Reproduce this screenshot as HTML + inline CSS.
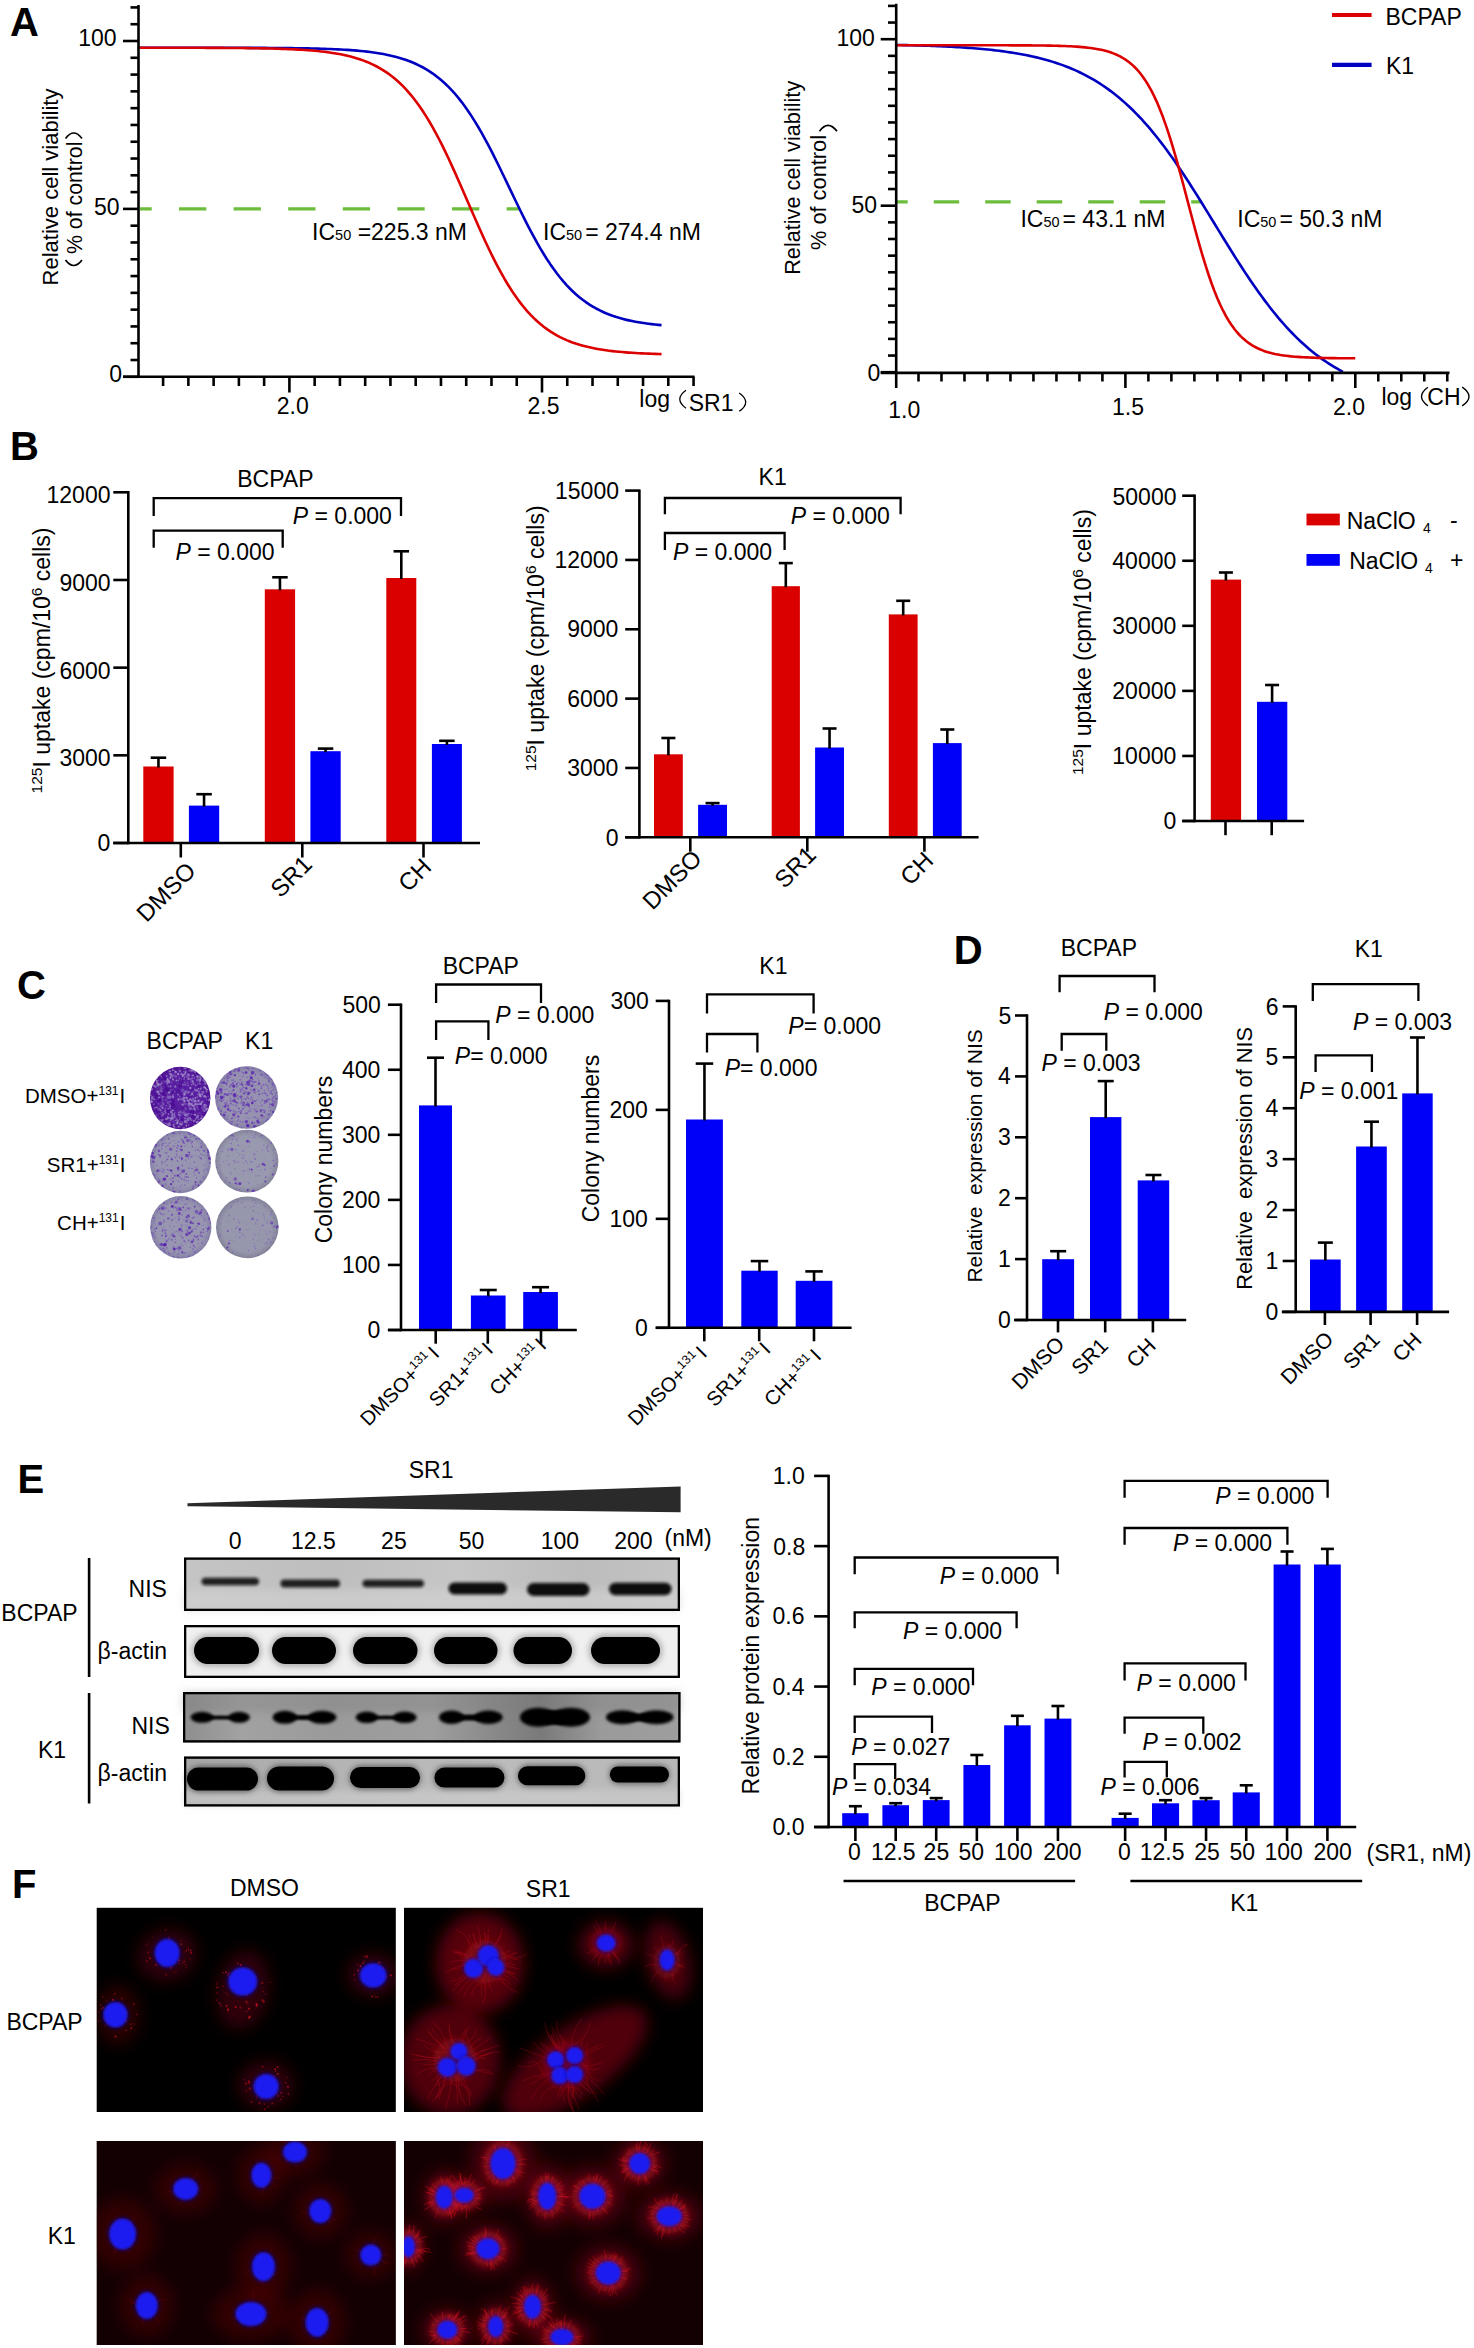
<!DOCTYPE html>
<html><head><meta charset="utf-8"><title>Figure</title>
<style>
html,body{margin:0;padding:0;background:#fff;}
body{width:1474px;height:2348px;overflow:hidden;}
svg{display:block;}
text{font-family:"Liberation Sans",sans-serif;fill:#000;white-space:pre;}
</style></head><body>
<svg width="1474" height="2348" viewBox="0 0 1474 2348" xml:space="preserve">
<rect x="0" y="0" width="1474" height="2348" fill="#fff"/>
<defs><clipPath id="pl1"><ellipse cx="180.2" cy="1098" rx="30.2" ry="31.2"/></clipPath><radialGradient id="rg1" cx="0.5" cy="0.5" r="0.5"><stop offset="0" stop-color="#5a1ea2"/><stop offset="0.8" stop-color="#5a1ea2"/><stop offset="1" stop-color="#4c1090"/></radialGradient><clipPath id="pl2"><ellipse cx="246.6" cy="1097.5" rx="31.5" ry="31.3"/></clipPath><radialGradient id="rg2" cx="0.5" cy="0.5" r="0.5"><stop offset="0" stop-color="#9692b0"/><stop offset="0.8" stop-color="#9692b0"/><stop offset="1" stop-color="#847ea6"/></radialGradient><clipPath id="pl3"><ellipse cx="180.4" cy="1162" rx="30.5" ry="31.2"/></clipPath><radialGradient id="rg3" cx="0.5" cy="0.5" r="0.5"><stop offset="0" stop-color="#9795b0"/><stop offset="0.8" stop-color="#9795b0"/><stop offset="1" stop-color="#8480a6"/></radialGradient><clipPath id="pl4"><ellipse cx="246.8" cy="1161.2" rx="31.6" ry="31.4"/></clipPath><radialGradient id="rg4" cx="0.5" cy="0.5" r="0.5"><stop offset="0" stop-color="#9898ae"/><stop offset="0.8" stop-color="#9898ae"/><stop offset="1" stop-color="#84849c"/></radialGradient><clipPath id="pl5"><ellipse cx="180.8" cy="1227.3" rx="30.6" ry="31.2"/></clipPath><radialGradient id="rg5" cx="0.5" cy="0.5" r="0.5"><stop offset="0" stop-color="#9795b0"/><stop offset="0.8" stop-color="#9795b0"/><stop offset="1" stop-color="#8480a6"/></radialGradient><clipPath id="pl6"><ellipse cx="247.3" cy="1227.3" rx="31.3" ry="30.9"/></clipPath><radialGradient id="rg6" cx="0.5" cy="0.5" r="0.5"><stop offset="0" stop-color="#9696ac"/><stop offset="0.8" stop-color="#9696ac"/><stop offset="1" stop-color="#828298"/></radialGradient><filter id="bl10" x="-30%" y="-80%" width="160%" height="260%"><feGaussianBlur stdDeviation="1.0"/></filter><filter id="bl12" x="-30%" y="-80%" width="160%" height="260%"><feGaussianBlur stdDeviation="1.2"/></filter><filter id="bl14" x="-30%" y="-80%" width="160%" height="260%"><feGaussianBlur stdDeviation="1.4"/></filter><filter id="bl15" x="-30%" y="-80%" width="160%" height="260%"><feGaussianBlur stdDeviation="1.5"/></filter><filter id="bl20" x="-30%" y="-80%" width="160%" height="260%"><feGaussianBlur stdDeviation="2.0"/></filter><filter id="bl25" x="-30%" y="-80%" width="160%" height="260%"><feGaussianBlur stdDeviation="2.5"/></filter><filter id="bl30" x="-30%" y="-80%" width="160%" height="260%"><feGaussianBlur stdDeviation="3.0"/></filter><filter id="bl40" x="-30%" y="-80%" width="160%" height="260%"><feGaussianBlur stdDeviation="4.0"/></filter><linearGradient id="g1841557" x1="0" y1="0" x2="1" y2="0"><stop offset="0" stop-color="#c4c4c4"/><stop offset="0.3" stop-color="#bebebe"/><stop offset="0.55" stop-color="#c6c6c6"/><stop offset="0.8" stop-color="#bcbcbc"/><stop offset="1" stop-color="#c4c4c4"/></linearGradient><linearGradient id="g1831692" x1="0" y1="0" x2="1" y2="0"><stop offset="0" stop-color="#8e8e8e"/><stop offset="0.12" stop-color="#a2a2a2"/><stop offset="0.3" stop-color="#9a9a9a"/><stop offset="0.5" stop-color="#9e9e9e"/><stop offset="0.62" stop-color="#8a8a8a"/><stop offset="0.72" stop-color="#7a7a7a"/><stop offset="0.84" stop-color="#9a9a9a"/><stop offset="1" stop-color="#9e9e9e"/></linearGradient><linearGradient id="g1841756" x1="0" y1="0" x2="1" y2="0"><stop offset="0" stop-color="#a8a8a8"/><stop offset="0.3" stop-color="#b4b4b4"/><stop offset="0.6" stop-color="#bcbcbc"/><stop offset="1" stop-color="#b8b8b8"/></linearGradient><filter id="bl80" x="-30%" y="-80%" width="160%" height="260%"><feGaussianBlur stdDeviation="8.0"/></filter><clipPath id="cl11"><rect x="96.7" y="1907.8" width="299.1" height="204.20000000000005"/></clipPath><clipPath id="cl12"><rect x="404" y="1907.8" width="299" height="204.20000000000005"/></clipPath><clipPath id="cl13"><rect x="96.7" y="2141" width="299.1" height="204"/></clipPath><clipPath id="cl14"><rect x="404" y="2141" width="299" height="204"/></clipPath></defs>
<text transform="translate(10.00,36.20)" style="font-size:40px;font-weight:bold">A</text>
<line x1="140.00" y1="208.80" x2="520.00" y2="208.80" stroke="#6cbd3c" stroke-width="3.2" stroke-dasharray="27.3 27.3" stroke-dashoffset="15.6"/>
<path d="M137.84,47.72 L141.11,47.72 L144.39,47.72 L147.66,47.72 L150.93,47.72 L154.21,47.72 L157.48,47.72 L160.75,47.72 L164.02,47.73 L167.30,47.73 L170.57,47.73 L173.84,47.73 L177.12,47.73 L180.39,47.73 L183.66,47.73 L186.94,47.73 L190.21,47.74 L193.48,47.74 L196.76,47.74 L200.03,47.74 L203.30,47.75 L206.57,47.75 L209.85,47.75 L213.12,47.76 L216.39,47.76 L219.67,47.77 L222.94,47.77 L226.21,47.78 L229.49,47.78 L232.76,47.79 L236.03,47.80 L239.30,47.80 L242.58,47.81 L245.85,47.82 L249.12,47.83 L252.40,47.85 L255.67,47.86 L258.94,47.87 L262.22,47.89 L265.49,47.91 L268.76,47.93 L272.04,47.95 L275.31,47.97 L278.58,48.00 L281.85,48.03 L285.13,48.06 L288.40,48.10 L291.67,48.14 L294.95,48.18 L298.22,48.23 L301.49,48.28 L304.77,48.34 L308.04,48.40 L311.31,48.47 L314.59,48.55 L317.86,48.63 L321.13,48.73 L324.40,48.83 L327.68,48.95 L330.95,49.07 L334.22,49.21 L337.50,49.36 L340.77,49.53 L344.04,49.71 L347.32,49.92 L350.59,50.14 L353.86,50.39 L357.14,50.66 L360.41,50.96 L363.68,51.29 L366.95,51.65 L370.23,52.05 L373.50,52.48 L376.77,52.96 L380.05,53.49 L383.32,54.07 L386.59,54.70 L389.87,55.40 L393.14,56.17 L396.41,57.01 L399.69,57.93 L402.96,58.93 L406.23,60.03 L409.50,61.24 L412.78,62.55 L416.05,63.98 L419.32,65.55 L422.60,67.25 L425.87,69.10 L429.14,71.11 L432.42,73.30 L435.69,75.66 L438.96,78.22 L442.23,80.98 L445.51,83.95 L448.78,87.15 L452.05,90.57 L455.33,94.24 L458.60,98.16 L461.87,102.33 L465.15,106.76 L468.42,111.44 L471.69,116.38 L474.97,121.57 L478.24,127.01 L481.51,132.68 L484.78,138.57 L488.06,144.67 L491.33,150.96 L494.60,157.41 L497.88,164.00 L501.15,170.70 L504.42,177.49 L507.70,184.32 L510.97,191.17 L514.24,198.00 L517.52,204.78 L520.79,211.49 L524.06,218.08 L527.33,224.54 L530.61,230.84 L533.88,236.95 L537.15,242.86 L540.43,248.54 L543.70,253.99 L546.97,259.19 L550.25,264.15 L553.52,268.84 L556.79,273.28 L560.07,277.46 L563.34,281.39 L566.61,285.07 L569.88,288.51 L573.16,291.72 L576.43,294.70 L579.70,297.47 L582.98,300.04 L586.25,302.41 L589.52,304.61 L592.80,306.63 L596.07,308.49 L599.34,310.20 L602.62,311.77 L605.89,313.21 L609.16,314.53 L612.43,315.74 L615.71,316.84 L618.98,317.85 L622.25,318.77 L625.53,319.62 L628.80,320.39 L632.07,321.09 L635.35,321.73 L638.62,322.31 L641.89,322.84 L645.16,323.32 L648.44,323.76 L651.71,324.16 L654.98,324.52 L658.26,324.85 L661.53,325.15" stroke="#0000c0" stroke-width="2.6" fill="none" stroke-linejoin="round"/>
<path d="M137.84,47.73 L141.11,47.73 L144.39,47.73 L147.66,47.74 L150.93,47.74 L154.21,47.74 L157.48,47.74 L160.75,47.75 L164.02,47.75 L167.30,47.75 L170.57,47.76 L173.84,47.76 L177.12,47.77 L180.39,47.77 L183.66,47.78 L186.94,47.78 L190.21,47.79 L193.48,47.80 L196.76,47.80 L200.03,47.81 L203.30,47.82 L206.57,47.84 L209.85,47.85 L213.12,47.86 L216.39,47.88 L219.67,47.89 L222.94,47.91 L226.21,47.93 L229.49,47.95 L232.76,47.98 L236.03,48.01 L239.30,48.04 L242.58,48.07 L245.85,48.11 L249.12,48.15 L252.40,48.19 L255.67,48.24 L258.94,48.29 L262.22,48.35 L265.49,48.42 L268.76,48.49 L272.04,48.57 L275.31,48.66 L278.58,48.76 L281.85,48.86 L285.13,48.98 L288.40,49.11 L291.67,49.25 L294.95,49.41 L298.22,49.59 L301.49,49.78 L304.77,49.99 L308.04,50.23 L311.31,50.48 L314.59,50.77 L317.86,51.08 L321.13,51.42 L324.40,51.80 L327.68,52.22 L330.95,52.68 L334.22,53.18 L337.50,53.73 L340.77,54.34 L344.04,55.01 L347.32,55.75 L350.59,56.55 L353.86,57.44 L357.14,58.41 L360.41,59.48 L363.68,60.64 L366.95,61.92 L370.23,63.31 L373.50,64.84 L376.77,66.50 L380.05,68.31 L383.32,70.29 L386.59,72.43 L389.87,74.77 L393.14,77.29 L396.41,80.03 L399.69,82.99 L402.96,86.19 L406.23,89.62 L409.50,93.32 L412.78,97.27 L416.05,101.50 L419.32,106.01 L422.60,110.81 L425.87,115.89 L429.14,121.25 L432.42,126.90 L435.69,132.82 L438.96,139.01 L442.23,145.45 L445.51,152.13 L448.78,159.02 L452.05,166.10 L455.33,173.34 L458.60,180.71 L461.87,188.18 L465.15,195.71 L468.42,203.27 L471.69,210.83 L474.97,218.33 L478.24,225.76 L481.51,233.06 L484.78,240.23 L488.06,247.21 L491.33,254.00 L494.60,260.55 L497.88,266.87 L501.15,272.92 L504.42,278.71 L507.70,284.21 L510.97,289.43 L514.24,294.37 L517.52,299.01 L520.79,303.38 L524.06,307.47 L527.33,311.29 L530.61,314.85 L533.88,318.16 L537.15,321.24 L540.43,324.08 L543.70,326.71 L546.97,329.14 L550.25,331.37 L553.52,333.43 L556.79,335.32 L560.07,337.06 L563.34,338.65 L566.61,340.10 L569.88,341.44 L573.16,342.66 L576.43,343.77 L579.70,344.78 L582.98,345.71 L586.25,346.56 L589.52,347.33 L592.80,348.03 L596.07,348.66 L599.34,349.24 L602.62,349.77 L605.89,350.25 L609.16,350.69 L612.43,351.09 L615.71,351.45 L618.98,351.77 L622.25,352.07 L625.53,352.34 L628.80,352.59 L632.07,352.81 L635.35,353.01 L638.62,353.19 L641.89,353.36 L645.16,353.51 L648.44,353.65 L651.71,353.77 L654.98,353.88 L658.26,353.98 L661.53,354.08" stroke="#dc0000" stroke-width="2.6" fill="none" stroke-linejoin="round"/>
<line x1="138.50" y1="5.00" x2="138.50" y2="378.10" stroke="#000" stroke-width="2.6" />
<line x1="123.00" y1="376.80" x2="694.50" y2="376.80" stroke="#000" stroke-width="2.6" />
<line x1="123.00" y1="376.80" x2="138.50" y2="376.80" stroke="#000" stroke-width="2.6" />
<line x1="130.50" y1="360.01" x2="138.50" y2="360.01" stroke="#000" stroke-width="2.6" />
<line x1="130.50" y1="343.22" x2="138.50" y2="343.22" stroke="#000" stroke-width="2.6" />
<line x1="130.50" y1="326.43" x2="138.50" y2="326.43" stroke="#000" stroke-width="2.6" />
<line x1="130.50" y1="309.64" x2="138.50" y2="309.64" stroke="#000" stroke-width="2.6" />
<line x1="130.50" y1="292.85" x2="138.50" y2="292.85" stroke="#000" stroke-width="2.6" />
<line x1="130.50" y1="276.06" x2="138.50" y2="276.06" stroke="#000" stroke-width="2.6" />
<line x1="130.50" y1="259.27" x2="138.50" y2="259.27" stroke="#000" stroke-width="2.6" />
<line x1="130.50" y1="242.48" x2="138.50" y2="242.48" stroke="#000" stroke-width="2.6" />
<line x1="130.50" y1="225.69" x2="138.50" y2="225.69" stroke="#000" stroke-width="2.6" />
<line x1="123.00" y1="208.90" x2="138.50" y2="208.90" stroke="#000" stroke-width="2.6" />
<line x1="130.50" y1="192.11" x2="138.50" y2="192.11" stroke="#000" stroke-width="2.6" />
<line x1="130.50" y1="175.32" x2="138.50" y2="175.32" stroke="#000" stroke-width="2.6" />
<line x1="130.50" y1="158.53" x2="138.50" y2="158.53" stroke="#000" stroke-width="2.6" />
<line x1="130.50" y1="141.74" x2="138.50" y2="141.74" stroke="#000" stroke-width="2.6" />
<line x1="130.50" y1="124.95" x2="138.50" y2="124.95" stroke="#000" stroke-width="2.6" />
<line x1="130.50" y1="108.16" x2="138.50" y2="108.16" stroke="#000" stroke-width="2.6" />
<line x1="130.50" y1="91.37" x2="138.50" y2="91.37" stroke="#000" stroke-width="2.6" />
<line x1="130.50" y1="74.58" x2="138.50" y2="74.58" stroke="#000" stroke-width="2.6" />
<line x1="130.50" y1="57.79" x2="138.50" y2="57.79" stroke="#000" stroke-width="2.6" />
<line x1="123.00" y1="41.00" x2="138.50" y2="41.00" stroke="#000" stroke-width="2.6" />
<line x1="130.50" y1="24.21" x2="138.50" y2="24.21" stroke="#000" stroke-width="2.6" />
<line x1="130.50" y1="7.42" x2="138.50" y2="7.42" stroke="#000" stroke-width="2.6" />
<line x1="163.10" y1="376.80" x2="163.10" y2="386.00" stroke="#000" stroke-width="2.6" />
<line x1="188.36" y1="376.80" x2="188.36" y2="386.00" stroke="#000" stroke-width="2.6" />
<line x1="213.62" y1="376.80" x2="213.62" y2="386.00" stroke="#000" stroke-width="2.6" />
<line x1="238.88" y1="376.80" x2="238.88" y2="386.00" stroke="#000" stroke-width="2.6" />
<line x1="264.14" y1="376.80" x2="264.14" y2="386.00" stroke="#000" stroke-width="2.6" />
<line x1="289.40" y1="376.80" x2="289.40" y2="392.50" stroke="#000" stroke-width="2.6" />
<line x1="314.66" y1="376.80" x2="314.66" y2="386.00" stroke="#000" stroke-width="2.6" />
<line x1="339.92" y1="376.80" x2="339.92" y2="386.00" stroke="#000" stroke-width="2.6" />
<line x1="365.18" y1="376.80" x2="365.18" y2="386.00" stroke="#000" stroke-width="2.6" />
<line x1="390.44" y1="376.80" x2="390.44" y2="386.00" stroke="#000" stroke-width="2.6" />
<line x1="415.70" y1="376.80" x2="415.70" y2="386.00" stroke="#000" stroke-width="2.6" />
<line x1="440.96" y1="376.80" x2="440.96" y2="386.00" stroke="#000" stroke-width="2.6" />
<line x1="466.22" y1="376.80" x2="466.22" y2="386.00" stroke="#000" stroke-width="2.6" />
<line x1="491.48" y1="376.80" x2="491.48" y2="386.00" stroke="#000" stroke-width="2.6" />
<line x1="516.74" y1="376.80" x2="516.74" y2="386.00" stroke="#000" stroke-width="2.6" />
<line x1="542.00" y1="376.80" x2="542.00" y2="392.50" stroke="#000" stroke-width="2.6" />
<line x1="567.26" y1="376.80" x2="567.26" y2="386.00" stroke="#000" stroke-width="2.6" />
<line x1="592.52" y1="376.80" x2="592.52" y2="386.00" stroke="#000" stroke-width="2.6" />
<line x1="617.78" y1="376.80" x2="617.78" y2="386.00" stroke="#000" stroke-width="2.6" />
<line x1="643.04" y1="376.80" x2="643.04" y2="386.00" stroke="#000" stroke-width="2.6" />
<line x1="668.30" y1="376.80" x2="668.30" y2="386.00" stroke="#000" stroke-width="2.6" />
<line x1="693.56" y1="376.80" x2="693.56" y2="386.00" stroke="#000" stroke-width="2.6" />
<text transform="translate(116.50,45.90)" style="font-size:23px" text-anchor="end">100</text>
<text transform="translate(119.60,214.50)" style="font-size:23px" text-anchor="end">50</text>
<text transform="translate(122.10,382.00)" style="font-size:23px" text-anchor="end">0</text>
<text transform="translate(292.80,413.50)" style="font-size:23px" text-anchor="middle">2.0</text>
<text transform="translate(543.50,413.50)" style="font-size:23px" text-anchor="middle">2.5</text>
<text transform="translate(639.30,407.40)" style="font-size:23px">log</text>
<path d="M686,390.3 Q673.6,399.2 686,408.2" stroke="#000" stroke-width="1.3" fill="none" />
<text transform="translate(688.70,411.00)" style="font-size:23px">SR1</text>
<path d="M739.2,393 Q752.2,402.2 739.2,411.3" stroke="#000" stroke-width="1.3" fill="none" />
<text transform="translate(312.10,239.80)" style="font-size:23px">IC<tspan style="font-size:14.5px">50</tspan> =225.3 nM</text>
<text transform="translate(543.00,239.80)" style="font-size:23px">IC<tspan style="font-size:14.5px">50</tspan><tspan dx="3">= 274.4 nM</tspan></text>
<text transform="translate(58.10,187.00) rotate(-90)" style="font-size:22px" text-anchor="middle">Relative cell viability</text>
<text transform="translate(81.60,197.80) rotate(-90)" style="font-size:21.3px" text-anchor="middle">% of control</text>
<path d="M65.5,260 Q73.7,271 82,260" stroke="#000" stroke-width="1.7" fill="none" />
<path d="M65.5,138.5 Q73.7,127.5 82,138.5" stroke="#000" stroke-width="1.7" fill="none" />
<line x1="896.00" y1="201.80" x2="1201.50" y2="201.80" stroke="#6cbd3c" stroke-width="3.2" stroke-dasharray="25.5 26" stroke-dashoffset="13.8"/>
<path d="M895.50,44.90 L898.30,44.96 L901.09,45.02 L903.89,45.08 L906.68,45.14 L909.48,45.21 L912.28,45.28 L915.07,45.36 L917.87,45.44 L920.67,45.52 L923.46,45.61 L926.26,45.71 L929.05,45.80 L931.85,45.91 L934.65,46.02 L937.44,46.13 L940.24,46.25 L943.03,46.38 L945.83,46.51 L948.63,46.65 L951.42,46.79 L954.22,46.95 L957.02,47.11 L959.81,47.28 L962.61,47.46 L965.40,47.65 L968.20,47.84 L971.00,48.05 L973.79,48.27 L976.59,48.50 L979.38,48.74 L982.18,48.99 L984.98,49.26 L987.77,49.54 L990.57,49.83 L993.37,50.14 L996.16,50.46 L998.96,50.80 L1001.75,51.16 L1004.55,51.54 L1007.35,51.93 L1010.14,52.34 L1012.94,52.78 L1015.73,53.23 L1018.53,53.71 L1021.33,54.21 L1024.12,54.74 L1026.92,55.29 L1029.72,55.87 L1032.51,56.48 L1035.31,57.11 L1038.10,57.78 L1040.90,58.48 L1043.70,59.21 L1046.49,59.98 L1049.29,60.78 L1052.08,61.62 L1054.88,62.50 L1057.68,63.42 L1060.47,64.39 L1063.27,65.40 L1066.07,66.45 L1068.86,67.56 L1071.66,68.71 L1074.45,69.91 L1077.25,71.17 L1080.05,72.49 L1082.84,73.86 L1085.64,75.29 L1088.43,76.78 L1091.23,78.34 L1094.03,79.96 L1096.82,81.64 L1099.62,83.40 L1102.42,85.23 L1105.21,87.13 L1108.01,89.11 L1110.80,91.16 L1113.60,93.29 L1116.40,95.50 L1119.19,97.79 L1121.99,100.17 L1124.79,102.63 L1127.58,105.17 L1130.38,107.81 L1133.17,110.53 L1135.97,113.34 L1138.77,116.23 L1141.56,119.22 L1144.36,122.30 L1147.15,125.46 L1149.95,128.72 L1152.75,132.06 L1155.54,135.50 L1158.34,139.01 L1161.14,142.62 L1163.93,146.30 L1166.73,150.07 L1169.52,153.92 L1172.32,157.85 L1175.12,161.85 L1177.91,165.91 L1180.71,170.05 L1183.50,174.25 L1186.30,178.51 L1189.10,182.82 L1191.89,187.18 L1194.69,191.59 L1197.49,196.04 L1200.28,200.52 L1203.08,205.04 L1205.87,209.57 L1208.67,214.13 L1211.47,218.70 L1214.26,223.27 L1217.06,227.85 L1219.85,232.41 L1222.65,236.97 L1225.45,241.51 L1228.24,246.03 L1231.04,250.52 L1233.84,254.97 L1236.63,259.39 L1239.43,263.76 L1242.22,268.08 L1245.02,272.35 L1247.82,276.56 L1250.61,280.71 L1253.41,284.79 L1256.20,288.80 L1259.00,292.74 L1261.80,296.60 L1264.59,300.39 L1267.39,304.09 L1270.19,307.71 L1272.98,311.24 L1275.78,314.69 L1278.57,318.05 L1281.37,321.32 L1284.17,324.50 L1286.96,327.59 L1289.76,330.60 L1292.55,333.51 L1295.35,336.33 L1298.15,339.07 L1300.94,341.72 L1303.74,344.28 L1306.54,346.75 L1309.33,349.14 L1312.13,351.45 L1314.92,353.68 L1317.72,355.82 L1320.52,357.89 L1323.31,359.88 L1326.11,361.79 L1328.90,363.63 L1331.70,365.40 L1334.50,367.10 L1337.29,368.73 L1340.09,370.30 L1342.89,371.80" stroke="#0000c0" stroke-width="2.6" fill="none" stroke-linejoin="round"/>
<path d="M895.50,45.27 L898.37,45.27 L901.25,45.27 L904.12,45.27 L907.00,45.27 L909.87,45.27 L912.74,45.27 L915.62,45.27 L918.49,45.27 L921.36,45.27 L924.24,45.27 L927.11,45.27 L929.99,45.27 L932.86,45.27 L935.73,45.27 L938.61,45.27 L941.48,45.27 L944.35,45.27 L947.23,45.27 L950.10,45.27 L952.98,45.27 L955.85,45.27 L958.72,45.28 L961.60,45.28 L964.47,45.28 L967.34,45.28 L970.22,45.28 L973.09,45.28 L975.97,45.28 L978.84,45.28 L981.71,45.28 L984.59,45.29 L987.46,45.29 L990.33,45.29 L993.21,45.29 L996.08,45.30 L998.96,45.30 L1001.83,45.31 L1004.70,45.31 L1007.58,45.32 L1010.45,45.33 L1013.32,45.33 L1016.20,45.34 L1019.07,45.36 L1021.94,45.37 L1024.82,45.38 L1027.69,45.40 L1030.57,45.42 L1033.44,45.44 L1036.31,45.47 L1039.19,45.50 L1042.06,45.53 L1044.93,45.57 L1047.81,45.61 L1050.68,45.66 L1053.56,45.72 L1056.43,45.79 L1059.30,45.87 L1062.18,45.96 L1065.05,46.06 L1067.92,46.18 L1070.80,46.32 L1073.67,46.47 L1076.55,46.65 L1079.42,46.86 L1082.29,47.10 L1085.17,47.37 L1088.04,47.68 L1090.91,48.04 L1093.79,48.45 L1096.66,48.92 L1099.54,49.46 L1102.41,50.08 L1105.28,50.80 L1108.16,51.61 L1111.03,52.54 L1113.90,53.60 L1116.78,54.81 L1119.65,56.20 L1122.53,57.77 L1125.40,59.56 L1128.27,61.60 L1131.15,63.90 L1134.02,66.51 L1136.89,69.46 L1139.77,72.77 L1142.64,76.49 L1145.52,80.64 L1148.39,85.28 L1151.26,90.42 L1154.14,96.10 L1157.01,102.34 L1159.88,109.17 L1162.76,116.58 L1165.63,124.57 L1168.51,133.14 L1171.38,142.25 L1174.25,151.86 L1177.13,161.90 L1180.00,172.31 L1182.88,183.00 L1185.75,193.87 L1188.62,204.81 L1191.50,215.73 L1194.37,226.51 L1197.24,237.06 L1200.12,247.28 L1202.99,257.09 L1205.87,266.44 L1208.74,275.25 L1211.61,283.51 L1214.49,291.19 L1217.36,298.28 L1220.23,304.79 L1223.11,310.72 L1225.98,316.11 L1228.86,320.97 L1231.73,325.34 L1234.60,329.25 L1237.48,332.75 L1240.35,335.85 L1243.22,338.61 L1246.10,341.05 L1248.97,343.21 L1251.85,345.10 L1254.72,346.78 L1257.59,348.24 L1260.47,349.53 L1263.34,350.66 L1266.21,351.65 L1269.09,352.51 L1271.96,353.27 L1274.84,353.93 L1277.71,354.50 L1280.58,355.01 L1283.46,355.44 L1286.33,355.83 L1289.20,356.16 L1292.08,356.45 L1294.95,356.70 L1297.83,356.92 L1300.70,357.11 L1303.57,357.28 L1306.45,357.42 L1309.32,357.55 L1312.19,357.66 L1315.07,357.76 L1317.94,357.84 L1320.82,357.91 L1323.69,357.97 L1326.56,358.03 L1329.44,358.08 L1332.31,358.12 L1335.18,358.15 L1338.06,358.19 L1340.93,358.21 L1343.81,358.24 L1346.68,358.26 L1349.55,358.27 L1352.43,358.29 L1355.30,358.30" stroke="#dc0000" stroke-width="2.6" fill="none" stroke-linejoin="round"/>
<line x1="896.20" y1="3.80" x2="896.20" y2="374.20" stroke="#000" stroke-width="2.6" />
<line x1="880.70" y1="372.90" x2="1449.50" y2="372.90" stroke="#000" stroke-width="2.6" />
<line x1="880.70" y1="372.20" x2="896.20" y2="372.20" stroke="#000" stroke-width="2.6" />
<line x1="888.00" y1="355.55" x2="896.20" y2="355.55" stroke="#000" stroke-width="2.6" />
<line x1="888.00" y1="338.90" x2="896.20" y2="338.90" stroke="#000" stroke-width="2.6" />
<line x1="888.00" y1="322.25" x2="896.20" y2="322.25" stroke="#000" stroke-width="2.6" />
<line x1="888.00" y1="305.60" x2="896.20" y2="305.60" stroke="#000" stroke-width="2.6" />
<line x1="888.00" y1="288.95" x2="896.20" y2="288.95" stroke="#000" stroke-width="2.6" />
<line x1="888.00" y1="272.30" x2="896.20" y2="272.30" stroke="#000" stroke-width="2.6" />
<line x1="888.00" y1="255.65" x2="896.20" y2="255.65" stroke="#000" stroke-width="2.6" />
<line x1="888.00" y1="239.00" x2="896.20" y2="239.00" stroke="#000" stroke-width="2.6" />
<line x1="888.00" y1="222.35" x2="896.20" y2="222.35" stroke="#000" stroke-width="2.6" />
<line x1="880.70" y1="205.70" x2="896.20" y2="205.70" stroke="#000" stroke-width="2.6" />
<line x1="888.00" y1="189.05" x2="896.20" y2="189.05" stroke="#000" stroke-width="2.6" />
<line x1="888.00" y1="172.40" x2="896.20" y2="172.40" stroke="#000" stroke-width="2.6" />
<line x1="888.00" y1="155.75" x2="896.20" y2="155.75" stroke="#000" stroke-width="2.6" />
<line x1="888.00" y1="139.10" x2="896.20" y2="139.10" stroke="#000" stroke-width="2.6" />
<line x1="888.00" y1="122.45" x2="896.20" y2="122.45" stroke="#000" stroke-width="2.6" />
<line x1="888.00" y1="105.80" x2="896.20" y2="105.80" stroke="#000" stroke-width="2.6" />
<line x1="888.00" y1="89.15" x2="896.20" y2="89.15" stroke="#000" stroke-width="2.6" />
<line x1="888.00" y1="72.50" x2="896.20" y2="72.50" stroke="#000" stroke-width="2.6" />
<line x1="888.00" y1="55.85" x2="896.20" y2="55.85" stroke="#000" stroke-width="2.6" />
<line x1="880.70" y1="39.20" x2="896.20" y2="39.20" stroke="#000" stroke-width="2.6" />
<line x1="888.00" y1="22.55" x2="896.20" y2="22.55" stroke="#000" stroke-width="2.6" />
<line x1="888.00" y1="5.90" x2="896.20" y2="5.90" stroke="#000" stroke-width="2.6" />
<line x1="918.49" y1="372.90" x2="918.49" y2="381.50" stroke="#000" stroke-width="2.6" />
<line x1="941.48" y1="372.90" x2="941.48" y2="381.50" stroke="#000" stroke-width="2.6" />
<line x1="964.47" y1="372.90" x2="964.47" y2="381.50" stroke="#000" stroke-width="2.6" />
<line x1="987.46" y1="372.90" x2="987.46" y2="381.50" stroke="#000" stroke-width="2.6" />
<line x1="1010.45" y1="372.90" x2="1010.45" y2="381.50" stroke="#000" stroke-width="2.6" />
<line x1="1033.44" y1="372.90" x2="1033.44" y2="381.50" stroke="#000" stroke-width="2.6" />
<line x1="1056.43" y1="372.90" x2="1056.43" y2="381.50" stroke="#000" stroke-width="2.6" />
<line x1="1079.42" y1="372.90" x2="1079.42" y2="381.50" stroke="#000" stroke-width="2.6" />
<line x1="1102.41" y1="372.90" x2="1102.41" y2="381.50" stroke="#000" stroke-width="2.6" />
<line x1="1125.40" y1="372.90" x2="1125.40" y2="388.00" stroke="#000" stroke-width="2.6" />
<line x1="1148.39" y1="372.90" x2="1148.39" y2="381.50" stroke="#000" stroke-width="2.6" />
<line x1="1171.38" y1="372.90" x2="1171.38" y2="381.50" stroke="#000" stroke-width="2.6" />
<line x1="1194.37" y1="372.90" x2="1194.37" y2="381.50" stroke="#000" stroke-width="2.6" />
<line x1="1217.36" y1="372.90" x2="1217.36" y2="381.50" stroke="#000" stroke-width="2.6" />
<line x1="1240.35" y1="372.90" x2="1240.35" y2="381.50" stroke="#000" stroke-width="2.6" />
<line x1="1263.34" y1="372.90" x2="1263.34" y2="381.50" stroke="#000" stroke-width="2.6" />
<line x1="1286.33" y1="372.90" x2="1286.33" y2="381.50" stroke="#000" stroke-width="2.6" />
<line x1="1309.32" y1="372.90" x2="1309.32" y2="381.50" stroke="#000" stroke-width="2.6" />
<line x1="1332.31" y1="372.90" x2="1332.31" y2="381.50" stroke="#000" stroke-width="2.6" />
<line x1="1355.30" y1="372.90" x2="1355.30" y2="388.00" stroke="#000" stroke-width="2.6" />
<line x1="1378.29" y1="372.90" x2="1378.29" y2="381.50" stroke="#000" stroke-width="2.6" />
<line x1="1401.28" y1="372.90" x2="1401.28" y2="381.50" stroke="#000" stroke-width="2.6" />
<line x1="1424.27" y1="372.90" x2="1424.27" y2="381.50" stroke="#000" stroke-width="2.6" />
<line x1="1447.26" y1="372.90" x2="1447.26" y2="381.50" stroke="#000" stroke-width="2.6" />
<line x1="896.20" y1="372.90" x2="896.20" y2="388.00" stroke="#000" stroke-width="2.6" />
<text transform="translate(874.80,45.80)" style="font-size:23px" text-anchor="end">100</text>
<text transform="translate(877.00,213.10)" style="font-size:23px" text-anchor="end">50</text>
<text transform="translate(880.30,380.90)" style="font-size:23px" text-anchor="end">0</text>
<text transform="translate(904.30,417.50)" style="font-size:23px" text-anchor="middle">1.0</text>
<text transform="translate(1128.00,414.90)" style="font-size:23px" text-anchor="middle">1.5</text>
<text transform="translate(1349.00,414.90)" style="font-size:23px" text-anchor="middle">2.0</text>
<text transform="translate(1381.40,405.20)" style="font-size:23px">log</text>
<path d="M1427.9,387.2 Q1415.1,396.5 1427.9,405.9" stroke="#000" stroke-width="1.4" fill="none" />
<text transform="translate(1427.30,404.60)" style="font-size:23px">CH</text>
<path d="M1462.2,387.2 Q1475.8,396.5 1462.2,405.9" stroke="#000" stroke-width="1.4" fill="none" />
<text transform="translate(1020.40,226.50)" style="font-size:23px">IC<tspan style="font-size:14.5px">50</tspan><tspan dx="3">= 43.1 nM</tspan></text>
<text transform="translate(1237.30,226.50)" style="font-size:23px">IC<tspan style="font-size:14.5px">50</tspan><tspan dx="3">= 50.3 nM</tspan></text>
<text transform="translate(800.40,177.80) rotate(-90)" style="font-size:21.7px" text-anchor="middle">Relative cell viability</text>
<text transform="translate(826.00,192.50) rotate(-90)" style="font-size:21.8px" text-anchor="middle">% of control</text>
<path d="M819.5,131.3 Q828,119.5 837,131.3" stroke="#000" stroke-width="1.7" fill="none" />
<line x1="1332.00" y1="15.00" x2="1371.60" y2="15.00" stroke="#dc0000" stroke-width="4.2" />
<line x1="1332.00" y1="64.80" x2="1371.60" y2="64.80" stroke="#0000c0" stroke-width="4.2" />
<text transform="translate(1385.50,25.40)" style="font-size:23px">BCPAP</text>
<text transform="translate(1386.00,74.40)" style="font-size:23px">K1</text>
<text transform="translate(9.90,460.00)" style="font-size:40px;font-weight:bold">B</text>
<rect x="143.30" y="766.50" width="30.30" height="76.50" fill="#da0000" />
<line x1="158.45" y1="767.50" x2="158.45" y2="757.70" stroke="#000" stroke-width="2.6" />
<line x1="150.70" y1="757.70" x2="166.20" y2="757.70" stroke="#000" stroke-width="2.6" />
<rect x="188.90" y="805.60" width="30.30" height="37.40" fill="#0000f8" />
<line x1="204.05" y1="806.60" x2="204.05" y2="794.20" stroke="#000" stroke-width="2.6" />
<line x1="196.30" y1="794.20" x2="211.80" y2="794.20" stroke="#000" stroke-width="2.6" />
<rect x="264.80" y="589.30" width="30.30" height="253.70" fill="#da0000" />
<line x1="279.95" y1="590.30" x2="279.95" y2="577.30" stroke="#000" stroke-width="2.6" />
<line x1="272.20" y1="577.30" x2="287.70" y2="577.30" stroke="#000" stroke-width="2.6" />
<rect x="310.40" y="751.20" width="30.30" height="91.80" fill="#0000f8" />
<line x1="325.55" y1="752.20" x2="325.55" y2="748.60" stroke="#000" stroke-width="2.6" />
<line x1="317.80" y1="748.60" x2="333.30" y2="748.60" stroke="#000" stroke-width="2.6" />
<rect x="386.30" y="578.00" width="30.00" height="265.00" fill="#da0000" />
<line x1="401.30" y1="579.00" x2="401.30" y2="551.30" stroke="#000" stroke-width="2.6" />
<line x1="393.55" y1="551.30" x2="409.05" y2="551.30" stroke="#000" stroke-width="2.6" />
<rect x="431.90" y="744.00" width="30.00" height="99.00" fill="#0000f8" />
<line x1="446.90" y1="745.00" x2="446.90" y2="740.80" stroke="#000" stroke-width="2.6" />
<line x1="439.15" y1="740.80" x2="454.65" y2="740.80" stroke="#000" stroke-width="2.6" />
<line x1="128.30" y1="491.10" x2="128.30" y2="844.20" stroke="#000" stroke-width="2.6" />
<line x1="113.30" y1="843.00" x2="128.30" y2="843.00" stroke="#000" stroke-width="2.6" />
<line x1="113.30" y1="755.33" x2="128.30" y2="755.33" stroke="#000" stroke-width="2.6" />
<line x1="113.30" y1="667.65" x2="128.30" y2="667.65" stroke="#000" stroke-width="2.6" />
<line x1="113.30" y1="579.98" x2="128.30" y2="579.98" stroke="#000" stroke-width="2.6" />
<line x1="113.30" y1="492.30" x2="128.30" y2="492.30" stroke="#000" stroke-width="2.6" />
<line x1="113.30" y1="843.00" x2="480.00" y2="843.00" stroke="#000" stroke-width="2.6" />
<line x1="180.80" y1="843.00" x2="180.80" y2="857.50" stroke="#000" stroke-width="2.6" />
<line x1="302.30" y1="843.00" x2="302.30" y2="857.50" stroke="#000" stroke-width="2.6" />
<line x1="423.50" y1="843.00" x2="423.50" y2="857.50" stroke="#000" stroke-width="2.6" />
<text transform="translate(110.50,503.10)" style="font-size:23px" text-anchor="end">12000</text>
<text transform="translate(110.60,591.38)" style="font-size:23px" text-anchor="end">9000</text>
<text transform="translate(110.60,678.65)" style="font-size:23px" text-anchor="end">6000</text>
<text transform="translate(110.60,766.33)" style="font-size:23px" text-anchor="end">3000</text>
<text transform="translate(110.30,851.00)" style="font-size:23px" text-anchor="end">0</text>
<text transform="translate(275.40,486.70)" style="font-size:23px" text-anchor="middle">BCPAP</text>
<path d="M153.70,516.00 L153.70,498.20 L401.00,498.20 L401.00,516.00" stroke="#000" stroke-width="2.3" fill="none" stroke-linejoin="miter"/>
<path d="M153.70,547.70 L153.70,530.70 L282.70,530.70 L282.70,547.70" stroke="#000" stroke-width="2.3" fill="none" stroke-linejoin="miter"/>
<text transform="translate(292.80,524.00)" style="font-size:23px"><tspan style="font-style:italic">P</tspan> = 0.000</text>
<text transform="translate(175.50,560.00)" style="font-size:23px"><tspan style="font-style:italic">P</tspan> = 0.000</text>
<text transform="translate(197.30,872.30) rotate(-45)" style="font-size:24px" text-anchor="end">DMSO</text>
<text transform="translate(313.40,865.80) rotate(-45)" style="font-size:24px" text-anchor="end">SR1</text>
<text transform="translate(432.80,868.50) rotate(-45)" style="font-size:24px" text-anchor="end">CH</text>
<text transform="translate(50.00,793.40) rotate(-90)" style="font-size:23px"><tspan style="font-size:15.5px" dy="-8.5">125</tspan><tspan dy="8.5">I uptake (cpm/10</tspan><tspan style="font-size:15.5px" dy="-8.5">6</tspan><tspan dy="8.5"> cells)</tspan></text>
<rect x="654.00" y="754.30" width="28.80" height="83.00" fill="#da0000" />
<line x1="668.40" y1="755.30" x2="668.40" y2="738.00" stroke="#000" stroke-width="2.6" />
<line x1="661.40" y1="738.00" x2="675.40" y2="738.00" stroke="#000" stroke-width="2.6" />
<rect x="698.10" y="804.80" width="28.90" height="32.50" fill="#0000f8" />
<line x1="712.55" y1="805.80" x2="712.55" y2="803.10" stroke="#000" stroke-width="2.6" />
<line x1="705.55" y1="803.10" x2="719.55" y2="803.10" stroke="#000" stroke-width="2.6" />
<rect x="771.70" y="586.20" width="28.20" height="251.10" fill="#da0000" />
<line x1="785.80" y1="587.20" x2="785.80" y2="563.10" stroke="#000" stroke-width="2.6" />
<line x1="778.80" y1="563.10" x2="792.80" y2="563.10" stroke="#000" stroke-width="2.6" />
<rect x="815.10" y="747.50" width="28.90" height="89.80" fill="#0000f8" />
<line x1="829.55" y1="748.50" x2="829.55" y2="728.50" stroke="#000" stroke-width="2.6" />
<line x1="822.55" y1="728.50" x2="836.55" y2="728.50" stroke="#000" stroke-width="2.6" />
<rect x="888.80" y="614.40" width="28.80" height="222.90" fill="#da0000" />
<line x1="903.20" y1="615.40" x2="903.20" y2="600.80" stroke="#000" stroke-width="2.6" />
<line x1="896.20" y1="600.80" x2="910.20" y2="600.80" stroke="#000" stroke-width="2.6" />
<rect x="932.90" y="743.10" width="28.80" height="94.20" fill="#0000f8" />
<line x1="947.30" y1="744.10" x2="947.30" y2="729.50" stroke="#000" stroke-width="2.6" />
<line x1="940.30" y1="729.50" x2="954.30" y2="729.50" stroke="#000" stroke-width="2.6" />
<line x1="639.40" y1="489.40" x2="639.40" y2="838.50" stroke="#000" stroke-width="2.6" />
<line x1="625.20" y1="837.30" x2="639.40" y2="837.30" stroke="#000" stroke-width="2.6" />
<line x1="625.20" y1="767.96" x2="639.40" y2="767.96" stroke="#000" stroke-width="2.6" />
<line x1="625.20" y1="698.62" x2="639.40" y2="698.62" stroke="#000" stroke-width="2.6" />
<line x1="625.20" y1="629.28" x2="639.40" y2="629.28" stroke="#000" stroke-width="2.6" />
<line x1="625.20" y1="559.94" x2="639.40" y2="559.94" stroke="#000" stroke-width="2.6" />
<line x1="625.20" y1="490.60" x2="639.40" y2="490.60" stroke="#000" stroke-width="2.6" />
<line x1="625.20" y1="837.30" x2="978.60" y2="837.30" stroke="#000" stroke-width="2.6" />
<line x1="690.30" y1="837.30" x2="690.30" y2="851.70" stroke="#000" stroke-width="2.6" />
<line x1="807.30" y1="837.30" x2="807.30" y2="851.70" stroke="#000" stroke-width="2.6" />
<line x1="924.40" y1="837.30" x2="924.40" y2="851.70" stroke="#000" stroke-width="2.6" />
<text transform="translate(618.50,846.10)" style="font-size:23px" text-anchor="end">0</text>
<text transform="translate(618.40,775.96)" style="font-size:23px" text-anchor="end">3000</text>
<text transform="translate(618.40,706.62)" style="font-size:23px" text-anchor="end">6000</text>
<text transform="translate(618.40,637.28)" style="font-size:23px" text-anchor="end">9000</text>
<text transform="translate(618.40,567.94)" style="font-size:23px" text-anchor="end">12000</text>
<text transform="translate(619.00,499.20)" style="font-size:23px" text-anchor="end">15000</text>
<text transform="translate(772.60,485.00)" style="font-size:23px" text-anchor="middle">K1</text>
<path d="M664.90,514.30 L664.90,498.00 L900.60,498.00 L900.60,514.30" stroke="#000" stroke-width="2.3" fill="none" stroke-linejoin="miter"/>
<path d="M664.90,550.00 L664.90,533.00 L784.60,533.00 L784.60,550.00" stroke="#000" stroke-width="2.3" fill="none" stroke-linejoin="miter"/>
<text transform="translate(790.80,523.50)" style="font-size:23px"><tspan style="font-style:italic">P</tspan> = 0.000</text>
<text transform="translate(673.00,560.00)" style="font-size:23px"><tspan style="font-style:italic">P</tspan> = 0.000</text>
<text transform="translate(703.30,860.00) rotate(-45)" style="font-size:24px" text-anchor="end">DMSO</text>
<text transform="translate(817.40,856.40) rotate(-45)" style="font-size:24px" text-anchor="end">SR1</text>
<text transform="translate(934.80,862.00) rotate(-45)" style="font-size:24px" text-anchor="end">CH</text>
<text transform="translate(544.00,771.30) rotate(-90)" style="font-size:23px"><tspan style="font-size:15.5px" dy="-8.5">125</tspan><tspan dy="8.5">I uptake (cpm/10</tspan><tspan style="font-size:15.5px" dy="-8.5">6</tspan><tspan dy="8.5"> cells)</tspan></text>
<rect x="1210.80" y="579.60" width="30.30" height="241.40" fill="#da0000" />
<line x1="1225.90" y1="580.60" x2="1225.90" y2="572.50" stroke="#000" stroke-width="2.6" />
<line x1="1218.90" y1="572.50" x2="1232.90" y2="572.50" stroke="#000" stroke-width="2.6" />
<rect x="1257.00" y="701.80" width="30.30" height="119.20" fill="#0000f8" />
<line x1="1272.10" y1="702.80" x2="1272.10" y2="685.00" stroke="#000" stroke-width="2.6" />
<line x1="1265.10" y1="685.00" x2="1279.10" y2="685.00" stroke="#000" stroke-width="2.6" />
<line x1="1194.60" y1="494.50" x2="1194.60" y2="822.20" stroke="#000" stroke-width="2.6" />
<line x1="1182.20" y1="821.00" x2="1194.60" y2="821.00" stroke="#000" stroke-width="2.6" />
<line x1="1182.20" y1="755.94" x2="1194.60" y2="755.94" stroke="#000" stroke-width="2.6" />
<line x1="1182.20" y1="690.88" x2="1194.60" y2="690.88" stroke="#000" stroke-width="2.6" />
<line x1="1182.20" y1="625.82" x2="1194.60" y2="625.82" stroke="#000" stroke-width="2.6" />
<line x1="1182.20" y1="560.76" x2="1194.60" y2="560.76" stroke="#000" stroke-width="2.6" />
<line x1="1182.20" y1="495.70" x2="1194.60" y2="495.70" stroke="#000" stroke-width="2.6" />
<line x1="1182.20" y1="821.00" x2="1304.10" y2="821.00" stroke="#000" stroke-width="2.6" />
<line x1="1225.50" y1="821.00" x2="1225.50" y2="835.20" stroke="#000" stroke-width="2.6" />
<line x1="1271.70" y1="821.00" x2="1271.70" y2="835.20" stroke="#000" stroke-width="2.6" />
<text transform="translate(1176.30,829.00)" style="font-size:23px" text-anchor="end">0</text>
<text transform="translate(1176.30,763.94)" style="font-size:23px" text-anchor="end">10000</text>
<text transform="translate(1176.30,698.88)" style="font-size:23px" text-anchor="end">20000</text>
<text transform="translate(1176.30,633.82)" style="font-size:23px" text-anchor="end">30000</text>
<text transform="translate(1176.30,568.76)" style="font-size:23px" text-anchor="end">40000</text>
<text transform="translate(1176.50,504.90)" style="font-size:23px" text-anchor="end">50000</text>
<text transform="translate(1091.00,775.00) rotate(-90)" style="font-size:23px"><tspan style="font-size:15.5px" dy="-8.5">125</tspan><tspan dy="8.5">I uptake (cpm/10</tspan><tspan style="font-size:15.5px" dy="-8.5">6</tspan><tspan dy="8.5"> cells)</tspan></text>
<rect x="1306.50" y="513.60" width="33.30" height="11.80" fill="#da0000" />
<rect x="1306.50" y="554.00" width="33.30" height="11.80" fill="#0000f8" />
<text transform="translate(1346.70,529.20)" style="font-size:23px">NaClO</text>
<text transform="translate(1423.00,533.40)" style="font-size:14px">4</text>
<text transform="translate(1450.00,528.40)" style="font-size:23px">-</text>
<text transform="translate(1349.20,569.00)" style="font-size:23px">NaClO</text>
<text transform="translate(1425.00,573.00)" style="font-size:14px">4</text>
<text transform="translate(1450.00,568.00)" style="font-size:23px">+</text>
<text transform="translate(17.00,998.90)" style="font-size:40px;font-weight:bold">C</text>
<text transform="translate(146.60,1048.70)" style="font-size:23px">BCPAP</text>
<text transform="translate(245.10,1048.70)" style="font-size:23px">K1</text>
<text transform="translate(125.20,1103.10)" style="font-size:20.5px" text-anchor="end">DMSO+<tspan style="font-size:12px" dy="-8">131</tspan><tspan dy="8" dx="1">I</tspan></text>
<text transform="translate(125.40,1171.70)" style="font-size:20.5px" text-anchor="end">SR1+<tspan style="font-size:12px" dy="-8">131</tspan><tspan dy="8" dx="1">I</tspan></text>
<text transform="translate(125.40,1229.60)" style="font-size:20.5px" text-anchor="end">CH+<tspan style="font-size:12px" dy="-8">131</tspan><tspan dy="8" dx="1">I</tspan></text>
<ellipse cx="180.2" cy="1098" rx="30.2" ry="31.2" fill="url(#rg1)"/>
<g clip-path="url(#pl1)">
<circle cx="198.7" cy="1119.5" r="1.11" fill="#a898cc" fill-opacity="0.53"/>
<circle cx="160.0" cy="1098.6" r="1.02" fill="#a898cc" fill-opacity="0.76"/>
<circle cx="184.4" cy="1100.9" r="1.17" fill="#a898cc" fill-opacity="0.61"/>
<circle cx="180.3" cy="1096.6" r="0.86" fill="#a898cc" fill-opacity="0.73"/>
<circle cx="184.1" cy="1128.1" r="1.22" fill="#a898cc" fill-opacity="0.44"/>
<circle cx="202.1" cy="1101.7" r="1.25" fill="#a898cc" fill-opacity="0.59"/>
<circle cx="184.3" cy="1117.8" r="0.52" fill="#a898cc" fill-opacity="0.52"/>
<circle cx="160.5" cy="1106.4" r="0.69" fill="#a898cc" fill-opacity="0.52"/>
<circle cx="184.2" cy="1118.7" r="0.73" fill="#a898cc" fill-opacity="0.43"/>
<circle cx="192.0" cy="1078.2" r="1.01" fill="#a898cc" fill-opacity="0.50"/>
<circle cx="208.2" cy="1096.6" r="0.60" fill="#a898cc" fill-opacity="0.57"/>
<circle cx="175.7" cy="1072.1" r="1.25" fill="#a898cc" fill-opacity="0.60"/>
<circle cx="192.1" cy="1075.6" r="0.74" fill="#a898cc" fill-opacity="0.67"/>
<circle cx="200.7" cy="1078.7" r="0.90" fill="#a898cc" fill-opacity="0.68"/>
<circle cx="194.7" cy="1101.3" r="1.14" fill="#a898cc" fill-opacity="0.60"/>
<circle cx="190.6" cy="1118.5" r="1.06" fill="#a898cc" fill-opacity="0.71"/>
<circle cx="166.1" cy="1112.6" r="0.91" fill="#a898cc" fill-opacity="0.76"/>
<circle cx="161.4" cy="1095.4" r="0.89" fill="#a898cc" fill-opacity="0.44"/>
<circle cx="204.6" cy="1105.1" r="1.29" fill="#a898cc" fill-opacity="0.68"/>
<circle cx="170.4" cy="1106.0" r="0.90" fill="#a898cc" fill-opacity="0.84"/>
<circle cx="183.1" cy="1075.3" r="1.19" fill="#a898cc" fill-opacity="0.52"/>
<circle cx="150.8" cy="1095.4" r="0.96" fill="#a898cc" fill-opacity="0.62"/>
<circle cx="177.5" cy="1120.9" r="1.27" fill="#a898cc" fill-opacity="0.43"/>
<circle cx="185.9" cy="1070.4" r="1.21" fill="#a898cc" fill-opacity="0.74"/>
<circle cx="188.1" cy="1077.1" r="0.95" fill="#a898cc" fill-opacity="0.61"/>
<circle cx="206.6" cy="1108.1" r="0.96" fill="#a898cc" fill-opacity="0.51"/>
<circle cx="159.2" cy="1097.4" r="0.79" fill="#a898cc" fill-opacity="0.57"/>
<circle cx="157.0" cy="1092.1" r="0.99" fill="#a898cc" fill-opacity="0.62"/>
<circle cx="194.4" cy="1100.6" r="0.64" fill="#a898cc" fill-opacity="0.67"/>
<circle cx="197.5" cy="1076.6" r="1.14" fill="#a898cc" fill-opacity="0.77"/>
<circle cx="179.3" cy="1126.6" r="1.04" fill="#a898cc" fill-opacity="0.46"/>
<circle cx="183.8" cy="1098.4" r="1.10" fill="#a898cc" fill-opacity="0.53"/>
<circle cx="198.6" cy="1113.7" r="0.78" fill="#a898cc" fill-opacity="0.45"/>
<circle cx="192.0" cy="1117.1" r="0.63" fill="#a898cc" fill-opacity="0.54"/>
<circle cx="175.3" cy="1077.6" r="0.76" fill="#a898cc" fill-opacity="0.63"/>
<circle cx="198.8" cy="1100.9" r="0.84" fill="#a898cc" fill-opacity="0.50"/>
<circle cx="202.4" cy="1116.7" r="0.91" fill="#a898cc" fill-opacity="0.51"/>
<circle cx="158.7" cy="1080.6" r="0.52" fill="#a898cc" fill-opacity="0.43"/>
<circle cx="195.7" cy="1119.0" r="0.63" fill="#a898cc" fill-opacity="0.72"/>
<circle cx="170.5" cy="1077.3" r="0.68" fill="#a898cc" fill-opacity="0.84"/>
<circle cx="186.6" cy="1076.6" r="0.68" fill="#a898cc" fill-opacity="0.70"/>
<circle cx="162.1" cy="1112.5" r="0.76" fill="#a898cc" fill-opacity="0.69"/>
<circle cx="195.6" cy="1104.2" r="1.27" fill="#a898cc" fill-opacity="0.80"/>
<circle cx="170.5" cy="1125.1" r="0.75" fill="#a898cc" fill-opacity="0.82"/>
<circle cx="179.4" cy="1077.9" r="0.70" fill="#a898cc" fill-opacity="0.43"/>
<circle cx="184.5" cy="1093.8" r="1.16" fill="#a898cc" fill-opacity="0.83"/>
<circle cx="168.9" cy="1092.5" r="1.19" fill="#a898cc" fill-opacity="0.84"/>
<circle cx="174.1" cy="1076.7" r="0.80" fill="#a898cc" fill-opacity="0.57"/>
<circle cx="187.0" cy="1122.6" r="0.85" fill="#a898cc" fill-opacity="0.51"/>
<circle cx="199.7" cy="1113.5" r="0.74" fill="#a898cc" fill-opacity="0.64"/>
<circle cx="167.3" cy="1123.9" r="1.22" fill="#a898cc" fill-opacity="0.43"/>
<circle cx="185.5" cy="1115.0" r="1.29" fill="#a898cc" fill-opacity="0.76"/>
<circle cx="172.8" cy="1110.2" r="1.04" fill="#a898cc" fill-opacity="0.78"/>
<circle cx="196.3" cy="1090.4" r="1.21" fill="#a898cc" fill-opacity="0.72"/>
<circle cx="150.4" cy="1101.0" r="0.69" fill="#a898cc" fill-opacity="0.73"/>
<circle cx="190.9" cy="1104.5" r="1.23" fill="#a898cc" fill-opacity="0.52"/>
<circle cx="181.5" cy="1073.9" r="1.17" fill="#a898cc" fill-opacity="0.58"/>
<circle cx="171.4" cy="1112.2" r="1.19" fill="#a898cc" fill-opacity="0.68"/>
<circle cx="207.5" cy="1089.7" r="0.61" fill="#a898cc" fill-opacity="0.66"/>
<circle cx="184.9" cy="1101.8" r="0.56" fill="#a898cc" fill-opacity="0.79"/>
<circle cx="186.7" cy="1070.4" r="0.77" fill="#a898cc" fill-opacity="0.69"/>
<circle cx="183.9" cy="1079.2" r="0.96" fill="#a898cc" fill-opacity="0.52"/>
<circle cx="193.8" cy="1105.9" r="1.21" fill="#a898cc" fill-opacity="0.66"/>
<circle cx="198.4" cy="1088.4" r="0.72" fill="#a898cc" fill-opacity="0.76"/>
<circle cx="181.8" cy="1094.9" r="1.04" fill="#a898cc" fill-opacity="0.46"/>
<circle cx="201.5" cy="1117.4" r="0.53" fill="#a898cc" fill-opacity="0.53"/>
<circle cx="199.7" cy="1096.5" r="0.59" fill="#a898cc" fill-opacity="0.50"/>
<circle cx="181.6" cy="1124.9" r="0.58" fill="#a898cc" fill-opacity="0.81"/>
<circle cx="158.7" cy="1119.3" r="1.23" fill="#a898cc" fill-opacity="0.55"/>
<circle cx="179.8" cy="1119.5" r="0.58" fill="#a898cc" fill-opacity="0.70"/>
<circle cx="183.2" cy="1098.8" r="1.29" fill="#a898cc" fill-opacity="0.55"/>
<circle cx="163.6" cy="1086.1" r="0.75" fill="#a898cc" fill-opacity="0.45"/>
<circle cx="205.6" cy="1082.1" r="1.28" fill="#a898cc" fill-opacity="0.47"/>
<circle cx="185.4" cy="1121.9" r="1.28" fill="#a898cc" fill-opacity="0.66"/>
<circle cx="170.9" cy="1074.5" r="0.71" fill="#a898cc" fill-opacity="0.66"/>
<circle cx="174.9" cy="1112.5" r="0.57" fill="#a898cc" fill-opacity="0.54"/>
<circle cx="200.3" cy="1095.8" r="1.02" fill="#a898cc" fill-opacity="0.70"/>
<circle cx="197.8" cy="1090.9" r="0.75" fill="#a898cc" fill-opacity="0.56"/>
<circle cx="168.9" cy="1124.2" r="1.21" fill="#a898cc" fill-opacity="0.55"/>
<circle cx="168.9" cy="1117.9" r="0.96" fill="#a898cc" fill-opacity="0.68"/>
<circle cx="180.3" cy="1102.5" r="0.70" fill="#a898cc" fill-opacity="0.46"/>
<circle cx="172.6" cy="1095.4" r="0.56" fill="#a898cc" fill-opacity="0.70"/>
<circle cx="173.4" cy="1124.9" r="0.89" fill="#a898cc" fill-opacity="0.79"/>
<circle cx="192.3" cy="1116.2" r="1.14" fill="#a898cc" fill-opacity="0.46"/>
<circle cx="192.1" cy="1093.9" r="1.12" fill="#a898cc" fill-opacity="0.84"/>
<circle cx="187.6" cy="1082.1" r="0.59" fill="#a898cc" fill-opacity="0.64"/>
<circle cx="194.5" cy="1089.8" r="1.22" fill="#a898cc" fill-opacity="0.49"/>
<circle cx="184.8" cy="1095.0" r="0.75" fill="#a898cc" fill-opacity="0.81"/>
<circle cx="189.7" cy="1070.0" r="1.17" fill="#a898cc" fill-opacity="0.74"/>
<circle cx="175.5" cy="1085.8" r="0.85" fill="#a898cc" fill-opacity="0.49"/>
<circle cx="174.8" cy="1073.1" r="0.70" fill="#a898cc" fill-opacity="0.45"/>
<circle cx="206.6" cy="1091.6" r="0.94" fill="#a898cc" fill-opacity="0.66"/>
<circle cx="192.3" cy="1081.1" r="0.82" fill="#a898cc" fill-opacity="0.57"/>
<circle cx="180.0" cy="1102.9" r="1.02" fill="#a898cc" fill-opacity="0.60"/>
<circle cx="173.4" cy="1094.7" r="0.78" fill="#a898cc" fill-opacity="0.48"/>
<circle cx="191.1" cy="1109.2" r="1.16" fill="#a898cc" fill-opacity="0.59"/>
<circle cx="161.0" cy="1112.2" r="0.69" fill="#a898cc" fill-opacity="0.43"/>
<circle cx="159.2" cy="1094.0" r="1.02" fill="#a898cc" fill-opacity="0.61"/>
<circle cx="170.2" cy="1073.4" r="0.69" fill="#a898cc" fill-opacity="0.64"/>
<circle cx="166.0" cy="1100.0" r="0.83" fill="#a898cc" fill-opacity="0.66"/>
<circle cx="204.3" cy="1081.5" r="0.72" fill="#a898cc" fill-opacity="0.70"/>
<circle cx="187.9" cy="1100.5" r="0.91" fill="#a898cc" fill-opacity="0.80"/>
<circle cx="194.4" cy="1121.0" r="1.21" fill="#a898cc" fill-opacity="0.56"/>
<circle cx="170.4" cy="1071.1" r="0.80" fill="#a898cc" fill-opacity="0.72"/>
<circle cx="178.2" cy="1074.0" r="1.19" fill="#a898cc" fill-opacity="0.81"/>
<circle cx="202.3" cy="1092.1" r="0.64" fill="#a898cc" fill-opacity="0.53"/>
<circle cx="184.8" cy="1121.1" r="1.11" fill="#a898cc" fill-opacity="0.45"/>
<circle cx="169.5" cy="1074.0" r="0.78" fill="#a898cc" fill-opacity="0.64"/>
<circle cx="193.4" cy="1120.9" r="0.53" fill="#a898cc" fill-opacity="0.84"/>
<circle cx="188.7" cy="1074.9" r="0.71" fill="#a898cc" fill-opacity="0.81"/>
<circle cx="191.1" cy="1095.1" r="1.12" fill="#a898cc" fill-opacity="0.78"/>
<circle cx="166.6" cy="1076.0" r="0.86" fill="#a898cc" fill-opacity="0.82"/>
<circle cx="198.6" cy="1094.5" r="1.14" fill="#a898cc" fill-opacity="0.61"/>
<circle cx="189.0" cy="1113.3" r="0.60" fill="#a898cc" fill-opacity="0.81"/>
<circle cx="190.3" cy="1095.3" r="0.98" fill="#a898cc" fill-opacity="0.60"/>
<circle cx="192.3" cy="1109.5" r="0.70" fill="#a898cc" fill-opacity="0.74"/>
<circle cx="193.4" cy="1098.3" r="0.85" fill="#a898cc" fill-opacity="0.43"/>
<circle cx="163.8" cy="1080.6" r="1.17" fill="#a898cc" fill-opacity="0.51"/>
<circle cx="175.4" cy="1120.4" r="0.72" fill="#a898cc" fill-opacity="0.67"/>
<circle cx="180.1" cy="1123.8" r="1.13" fill="#a898cc" fill-opacity="0.77"/>
<circle cx="202.2" cy="1094.2" r="0.89" fill="#a898cc" fill-opacity="0.79"/>
<circle cx="182.9" cy="1074.6" r="0.81" fill="#a898cc" fill-opacity="0.55"/>
<circle cx="201.3" cy="1115.6" r="0.59" fill="#a898cc" fill-opacity="0.74"/>
<circle cx="151.7" cy="1089.4" r="1.11" fill="#a898cc" fill-opacity="0.84"/>
<circle cx="194.2" cy="1114.7" r="0.96" fill="#a898cc" fill-opacity="0.56"/>
<circle cx="162.2" cy="1097.6" r="0.92" fill="#a898cc" fill-opacity="0.43"/>
<circle cx="161.3" cy="1105.4" r="0.74" fill="#a898cc" fill-opacity="0.59"/>
<circle cx="185.4" cy="1072.8" r="0.89" fill="#a898cc" fill-opacity="0.70"/>
<circle cx="170.4" cy="1107.8" r="0.50" fill="#a898cc" fill-opacity="0.54"/>
<circle cx="157.1" cy="1081.1" r="1.16" fill="#a898cc" fill-opacity="0.64"/>
<circle cx="200.6" cy="1096.3" r="1.17" fill="#a898cc" fill-opacity="0.60"/>
<circle cx="179.2" cy="1067.0" r="0.74" fill="#a898cc" fill-opacity="0.50"/>
<circle cx="164.2" cy="1082.4" r="0.79" fill="#a898cc" fill-opacity="0.43"/>
<circle cx="165.1" cy="1111.1" r="0.82" fill="#a898cc" fill-opacity="0.79"/>
<circle cx="157.9" cy="1084.5" r="1.22" fill="#a898cc" fill-opacity="0.74"/>
<circle cx="154.1" cy="1099.2" r="1.01" fill="#a898cc" fill-opacity="0.70"/>
<circle cx="167.0" cy="1083.5" r="1.00" fill="#a898cc" fill-opacity="0.69"/>
<circle cx="204.9" cy="1087.4" r="1.18" fill="#a898cc" fill-opacity="0.75"/>
<circle cx="189.6" cy="1075.7" r="0.78" fill="#a898cc" fill-opacity="0.54"/>
<circle cx="172.8" cy="1069.8" r="0.94" fill="#a898cc" fill-opacity="0.49"/>
<circle cx="190.7" cy="1079.2" r="0.87" fill="#a898cc" fill-opacity="0.44"/>
<circle cx="154.2" cy="1096.3" r="0.84" fill="#a898cc" fill-opacity="0.58"/>
<circle cx="177.9" cy="1094.3" r="0.91" fill="#a898cc" fill-opacity="0.83"/>
<circle cx="173.2" cy="1079.6" r="1.05" fill="#a898cc" fill-opacity="0.68"/>
<circle cx="183.7" cy="1111.7" r="1.21" fill="#a898cc" fill-opacity="0.54"/>
<circle cx="204.7" cy="1110.9" r="0.92" fill="#a898cc" fill-opacity="0.58"/>
<circle cx="154.3" cy="1096.1" r="0.63" fill="#a898cc" fill-opacity="0.70"/>
<circle cx="174.0" cy="1070.6" r="0.72" fill="#a898cc" fill-opacity="0.68"/>
<circle cx="182.7" cy="1121.2" r="0.64" fill="#a898cc" fill-opacity="0.76"/>
<circle cx="191.8" cy="1084.7" r="0.68" fill="#a898cc" fill-opacity="0.83"/>
<circle cx="172.7" cy="1070.4" r="0.52" fill="#a898cc" fill-opacity="0.81"/>
<circle cx="168.0" cy="1085.8" r="0.85" fill="#a898cc" fill-opacity="0.75"/>
<circle cx="183.1" cy="1084.7" r="1.00" fill="#a898cc" fill-opacity="0.50"/>
<circle cx="200.0" cy="1094.5" r="1.23" fill="#a898cc" fill-opacity="0.73"/>
<circle cx="168.1" cy="1088.1" r="0.92" fill="#a898cc" fill-opacity="0.48"/>
<circle cx="196.7" cy="1118.1" r="0.79" fill="#a898cc" fill-opacity="0.74"/>
<circle cx="181.7" cy="1124.4" r="1.07" fill="#a898cc" fill-opacity="0.55"/>
<circle cx="195.1" cy="1110.2" r="0.89" fill="#a898cc" fill-opacity="0.47"/>
<circle cx="182.9" cy="1104.8" r="0.98" fill="#a898cc" fill-opacity="0.80"/>
<circle cx="181.4" cy="1103.7" r="1.06" fill="#a898cc" fill-opacity="0.77"/>
<circle cx="203.2" cy="1092.5" r="0.77" fill="#a898cc" fill-opacity="0.78"/>
<circle cx="198.7" cy="1115.5" r="0.58" fill="#a898cc" fill-opacity="0.59"/>
<circle cx="161.6" cy="1098.6" r="0.63" fill="#a898cc" fill-opacity="0.52"/>
<circle cx="189.0" cy="1078.8" r="0.96" fill="#a898cc" fill-opacity="0.52"/>
<circle cx="176.4" cy="1080.5" r="0.97" fill="#a898cc" fill-opacity="0.81"/>
<circle cx="186.7" cy="1097.8" r="1.14" fill="#a898cc" fill-opacity="0.79"/>
<circle cx="172.3" cy="1115.5" r="0.96" fill="#a898cc" fill-opacity="0.82"/>
<circle cx="157.3" cy="1115.2" r="1.11" fill="#a898cc" fill-opacity="0.49"/>
<circle cx="183.4" cy="1096.0" r="0.62" fill="#a898cc" fill-opacity="0.71"/>
<circle cx="197.6" cy="1104.8" r="0.60" fill="#a898cc" fill-opacity="0.62"/>
<circle cx="195.6" cy="1072.9" r="0.53" fill="#a898cc" fill-opacity="0.45"/>
<circle cx="183.6" cy="1092.6" r="0.72" fill="#a898cc" fill-opacity="0.47"/>
<circle cx="184.4" cy="1100.8" r="1.01" fill="#a898cc" fill-opacity="0.74"/>
<circle cx="169.5" cy="1071.5" r="1.03" fill="#a898cc" fill-opacity="0.59"/>
<circle cx="160.0" cy="1075.5" r="1.01" fill="#a898cc" fill-opacity="0.53"/>
<circle cx="207.3" cy="1109.1" r="0.97" fill="#a898cc" fill-opacity="0.57"/>
<circle cx="162.4" cy="1083.6" r="0.92" fill="#a898cc" fill-opacity="0.45"/>
<circle cx="168.5" cy="1114.0" r="0.66" fill="#a898cc" fill-opacity="0.80"/>
<circle cx="158.4" cy="1109.7" r="1.07" fill="#a898cc" fill-opacity="0.74"/>
<circle cx="175.5" cy="1071.4" r="0.70" fill="#a898cc" fill-opacity="0.84"/>
<circle cx="197.1" cy="1122.3" r="1.18" fill="#a898cc" fill-opacity="0.79"/>
<circle cx="188.8" cy="1101.1" r="1.15" fill="#a898cc" fill-opacity="0.62"/>
<circle cx="159.7" cy="1120.5" r="0.53" fill="#a898cc" fill-opacity="0.65"/>
<circle cx="170.1" cy="1101.9" r="0.82" fill="#a898cc" fill-opacity="0.73"/>
<circle cx="183.7" cy="1094.7" r="0.92" fill="#a898cc" fill-opacity="0.46"/>
<circle cx="183.0" cy="1089.3" r="0.53" fill="#a898cc" fill-opacity="0.59"/>
<circle cx="178.4" cy="1080.6" r="0.60" fill="#a898cc" fill-opacity="0.76"/>
<circle cx="190.0" cy="1071.0" r="0.74" fill="#a898cc" fill-opacity="0.61"/>
<circle cx="180.9" cy="1121.3" r="0.76" fill="#a898cc" fill-opacity="0.57"/>
<circle cx="186.4" cy="1068.2" r="0.97" fill="#a898cc" fill-opacity="0.47"/>
<circle cx="168.6" cy="1080.9" r="1.29" fill="#a898cc" fill-opacity="0.73"/>
<circle cx="193.0" cy="1075.5" r="0.93" fill="#a898cc" fill-opacity="0.81"/>
<circle cx="188.2" cy="1083.3" r="0.63" fill="#a898cc" fill-opacity="0.58"/>
<circle cx="170.9" cy="1096.7" r="0.78" fill="#a898cc" fill-opacity="0.67"/>
<circle cx="206.4" cy="1105.6" r="1.02" fill="#a898cc" fill-opacity="0.56"/>
<circle cx="174.8" cy="1115.7" r="0.76" fill="#a898cc" fill-opacity="0.74"/>
<circle cx="158.3" cy="1097.8" r="0.62" fill="#a898cc" fill-opacity="0.81"/>
<circle cx="172.3" cy="1113.9" r="0.56" fill="#a898cc" fill-opacity="0.84"/>
<circle cx="151.6" cy="1101.8" r="1.24" fill="#a898cc" fill-opacity="0.84"/>
<circle cx="191.8" cy="1070.5" r="1.24" fill="#a898cc" fill-opacity="0.77"/>
<circle cx="194.7" cy="1114.9" r="0.96" fill="#a898cc" fill-opacity="0.85"/>
<circle cx="185.6" cy="1072.4" r="1.10" fill="#a898cc" fill-opacity="0.58"/>
<circle cx="202.9" cy="1089.1" r="0.82" fill="#a898cc" fill-opacity="0.62"/>
<circle cx="202.1" cy="1095.1" r="0.63" fill="#a898cc" fill-opacity="0.49"/>
<circle cx="171.5" cy="1076.4" r="1.23" fill="#a898cc" fill-opacity="0.50"/>
<circle cx="158.3" cy="1112.1" r="0.54" fill="#a898cc" fill-opacity="0.47"/>
<circle cx="165.3" cy="1093.4" r="0.59" fill="#a898cc" fill-opacity="0.54"/>
<circle cx="165.4" cy="1081.3" r="0.56" fill="#a898cc" fill-opacity="0.46"/>
<circle cx="194.5" cy="1077.8" r="0.64" fill="#a898cc" fill-opacity="0.79"/>
<circle cx="198.4" cy="1100.6" r="1.18" fill="#a898cc" fill-opacity="0.73"/>
<circle cx="174.2" cy="1126.8" r="0.98" fill="#a898cc" fill-opacity="0.79"/>
<circle cx="195.6" cy="1085.3" r="1.04" fill="#a898cc" fill-opacity="0.66"/>
<circle cx="205.6" cy="1088.5" r="1.08" fill="#a898cc" fill-opacity="0.77"/>
<circle cx="195.5" cy="1097.8" r="0.66" fill="#a898cc" fill-opacity="0.74"/>
<circle cx="183.0" cy="1075.8" r="0.89" fill="#a898cc" fill-opacity="0.60"/>
<circle cx="200.2" cy="1079.3" r="0.97" fill="#a898cc" fill-opacity="0.44"/>
<circle cx="192.3" cy="1081.0" r="0.65" fill="#a898cc" fill-opacity="0.55"/>
<circle cx="179.4" cy="1095.8" r="0.60" fill="#a898cc" fill-opacity="0.55"/>
<circle cx="200.0" cy="1080.4" r="1.28" fill="#a898cc" fill-opacity="0.66"/>
<circle cx="160.0" cy="1087.9" r="0.92" fill="#a898cc" fill-opacity="0.66"/>
<circle cx="192.5" cy="1070.3" r="0.83" fill="#a898cc" fill-opacity="0.69"/>
<circle cx="174.3" cy="1114.0" r="0.91" fill="#a898cc" fill-opacity="0.67"/>
<circle cx="151.8" cy="1088.5" r="0.63" fill="#a898cc" fill-opacity="0.70"/>
<circle cx="206.1" cy="1097.1" r="0.95" fill="#a898cc" fill-opacity="0.58"/>
<circle cx="156.3" cy="1115.4" r="1.22" fill="#a898cc" fill-opacity="0.71"/>
<circle cx="203.6" cy="1080.2" r="1.18" fill="#a898cc" fill-opacity="0.59"/>
<circle cx="153.9" cy="1104.2" r="0.80" fill="#a898cc" fill-opacity="0.74"/>
<circle cx="162.8" cy="1100.1" r="0.86" fill="#a898cc" fill-opacity="0.47"/>
<circle cx="168.3" cy="1113.9" r="0.51" fill="#a898cc" fill-opacity="0.50"/>
<circle cx="178.4" cy="1126.8" r="0.97" fill="#a898cc" fill-opacity="0.55"/>
<circle cx="195.5" cy="1097.8" r="0.91" fill="#a898cc" fill-opacity="0.74"/>
<circle cx="173.0" cy="1078.8" r="1.12" fill="#a898cc" fill-opacity="0.63"/>
<circle cx="175.6" cy="1076.6" r="1.28" fill="#a898cc" fill-opacity="0.73"/>
<circle cx="189.3" cy="1104.1" r="1.27" fill="#a898cc" fill-opacity="0.52"/>
<circle cx="195.2" cy="1100.6" r="0.88" fill="#a898cc" fill-opacity="0.83"/>
<circle cx="159.5" cy="1113.7" r="1.17" fill="#a898cc" fill-opacity="0.46"/>
<circle cx="157.2" cy="1077.9" r="0.94" fill="#a898cc" fill-opacity="0.65"/>
<circle cx="163.4" cy="1122.9" r="1.28" fill="#a898cc" fill-opacity="0.47"/>
<circle cx="161.7" cy="1091.4" r="1.04" fill="#a898cc" fill-opacity="0.48"/>
<circle cx="178.7" cy="1114.4" r="0.88" fill="#a898cc" fill-opacity="0.76"/>
<circle cx="197.0" cy="1076.4" r="1.04" fill="#a898cc" fill-opacity="0.46"/>
<circle cx="161.2" cy="1114.3" r="0.74" fill="#a898cc" fill-opacity="0.64"/>
<circle cx="188.7" cy="1092.0" r="1.18" fill="#a898cc" fill-opacity="0.47"/>
<circle cx="158.5" cy="1117.4" r="0.66" fill="#a898cc" fill-opacity="0.65"/>
<circle cx="155.6" cy="1112.7" r="1.29" fill="#a898cc" fill-opacity="0.55"/>
<circle cx="151.7" cy="1099.4" r="0.94" fill="#a898cc" fill-opacity="0.52"/>
<circle cx="181.3" cy="1079.9" r="0.89" fill="#a898cc" fill-opacity="0.43"/>
<circle cx="204.6" cy="1096.2" r="1.24" fill="#a898cc" fill-opacity="0.84"/>
<circle cx="177.8" cy="1120.8" r="0.85" fill="#a898cc" fill-opacity="0.75"/>
<circle cx="188.1" cy="1085.5" r="0.72" fill="#a898cc" fill-opacity="0.73"/>
<circle cx="170.9" cy="1103.9" r="0.66" fill="#a898cc" fill-opacity="0.66"/>
<circle cx="156.1" cy="1080.3" r="0.93" fill="#a898cc" fill-opacity="0.68"/>
<circle cx="191.7" cy="1114.2" r="0.72" fill="#a898cc" fill-opacity="0.72"/>
<circle cx="178.7" cy="1112.4" r="0.79" fill="#a898cc" fill-opacity="0.62"/>
<circle cx="167.8" cy="1118.6" r="0.64" fill="#a898cc" fill-opacity="0.80"/>
<circle cx="172.6" cy="1076.6" r="0.55" fill="#a898cc" fill-opacity="0.56"/>
<circle cx="171.3" cy="1074.7" r="1.15" fill="#a898cc" fill-opacity="0.80"/>
<circle cx="171.7" cy="1118.1" r="0.76" fill="#a898cc" fill-opacity="0.48"/>
<circle cx="189.9" cy="1110.2" r="0.57" fill="#a898cc" fill-opacity="0.65"/>
<circle cx="173.6" cy="1075.6" r="1.05" fill="#a898cc" fill-opacity="0.52"/>
<circle cx="187.3" cy="1120.3" r="1.21" fill="#a898cc" fill-opacity="0.60"/>
<circle cx="184.5" cy="1098.1" r="0.74" fill="#a898cc" fill-opacity="0.69"/>
<circle cx="192.5" cy="1105.5" r="1.04" fill="#a898cc" fill-opacity="0.84"/>
<circle cx="167.5" cy="1118.3" r="0.91" fill="#a898cc" fill-opacity="0.43"/>
<circle cx="174.8" cy="1108.2" r="0.70" fill="#a898cc" fill-opacity="0.75"/>
<circle cx="177.6" cy="1092.3" r="0.56" fill="#a898cc" fill-opacity="0.73"/>
<circle cx="193.8" cy="1108.6" r="0.72" fill="#a898cc" fill-opacity="0.45"/>
<circle cx="191.2" cy="1100.3" r="0.82" fill="#a898cc" fill-opacity="0.82"/>
<circle cx="170.6" cy="1086.3" r="1.04" fill="#a898cc" fill-opacity="0.54"/>
<circle cx="163.1" cy="1096.3" r="1.26" fill="#a898cc" fill-opacity="0.57"/>
<circle cx="188.2" cy="1074.4" r="1.17" fill="#a898cc" fill-opacity="0.68"/>
<circle cx="193.4" cy="1083.6" r="1.04" fill="#a898cc" fill-opacity="0.69"/>
<circle cx="157.9" cy="1093.9" r="0.93" fill="#a898cc" fill-opacity="0.59"/>
<circle cx="199.5" cy="1083.2" r="0.94" fill="#a898cc" fill-opacity="0.45"/>
<circle cx="167.6" cy="1097.3" r="0.67" fill="#a898cc" fill-opacity="0.61"/>
<circle cx="165.7" cy="1093.6" r="0.72" fill="#a898cc" fill-opacity="0.65"/>
<circle cx="161.3" cy="1101.3" r="0.58" fill="#a898cc" fill-opacity="0.58"/>
<circle cx="167.6" cy="1079.0" r="0.94" fill="#a898cc" fill-opacity="0.78"/>
<circle cx="176.0" cy="1072.6" r="0.52" fill="#a898cc" fill-opacity="0.56"/>
<circle cx="175.3" cy="1086.8" r="1.23" fill="#a898cc" fill-opacity="0.49"/>
<circle cx="190.4" cy="1088.0" r="1.17" fill="#a898cc" fill-opacity="0.79"/>
<circle cx="165.6" cy="1123.3" r="0.63" fill="#a898cc" fill-opacity="0.79"/>
<circle cx="165.5" cy="1112.0" r="0.59" fill="#a898cc" fill-opacity="0.68"/>
<circle cx="177.1" cy="1123.3" r="1.14" fill="#a898cc" fill-opacity="0.68"/>
<circle cx="209.6" cy="1099.6" r="1.24" fill="#a898cc" fill-opacity="0.70"/>
<circle cx="163.7" cy="1114.1" r="1.21" fill="#a898cc" fill-opacity="0.62"/>
<circle cx="184.5" cy="1074.3" r="0.84" fill="#a898cc" fill-opacity="0.82"/>
<circle cx="160.5" cy="1111.2" r="0.54" fill="#a898cc" fill-opacity="0.63"/>
<circle cx="204.8" cy="1104.1" r="0.50" fill="#a898cc" fill-opacity="0.44"/>
<circle cx="188.8" cy="1105.5" r="0.91" fill="#a898cc" fill-opacity="0.58"/>
<circle cx="176.3" cy="1128.7" r="1.23" fill="#a898cc" fill-opacity="0.70"/>
<circle cx="189.0" cy="1071.3" r="0.70" fill="#a898cc" fill-opacity="0.77"/>
<circle cx="181.6" cy="1121.3" r="0.79" fill="#a898cc" fill-opacity="0.49"/>
<circle cx="185.1" cy="1068.6" r="0.75" fill="#a898cc" fill-opacity="0.80"/>
<circle cx="166.3" cy="1118.8" r="1.30" fill="#a898cc" fill-opacity="0.75"/>
<circle cx="198.9" cy="1105.1" r="0.80" fill="#a898cc" fill-opacity="0.55"/>
<circle cx="188.3" cy="1079.0" r="1.06" fill="#a898cc" fill-opacity="0.69"/>
<circle cx="173.1" cy="1097.1" r="1.04" fill="#a898cc" fill-opacity="0.80"/>
<circle cx="191.6" cy="1120.1" r="0.89" fill="#a898cc" fill-opacity="0.57"/>
<circle cx="172.9" cy="1068.1" r="0.52" fill="#a898cc" fill-opacity="0.81"/>
<circle cx="159.7" cy="1117.1" r="0.64" fill="#a898cc" fill-opacity="0.73"/>
<circle cx="194.4" cy="1108.6" r="1.28" fill="#a898cc" fill-opacity="0.70"/>
<circle cx="184.6" cy="1077.3" r="0.88" fill="#a898cc" fill-opacity="0.63"/>
<circle cx="183.9" cy="1071.7" r="0.66" fill="#a898cc" fill-opacity="0.61"/>
<circle cx="158.2" cy="1091.8" r="1.24" fill="#a898cc" fill-opacity="0.78"/>
<circle cx="191.1" cy="1113.5" r="0.59" fill="#a898cc" fill-opacity="0.44"/>
<circle cx="191.7" cy="1104.0" r="1.11" fill="#a898cc" fill-opacity="0.71"/>
<circle cx="185.0" cy="1082.0" r="0.62" fill="#a898cc" fill-opacity="0.84"/>
<circle cx="193.7" cy="1071.0" r="0.52" fill="#a898cc" fill-opacity="0.59"/>
<circle cx="162.9" cy="1078.1" r="1.23" fill="#a898cc" fill-opacity="0.65"/>
<circle cx="178.5" cy="1099.4" r="1.14" fill="#a898cc" fill-opacity="0.84"/>
<circle cx="200.7" cy="1084.0" r="0.77" fill="#a898cc" fill-opacity="0.53"/>
<circle cx="184.8" cy="1068.2" r="1.27" fill="#a898cc" fill-opacity="0.50"/>
<circle cx="161.6" cy="1086.6" r="0.84" fill="#a898cc" fill-opacity="0.76"/>
<circle cx="203.8" cy="1087.6" r="1.06" fill="#a898cc" fill-opacity="0.72"/>
<circle cx="167.6" cy="1079.2" r="0.70" fill="#a898cc" fill-opacity="0.76"/>
<circle cx="198.0" cy="1115.0" r="0.81" fill="#a898cc" fill-opacity="0.66"/>
<circle cx="167.0" cy="1081.2" r="1.28" fill="#a898cc" fill-opacity="0.53"/>
<circle cx="209.6" cy="1100.3" r="0.75" fill="#a898cc" fill-opacity="0.54"/>
<circle cx="160.1" cy="1110.2" r="1.29" fill="#a898cc" fill-opacity="0.73"/>
<circle cx="171.0" cy="1118.7" r="0.86" fill="#a898cc" fill-opacity="0.64"/>
<circle cx="169.5" cy="1104.3" r="0.82" fill="#a898cc" fill-opacity="0.59"/>
<circle cx="188.5" cy="1124.9" r="0.79" fill="#a898cc" fill-opacity="0.49"/>
<circle cx="154.9" cy="1086.3" r="1.12" fill="#a898cc" fill-opacity="0.69"/>
<circle cx="178.1" cy="1080.0" r="0.61" fill="#a898cc" fill-opacity="0.53"/>
<circle cx="170.9" cy="1111.4" r="0.87" fill="#a898cc" fill-opacity="0.49"/>
<circle cx="190.6" cy="1109.5" r="0.66" fill="#a898cc" fill-opacity="0.77"/>
<circle cx="167.1" cy="1094.8" r="0.84" fill="#a898cc" fill-opacity="0.80"/>
<circle cx="160.3" cy="1087.1" r="0.81" fill="#a898cc" fill-opacity="0.51"/>
<circle cx="174.3" cy="1091.9" r="1.13" fill="#a898cc" fill-opacity="0.45"/>
<circle cx="179.8" cy="1078.7" r="1.05" fill="#a898cc" fill-opacity="0.68"/>
<circle cx="195.5" cy="1114.6" r="0.56" fill="#a898cc" fill-opacity="0.53"/>
<circle cx="168.3" cy="1109.3" r="1.03" fill="#a898cc" fill-opacity="0.84"/>
<circle cx="163.0" cy="1120.4" r="0.68" fill="#a898cc" fill-opacity="0.73"/>
<circle cx="167.5" cy="1116.7" r="0.57" fill="#a898cc" fill-opacity="0.78"/>
<circle cx="185.5" cy="1118.5" r="0.73" fill="#a898cc" fill-opacity="0.77"/>
<circle cx="160.4" cy="1084.6" r="1.10" fill="#a898cc" fill-opacity="0.53"/>
<circle cx="205.9" cy="1108.2" r="0.75" fill="#a898cc" fill-opacity="0.77"/>
<circle cx="203.3" cy="1091.3" r="0.58" fill="#a898cc" fill-opacity="0.79"/>
<circle cx="170.2" cy="1086.5" r="0.67" fill="#a898cc" fill-opacity="0.64"/>
<circle cx="201.0" cy="1118.5" r="1.07" fill="#a898cc" fill-opacity="0.77"/>
<circle cx="158.6" cy="1118.0" r="0.61" fill="#a898cc" fill-opacity="0.73"/>
<circle cx="180.1" cy="1099.9" r="0.60" fill="#a898cc" fill-opacity="0.51"/>
<circle cx="181.8" cy="1078.9" r="0.89" fill="#a898cc" fill-opacity="0.69"/>
<circle cx="177.5" cy="1122.8" r="1.04" fill="#a898cc" fill-opacity="0.82"/>
<circle cx="152.3" cy="1097.5" r="1.27" fill="#a898cc" fill-opacity="0.75"/>
<circle cx="166.3" cy="1105.7" r="0.58" fill="#a898cc" fill-opacity="0.78"/>
<circle cx="195.7" cy="1115.0" r="0.86" fill="#a898cc" fill-opacity="0.44"/>
<circle cx="186.3" cy="1125.6" r="0.93" fill="#a898cc" fill-opacity="0.82"/>
<circle cx="188.0" cy="1092.8" r="1.04" fill="#a898cc" fill-opacity="0.44"/>
<circle cx="162.5" cy="1107.7" r="1.27" fill="#a898cc" fill-opacity="0.68"/>
<circle cx="188.1" cy="1118.7" r="0.92" fill="#a898cc" fill-opacity="0.51"/>
<circle cx="162.2" cy="1120.6" r="1.29" fill="#a898cc" fill-opacity="0.76"/>
<circle cx="206.6" cy="1109.7" r="0.87" fill="#a898cc" fill-opacity="0.78"/>
<circle cx="185.4" cy="1108.7" r="1.23" fill="#a898cc" fill-opacity="0.55"/>
<circle cx="200.8" cy="1103.9" r="1.29" fill="#a898cc" fill-opacity="0.78"/>
<circle cx="156.3" cy="1116.9" r="1.14" fill="#a898cc" fill-opacity="0.78"/>
<circle cx="168.7" cy="1082.4" r="1.22" fill="#a898cc" fill-opacity="0.63"/>
<circle cx="200.8" cy="1088.7" r="1.23" fill="#a898cc" fill-opacity="0.63"/>
<circle cx="159.4" cy="1108.6" r="0.75" fill="#a898cc" fill-opacity="0.49"/>
<circle cx="156.6" cy="1082.7" r="0.72" fill="#a898cc" fill-opacity="0.79"/>
<circle cx="186.3" cy="1071.3" r="0.83" fill="#a898cc" fill-opacity="0.85"/>
<circle cx="186.0" cy="1075.1" r="0.59" fill="#a898cc" fill-opacity="0.67"/>
<circle cx="208.8" cy="1100.7" r="0.77" fill="#a898cc" fill-opacity="0.58"/>
<circle cx="157.3" cy="1090.2" r="0.97" fill="#a898cc" fill-opacity="0.63"/>
<circle cx="161.7" cy="1076.5" r="0.86" fill="#a898cc" fill-opacity="0.64"/>
<circle cx="180.9" cy="1096.3" r="0.63" fill="#a898cc" fill-opacity="0.56"/>
<circle cx="186.6" cy="1126.8" r="0.62" fill="#a898cc" fill-opacity="0.47"/>
<circle cx="171.4" cy="1118.3" r="1.16" fill="#a898cc" fill-opacity="0.85"/>
<circle cx="194.3" cy="1078.5" r="0.53" fill="#a898cc" fill-opacity="0.45"/>
<circle cx="161.6" cy="1077.3" r="0.71" fill="#a898cc" fill-opacity="0.84"/>
<circle cx="158.5" cy="1090.6" r="0.99" fill="#a898cc" fill-opacity="0.46"/>
<circle cx="194.2" cy="1124.5" r="0.71" fill="#a898cc" fill-opacity="0.46"/>
<circle cx="175.0" cy="1124.0" r="0.71" fill="#a898cc" fill-opacity="0.51"/>
<circle cx="176.6" cy="1119.3" r="1.09" fill="#a898cc" fill-opacity="0.55"/>
<circle cx="201.1" cy="1076.0" r="1.16" fill="#a898cc" fill-opacity="0.46"/>
<circle cx="168.6" cy="1125.5" r="1.19" fill="#a898cc" fill-opacity="0.48"/>
<circle cx="163.2" cy="1104.7" r="1.10" fill="#a898cc" fill-opacity="0.44"/>
<circle cx="169.7" cy="1122.8" r="1.21" fill="#a898cc" fill-opacity="0.44"/>
<circle cx="159.3" cy="1084.6" r="1.20" fill="#a898cc" fill-opacity="0.61"/>
<circle cx="193.4" cy="1095.7" r="0.59" fill="#a898cc" fill-opacity="0.48"/>
<circle cx="171.2" cy="1092.3" r="0.71" fill="#a898cc" fill-opacity="0.51"/>
<circle cx="208.1" cy="1108.4" r="0.77" fill="#a898cc" fill-opacity="0.83"/>
<circle cx="177.8" cy="1083.6" r="1.25" fill="#a898cc" fill-opacity="0.43"/>
<circle cx="185.6" cy="1097.4" r="0.70" fill="#a898cc" fill-opacity="0.66"/>
<circle cx="206.6" cy="1099.6" r="0.57" fill="#a898cc" fill-opacity="0.77"/>
<circle cx="201.6" cy="1103.0" r="0.67" fill="#a898cc" fill-opacity="0.55"/>
<circle cx="161.8" cy="1099.1" r="0.81" fill="#a898cc" fill-opacity="0.70"/>
<circle cx="184.5" cy="1110.5" r="1.05" fill="#a898cc" fill-opacity="0.55"/>
<circle cx="198.2" cy="1089.7" r="0.88" fill="#a898cc" fill-opacity="0.43"/>
<circle cx="189.9" cy="1099.3" r="1.00" fill="#a898cc" fill-opacity="0.71"/>
<circle cx="199.2" cy="1091.9" r="1.07" fill="#a898cc" fill-opacity="0.57"/>
<circle cx="197.7" cy="1107.1" r="1.06" fill="#a898cc" fill-opacity="0.77"/>
<circle cx="206.5" cy="1089.5" r="0.95" fill="#a898cc" fill-opacity="0.66"/>
<circle cx="159.3" cy="1097.9" r="1.04" fill="#a898cc" fill-opacity="0.67"/>
<circle cx="192.8" cy="1081.6" r="0.88" fill="#a898cc" fill-opacity="0.78"/>
<circle cx="170.3" cy="1077.8" r="0.95" fill="#a898cc" fill-opacity="0.77"/>
<circle cx="168.2" cy="1088.1" r="0.75" fill="#a898cc" fill-opacity="0.68"/>
<circle cx="199.8" cy="1104.0" r="1.21" fill="#a898cc" fill-opacity="0.52"/>
<circle cx="156.5" cy="1107.0" r="1.24" fill="#a898cc" fill-opacity="0.72"/>
<circle cx="167.0" cy="1084.3" r="0.85" fill="#a898cc" fill-opacity="0.70"/>
<circle cx="163.6" cy="1119.7" r="0.51" fill="#a898cc" fill-opacity="0.74"/>
<circle cx="179.4" cy="1080.8" r="0.51" fill="#a898cc" fill-opacity="0.57"/>
<circle cx="157.5" cy="1083.3" r="1.20" fill="#a898cc" fill-opacity="0.51"/>
<circle cx="189.3" cy="1103.3" r="1.29" fill="#a898cc" fill-opacity="0.70"/>
<circle cx="197.6" cy="1116.7" r="1.27" fill="#a898cc" fill-opacity="0.68"/>
<circle cx="183.4" cy="1128.4" r="1.06" fill="#a898cc" fill-opacity="0.50"/>
<circle cx="182.4" cy="1076.0" r="0.96" fill="#a898cc" fill-opacity="0.58"/>
<circle cx="174.9" cy="1117.5" r="0.92" fill="#a898cc" fill-opacity="0.62"/>
<circle cx="185.7" cy="1091.7" r="0.66" fill="#a898cc" fill-opacity="0.82"/>
<circle cx="161.7" cy="1082.6" r="1.00" fill="#a898cc" fill-opacity="0.53"/>
<circle cx="169.3" cy="1106.8" r="0.62" fill="#a898cc" fill-opacity="0.85"/>
<circle cx="179.1" cy="1068.8" r="0.50" fill="#a898cc" fill-opacity="0.72"/>
<circle cx="172.7" cy="1118.6" r="1.04" fill="#a898cc" fill-opacity="0.44"/>
<circle cx="164.7" cy="1114.9" r="1.20" fill="#a898cc" fill-opacity="0.64"/>
<circle cx="170.5" cy="1120.1" r="0.97" fill="#a898cc" fill-opacity="0.55"/>
<circle cx="165.0" cy="1093.1" r="0.51" fill="#a898cc" fill-opacity="0.56"/>
<circle cx="198.3" cy="1109.3" r="0.90" fill="#a898cc" fill-opacity="0.79"/>
<circle cx="179.9" cy="1071.0" r="1.29" fill="#a898cc" fill-opacity="0.54"/>
<circle cx="170.1" cy="1108.7" r="0.58" fill="#a898cc" fill-opacity="0.64"/>
<circle cx="169.4" cy="1097.2" r="1.91" fill="#8e7cc2" fill-opacity="0.59"/>
<circle cx="181.7" cy="1098.7" r="0.87" fill="#8e7cc2" fill-opacity="0.52"/>
<circle cx="184.9" cy="1091.6" r="0.81" fill="#8e7cc2" fill-opacity="0.46"/>
<circle cx="178.1" cy="1101.7" r="0.81" fill="#8e7cc2" fill-opacity="0.36"/>
<circle cx="185.3" cy="1114.1" r="1.46" fill="#8e7cc2" fill-opacity="0.38"/>
<circle cx="181.6" cy="1112.2" r="1.86" fill="#8e7cc2" fill-opacity="0.37"/>
<circle cx="161.1" cy="1090.8" r="1.20" fill="#8e7cc2" fill-opacity="0.42"/>
<circle cx="193.1" cy="1099.3" r="1.57" fill="#8e7cc2" fill-opacity="0.53"/>
<circle cx="182.7" cy="1110.9" r="1.89" fill="#8e7cc2" fill-opacity="0.33"/>
<circle cx="188.1" cy="1069.9" r="0.98" fill="#8e7cc2" fill-opacity="0.55"/>
<circle cx="183.9" cy="1103.2" r="1.14" fill="#8e7cc2" fill-opacity="0.40"/>
<circle cx="163.2" cy="1086.9" r="1.75" fill="#8e7cc2" fill-opacity="0.50"/>
<circle cx="190.2" cy="1107.6" r="1.70" fill="#8e7cc2" fill-opacity="0.33"/>
<circle cx="206.2" cy="1089.8" r="1.06" fill="#8e7cc2" fill-opacity="0.39"/>
<circle cx="179.9" cy="1118.3" r="1.10" fill="#8e7cc2" fill-opacity="0.31"/>
<circle cx="180.1" cy="1111.8" r="1.22" fill="#8e7cc2" fill-opacity="0.44"/>
<circle cx="197.5" cy="1080.0" r="1.54" fill="#8e7cc2" fill-opacity="0.56"/>
<circle cx="165.3" cy="1111.3" r="1.09" fill="#8e7cc2" fill-opacity="0.55"/>
<circle cx="200.9" cy="1077.3" r="1.53" fill="#8e7cc2" fill-opacity="0.33"/>
<circle cx="204.4" cy="1110.2" r="1.86" fill="#8e7cc2" fill-opacity="0.46"/>
<circle cx="205.8" cy="1083.6" r="1.71" fill="#8e7cc2" fill-opacity="0.41"/>
<circle cx="163.0" cy="1103.0" r="1.28" fill="#8e7cc2" fill-opacity="0.44"/>
<circle cx="190.9" cy="1099.2" r="1.00" fill="#8e7cc2" fill-opacity="0.47"/>
<circle cx="197.8" cy="1079.0" r="0.98" fill="#8e7cc2" fill-opacity="0.44"/>
<circle cx="172.5" cy="1089.8" r="0.90" fill="#8e7cc2" fill-opacity="0.48"/>
<circle cx="182.4" cy="1123.0" r="1.01" fill="#8e7cc2" fill-opacity="0.56"/>
<circle cx="173.0" cy="1117.0" r="1.46" fill="#8e7cc2" fill-opacity="0.57"/>
<circle cx="204.2" cy="1083.6" r="1.62" fill="#8e7cc2" fill-opacity="0.32"/>
<circle cx="188.7" cy="1119.0" r="1.98" fill="#8e7cc2" fill-opacity="0.52"/>
<circle cx="186.7" cy="1115.4" r="1.95" fill="#8e7cc2" fill-opacity="0.45"/>
<circle cx="199.4" cy="1077.0" r="1.74" fill="#8e7cc2" fill-opacity="0.49"/>
<circle cx="171.3" cy="1082.2" r="0.94" fill="#8e7cc2" fill-opacity="0.58"/>
<circle cx="195.6" cy="1101.3" r="1.54" fill="#8e7cc2" fill-opacity="0.59"/>
<circle cx="183.9" cy="1113.0" r="1.82" fill="#8e7cc2" fill-opacity="0.40"/>
<circle cx="165.4" cy="1108.7" r="0.86" fill="#8e7cc2" fill-opacity="0.58"/>
<circle cx="179.4" cy="1095.6" r="0.92" fill="#8e7cc2" fill-opacity="0.34"/>
<circle cx="160.8" cy="1119.6" r="0.97" fill="#8e7cc2" fill-opacity="0.37"/>
<circle cx="172.1" cy="1118.7" r="1.88" fill="#8e7cc2" fill-opacity="0.46"/>
<circle cx="198.5" cy="1084.9" r="1.32" fill="#8e7cc2" fill-opacity="0.56"/>
<circle cx="162.0" cy="1087.5" r="1.41" fill="#8e7cc2" fill-opacity="0.41"/>
<circle cx="172.7" cy="1101.5" r="1.05" fill="#8e7cc2" fill-opacity="0.53"/>
<circle cx="189.4" cy="1108.6" r="1.00" fill="#8e7cc2" fill-opacity="0.41"/>
<circle cx="197.5" cy="1103.7" r="1.53" fill="#8e7cc2" fill-opacity="0.50"/>
<circle cx="186.2" cy="1091.2" r="1.57" fill="#8e7cc2" fill-opacity="0.36"/>
<circle cx="167.6" cy="1117.8" r="1.81" fill="#8e7cc2" fill-opacity="0.50"/>
<circle cx="184.2" cy="1097.6" r="1.18" fill="#8e7cc2" fill-opacity="0.44"/>
<circle cx="186.9" cy="1099.6" r="1.24" fill="#8e7cc2" fill-opacity="0.47"/>
<circle cx="185.4" cy="1104.1" r="1.18" fill="#8e7cc2" fill-opacity="0.52"/>
<circle cx="152.7" cy="1085.2" r="1.53" fill="#8e7cc2" fill-opacity="0.57"/>
<circle cx="161.4" cy="1088.4" r="1.30" fill="#8e7cc2" fill-opacity="0.32"/>
<circle cx="202.8" cy="1107.8" r="1.83" fill="#8e7cc2" fill-opacity="0.31"/>
<circle cx="187.5" cy="1114.2" r="1.18" fill="#8e7cc2" fill-opacity="0.55"/>
<circle cx="179.9" cy="1115.3" r="1.39" fill="#8e7cc2" fill-opacity="0.59"/>
<circle cx="173.6" cy="1121.9" r="0.86" fill="#8e7cc2" fill-opacity="0.43"/>
<circle cx="192.8" cy="1091.6" r="1.23" fill="#8e7cc2" fill-opacity="0.50"/>
<circle cx="159.2" cy="1088.5" r="1.53" fill="#8e7cc2" fill-opacity="0.50"/>
<circle cx="172.3" cy="1114.6" r="1.28" fill="#8e7cc2" fill-opacity="0.46"/>
<circle cx="154.4" cy="1086.1" r="1.28" fill="#8e7cc2" fill-opacity="0.43"/>
<circle cx="195.0" cy="1071.3" r="1.09" fill="#8e7cc2" fill-opacity="0.52"/>
<circle cx="180.6" cy="1124.9" r="0.85" fill="#8e7cc2" fill-opacity="0.45"/>
<circle cx="157.3" cy="1086.9" r="1.90" fill="#8e7cc2" fill-opacity="0.54"/>
<circle cx="160.6" cy="1089.5" r="0.82" fill="#8e7cc2" fill-opacity="0.47"/>
<circle cx="156.1" cy="1087.8" r="1.00" fill="#8e7cc2" fill-opacity="0.48"/>
<circle cx="204.6" cy="1106.5" r="1.79" fill="#8e7cc2" fill-opacity="0.43"/>
<circle cx="170.8" cy="1074.5" r="1.16" fill="#8e7cc2" fill-opacity="0.33"/>
<circle cx="181.1" cy="1079.4" r="0.99" fill="#8e7cc2" fill-opacity="0.43"/>
<circle cx="194.9" cy="1071.6" r="1.48" fill="#8e7cc2" fill-opacity="0.59"/>
<circle cx="190.0" cy="1117.4" r="0.81" fill="#8e7cc2" fill-opacity="0.37"/>
<circle cx="185.5" cy="1092.7" r="1.59" fill="#8e7cc2" fill-opacity="0.45"/>
<circle cx="210.2" cy="1095.6" r="0.95" fill="#8e7cc2" fill-opacity="0.38"/>
<circle cx="197.5" cy="1097.0" r="1.02" fill="#8e7cc2" fill-opacity="0.57"/>
<circle cx="167.8" cy="1086.4" r="1.47" fill="#8e7cc2" fill-opacity="0.43"/>
<circle cx="158.5" cy="1104.0" r="1.00" fill="#8e7cc2" fill-opacity="0.48"/>
<circle cx="202.5" cy="1091.3" r="1.74" fill="#8e7cc2" fill-opacity="0.38"/>
<circle cx="181.6" cy="1100.1" r="1.98" fill="#8e7cc2" fill-opacity="0.34"/>
<circle cx="162.4" cy="1115.3" r="1.68" fill="#8e7cc2" fill-opacity="0.49"/>
<circle cx="154.9" cy="1108.4" r="1.33" fill="#8e7cc2" fill-opacity="0.55"/>
<circle cx="204.4" cy="1106.8" r="0.92" fill="#8e7cc2" fill-opacity="0.42"/>
<circle cx="168.1" cy="1102.6" r="1.34" fill="#8e7cc2" fill-opacity="0.56"/>
<circle cx="193.2" cy="1101.1" r="1.97" fill="#8e7cc2" fill-opacity="0.43"/>
<circle cx="158.0" cy="1117.0" r="1.73" fill="#8e7cc2" fill-opacity="0.35"/>
<circle cx="169.7" cy="1090.4" r="1.73" fill="#8e7cc2" fill-opacity="0.47"/>
<circle cx="182.5" cy="1090.4" r="1.91" fill="#8e7cc2" fill-opacity="0.37"/>
<circle cx="192.0" cy="1081.2" r="1.87" fill="#8e7cc2" fill-opacity="0.33"/>
<circle cx="199.7" cy="1105.1" r="1.92" fill="#8e7cc2" fill-opacity="0.44"/>
<circle cx="168.0" cy="1097.4" r="1.45" fill="#8e7cc2" fill-opacity="0.43"/>
<circle cx="200.0" cy="1080.6" r="1.37" fill="#8e7cc2" fill-opacity="0.34"/>
<circle cx="198.3" cy="1122.4" r="1.53" fill="#8e7cc2" fill-opacity="0.37"/>
<circle cx="185.4" cy="1084.5" r="1.34" fill="#8e7cc2" fill-opacity="0.56"/>
<circle cx="187.9" cy="1104.1" r="0.86" fill="#8e7cc2" fill-opacity="0.35"/>
<circle cx="168.1" cy="1110.5" r="1.45" fill="#4a0c94" fill-opacity="0.46"/>
<circle cx="160.1" cy="1099.7" r="2.19" fill="#4a0c94" fill-opacity="0.59"/>
<circle cx="165.5" cy="1089.5" r="2.20" fill="#4a0c94" fill-opacity="0.53"/>
<circle cx="160.1" cy="1099.4" r="1.73" fill="#4a0c94" fill-opacity="0.69"/>
<circle cx="163.7" cy="1094.0" r="2.32" fill="#4a0c94" fill-opacity="0.88"/>
<circle cx="157.8" cy="1089.0" r="2.16" fill="#4a0c94" fill-opacity="0.59"/>
<circle cx="163.0" cy="1086.4" r="1.78" fill="#4a0c94" fill-opacity="0.63"/>
<circle cx="166.5" cy="1094.7" r="1.39" fill="#4a0c94" fill-opacity="0.54"/>
<circle cx="167.8" cy="1089.4" r="2.25" fill="#4a0c94" fill-opacity="0.86"/>
<circle cx="181.3" cy="1080.2" r="2.51" fill="#4a0c94" fill-opacity="0.60"/>
<circle cx="165.2" cy="1116.4" r="2.06" fill="#4a0c94" fill-opacity="0.63"/>
<circle cx="186.6" cy="1069.9" r="1.46" fill="#4a0c94" fill-opacity="0.55"/>
<circle cx="160.0" cy="1113.7" r="2.07" fill="#4a0c94" fill-opacity="0.53"/>
<circle cx="158.3" cy="1117.1" r="2.54" fill="#4a0c94" fill-opacity="0.72"/>
<circle cx="185.4" cy="1069.9" r="1.36" fill="#4a0c94" fill-opacity="0.48"/>
<circle cx="165.9" cy="1085.5" r="2.14" fill="#4a0c94" fill-opacity="0.58"/>
<circle cx="155.4" cy="1109.3" r="1.15" fill="#4a0c94" fill-opacity="0.63"/>
<circle cx="192.8" cy="1116.7" r="2.17" fill="#4a0c94" fill-opacity="0.89"/>
<circle cx="180.4" cy="1086.2" r="1.70" fill="#4a0c94" fill-opacity="0.69"/>
<circle cx="163.8" cy="1078.1" r="2.56" fill="#4a0c94" fill-opacity="0.87"/>
<circle cx="183.3" cy="1110.0" r="2.55" fill="#4a0c94" fill-opacity="0.52"/>
<circle cx="190.4" cy="1095.9" r="1.94" fill="#4a0c94" fill-opacity="0.51"/>
<circle cx="191.8" cy="1111.4" r="2.27" fill="#4a0c94" fill-opacity="0.77"/>
<circle cx="175.6" cy="1108.5" r="1.57" fill="#4a0c94" fill-opacity="0.53"/>
<circle cx="182.2" cy="1119.9" r="1.78" fill="#4a0c94" fill-opacity="0.87"/>
<circle cx="198.8" cy="1110.2" r="1.90" fill="#4a0c94" fill-opacity="0.51"/>
<circle cx="173.0" cy="1106.9" r="2.43" fill="#4a0c94" fill-opacity="0.61"/>
<circle cx="199.3" cy="1106.5" r="1.85" fill="#4a0c94" fill-opacity="0.85"/>
<circle cx="177.6" cy="1084.1" r="2.45" fill="#4a0c94" fill-opacity="0.45"/>
<circle cx="178.2" cy="1091.9" r="2.31" fill="#4a0c94" fill-opacity="0.54"/>
<circle cx="188.2" cy="1071.1" r="2.23" fill="#4a0c94" fill-opacity="0.50"/>
<circle cx="172.3" cy="1103.9" r="2.15" fill="#4a0c94" fill-opacity="0.90"/>
<circle cx="156.1" cy="1094.4" r="2.07" fill="#4a0c94" fill-opacity="0.51"/>
<circle cx="167.9" cy="1111.3" r="2.20" fill="#4a0c94" fill-opacity="0.64"/>
<circle cx="165.1" cy="1115.0" r="1.33" fill="#4a0c94" fill-opacity="0.48"/>
<circle cx="180.5" cy="1102.5" r="2.07" fill="#4a0c94" fill-opacity="0.66"/>
<circle cx="163.3" cy="1082.3" r="1.09" fill="#4a0c94" fill-opacity="0.82"/>
<circle cx="181.3" cy="1095.5" r="1.69" fill="#4a0c94" fill-opacity="0.80"/>
<circle cx="156.1" cy="1112.7" r="2.11" fill="#4a0c94" fill-opacity="0.75"/>
<circle cx="202.3" cy="1082.6" r="1.94" fill="#4a0c94" fill-opacity="0.47"/>
<circle cx="156.2" cy="1105.3" r="1.84" fill="#4a0c94" fill-opacity="0.71"/>
<circle cx="164.0" cy="1121.2" r="1.39" fill="#4a0c94" fill-opacity="0.74"/>
<circle cx="169.5" cy="1102.7" r="1.03" fill="#4a0c94" fill-opacity="0.51"/>
<circle cx="175.3" cy="1118.8" r="1.04" fill="#4a0c94" fill-opacity="0.48"/>
<circle cx="188.8" cy="1068.4" r="1.69" fill="#4a0c94" fill-opacity="0.66"/>
<circle cx="172.7" cy="1092.2" r="1.86" fill="#4a0c94" fill-opacity="0.75"/>
<circle cx="203.0" cy="1089.4" r="1.87" fill="#4a0c94" fill-opacity="0.63"/>
<circle cx="198.8" cy="1086.1" r="1.76" fill="#4a0c94" fill-opacity="0.78"/>
<circle cx="173.0" cy="1101.1" r="1.95" fill="#4a0c94" fill-opacity="0.84"/>
<circle cx="173.8" cy="1105.1" r="1.17" fill="#4a0c94" fill-opacity="0.86"/>
<circle cx="198.9" cy="1114.2" r="1.14" fill="#4a0c94" fill-opacity="0.68"/>
<circle cx="192.6" cy="1090.0" r="1.49" fill="#4a0c94" fill-opacity="0.73"/>
<circle cx="160.0" cy="1087.6" r="1.63" fill="#4a0c94" fill-opacity="0.47"/>
<circle cx="167.1" cy="1088.8" r="1.99" fill="#4a0c94" fill-opacity="0.65"/>
<circle cx="176.7" cy="1128.9" r="1.51" fill="#4a0c94" fill-opacity="0.89"/>
<circle cx="158.3" cy="1101.2" r="1.43" fill="#4a0c94" fill-opacity="0.53"/>
<circle cx="174.7" cy="1077.7" r="1.94" fill="#4a0c94" fill-opacity="0.53"/>
<circle cx="155.7" cy="1096.4" r="2.22" fill="#4a0c94" fill-opacity="0.75"/>
<circle cx="158.8" cy="1111.3" r="1.95" fill="#4a0c94" fill-opacity="0.66"/>
<circle cx="168.8" cy="1085.4" r="1.10" fill="#4a0c94" fill-opacity="0.52"/>
</g>
<ellipse cx="246.6" cy="1097.5" rx="31.5" ry="31.3" fill="url(#rg2)"/>
<g clip-path="url(#pl2)">
<circle cx="276.1" cy="1089.2" r="0.43" fill="#6a38bc" fill-opacity="0.38"/>
<circle cx="260.4" cy="1074.4" r="0.80" fill="#6a38bc" fill-opacity="0.46"/>
<circle cx="227.3" cy="1082.4" r="0.75" fill="#6a38bc" fill-opacity="0.41"/>
<circle cx="228.7" cy="1105.8" r="0.83" fill="#6a38bc" fill-opacity="0.70"/>
<circle cx="268.7" cy="1090.3" r="0.67" fill="#6a38bc" fill-opacity="0.44"/>
<circle cx="251.7" cy="1098.7" r="0.68" fill="#6a38bc" fill-opacity="0.46"/>
<circle cx="224.9" cy="1117.7" r="0.72" fill="#6a38bc" fill-opacity="0.55"/>
<circle cx="247.0" cy="1102.3" r="0.60" fill="#6a38bc" fill-opacity="0.40"/>
<circle cx="215.2" cy="1095.5" r="0.80" fill="#6a38bc" fill-opacity="0.41"/>
<circle cx="268.7" cy="1080.2" r="0.84" fill="#6a38bc" fill-opacity="0.67"/>
<circle cx="248.9" cy="1069.8" r="0.61" fill="#6a38bc" fill-opacity="0.69"/>
<circle cx="258.9" cy="1094.5" r="0.85" fill="#6a38bc" fill-opacity="0.60"/>
<circle cx="224.3" cy="1103.0" r="0.69" fill="#6a38bc" fill-opacity="0.67"/>
<circle cx="217.9" cy="1097.3" r="0.61" fill="#6a38bc" fill-opacity="0.66"/>
<circle cx="263.9" cy="1085.0" r="0.74" fill="#6a38bc" fill-opacity="0.67"/>
<circle cx="243.0" cy="1076.0" r="0.53" fill="#6a38bc" fill-opacity="0.46"/>
<circle cx="242.6" cy="1085.4" r="0.94" fill="#6a38bc" fill-opacity="0.44"/>
<circle cx="261.5" cy="1088.3" r="0.97" fill="#6a38bc" fill-opacity="0.60"/>
<circle cx="223.9" cy="1096.9" r="0.79" fill="#6a38bc" fill-opacity="0.56"/>
<circle cx="241.2" cy="1110.7" r="0.71" fill="#6a38bc" fill-opacity="0.68"/>
<circle cx="240.4" cy="1091.5" r="0.89" fill="#6a38bc" fill-opacity="0.60"/>
<circle cx="258.1" cy="1090.0" r="0.85" fill="#6a38bc" fill-opacity="0.37"/>
<circle cx="237.2" cy="1084.1" r="0.54" fill="#6a38bc" fill-opacity="0.66"/>
<circle cx="264.5" cy="1111.5" r="0.91" fill="#6a38bc" fill-opacity="0.44"/>
<circle cx="253.9" cy="1126.0" r="0.65" fill="#6a38bc" fill-opacity="0.60"/>
<circle cx="265.2" cy="1101.2" r="0.50" fill="#6a38bc" fill-opacity="0.59"/>
<circle cx="273.3" cy="1112.7" r="0.42" fill="#6a38bc" fill-opacity="0.61"/>
<circle cx="262.4" cy="1099.6" r="0.89" fill="#6a38bc" fill-opacity="0.40"/>
<circle cx="257.2" cy="1121.3" r="0.63" fill="#6a38bc" fill-opacity="0.37"/>
<circle cx="258.8" cy="1096.7" r="0.42" fill="#6a38bc" fill-opacity="0.47"/>
<circle cx="226.3" cy="1079.6" r="0.47" fill="#6a38bc" fill-opacity="0.47"/>
<circle cx="267.3" cy="1101.5" r="0.86" fill="#6a38bc" fill-opacity="0.61"/>
<circle cx="269.0" cy="1081.8" r="0.92" fill="#6a38bc" fill-opacity="0.60"/>
<circle cx="231.9" cy="1100.0" r="0.80" fill="#6a38bc" fill-opacity="0.46"/>
<circle cx="263.5" cy="1110.0" r="0.92" fill="#6a38bc" fill-opacity="0.39"/>
<circle cx="229.6" cy="1087.5" r="0.71" fill="#6a38bc" fill-opacity="0.40"/>
<circle cx="262.1" cy="1093.5" r="0.76" fill="#6a38bc" fill-opacity="0.50"/>
<circle cx="270.0" cy="1100.1" r="0.48" fill="#6a38bc" fill-opacity="0.37"/>
<circle cx="259.0" cy="1100.1" r="0.46" fill="#6a38bc" fill-opacity="0.57"/>
<circle cx="215.4" cy="1095.9" r="0.96" fill="#6a38bc" fill-opacity="0.70"/>
<circle cx="248.9" cy="1118.2" r="0.55" fill="#6a38bc" fill-opacity="0.56"/>
<circle cx="226.6" cy="1077.8" r="0.83" fill="#6a38bc" fill-opacity="0.44"/>
<circle cx="226.4" cy="1108.1" r="0.40" fill="#6a38bc" fill-opacity="0.36"/>
<circle cx="237.8" cy="1103.2" r="0.83" fill="#6a38bc" fill-opacity="0.43"/>
<circle cx="257.5" cy="1105.3" r="0.54" fill="#6a38bc" fill-opacity="0.43"/>
<circle cx="225.3" cy="1094.7" r="0.59" fill="#6a38bc" fill-opacity="0.57"/>
<circle cx="253.6" cy="1126.5" r="0.98" fill="#6a38bc" fill-opacity="0.61"/>
<circle cx="226.0" cy="1106.6" r="0.75" fill="#6a38bc" fill-opacity="0.37"/>
<circle cx="226.7" cy="1108.7" r="0.51" fill="#6a38bc" fill-opacity="0.38"/>
<circle cx="252.8" cy="1079.6" r="0.71" fill="#6a38bc" fill-opacity="0.67"/>
<circle cx="233.6" cy="1086.7" r="0.99" fill="#6a38bc" fill-opacity="0.48"/>
<circle cx="272.5" cy="1100.6" r="0.46" fill="#6a38bc" fill-opacity="0.46"/>
<circle cx="260.5" cy="1075.9" r="0.41" fill="#6a38bc" fill-opacity="0.51"/>
<circle cx="228.0" cy="1109.1" r="0.52" fill="#6a38bc" fill-opacity="0.56"/>
<circle cx="261.6" cy="1105.0" r="0.62" fill="#6a38bc" fill-opacity="0.68"/>
<circle cx="270.9" cy="1110.1" r="0.52" fill="#6a38bc" fill-opacity="0.55"/>
<circle cx="229.9" cy="1110.9" r="0.85" fill="#6a38bc" fill-opacity="0.49"/>
<circle cx="254.5" cy="1105.1" r="0.45" fill="#6a38bc" fill-opacity="0.65"/>
<circle cx="227.1" cy="1073.8" r="0.82" fill="#6a38bc" fill-opacity="0.36"/>
<circle cx="231.6" cy="1074.3" r="0.83" fill="#6a38bc" fill-opacity="0.52"/>
<circle cx="233.3" cy="1114.0" r="0.88" fill="#6a38bc" fill-opacity="0.44"/>
<circle cx="225.1" cy="1093.9" r="0.97" fill="#6a38bc" fill-opacity="0.63"/>
<circle cx="272.8" cy="1085.6" r="0.58" fill="#6a38bc" fill-opacity="0.43"/>
<circle cx="230.6" cy="1098.6" r="0.66" fill="#6a38bc" fill-opacity="0.59"/>
<circle cx="267.6" cy="1085.8" r="0.89" fill="#6a38bc" fill-opacity="0.38"/>
<circle cx="227.2" cy="1122.1" r="0.49" fill="#6a38bc" fill-opacity="0.50"/>
<circle cx="255.0" cy="1101.2" r="0.94" fill="#6a38bc" fill-opacity="0.70"/>
<circle cx="239.9" cy="1088.5" r="0.58" fill="#6a38bc" fill-opacity="0.43"/>
<circle cx="234.2" cy="1074.8" r="0.66" fill="#6a38bc" fill-opacity="0.53"/>
<circle cx="264.3" cy="1112.4" r="0.97" fill="#6a38bc" fill-opacity="0.61"/>
<circle cx="265.2" cy="1110.3" r="0.83" fill="#6a38bc" fill-opacity="0.44"/>
<circle cx="263.5" cy="1084.5" r="0.82" fill="#6a38bc" fill-opacity="0.49"/>
<circle cx="274.5" cy="1096.7" r="0.74" fill="#6a38bc" fill-opacity="0.40"/>
<circle cx="241.6" cy="1099.4" r="0.76" fill="#6a38bc" fill-opacity="0.66"/>
<circle cx="256.1" cy="1117.8" r="0.69" fill="#6a38bc" fill-opacity="0.49"/>
<circle cx="239.1" cy="1068.1" r="0.82" fill="#6a38bc" fill-opacity="0.52"/>
<circle cx="264.2" cy="1093.2" r="0.85" fill="#6a38bc" fill-opacity="0.58"/>
<circle cx="248.7" cy="1068.7" r="0.53" fill="#6a38bc" fill-opacity="0.57"/>
<circle cx="225.5" cy="1112.2" r="0.99" fill="#6a38bc" fill-opacity="0.57"/>
<circle cx="268.0" cy="1099.1" r="0.83" fill="#6a38bc" fill-opacity="0.66"/>
<circle cx="229.9" cy="1074.6" r="0.41" fill="#6a38bc" fill-opacity="0.68"/>
<circle cx="243.4" cy="1073.3" r="0.94" fill="#6a38bc" fill-opacity="0.66"/>
<circle cx="269.6" cy="1114.2" r="0.86" fill="#6a38bc" fill-opacity="0.42"/>
<circle cx="245.7" cy="1073.6" r="0.51" fill="#6a38bc" fill-opacity="0.63"/>
<circle cx="262.6" cy="1116.2" r="0.66" fill="#6a38bc" fill-opacity="0.44"/>
<circle cx="226.9" cy="1088.9" r="0.52" fill="#6a38bc" fill-opacity="0.69"/>
<circle cx="248.2" cy="1098.3" r="0.69" fill="#6a38bc" fill-opacity="0.64"/>
<circle cx="231.7" cy="1074.7" r="0.69" fill="#6a38bc" fill-opacity="0.59"/>
<circle cx="238.3" cy="1111.4" r="0.70" fill="#6a38bc" fill-opacity="0.36"/>
<circle cx="270.6" cy="1110.6" r="0.50" fill="#6a38bc" fill-opacity="0.61"/>
<circle cx="250.9" cy="1078.1" r="0.80" fill="#6a38bc" fill-opacity="0.63"/>
<circle cx="254.2" cy="1088.8" r="0.50" fill="#6a38bc" fill-opacity="0.48"/>
<circle cx="229.9" cy="1101.2" r="0.41" fill="#6a38bc" fill-opacity="0.55"/>
<circle cx="265.3" cy="1093.6" r="0.72" fill="#6a38bc" fill-opacity="0.48"/>
<circle cx="219.1" cy="1107.8" r="0.59" fill="#6a38bc" fill-opacity="0.58"/>
<circle cx="223.6" cy="1099.8" r="0.95" fill="#6a38bc" fill-opacity="0.38"/>
<circle cx="254.4" cy="1082.1" r="0.79" fill="#6a38bc" fill-opacity="0.63"/>
<circle cx="235.3" cy="1081.4" r="0.90" fill="#6a38bc" fill-opacity="0.38"/>
<circle cx="233.4" cy="1083.0" r="0.72" fill="#6a38bc" fill-opacity="0.65"/>
<circle cx="254.0" cy="1073.8" r="0.58" fill="#6a38bc" fill-opacity="0.43"/>
<circle cx="232.0" cy="1101.5" r="0.57" fill="#6a38bc" fill-opacity="0.69"/>
<circle cx="268.3" cy="1115.8" r="0.63" fill="#6a38bc" fill-opacity="0.48"/>
<circle cx="242.9" cy="1105.4" r="0.67" fill="#6a38bc" fill-opacity="0.41"/>
<circle cx="230.7" cy="1103.5" r="0.94" fill="#6a38bc" fill-opacity="0.67"/>
<circle cx="223.1" cy="1106.4" r="0.96" fill="#6a38bc" fill-opacity="0.46"/>
<circle cx="259.1" cy="1106.4" r="0.51" fill="#6a38bc" fill-opacity="0.59"/>
<circle cx="233.4" cy="1110.8" r="0.88" fill="#6a38bc" fill-opacity="0.43"/>
<circle cx="255.6" cy="1074.3" r="0.64" fill="#6a38bc" fill-opacity="0.64"/>
<circle cx="230.4" cy="1122.0" r="0.96" fill="#6a38bc" fill-opacity="0.53"/>
<circle cx="235.3" cy="1069.2" r="0.85" fill="#6a38bc" fill-opacity="0.61"/>
<circle cx="267.4" cy="1075.3" r="0.85" fill="#6a38bc" fill-opacity="0.69"/>
<circle cx="240.2" cy="1121.4" r="0.80" fill="#6a38bc" fill-opacity="0.48"/>
<circle cx="236.2" cy="1105.5" r="0.97" fill="#6a38bc" fill-opacity="0.47"/>
<circle cx="217.1" cy="1101.8" r="0.51" fill="#6a38bc" fill-opacity="0.69"/>
<circle cx="250.3" cy="1101.3" r="0.61" fill="#6a38bc" fill-opacity="0.48"/>
<circle cx="272.3" cy="1082.9" r="0.86" fill="#6a38bc" fill-opacity="0.50"/>
<circle cx="231.8" cy="1093.5" r="0.90" fill="#6a38bc" fill-opacity="0.49"/>
<circle cx="241.2" cy="1121.9" r="0.49" fill="#6a38bc" fill-opacity="0.46"/>
<circle cx="255.3" cy="1093.2" r="0.49" fill="#6a38bc" fill-opacity="0.42"/>
<circle cx="246.5" cy="1117.8" r="0.55" fill="#6a38bc" fill-opacity="0.47"/>
<circle cx="246.9" cy="1112.8" r="0.77" fill="#6a38bc" fill-opacity="0.47"/>
<circle cx="227.4" cy="1117.2" r="0.44" fill="#6a38bc" fill-opacity="0.40"/>
<circle cx="258.8" cy="1081.0" r="0.87" fill="#6a38bc" fill-opacity="0.40"/>
<circle cx="217.9" cy="1093.4" r="0.60" fill="#6a38bc" fill-opacity="0.62"/>
<circle cx="231.4" cy="1084.9" r="1.00" fill="#6a38bc" fill-opacity="0.49"/>
<circle cx="222.1" cy="1101.5" r="0.59" fill="#6a38bc" fill-opacity="0.64"/>
<circle cx="226.8" cy="1083.7" r="0.72" fill="#6a38bc" fill-opacity="0.69"/>
<circle cx="275.4" cy="1095.5" r="0.67" fill="#6a38bc" fill-opacity="0.49"/>
<circle cx="239.9" cy="1096.5" r="0.46" fill="#6a38bc" fill-opacity="0.70"/>
<circle cx="267.7" cy="1119.4" r="0.81" fill="#6a38bc" fill-opacity="0.67"/>
<circle cx="262.0" cy="1105.6" r="0.88" fill="#6a38bc" fill-opacity="0.35"/>
<circle cx="261.3" cy="1108.9" r="0.50" fill="#6a38bc" fill-opacity="0.40"/>
<circle cx="242.0" cy="1089.2" r="0.98" fill="#6a38bc" fill-opacity="0.58"/>
<circle cx="275.0" cy="1106.6" r="0.54" fill="#6a38bc" fill-opacity="0.52"/>
<circle cx="235.7" cy="1093.3" r="0.70" fill="#6a38bc" fill-opacity="0.37"/>
<circle cx="256.0" cy="1126.0" r="0.89" fill="#6a38bc" fill-opacity="0.53"/>
<circle cx="234.4" cy="1070.9" r="0.48" fill="#6a38bc" fill-opacity="0.52"/>
<circle cx="253.9" cy="1105.4" r="0.46" fill="#6a38bc" fill-opacity="0.42"/>
<circle cx="260.4" cy="1102.3" r="0.63" fill="#6a38bc" fill-opacity="0.57"/>
<circle cx="265.5" cy="1074.4" r="0.83" fill="#6a38bc" fill-opacity="0.53"/>
<circle cx="257.6" cy="1091.2" r="0.46" fill="#6a38bc" fill-opacity="0.64"/>
<circle cx="236.5" cy="1087.2" r="0.63" fill="#6a38bc" fill-opacity="0.45"/>
<circle cx="227.9" cy="1106.1" r="0.64" fill="#6a38bc" fill-opacity="0.63"/>
<circle cx="255.5" cy="1075.8" r="0.68" fill="#6a38bc" fill-opacity="0.45"/>
<circle cx="249.6" cy="1066.6" r="0.54" fill="#6a38bc" fill-opacity="0.60"/>
<circle cx="238.6" cy="1073.4" r="0.42" fill="#6a38bc" fill-opacity="0.54"/>
<circle cx="250.7" cy="1110.7" r="0.75" fill="#6a38bc" fill-opacity="0.58"/>
<circle cx="227.5" cy="1078.4" r="0.82" fill="#6a38bc" fill-opacity="0.52"/>
<circle cx="273.0" cy="1105.6" r="0.89" fill="#6a38bc" fill-opacity="0.64"/>
<circle cx="241.6" cy="1094.0" r="0.52" fill="#6a38bc" fill-opacity="0.39"/>
<circle cx="231.3" cy="1080.1" r="0.51" fill="#6a38bc" fill-opacity="0.68"/>
<circle cx="276.2" cy="1093.4" r="0.68" fill="#6a38bc" fill-opacity="0.45"/>
<circle cx="253.9" cy="1125.0" r="0.82" fill="#6a38bc" fill-opacity="0.45"/>
<circle cx="266.0" cy="1083.9" r="0.65" fill="#6a38bc" fill-opacity="0.50"/>
<circle cx="242.7" cy="1076.7" r="0.80" fill="#6a38bc" fill-opacity="0.39"/>
<circle cx="241.7" cy="1081.9" r="0.95" fill="#6a38bc" fill-opacity="0.43"/>
<circle cx="235.1" cy="1117.4" r="0.64" fill="#6a38bc" fill-opacity="0.53"/>
<circle cx="259.1" cy="1091.0" r="0.86" fill="#6a38bc" fill-opacity="0.59"/>
<circle cx="251.4" cy="1077.1" r="0.67" fill="#6a38bc" fill-opacity="0.47"/>
<circle cx="230.9" cy="1100.1" r="0.51" fill="#6a38bc" fill-opacity="0.52"/>
<circle cx="254.3" cy="1117.5" r="0.74" fill="#6a38bc" fill-opacity="0.46"/>
<circle cx="258.3" cy="1118.9" r="0.92" fill="#6a38bc" fill-opacity="0.43"/>
<circle cx="227.5" cy="1080.6" r="0.93" fill="#6a38bc" fill-opacity="0.59"/>
<circle cx="241.5" cy="1110.8" r="0.90" fill="#6a38bc" fill-opacity="0.45"/>
<circle cx="275.9" cy="1099.8" r="0.52" fill="#6a38bc" fill-opacity="0.46"/>
<circle cx="239.9" cy="1111.9" r="0.83" fill="#6a38bc" fill-opacity="0.47"/>
<circle cx="227.6" cy="1104.9" r="0.90" fill="#6a38bc" fill-opacity="0.36"/>
<circle cx="236.6" cy="1092.0" r="0.49" fill="#6a38bc" fill-opacity="0.56"/>
<circle cx="240.9" cy="1103.1" r="0.75" fill="#6a38bc" fill-opacity="0.67"/>
<circle cx="233.0" cy="1080.1" r="0.88" fill="#6a38bc" fill-opacity="0.67"/>
<circle cx="256.6" cy="1111.4" r="0.98" fill="#6a38bc" fill-opacity="0.67"/>
<circle cx="254.3" cy="1122.6" r="0.92" fill="#6a38bc" fill-opacity="0.56"/>
<circle cx="239.9" cy="1075.9" r="0.54" fill="#6a38bc" fill-opacity="0.42"/>
<circle cx="270.4" cy="1107.2" r="0.48" fill="#6a38bc" fill-opacity="0.57"/>
<circle cx="230.5" cy="1110.6" r="0.98" fill="#6a38bc" fill-opacity="0.49"/>
<circle cx="227.4" cy="1100.5" r="0.53" fill="#6a38bc" fill-opacity="0.43"/>
<circle cx="218.7" cy="1091.7" r="0.45" fill="#6a38bc" fill-opacity="0.68"/>
<circle cx="243.3" cy="1091.0" r="0.82" fill="#6a38bc" fill-opacity="0.49"/>
<circle cx="236.6" cy="1096.6" r="0.71" fill="#6a38bc" fill-opacity="0.53"/>
<circle cx="251.5" cy="1074.1" r="0.82" fill="#6a38bc" fill-opacity="0.61"/>
<circle cx="247.5" cy="1102.3" r="0.69" fill="#6a38bc" fill-opacity="0.40"/>
<circle cx="257.8" cy="1111.3" r="0.72" fill="#6a38bc" fill-opacity="0.57"/>
<circle cx="228.1" cy="1073.3" r="0.46" fill="#6a38bc" fill-opacity="0.55"/>
<circle cx="268.7" cy="1110.8" r="0.66" fill="#6a38bc" fill-opacity="0.40"/>
<circle cx="237.1" cy="1121.1" r="0.68" fill="#6a38bc" fill-opacity="0.68"/>
<circle cx="235.3" cy="1111.9" r="0.95" fill="#6a38bc" fill-opacity="0.56"/>
<circle cx="268.4" cy="1114.8" r="0.62" fill="#6a38bc" fill-opacity="0.68"/>
<circle cx="228.0" cy="1076.3" r="0.94" fill="#6a38bc" fill-opacity="0.53"/>
<circle cx="251.5" cy="1096.5" r="0.60" fill="#6a38bc" fill-opacity="0.64"/>
<circle cx="272.4" cy="1098.8" r="1.00" fill="#6a38bc" fill-opacity="0.60"/>
<circle cx="252.3" cy="1090.9" r="0.72" fill="#6a38bc" fill-opacity="0.56"/>
<circle cx="227.9" cy="1105.5" r="0.87" fill="#6a38bc" fill-opacity="0.41"/>
<circle cx="269.9" cy="1104.2" r="0.98" fill="#6a38bc" fill-opacity="0.64"/>
<circle cx="238.7" cy="1082.4" r="0.94" fill="#6a38bc" fill-opacity="0.36"/>
<circle cx="247.2" cy="1125.3" r="0.94" fill="#6a38bc" fill-opacity="0.49"/>
<circle cx="255.4" cy="1091.9" r="0.76" fill="#6a38bc" fill-opacity="0.37"/>
<circle cx="248.0" cy="1111.1" r="0.40" fill="#6a38bc" fill-opacity="0.49"/>
<circle cx="229.9" cy="1097.5" r="0.79" fill="#6a38bc" fill-opacity="0.37"/>
<circle cx="223.9" cy="1095.0" r="0.64" fill="#6a38bc" fill-opacity="0.67"/>
<circle cx="261.0" cy="1112.1" r="0.68" fill="#6a38bc" fill-opacity="0.48"/>
<circle cx="270.1" cy="1093.6" r="0.71" fill="#6a38bc" fill-opacity="0.50"/>
<circle cx="218.2" cy="1109.2" r="0.88" fill="#6a38bc" fill-opacity="0.58"/>
<circle cx="259.3" cy="1118.1" r="0.48" fill="#6a38bc" fill-opacity="0.47"/>
<circle cx="272.8" cy="1101.3" r="0.99" fill="#6a38bc" fill-opacity="0.57"/>
<circle cx="232.3" cy="1090.9" r="0.67" fill="#6a38bc" fill-opacity="0.51"/>
<circle cx="232.1" cy="1105.1" r="0.53" fill="#6a38bc" fill-opacity="0.61"/>
<circle cx="273.9" cy="1089.2" r="0.77" fill="#6a38bc" fill-opacity="0.36"/>
<circle cx="237.3" cy="1124.7" r="0.98" fill="#6a38bc" fill-opacity="0.54"/>
<circle cx="222.9" cy="1086.6" r="0.55" fill="#6a38bc" fill-opacity="0.60"/>
<circle cx="227.4" cy="1119.1" r="0.68" fill="#6a38bc" fill-opacity="0.58"/>
<circle cx="225.0" cy="1089.6" r="0.68" fill="#6a38bc" fill-opacity="0.68"/>
<circle cx="247.2" cy="1077.2" r="0.70" fill="#6a38bc" fill-opacity="0.66"/>
<circle cx="246.1" cy="1072.2" r="0.98" fill="#6a38bc" fill-opacity="0.39"/>
<circle cx="226.3" cy="1083.2" r="0.67" fill="#6a38bc" fill-opacity="0.69"/>
<circle cx="265.9" cy="1093.5" r="0.77" fill="#6a38bc" fill-opacity="0.62"/>
<circle cx="240.3" cy="1079.7" r="0.88" fill="#6a38bc" fill-opacity="0.47"/>
<circle cx="262.1" cy="1117.8" r="0.79" fill="#6a38bc" fill-opacity="0.49"/>
<circle cx="215.3" cy="1097.7" r="0.88" fill="#6a38bc" fill-opacity="0.49"/>
<circle cx="266.8" cy="1085.0" r="0.64" fill="#6a38bc" fill-opacity="0.58"/>
<circle cx="252.8" cy="1068.5" r="0.80" fill="#6a38bc" fill-opacity="0.58"/>
<circle cx="241.5" cy="1101.2" r="0.67" fill="#6a38bc" fill-opacity="0.39"/>
<circle cx="264.3" cy="1090.8" r="0.76" fill="#6a38bc" fill-opacity="0.61"/>
<circle cx="259.1" cy="1123.3" r="0.60" fill="#6a38bc" fill-opacity="0.38"/>
<circle cx="230.4" cy="1085.9" r="0.95" fill="#6a38bc" fill-opacity="0.51"/>
<circle cx="250.1" cy="1099.9" r="0.42" fill="#6a38bc" fill-opacity="0.52"/>
<circle cx="245.0" cy="1090.6" r="0.60" fill="#6a38bc" fill-opacity="0.52"/>
<circle cx="271.4" cy="1079.0" r="0.93" fill="#6a38bc" fill-opacity="0.57"/>
<circle cx="233.4" cy="1090.8" r="0.77" fill="#6a38bc" fill-opacity="0.41"/>
<circle cx="237.2" cy="1124.4" r="0.74" fill="#6a38bc" fill-opacity="0.60"/>
<circle cx="230.3" cy="1101.1" r="0.70" fill="#6a38bc" fill-opacity="0.55"/>
<circle cx="248.1" cy="1126.2" r="0.99" fill="#6a38bc" fill-opacity="0.41"/>
<circle cx="248.0" cy="1125.7" r="0.83" fill="#6a38bc" fill-opacity="0.43"/>
<circle cx="233.4" cy="1089.6" r="0.92" fill="#6a38bc" fill-opacity="0.56"/>
<circle cx="234.0" cy="1096.6" r="0.64" fill="#6a38bc" fill-opacity="0.52"/>
<circle cx="238.0" cy="1107.6" r="0.52" fill="#6a38bc" fill-opacity="0.60"/>
<circle cx="272.4" cy="1084.4" r="0.77" fill="#6a38bc" fill-opacity="0.63"/>
<circle cx="256.2" cy="1108.2" r="0.82" fill="#6a38bc" fill-opacity="0.35"/>
<circle cx="270.6" cy="1111.4" r="0.52" fill="#6a38bc" fill-opacity="0.41"/>
<circle cx="223.8" cy="1115.0" r="0.41" fill="#6a38bc" fill-opacity="0.66"/>
<circle cx="238.6" cy="1119.8" r="0.68" fill="#6a38bc" fill-opacity="0.39"/>
<circle cx="259.4" cy="1094.1" r="0.88" fill="#6a38bc" fill-opacity="0.66"/>
<circle cx="217.0" cy="1106.3" r="0.44" fill="#6a38bc" fill-opacity="0.40"/>
<circle cx="238.0" cy="1098.4" r="0.88" fill="#6a38bc" fill-opacity="0.53"/>
<circle cx="251.7" cy="1081.5" r="0.42" fill="#6a38bc" fill-opacity="0.66"/>
<circle cx="251.9" cy="1117.0" r="0.48" fill="#6a38bc" fill-opacity="0.56"/>
<circle cx="232.9" cy="1100.6" r="0.42" fill="#6a38bc" fill-opacity="0.47"/>
<circle cx="249.2" cy="1085.5" r="0.54" fill="#6a38bc" fill-opacity="0.57"/>
<circle cx="227.9" cy="1076.4" r="0.79" fill="#6a38bc" fill-opacity="0.65"/>
<circle cx="263.5" cy="1122.4" r="0.42" fill="#6a38bc" fill-opacity="0.39"/>
<circle cx="268.7" cy="1114.2" r="0.70" fill="#6a38bc" fill-opacity="0.67"/>
<circle cx="277.0" cy="1092.7" r="0.77" fill="#6a38bc" fill-opacity="0.47"/>
<circle cx="272.6" cy="1090.4" r="0.52" fill="#6a38bc" fill-opacity="0.54"/>
<circle cx="250.7" cy="1098.0" r="0.78" fill="#6a38bc" fill-opacity="0.60"/>
<circle cx="264.2" cy="1076.7" r="0.48" fill="#6a38bc" fill-opacity="0.61"/>
<circle cx="272.3" cy="1094.5" r="0.69" fill="#6a38bc" fill-opacity="0.45"/>
<circle cx="269.5" cy="1107.1" r="0.98" fill="#6a38bc" fill-opacity="0.39"/>
<circle cx="259.5" cy="1070.7" r="0.61" fill="#6a38bc" fill-opacity="0.65"/>
<circle cx="256.2" cy="1111.7" r="0.74" fill="#6a38bc" fill-opacity="0.66"/>
<circle cx="237.4" cy="1095.4" r="0.96" fill="#6a38bc" fill-opacity="0.55"/>
<circle cx="249.3" cy="1082.7" r="0.60" fill="#6a38bc" fill-opacity="0.38"/>
<circle cx="254.7" cy="1116.6" r="0.65" fill="#6a38bc" fill-opacity="0.58"/>
<circle cx="255.7" cy="1081.8" r="0.96" fill="#6a38bc" fill-opacity="0.58"/>
<circle cx="239.0" cy="1108.6" r="0.97" fill="#6a38bc" fill-opacity="0.58"/>
<circle cx="271.7" cy="1104.4" r="0.63" fill="#6a38bc" fill-opacity="0.50"/>
<circle cx="248.1" cy="1082.8" r="0.56" fill="#6a38bc" fill-opacity="0.54"/>
<circle cx="254.2" cy="1092.3" r="0.90" fill="#6a38bc" fill-opacity="0.60"/>
<circle cx="257.9" cy="1120.4" r="0.77" fill="#6a38bc" fill-opacity="0.60"/>
<circle cx="229.4" cy="1093.4" r="0.70" fill="#6a38bc" fill-opacity="0.43"/>
<circle cx="227.3" cy="1103.0" r="0.46" fill="#6a38bc" fill-opacity="0.43"/>
<circle cx="235.6" cy="1113.8" r="0.74" fill="#6a38bc" fill-opacity="0.61"/>
<circle cx="245.3" cy="1120.8" r="0.60" fill="#6a38bc" fill-opacity="0.43"/>
<circle cx="266.3" cy="1121.1" r="0.96" fill="#6a38bc" fill-opacity="0.64"/>
<circle cx="252.4" cy="1108.2" r="0.46" fill="#6a38bc" fill-opacity="0.46"/>
<circle cx="244.2" cy="1098.7" r="0.65" fill="#6a38bc" fill-opacity="0.59"/>
<circle cx="253.5" cy="1085.7" r="0.40" fill="#6a38bc" fill-opacity="0.63"/>
<circle cx="233.7" cy="1109.5" r="0.49" fill="#6a38bc" fill-opacity="0.44"/>
<circle cx="245.0" cy="1113.3" r="0.54" fill="#6a38bc" fill-opacity="0.53"/>
<circle cx="253.4" cy="1081.5" r="0.65" fill="#6a38bc" fill-opacity="0.52"/>
<circle cx="261.7" cy="1074.6" r="0.99" fill="#6a38bc" fill-opacity="0.41"/>
<circle cx="252.4" cy="1081.5" r="0.75" fill="#6a38bc" fill-opacity="0.53"/>
<circle cx="230.7" cy="1089.5" r="0.44" fill="#6a38bc" fill-opacity="0.35"/>
<circle cx="273.2" cy="1084.5" r="0.68" fill="#6a38bc" fill-opacity="0.38"/>
<circle cx="258.3" cy="1078.6" r="0.68" fill="#6a38bc" fill-opacity="0.57"/>
<circle cx="254.7" cy="1109.7" r="0.89" fill="#6a38bc" fill-opacity="0.61"/>
<circle cx="267.2" cy="1095.4" r="0.98" fill="#6a38bc" fill-opacity="0.66"/>
<circle cx="216.9" cy="1096.1" r="0.50" fill="#6a38bc" fill-opacity="0.37"/>
<circle cx="251.2" cy="1086.7" r="0.71" fill="#6a38bc" fill-opacity="0.61"/>
<circle cx="240.3" cy="1084.2" r="0.87" fill="#6a38bc" fill-opacity="0.36"/>
<circle cx="219.0" cy="1086.2" r="0.73" fill="#6a38bc" fill-opacity="0.46"/>
<circle cx="273.5" cy="1097.0" r="0.87" fill="#6a38bc" fill-opacity="0.66"/>
<circle cx="268.5" cy="1088.1" r="0.89" fill="#6a38bc" fill-opacity="0.53"/>
<circle cx="246.1" cy="1114.0" r="0.56" fill="#6a38bc" fill-opacity="0.36"/>
<circle cx="232.1" cy="1083.9" r="0.95" fill="#6a38bc" fill-opacity="0.37"/>
<circle cx="249.5" cy="1084.0" r="0.59" fill="#6a38bc" fill-opacity="0.45"/>
<circle cx="271.0" cy="1090.8" r="0.68" fill="#6a38bc" fill-opacity="0.41"/>
<circle cx="264.8" cy="1103.1" r="0.98" fill="#6a38bc" fill-opacity="0.51"/>
<circle cx="233.3" cy="1071.3" r="0.43" fill="#6a38bc" fill-opacity="0.46"/>
<circle cx="233.6" cy="1104.8" r="0.63" fill="#6a38bc" fill-opacity="0.59"/>
<circle cx="264.0" cy="1117.0" r="0.58" fill="#6a38bc" fill-opacity="0.58"/>
<circle cx="259.5" cy="1122.2" r="0.65" fill="#6a38bc" fill-opacity="0.64"/>
<circle cx="270.1" cy="1092.7" r="0.41" fill="#6a38bc" fill-opacity="0.48"/>
<circle cx="271.7" cy="1093.7" r="0.86" fill="#6a38bc" fill-opacity="0.52"/>
<circle cx="274.5" cy="1086.6" r="0.77" fill="#6a38bc" fill-opacity="0.56"/>
<circle cx="248.7" cy="1099.1" r="0.52" fill="#6a38bc" fill-opacity="0.60"/>
<circle cx="262.5" cy="1075.0" r="0.93" fill="#6a38bc" fill-opacity="0.36"/>
<circle cx="262.3" cy="1100.3" r="0.41" fill="#6a38bc" fill-opacity="0.56"/>
<circle cx="273.6" cy="1084.8" r="0.46" fill="#6a38bc" fill-opacity="0.58"/>
<circle cx="234.4" cy="1075.2" r="0.65" fill="#6a38bc" fill-opacity="0.43"/>
<circle cx="269.2" cy="1078.0" r="0.83" fill="#6a38bc" fill-opacity="0.54"/>
<circle cx="262.8" cy="1100.9" r="0.54" fill="#6a38bc" fill-opacity="0.43"/>
<circle cx="252.1" cy="1122.5" r="0.81" fill="#6a38bc" fill-opacity="0.41"/>
<circle cx="247.2" cy="1097.1" r="0.97" fill="#6a38bc" fill-opacity="0.55"/>
<circle cx="236.4" cy="1084.4" r="0.81" fill="#6a38bc" fill-opacity="0.66"/>
<circle cx="249.8" cy="1108.4" r="0.87" fill="#6a38bc" fill-opacity="0.44"/>
<circle cx="264.0" cy="1111.0" r="0.51" fill="#6a38bc" fill-opacity="0.42"/>
<circle cx="244.7" cy="1106.4" r="0.89" fill="#6a38bc" fill-opacity="0.55"/>
<circle cx="236.9" cy="1083.6" r="0.87" fill="#6a38bc" fill-opacity="0.69"/>
<circle cx="253.1" cy="1097.5" r="0.59" fill="#6a38bc" fill-opacity="0.38"/>
<circle cx="221.4" cy="1101.5" r="0.76" fill="#6a38bc" fill-opacity="0.47"/>
<circle cx="270.8" cy="1091.9" r="1.00" fill="#6a38bc" fill-opacity="0.50"/>
<circle cx="240.5" cy="1089.7" r="0.72" fill="#6a38bc" fill-opacity="0.58"/>
<circle cx="249.3" cy="1122.1" r="0.48" fill="#6a38bc" fill-opacity="0.51"/>
<circle cx="229.5" cy="1084.0" r="0.49" fill="#6a38bc" fill-opacity="0.42"/>
<circle cx="228.6" cy="1115.4" r="0.66" fill="#6a38bc" fill-opacity="0.42"/>
<circle cx="237.4" cy="1112.3" r="0.48" fill="#6a38bc" fill-opacity="0.56"/>
<circle cx="228.9" cy="1100.7" r="0.40" fill="#6a38bc" fill-opacity="0.67"/>
<circle cx="256.9" cy="1100.5" r="0.58" fill="#6a38bc" fill-opacity="0.63"/>
<circle cx="271.9" cy="1086.9" r="0.52" fill="#6a38bc" fill-opacity="0.64"/>
<circle cx="256.9" cy="1099.6" r="0.47" fill="#6a38bc" fill-opacity="0.55"/>
<circle cx="225.9" cy="1083.8" r="0.97" fill="#6a38bc" fill-opacity="0.61"/>
<circle cx="246.1" cy="1084.5" r="0.95" fill="#6a38bc" fill-opacity="0.67"/>
<circle cx="250.8" cy="1089.7" r="0.83" fill="#6a38bc" fill-opacity="0.53"/>
<circle cx="230.7" cy="1093.8" r="0.86" fill="#6a38bc" fill-opacity="0.63"/>
<circle cx="248.7" cy="1080.4" r="0.84" fill="#6a38bc" fill-opacity="0.38"/>
<circle cx="244.3" cy="1092.5" r="0.40" fill="#6a38bc" fill-opacity="0.39"/>
<circle cx="228.7" cy="1072.1" r="0.68" fill="#6a38bc" fill-opacity="0.58"/>
<circle cx="221.8" cy="1082.7" r="0.98" fill="#6a38bc" fill-opacity="0.64"/>
<circle cx="242.5" cy="1104.8" r="0.94" fill="#6a38bc" fill-opacity="0.45"/>
<circle cx="248.2" cy="1068.4" r="0.50" fill="#6a38bc" fill-opacity="0.42"/>
<circle cx="221.0" cy="1110.9" r="0.91" fill="#6a38bc" fill-opacity="0.70"/>
<circle cx="243.0" cy="1121.9" r="0.92" fill="#6a38bc" fill-opacity="0.48"/>
<circle cx="233.8" cy="1089.8" r="0.91" fill="#6a38bc" fill-opacity="0.50"/>
<circle cx="221.2" cy="1099.7" r="0.59" fill="#6a38bc" fill-opacity="0.63"/>
<circle cx="226.6" cy="1102.7" r="0.84" fill="#6a38bc" fill-opacity="0.58"/>
<circle cx="239.2" cy="1069.2" r="0.89" fill="#6a38bc" fill-opacity="0.49"/>
<circle cx="228.5" cy="1074.6" r="0.43" fill="#6a38bc" fill-opacity="0.58"/>
<circle cx="226.9" cy="1094.1" r="0.47" fill="#6a38bc" fill-opacity="0.45"/>
<circle cx="246.6" cy="1068.1" r="0.99" fill="#6a38bc" fill-opacity="0.61"/>
<circle cx="267.5" cy="1078.0" r="0.50" fill="#6a38bc" fill-opacity="0.59"/>
<circle cx="265.2" cy="1077.6" r="0.57" fill="#6a38bc" fill-opacity="0.60"/>
<circle cx="230.6" cy="1110.6" r="0.84" fill="#6a38bc" fill-opacity="0.59"/>
<circle cx="263.2" cy="1116.4" r="0.44" fill="#6a38bc" fill-opacity="0.42"/>
<circle cx="260.2" cy="1070.8" r="0.55" fill="#6a38bc" fill-opacity="0.62"/>
<circle cx="255.8" cy="1117.6" r="0.61" fill="#6a38bc" fill-opacity="0.38"/>
<circle cx="225.2" cy="1107.0" r="0.91" fill="#6a38bc" fill-opacity="0.39"/>
<circle cx="246.1" cy="1099.4" r="0.53" fill="#6a38bc" fill-opacity="0.44"/>
<circle cx="259.6" cy="1070.1" r="0.53" fill="#6a38bc" fill-opacity="0.52"/>
<circle cx="224.8" cy="1094.2" r="0.98" fill="#6a38bc" fill-opacity="0.68"/>
<circle cx="266.1" cy="1102.3" r="0.72" fill="#6a38bc" fill-opacity="0.58"/>
<circle cx="218.6" cy="1092.1" r="0.46" fill="#6a38bc" fill-opacity="0.51"/>
<circle cx="252.9" cy="1086.2" r="0.50" fill="#6a38bc" fill-opacity="0.57"/>
<circle cx="260.8" cy="1115.8" r="0.47" fill="#6a38bc" fill-opacity="0.42"/>
<circle cx="232.5" cy="1121.4" r="0.77" fill="#6a38bc" fill-opacity="0.56"/>
<circle cx="232.8" cy="1083.3" r="0.99" fill="#6a38bc" fill-opacity="0.56"/>
<circle cx="241.0" cy="1091.6" r="0.55" fill="#6a38bc" fill-opacity="0.56"/>
<circle cx="272.0" cy="1090.3" r="0.43" fill="#6a38bc" fill-opacity="0.63"/>
<circle cx="252.3" cy="1121.0" r="0.51" fill="#6a38bc" fill-opacity="0.37"/>
<circle cx="249.7" cy="1075.9" r="0.76" fill="#6a38bc" fill-opacity="0.60"/>
<circle cx="229.7" cy="1086.3" r="0.59" fill="#6a38bc" fill-opacity="0.54"/>
<circle cx="247.0" cy="1113.5" r="0.89" fill="#6a38bc" fill-opacity="0.47"/>
<circle cx="241.9" cy="1072.1" r="0.68" fill="#6a38bc" fill-opacity="0.62"/>
<circle cx="245.7" cy="1099.1" r="0.91" fill="#6a38bc" fill-opacity="0.61"/>
<circle cx="244.4" cy="1067.6" r="0.64" fill="#6a38bc" fill-opacity="0.50"/>
<circle cx="224.2" cy="1078.5" r="0.57" fill="#6a38bc" fill-opacity="0.62"/>
<circle cx="261.9" cy="1093.3" r="0.41" fill="#6a38bc" fill-opacity="0.41"/>
<circle cx="237.6" cy="1086.0" r="0.97" fill="#6a38bc" fill-opacity="0.38"/>
<circle cx="261.4" cy="1086.1" r="0.95" fill="#6a38bc" fill-opacity="0.47"/>
<circle cx="266.4" cy="1114.0" r="0.58" fill="#6a38bc" fill-opacity="0.68"/>
<circle cx="253.6" cy="1083.3" r="0.69" fill="#6a38bc" fill-opacity="0.54"/>
<circle cx="248.9" cy="1081.6" r="0.74" fill="#6a38bc" fill-opacity="0.53"/>
<circle cx="226.6" cy="1085.2" r="0.66" fill="#6a38bc" fill-opacity="0.49"/>
<circle cx="221.8" cy="1116.6" r="0.71" fill="#6a38bc" fill-opacity="0.39"/>
<circle cx="225.0" cy="1114.5" r="0.81" fill="#6a38bc" fill-opacity="0.38"/>
<circle cx="228.5" cy="1108.4" r="0.91" fill="#6a38bc" fill-opacity="0.44"/>
<circle cx="271.2" cy="1083.3" r="0.41" fill="#6a38bc" fill-opacity="0.52"/>
<circle cx="222.1" cy="1092.4" r="0.93" fill="#6a38bc" fill-opacity="0.42"/>
<circle cx="248.0" cy="1094.9" r="0.90" fill="#6a38bc" fill-opacity="0.44"/>
<circle cx="274.6" cy="1102.1" r="0.98" fill="#6a38bc" fill-opacity="0.58"/>
<circle cx="250.1" cy="1078.1" r="0.55" fill="#6a38bc" fill-opacity="0.58"/>
<circle cx="252.5" cy="1082.4" r="0.63" fill="#6a38bc" fill-opacity="0.44"/>
<circle cx="243.9" cy="1126.5" r="0.40" fill="#6a38bc" fill-opacity="0.36"/>
<circle cx="257.8" cy="1122.9" r="0.74" fill="#6a38bc" fill-opacity="0.62"/>
<circle cx="236.7" cy="1069.7" r="0.75" fill="#6a38bc" fill-opacity="0.36"/>
<circle cx="262.8" cy="1109.5" r="0.47" fill="#6a38bc" fill-opacity="0.46"/>
<circle cx="241.8" cy="1128.2" r="0.98" fill="#6a38bc" fill-opacity="0.59"/>
<circle cx="228.8" cy="1107.1" r="0.44" fill="#6a38bc" fill-opacity="0.51"/>
<circle cx="260.9" cy="1115.4" r="0.89" fill="#6a38bc" fill-opacity="0.49"/>
<circle cx="238.9" cy="1070.3" r="0.95" fill="#6a38bc" fill-opacity="0.50"/>
<circle cx="249.0" cy="1126.9" r="0.70" fill="#6a38bc" fill-opacity="0.45"/>
<circle cx="234.7" cy="1070.9" r="0.99" fill="#6a38bc" fill-opacity="0.48"/>
<circle cx="245.1" cy="1113.1" r="0.58" fill="#6a38bc" fill-opacity="0.43"/>
<circle cx="268.6" cy="1085.4" r="0.43" fill="#6a38bc" fill-opacity="0.38"/>
<circle cx="258.9" cy="1125.8" r="0.61" fill="#6a38bc" fill-opacity="0.63"/>
<circle cx="248.8" cy="1111.2" r="0.97" fill="#6a38bc" fill-opacity="0.38"/>
<circle cx="223.7" cy="1097.4" r="0.60" fill="#6a38bc" fill-opacity="0.61"/>
<circle cx="255.8" cy="1085.6" r="0.58" fill="#6a38bc" fill-opacity="0.52"/>
<circle cx="221.8" cy="1100.7" r="0.86" fill="#6a38bc" fill-opacity="0.47"/>
<circle cx="266.4" cy="1089.8" r="0.42" fill="#6a38bc" fill-opacity="0.50"/>
<circle cx="233.4" cy="1095.0" r="0.93" fill="#6a38bc" fill-opacity="0.56"/>
<circle cx="229.9" cy="1095.4" r="0.48" fill="#6a38bc" fill-opacity="0.45"/>
<circle cx="230.2" cy="1077.4" r="0.81" fill="#6a38bc" fill-opacity="0.36"/>
<circle cx="251.2" cy="1071.8" r="0.81" fill="#6a38bc" fill-opacity="0.53"/>
<circle cx="265.3" cy="1073.1" r="0.75" fill="#6a38bc" fill-opacity="0.50"/>
<circle cx="219.4" cy="1090.3" r="0.81" fill="#6a38bc" fill-opacity="0.62"/>
<circle cx="237.7" cy="1120.1" r="0.54" fill="#6a38bc" fill-opacity="0.55"/>
<circle cx="269.5" cy="1099.6" r="0.84" fill="#6a38bc" fill-opacity="0.67"/>
<circle cx="217.3" cy="1100.2" r="0.52" fill="#6a38bc" fill-opacity="0.35"/>
<circle cx="229.2" cy="1091.5" r="0.64" fill="#6a38bc" fill-opacity="0.56"/>
<circle cx="247.7" cy="1068.5" r="0.59" fill="#6a38bc" fill-opacity="0.55"/>
<circle cx="228.7" cy="1078.6" r="0.75" fill="#6a38bc" fill-opacity="0.51"/>
<circle cx="248.2" cy="1093.4" r="1.59" fill="#5a24b0" fill-opacity="0.53"/>
<circle cx="257.3" cy="1120.9" r="1.25" fill="#5a24b0" fill-opacity="0.60"/>
<circle cx="252.9" cy="1100.8" r="1.07" fill="#5a24b0" fill-opacity="0.49"/>
<circle cx="241.9" cy="1084.3" r="1.18" fill="#5a24b0" fill-opacity="0.64"/>
<circle cx="238.6" cy="1070.4" r="1.43" fill="#5a24b0" fill-opacity="0.55"/>
<circle cx="261.9" cy="1115.3" r="1.17" fill="#5a24b0" fill-opacity="0.78"/>
<circle cx="252.1" cy="1122.9" r="1.16" fill="#5a24b0" fill-opacity="0.58"/>
<circle cx="258.1" cy="1122.1" r="1.30" fill="#5a24b0" fill-opacity="0.69"/>
<circle cx="249.2" cy="1093.0" r="1.35" fill="#5a24b0" fill-opacity="0.60"/>
<circle cx="247.7" cy="1126.0" r="1.04" fill="#5a24b0" fill-opacity="0.63"/>
<circle cx="235.9" cy="1102.2" r="1.11" fill="#5a24b0" fill-opacity="0.45"/>
<circle cx="221.6" cy="1097.4" r="1.80" fill="#5a24b0" fill-opacity="0.88"/>
<circle cx="231.4" cy="1124.2" r="0.90" fill="#5a24b0" fill-opacity="0.52"/>
<circle cx="221.0" cy="1092.7" r="1.39" fill="#5a24b0" fill-opacity="0.47"/>
<circle cx="228.1" cy="1109.5" r="1.19" fill="#5a24b0" fill-opacity="0.79"/>
<circle cx="246.3" cy="1088.3" r="1.27" fill="#5a24b0" fill-opacity="0.76"/>
<circle cx="252.7" cy="1072.7" r="1.78" fill="#5a24b0" fill-opacity="0.78"/>
<circle cx="224.0" cy="1115.2" r="1.41" fill="#5a24b0" fill-opacity="0.72"/>
<circle cx="223.9" cy="1082.4" r="1.51" fill="#5a24b0" fill-opacity="0.66"/>
<circle cx="251.4" cy="1077.7" r="1.54" fill="#5a24b0" fill-opacity="0.86"/>
<circle cx="234.7" cy="1095.3" r="1.71" fill="#5a24b0" fill-opacity="0.55"/>
<circle cx="248.2" cy="1104.0" r="1.22" fill="#5a24b0" fill-opacity="0.63"/>
<circle cx="252.0" cy="1085.7" r="1.18" fill="#5a24b0" fill-opacity="0.80"/>
<circle cx="266.6" cy="1100.5" r="0.95" fill="#5a24b0" fill-opacity="0.80"/>
<circle cx="243.0" cy="1108.7" r="0.91" fill="#5a24b0" fill-opacity="0.54"/>
<circle cx="243.5" cy="1087.3" r="0.84" fill="#5a24b0" fill-opacity="0.56"/>
<circle cx="272.6" cy="1104.5" r="1.56" fill="#5a24b0" fill-opacity="0.69"/>
<circle cx="243.5" cy="1102.8" r="1.52" fill="#5a24b0" fill-opacity="0.56"/>
<circle cx="216.8" cy="1088.0" r="1.04" fill="#5a24b0" fill-opacity="0.76"/>
<circle cx="225.3" cy="1106.2" r="1.20" fill="#5a24b0" fill-opacity="0.77"/>
<circle cx="241.0" cy="1096.8" r="1.62" fill="#5a24b0" fill-opacity="0.56"/>
<circle cx="233.7" cy="1115.0" r="1.39" fill="#5a24b0" fill-opacity="0.79"/>
<circle cx="260.9" cy="1110.6" r="1.42" fill="#5a24b0" fill-opacity="0.66"/>
<circle cx="247.8" cy="1125.4" r="1.76" fill="#5a24b0" fill-opacity="0.74"/>
<circle cx="234.5" cy="1094.8" r="1.28" fill="#5a24b0" fill-opacity="0.80"/>
<circle cx="238.2" cy="1116.5" r="1.25" fill="#5a24b0" fill-opacity="0.59"/>
<circle cx="233.8" cy="1086.1" r="1.72" fill="#5a24b0" fill-opacity="0.83"/>
<circle cx="243.7" cy="1105.1" r="0.82" fill="#5a24b0" fill-opacity="0.82"/>
<circle cx="236.9" cy="1102.5" r="0.85" fill="#5a24b0" fill-opacity="0.80"/>
<circle cx="254.8" cy="1126.4" r="1.16" fill="#5a24b0" fill-opacity="0.73"/>
<circle cx="232.0" cy="1118.3" r="0.94" fill="#5a24b0" fill-opacity="0.57"/>
<circle cx="252.3" cy="1103.0" r="1.36" fill="#5a24b0" fill-opacity="0.90"/>
<circle cx="276.1" cy="1098.7" r="1.09" fill="#5a24b0" fill-opacity="0.52"/>
<circle cx="264.9" cy="1101.1" r="0.89" fill="#5a24b0" fill-opacity="0.67"/>
<circle cx="234.2" cy="1100.8" r="1.68" fill="#5a24b0" fill-opacity="0.71"/>
<circle cx="247.5" cy="1082.2" r="1.52" fill="#5a24b0" fill-opacity="0.76"/>
<circle cx="248.7" cy="1084.2" r="1.75" fill="#5a24b0" fill-opacity="0.66"/>
<circle cx="273.1" cy="1112.0" r="1.11" fill="#5a24b0" fill-opacity="0.85"/>
<circle cx="248.8" cy="1105.6" r="1.31" fill="#5a24b0" fill-opacity="0.70"/>
<circle cx="235.0" cy="1075.3" r="1.16" fill="#5a24b0" fill-opacity="0.79"/>
<circle cx="234.7" cy="1096.4" r="1.38" fill="#5a24b0" fill-opacity="0.61"/>
<circle cx="234.6" cy="1094.0" r="1.05" fill="#5a24b0" fill-opacity="0.57"/>
<circle cx="244.1" cy="1093.4" r="1.22" fill="#5a24b0" fill-opacity="0.63"/>
<circle cx="254.3" cy="1089.7" r="1.31" fill="#5a24b0" fill-opacity="0.81"/>
<circle cx="220.8" cy="1114.2" r="1.05" fill="#5a24b0" fill-opacity="0.67"/>
<circle cx="240.9" cy="1113.1" r="0.87" fill="#5a24b0" fill-opacity="0.80"/>
<circle cx="230.3" cy="1073.9" r="1.28" fill="#5a24b0" fill-opacity="0.53"/>
<circle cx="230.3" cy="1071.9" r="1.36" fill="#5a24b0" fill-opacity="0.57"/>
<circle cx="217.8" cy="1093.4" r="1.62" fill="#5a24b0" fill-opacity="0.73"/>
<circle cx="246.3" cy="1091.9" r="0.94" fill="#5a24b0" fill-opacity="0.45"/>
<circle cx="225.6" cy="1104.2" r="0.82" fill="#5a24b0" fill-opacity="0.82"/>
<circle cx="220.8" cy="1089.7" r="1.77" fill="#5a24b0" fill-opacity="0.79"/>
<circle cx="246.1" cy="1072.5" r="1.32" fill="#5a24b0" fill-opacity="0.80"/>
<circle cx="250.1" cy="1080.8" r="1.60" fill="#5a24b0" fill-opacity="0.52"/>
<circle cx="217.0" cy="1091.4" r="1.02" fill="#5a24b0" fill-opacity="0.85"/>
<circle cx="219.8" cy="1100.2" r="0.95" fill="#5a24b0" fill-opacity="0.47"/>
<circle cx="246.4" cy="1121.7" r="1.69" fill="#5a24b0" fill-opacity="0.70"/>
<circle cx="227.4" cy="1094.8" r="1.30" fill="#5a24b0" fill-opacity="0.77"/>
<circle cx="259.0" cy="1083.8" r="1.47" fill="#5a24b0" fill-opacity="0.61"/>
<circle cx="246.5" cy="1104.8" r="1.20" fill="#5a24b0" fill-opacity="0.72"/>
</g>
<ellipse cx="180.4" cy="1162" rx="30.5" ry="31.2" fill="url(#rg3)"/>
<g clip-path="url(#pl3)">
<circle cx="182.1" cy="1185.0" r="0.62" fill="#6a38bc" fill-opacity="0.56"/>
<circle cx="174.9" cy="1156.3" r="0.41" fill="#6a38bc" fill-opacity="0.64"/>
<circle cx="179.5" cy="1177.1" r="1.00" fill="#6a38bc" fill-opacity="0.51"/>
<circle cx="191.3" cy="1143.6" r="0.78" fill="#6a38bc" fill-opacity="0.40"/>
<circle cx="161.6" cy="1140.2" r="0.71" fill="#6a38bc" fill-opacity="0.61"/>
<circle cx="176.7" cy="1155.0" r="0.85" fill="#6a38bc" fill-opacity="0.56"/>
<circle cx="178.7" cy="1167.2" r="0.92" fill="#6a38bc" fill-opacity="0.52"/>
<circle cx="174.8" cy="1133.3" r="0.83" fill="#6a38bc" fill-opacity="0.67"/>
<circle cx="158.8" cy="1179.1" r="0.67" fill="#6a38bc" fill-opacity="0.68"/>
<circle cx="187.3" cy="1155.3" r="0.48" fill="#6a38bc" fill-opacity="0.43"/>
<circle cx="200.1" cy="1157.6" r="0.78" fill="#6a38bc" fill-opacity="0.46"/>
<circle cx="161.5" cy="1161.1" r="0.61" fill="#6a38bc" fill-opacity="0.55"/>
<circle cx="155.4" cy="1147.0" r="0.81" fill="#6a38bc" fill-opacity="0.68"/>
<circle cx="199.2" cy="1137.6" r="0.80" fill="#6a38bc" fill-opacity="0.41"/>
<circle cx="199.6" cy="1138.5" r="0.94" fill="#6a38bc" fill-opacity="0.55"/>
<circle cx="177.2" cy="1148.0" r="0.90" fill="#6a38bc" fill-opacity="0.55"/>
<circle cx="178.7" cy="1169.7" r="0.91" fill="#6a38bc" fill-opacity="0.70"/>
<circle cx="203.6" cy="1176.7" r="0.65" fill="#6a38bc" fill-opacity="0.40"/>
<circle cx="173.1" cy="1188.3" r="0.92" fill="#6a38bc" fill-opacity="0.37"/>
<circle cx="175.5" cy="1157.6" r="0.83" fill="#6a38bc" fill-opacity="0.47"/>
<circle cx="202.5" cy="1141.0" r="0.70" fill="#6a38bc" fill-opacity="0.70"/>
<circle cx="177.3" cy="1170.1" r="0.76" fill="#6a38bc" fill-opacity="0.36"/>
<circle cx="186.7" cy="1180.8" r="0.77" fill="#6a38bc" fill-opacity="0.40"/>
<circle cx="207.8" cy="1169.7" r="0.59" fill="#6a38bc" fill-opacity="0.69"/>
<circle cx="195.3" cy="1150.4" r="0.68" fill="#6a38bc" fill-opacity="0.53"/>
<circle cx="165.8" cy="1143.1" r="0.74" fill="#6a38bc" fill-opacity="0.57"/>
<circle cx="200.6" cy="1153.9" r="0.66" fill="#6a38bc" fill-opacity="0.60"/>
<circle cx="181.7" cy="1179.1" r="0.99" fill="#6a38bc" fill-opacity="0.53"/>
<circle cx="177.3" cy="1161.0" r="0.65" fill="#6a38bc" fill-opacity="0.55"/>
<circle cx="204.1" cy="1165.1" r="0.78" fill="#6a38bc" fill-opacity="0.37"/>
<circle cx="165.9" cy="1146.7" r="0.81" fill="#6a38bc" fill-opacity="0.47"/>
<circle cx="173.4" cy="1136.2" r="0.41" fill="#6a38bc" fill-opacity="0.37"/>
<circle cx="167.0" cy="1134.6" r="0.55" fill="#6a38bc" fill-opacity="0.51"/>
<circle cx="166.0" cy="1152.3" r="0.62" fill="#6a38bc" fill-opacity="0.46"/>
<circle cx="164.4" cy="1179.6" r="0.58" fill="#6a38bc" fill-opacity="0.48"/>
<circle cx="181.1" cy="1156.9" r="0.74" fill="#6a38bc" fill-opacity="0.61"/>
<circle cx="175.1" cy="1175.7" r="0.88" fill="#6a38bc" fill-opacity="0.43"/>
<circle cx="188.1" cy="1181.0" r="0.82" fill="#6a38bc" fill-opacity="0.39"/>
<circle cx="172.7" cy="1178.2" r="0.90" fill="#6a38bc" fill-opacity="0.50"/>
<circle cx="188.1" cy="1151.9" r="0.60" fill="#6a38bc" fill-opacity="0.58"/>
<circle cx="195.8" cy="1148.1" r="0.54" fill="#6a38bc" fill-opacity="0.39"/>
<circle cx="167.3" cy="1159.5" r="0.88" fill="#6a38bc" fill-opacity="0.64"/>
<circle cx="186.9" cy="1177.1" r="0.88" fill="#6a38bc" fill-opacity="0.57"/>
<circle cx="186.6" cy="1144.8" r="0.48" fill="#6a38bc" fill-opacity="0.45"/>
<circle cx="184.7" cy="1146.4" r="0.61" fill="#6a38bc" fill-opacity="0.50"/>
<circle cx="163.3" cy="1171.6" r="0.95" fill="#6a38bc" fill-opacity="0.40"/>
<circle cx="210.0" cy="1162.9" r="0.93" fill="#6a38bc" fill-opacity="0.70"/>
<circle cx="153.2" cy="1174.2" r="0.96" fill="#6a38bc" fill-opacity="0.43"/>
<circle cx="179.6" cy="1133.5" r="0.80" fill="#6a38bc" fill-opacity="0.53"/>
<circle cx="176.1" cy="1179.7" r="0.54" fill="#6a38bc" fill-opacity="0.37"/>
<circle cx="166.5" cy="1153.2" r="0.89" fill="#6a38bc" fill-opacity="0.37"/>
<circle cx="201.3" cy="1147.2" r="0.95" fill="#6a38bc" fill-opacity="0.66"/>
<circle cx="199.1" cy="1148.0" r="0.41" fill="#6a38bc" fill-opacity="0.61"/>
<circle cx="188.3" cy="1177.1" r="0.80" fill="#6a38bc" fill-opacity="0.53"/>
<circle cx="155.1" cy="1177.6" r="0.77" fill="#6a38bc" fill-opacity="0.47"/>
<circle cx="180.0" cy="1191.0" r="0.69" fill="#6a38bc" fill-opacity="0.62"/>
<circle cx="172.3" cy="1173.1" r="0.72" fill="#6a38bc" fill-opacity="0.64"/>
<circle cx="193.3" cy="1186.4" r="0.95" fill="#6a38bc" fill-opacity="0.63"/>
<circle cx="181.6" cy="1159.6" r="0.78" fill="#6a38bc" fill-opacity="0.65"/>
<circle cx="195.5" cy="1167.0" r="0.56" fill="#6a38bc" fill-opacity="0.53"/>
<circle cx="161.8" cy="1172.0" r="0.87" fill="#6a38bc" fill-opacity="0.35"/>
<circle cx="190.6" cy="1165.8" r="0.47" fill="#6a38bc" fill-opacity="0.37"/>
<circle cx="208.2" cy="1157.4" r="0.45" fill="#6a38bc" fill-opacity="0.53"/>
<circle cx="173.5" cy="1178.0" r="0.61" fill="#6a38bc" fill-opacity="0.58"/>
<circle cx="164.7" cy="1152.3" r="0.51" fill="#6a38bc" fill-opacity="0.47"/>
<circle cx="196.6" cy="1178.3" r="0.83" fill="#6a38bc" fill-opacity="0.48"/>
<circle cx="191.7" cy="1168.3" r="0.62" fill="#6a38bc" fill-opacity="0.56"/>
<circle cx="184.2" cy="1143.2" r="0.88" fill="#6a38bc" fill-opacity="0.57"/>
<circle cx="163.5" cy="1169.9" r="0.70" fill="#6a38bc" fill-opacity="0.60"/>
<circle cx="158.1" cy="1174.4" r="0.68" fill="#6a38bc" fill-opacity="0.44"/>
<circle cx="155.6" cy="1156.2" r="0.44" fill="#6a38bc" fill-opacity="0.50"/>
<circle cx="154.8" cy="1175.1" r="0.96" fill="#6a38bc" fill-opacity="0.48"/>
<circle cx="202.1" cy="1145.4" r="0.56" fill="#6a38bc" fill-opacity="0.51"/>
<circle cx="200.1" cy="1181.7" r="0.80" fill="#6a38bc" fill-opacity="0.66"/>
<circle cx="187.0" cy="1137.4" r="0.84" fill="#6a38bc" fill-opacity="0.55"/>
<circle cx="199.0" cy="1176.4" r="0.40" fill="#6a38bc" fill-opacity="0.40"/>
<circle cx="181.4" cy="1155.5" r="0.46" fill="#6a38bc" fill-opacity="0.38"/>
<circle cx="189.8" cy="1153.0" r="0.41" fill="#6a38bc" fill-opacity="0.64"/>
<circle cx="200.7" cy="1181.8" r="0.80" fill="#6a38bc" fill-opacity="0.64"/>
<circle cx="202.6" cy="1155.0" r="0.88" fill="#6a38bc" fill-opacity="0.36"/>
<circle cx="182.8" cy="1139.8" r="0.83" fill="#6a38bc" fill-opacity="0.39"/>
<circle cx="180.2" cy="1131.8" r="0.44" fill="#6a38bc" fill-opacity="0.46"/>
<circle cx="154.9" cy="1150.9" r="0.55" fill="#6a38bc" fill-opacity="0.41"/>
<circle cx="180.4" cy="1186.5" r="0.85" fill="#6a38bc" fill-opacity="0.49"/>
<circle cx="167.5" cy="1176.5" r="0.61" fill="#6a38bc" fill-opacity="0.50"/>
<circle cx="199.1" cy="1173.0" r="0.98" fill="#6a38bc" fill-opacity="0.49"/>
<circle cx="180.2" cy="1149.5" r="0.81" fill="#6a38bc" fill-opacity="0.61"/>
<circle cx="170.3" cy="1142.1" r="0.69" fill="#6a38bc" fill-opacity="0.58"/>
<circle cx="189.8" cy="1154.8" r="0.46" fill="#6a38bc" fill-opacity="0.61"/>
<circle cx="199.4" cy="1150.8" r="0.67" fill="#6a38bc" fill-opacity="0.60"/>
<circle cx="186.6" cy="1176.9" r="0.52" fill="#6a38bc" fill-opacity="0.55"/>
<circle cx="174.6" cy="1175.8" r="0.81" fill="#6a38bc" fill-opacity="0.68"/>
<circle cx="173.1" cy="1187.1" r="0.65" fill="#6a38bc" fill-opacity="0.65"/>
<circle cx="166.8" cy="1153.8" r="0.53" fill="#6a38bc" fill-opacity="0.36"/>
<circle cx="161.7" cy="1164.5" r="0.50" fill="#6a38bc" fill-opacity="0.48"/>
<circle cx="168.7" cy="1186.7" r="0.49" fill="#6a38bc" fill-opacity="0.70"/>
<circle cx="157.0" cy="1165.1" r="0.68" fill="#6a38bc" fill-opacity="0.64"/>
<circle cx="190.3" cy="1141.0" r="0.69" fill="#6a38bc" fill-opacity="0.60"/>
<circle cx="192.4" cy="1146.5" r="0.84" fill="#6a38bc" fill-opacity="0.69"/>
<circle cx="166.1" cy="1165.0" r="0.54" fill="#6a38bc" fill-opacity="0.60"/>
<circle cx="166.9" cy="1134.7" r="0.91" fill="#6a38bc" fill-opacity="0.43"/>
<circle cx="186.1" cy="1176.7" r="0.51" fill="#6a38bc" fill-opacity="0.60"/>
<circle cx="198.6" cy="1139.0" r="0.55" fill="#6a38bc" fill-opacity="0.65"/>
<circle cx="172.7" cy="1180.7" r="0.84" fill="#6a38bc" fill-opacity="0.38"/>
<circle cx="203.7" cy="1177.7" r="0.58" fill="#6a38bc" fill-opacity="0.47"/>
<circle cx="158.5" cy="1149.6" r="0.40" fill="#6a38bc" fill-opacity="0.47"/>
<circle cx="160.8" cy="1170.5" r="0.53" fill="#6a38bc" fill-opacity="0.55"/>
<circle cx="198.7" cy="1156.6" r="0.73" fill="#6a38bc" fill-opacity="0.39"/>
<circle cx="176.5" cy="1187.1" r="0.47" fill="#6a38bc" fill-opacity="0.66"/>
<circle cx="188.4" cy="1156.7" r="0.96" fill="#6a38bc" fill-opacity="0.48"/>
<circle cx="184.1" cy="1135.1" r="0.58" fill="#6a38bc" fill-opacity="0.59"/>
<circle cx="164.9" cy="1138.9" r="0.56" fill="#6a38bc" fill-opacity="0.61"/>
<circle cx="204.7" cy="1155.8" r="0.72" fill="#6a38bc" fill-opacity="0.39"/>
<circle cx="162.3" cy="1162.7" r="0.83" fill="#6a38bc" fill-opacity="0.59"/>
<circle cx="168.5" cy="1156.6" r="0.79" fill="#6a38bc" fill-opacity="0.57"/>
<circle cx="192.8" cy="1188.6" r="0.79" fill="#6a38bc" fill-opacity="0.39"/>
<circle cx="190.8" cy="1157.1" r="0.60" fill="#6a38bc" fill-opacity="0.60"/>
<circle cx="161.8" cy="1148.6" r="0.79" fill="#6a38bc" fill-opacity="0.51"/>
<circle cx="175.5" cy="1174.1" r="0.44" fill="#6a38bc" fill-opacity="0.60"/>
<circle cx="181.0" cy="1139.0" r="0.84" fill="#6a38bc" fill-opacity="0.48"/>
<circle cx="178.5" cy="1181.2" r="0.92" fill="#6a38bc" fill-opacity="0.36"/>
<circle cx="165.2" cy="1161.5" r="0.86" fill="#6a38bc" fill-opacity="0.47"/>
<circle cx="170.8" cy="1179.2" r="0.72" fill="#6a38bc" fill-opacity="0.62"/>
<circle cx="163.5" cy="1184.9" r="0.47" fill="#6a38bc" fill-opacity="0.44"/>
<circle cx="188.7" cy="1168.1" r="0.87" fill="#6a38bc" fill-opacity="0.60"/>
<circle cx="185.7" cy="1174.4" r="0.65" fill="#6a38bc" fill-opacity="0.61"/>
<circle cx="191.0" cy="1137.3" r="0.76" fill="#6a38bc" fill-opacity="0.40"/>
<circle cx="169.6" cy="1170.2" r="0.72" fill="#6a38bc" fill-opacity="0.55"/>
<circle cx="184.9" cy="1176.9" r="0.87" fill="#6a38bc" fill-opacity="0.36"/>
<circle cx="189.8" cy="1134.2" r="0.97" fill="#6a38bc" fill-opacity="0.48"/>
<circle cx="158.4" cy="1154.3" r="0.78" fill="#6a38bc" fill-opacity="0.69"/>
<circle cx="173.9" cy="1146.3" r="0.92" fill="#6a38bc" fill-opacity="0.52"/>
<circle cx="159.5" cy="1146.2" r="0.40" fill="#6a38bc" fill-opacity="0.62"/>
<circle cx="169.2" cy="1143.4" r="0.71" fill="#6a38bc" fill-opacity="0.51"/>
<circle cx="188.1" cy="1183.3" r="0.42" fill="#6a38bc" fill-opacity="0.53"/>
<circle cx="168.0" cy="1145.5" r="0.74" fill="#6a38bc" fill-opacity="0.69"/>
<circle cx="189.1" cy="1154.8" r="0.88" fill="#6a38bc" fill-opacity="0.57"/>
<circle cx="197.8" cy="1167.9" r="0.54" fill="#6a38bc" fill-opacity="0.38"/>
<circle cx="151.9" cy="1154.7" r="0.59" fill="#6a38bc" fill-opacity="0.65"/>
<circle cx="176.6" cy="1151.2" r="0.91" fill="#6a38bc" fill-opacity="0.56"/>
<circle cx="203.5" cy="1150.3" r="0.84" fill="#6a38bc" fill-opacity="0.47"/>
<circle cx="190.7" cy="1133.8" r="0.92" fill="#6a38bc" fill-opacity="0.50"/>
<circle cx="181.3" cy="1140.3" r="0.47" fill="#6a38bc" fill-opacity="0.36"/>
<circle cx="192.4" cy="1168.6" r="0.50" fill="#6a38bc" fill-opacity="0.52"/>
<circle cx="173.4" cy="1140.3" r="0.65" fill="#6a38bc" fill-opacity="0.58"/>
<circle cx="173.4" cy="1182.0" r="0.85" fill="#6a38bc" fill-opacity="0.49"/>
<circle cx="192.6" cy="1188.8" r="0.83" fill="#6a38bc" fill-opacity="0.48"/>
<circle cx="165.1" cy="1178.5" r="0.76" fill="#6a38bc" fill-opacity="0.43"/>
<circle cx="194.3" cy="1162.2" r="0.87" fill="#6a38bc" fill-opacity="0.40"/>
<circle cx="167.3" cy="1165.4" r="0.53" fill="#6a38bc" fill-opacity="0.41"/>
<circle cx="170.1" cy="1169.3" r="0.42" fill="#6a38bc" fill-opacity="0.39"/>
<circle cx="190.9" cy="1181.0" r="0.44" fill="#6a38bc" fill-opacity="0.36"/>
<circle cx="162.0" cy="1168.4" r="0.82" fill="#6a38bc" fill-opacity="0.37"/>
<circle cx="164.6" cy="1173.2" r="0.42" fill="#6a38bc" fill-opacity="0.69"/>
<circle cx="182.2" cy="1171.4" r="0.68" fill="#6a38bc" fill-opacity="0.41"/>
<circle cx="167.5" cy="1149.2" r="0.47" fill="#6a38bc" fill-opacity="0.37"/>
<circle cx="178.2" cy="1145.8" r="0.87" fill="#6a38bc" fill-opacity="0.51"/>
<circle cx="195.7" cy="1155.0" r="0.55" fill="#6a38bc" fill-opacity="0.44"/>
<circle cx="190.0" cy="1139.3" r="0.61" fill="#6a38bc" fill-opacity="0.38"/>
<circle cx="168.0" cy="1134.0" r="0.76" fill="#6a38bc" fill-opacity="0.35"/>
<circle cx="189.4" cy="1163.8" r="0.50" fill="#6a38bc" fill-opacity="0.36"/>
<circle cx="203.7" cy="1170.4" r="0.94" fill="#6a38bc" fill-opacity="0.42"/>
<circle cx="201.2" cy="1158.5" r="0.88" fill="#6a38bc" fill-opacity="0.67"/>
<circle cx="185.6" cy="1159.9" r="0.58" fill="#6a38bc" fill-opacity="0.56"/>
<circle cx="188.9" cy="1159.0" r="0.58" fill="#6a38bc" fill-opacity="0.65"/>
<circle cx="194.7" cy="1174.9" r="0.60" fill="#6a38bc" fill-opacity="0.59"/>
<circle cx="191.9" cy="1156.3" r="0.84" fill="#6a38bc" fill-opacity="0.61"/>
<circle cx="192.0" cy="1142.1" r="0.95" fill="#6a38bc" fill-opacity="0.48"/>
<circle cx="167.8" cy="1169.6" r="0.87" fill="#6a38bc" fill-opacity="0.52"/>
<circle cx="178.9" cy="1174.8" r="0.83" fill="#6a38bc" fill-opacity="0.56"/>
<circle cx="175.8" cy="1143.2" r="0.69" fill="#6a38bc" fill-opacity="0.40"/>
<circle cx="179.3" cy="1157.4" r="0.68" fill="#6a38bc" fill-opacity="0.62"/>
<circle cx="176.2" cy="1153.3" r="0.54" fill="#6a38bc" fill-opacity="0.65"/>
<circle cx="162.5" cy="1139.2" r="0.92" fill="#6a38bc" fill-opacity="0.51"/>
<circle cx="201.2" cy="1145.9" r="0.60" fill="#6a38bc" fill-opacity="0.48"/>
<circle cx="197.7" cy="1170.6" r="0.97" fill="#6a38bc" fill-opacity="0.39"/>
<circle cx="171.2" cy="1157.7" r="0.45" fill="#6a38bc" fill-opacity="0.58"/>
<circle cx="180.8" cy="1168.9" r="0.49" fill="#6a38bc" fill-opacity="0.58"/>
<circle cx="177.6" cy="1160.3" r="0.54" fill="#6a38bc" fill-opacity="0.69"/>
<circle cx="184.7" cy="1185.0" r="0.65" fill="#6a38bc" fill-opacity="0.62"/>
<circle cx="158.9" cy="1145.1" r="0.72" fill="#6a38bc" fill-opacity="0.42"/>
<circle cx="184.2" cy="1169.9" r="0.90" fill="#6a38bc" fill-opacity="0.39"/>
<circle cx="210.0" cy="1166.6" r="0.52" fill="#6a38bc" fill-opacity="0.66"/>
<circle cx="198.3" cy="1172.9" r="0.53" fill="#6a38bc" fill-opacity="0.64"/>
<circle cx="162.1" cy="1145.4" r="0.86" fill="#6a38bc" fill-opacity="0.66"/>
<circle cx="167.0" cy="1181.9" r="0.67" fill="#6a38bc" fill-opacity="0.39"/>
<circle cx="192.4" cy="1141.3" r="0.89" fill="#6a38bc" fill-opacity="0.42"/>
<circle cx="160.2" cy="1156.8" r="0.84" fill="#6a38bc" fill-opacity="0.38"/>
<circle cx="168.3" cy="1179.9" r="0.44" fill="#6a38bc" fill-opacity="0.54"/>
<circle cx="178.6" cy="1141.8" r="0.79" fill="#6a38bc" fill-opacity="0.56"/>
<circle cx="184.4" cy="1180.0" r="1.00" fill="#6a38bc" fill-opacity="0.47"/>
<circle cx="172.4" cy="1165.8" r="0.53" fill="#6a38bc" fill-opacity="0.41"/>
<circle cx="204.0" cy="1150.8" r="0.92" fill="#6a38bc" fill-opacity="0.70"/>
<circle cx="158.0" cy="1142.5" r="0.72" fill="#6a38bc" fill-opacity="0.50"/>
<circle cx="207.9" cy="1152.5" r="0.97" fill="#6a38bc" fill-opacity="0.52"/>
<circle cx="183.3" cy="1142.3" r="1.00" fill="#6a38bc" fill-opacity="0.67"/>
<circle cx="172.7" cy="1191.1" r="0.51" fill="#6a38bc" fill-opacity="0.38"/>
<circle cx="177.5" cy="1145.3" r="0.71" fill="#6a38bc" fill-opacity="0.57"/>
<circle cx="205.9" cy="1168.8" r="0.57" fill="#6a38bc" fill-opacity="0.50"/>
<circle cx="165.7" cy="1184.2" r="0.85" fill="#6a38bc" fill-opacity="0.45"/>
<circle cx="193.7" cy="1172.3" r="0.65" fill="#6a38bc" fill-opacity="0.38"/>
<circle cx="195.6" cy="1184.4" r="0.82" fill="#6a38bc" fill-opacity="0.69"/>
<circle cx="208.7" cy="1158.3" r="0.62" fill="#6a38bc" fill-opacity="0.41"/>
<circle cx="172.5" cy="1181.6" r="0.72" fill="#6a38bc" fill-opacity="0.54"/>
<circle cx="162.5" cy="1184.2" r="0.57" fill="#6a38bc" fill-opacity="0.51"/>
<circle cx="201.2" cy="1143.7" r="0.58" fill="#6a38bc" fill-opacity="0.43"/>
<circle cx="181.5" cy="1159.1" r="0.48" fill="#6a38bc" fill-opacity="0.54"/>
<circle cx="168.3" cy="1159.2" r="0.43" fill="#6a38bc" fill-opacity="0.42"/>
<circle cx="183.0" cy="1140.9" r="0.99" fill="#6a38bc" fill-opacity="0.62"/>
<circle cx="186.1" cy="1161.2" r="0.51" fill="#6a38bc" fill-opacity="0.35"/>
<circle cx="164.2" cy="1169.5" r="0.43" fill="#6a38bc" fill-opacity="0.54"/>
<circle cx="194.6" cy="1171.7" r="0.55" fill="#6a38bc" fill-opacity="0.63"/>
<circle cx="166.8" cy="1169.8" r="0.43" fill="#6a38bc" fill-opacity="0.50"/>
<circle cx="163.0" cy="1143.6" r="0.95" fill="#6a38bc" fill-opacity="0.63"/>
<circle cx="180.6" cy="1173.5" r="0.85" fill="#6a38bc" fill-opacity="0.63"/>
<circle cx="152.6" cy="1160.4" r="0.73" fill="#6a38bc" fill-opacity="0.45"/>
<circle cx="182.3" cy="1165.6" r="0.79" fill="#6a38bc" fill-opacity="0.66"/>
<circle cx="197.7" cy="1150.1" r="0.80" fill="#6a38bc" fill-opacity="0.68"/>
<circle cx="189.7" cy="1139.7" r="0.65" fill="#6a38bc" fill-opacity="0.53"/>
<circle cx="186.6" cy="1173.7" r="0.81" fill="#6a38bc" fill-opacity="0.70"/>
<circle cx="160.0" cy="1155.6" r="1.15" fill="#5a24b0" fill-opacity="0.65"/>
<circle cx="187.7" cy="1140.5" r="1.76" fill="#5a24b0" fill-opacity="0.52"/>
<circle cx="171.1" cy="1184.1" r="1.21" fill="#5a24b0" fill-opacity="0.83"/>
<circle cx="194.3" cy="1135.2" r="1.41" fill="#5a24b0" fill-opacity="0.46"/>
<circle cx="159.0" cy="1150.9" r="1.29" fill="#5a24b0" fill-opacity="0.58"/>
<circle cx="173.0" cy="1132.9" r="0.90" fill="#5a24b0" fill-opacity="0.75"/>
<circle cx="164.3" cy="1179.3" r="1.70" fill="#5a24b0" fill-opacity="0.88"/>
<circle cx="170.6" cy="1149.3" r="1.72" fill="#5a24b0" fill-opacity="0.53"/>
<circle cx="159.4" cy="1181.4" r="1.12" fill="#5a24b0" fill-opacity="0.57"/>
<circle cx="208.7" cy="1152.6" r="1.12" fill="#5a24b0" fill-opacity="0.63"/>
<circle cx="177.7" cy="1175.6" r="1.05" fill="#5a24b0" fill-opacity="0.89"/>
<circle cx="195.3" cy="1170.3" r="1.00" fill="#5a24b0" fill-opacity="0.49"/>
<circle cx="153.7" cy="1157.5" r="1.64" fill="#5a24b0" fill-opacity="0.73"/>
<circle cx="182.0" cy="1158.5" r="1.08" fill="#5a24b0" fill-opacity="0.88"/>
<circle cx="196.7" cy="1169.8" r="1.28" fill="#5a24b0" fill-opacity="0.57"/>
<circle cx="171.8" cy="1159.4" r="1.04" fill="#5a24b0" fill-opacity="0.88"/>
<circle cx="198.5" cy="1185.6" r="0.98" fill="#5a24b0" fill-opacity="0.90"/>
<circle cx="168.7" cy="1138.7" r="0.94" fill="#5a24b0" fill-opacity="0.47"/>
<circle cx="181.3" cy="1146.4" r="0.99" fill="#5a24b0" fill-opacity="0.82"/>
<circle cx="186.8" cy="1155.4" r="1.76" fill="#5a24b0" fill-opacity="0.69"/>
<circle cx="171.2" cy="1170.6" r="1.19" fill="#5a24b0" fill-opacity="0.89"/>
<circle cx="177.8" cy="1175.6" r="0.95" fill="#5a24b0" fill-opacity="0.51"/>
<circle cx="162.7" cy="1186.1" r="0.88" fill="#5a24b0" fill-opacity="0.54"/>
<circle cx="208.7" cy="1150.4" r="1.78" fill="#5a24b0" fill-opacity="0.56"/>
<circle cx="162.2" cy="1186.2" r="1.29" fill="#5a24b0" fill-opacity="0.77"/>
<circle cx="177.9" cy="1168.2" r="1.15" fill="#5a24b0" fill-opacity="0.79"/>
<circle cx="185.3" cy="1137.6" r="1.26" fill="#5a24b0" fill-opacity="0.69"/>
<circle cx="158.2" cy="1170.6" r="1.63" fill="#5a24b0" fill-opacity="0.54"/>
<circle cx="155.8" cy="1145.1" r="1.65" fill="#5a24b0" fill-opacity="0.53"/>
<circle cx="208.1" cy="1155.4" r="0.97" fill="#5a24b0" fill-opacity="0.57"/>
<circle cx="183.2" cy="1171.2" r="1.78" fill="#5a24b0" fill-opacity="0.63"/>
<circle cx="189.3" cy="1152.6" r="0.81" fill="#5a24b0" fill-opacity="0.84"/>
<circle cx="188.7" cy="1132.1" r="1.49" fill="#5a24b0" fill-opacity="0.69"/>
<circle cx="181.6" cy="1150.0" r="1.34" fill="#5a24b0" fill-opacity="0.65"/>
<circle cx="195.5" cy="1182.2" r="1.12" fill="#5a24b0" fill-opacity="0.68"/>
<circle cx="166.9" cy="1176.1" r="1.16" fill="#5a24b0" fill-opacity="0.72"/>
<circle cx="209.9" cy="1158.3" r="1.66" fill="#5a24b0" fill-opacity="0.83"/>
<circle cx="173.5" cy="1192.1" r="1.07" fill="#5a24b0" fill-opacity="0.51"/>
<circle cx="153.5" cy="1161.9" r="1.14" fill="#5a24b0" fill-opacity="0.74"/>
<circle cx="174.3" cy="1192.1" r="1.25" fill="#5a24b0" fill-opacity="0.67"/>
<circle cx="152.0" cy="1156.2" r="1.79" fill="#5a24b0" fill-opacity="0.69"/>
<circle cx="156.9" cy="1171.2" r="0.87" fill="#5a24b0" fill-opacity="0.64"/>
<circle cx="196.3" cy="1138.9" r="0.86" fill="#5a24b0" fill-opacity="0.83"/>
<circle cx="157.8" cy="1182.6" r="1.17" fill="#5a24b0" fill-opacity="0.55"/>
<circle cx="152.7" cy="1153.1" r="1.23" fill="#5a24b0" fill-opacity="0.84"/>
</g>
<ellipse cx="246.8" cy="1161.2" rx="31.6" ry="31.4" fill="url(#rg4)"/>
<g clip-path="url(#pl4)">
<circle cx="247.7" cy="1171.2" r="0.60" fill="#7040c0" fill-opacity="0.35"/>
<circle cx="265.1" cy="1169.3" r="0.86" fill="#7040c0" fill-opacity="0.54"/>
<circle cx="248.2" cy="1146.5" r="0.67" fill="#7040c0" fill-opacity="0.38"/>
<circle cx="251.6" cy="1170.2" r="0.51" fill="#7040c0" fill-opacity="0.58"/>
<circle cx="260.3" cy="1136.4" r="0.80" fill="#7040c0" fill-opacity="0.36"/>
<circle cx="237.6" cy="1184.3" r="0.77" fill="#7040c0" fill-opacity="0.56"/>
<circle cx="253.6" cy="1154.9" r="0.70" fill="#7040c0" fill-opacity="0.50"/>
<circle cx="233.5" cy="1160.7" r="0.64" fill="#7040c0" fill-opacity="0.33"/>
<circle cx="273.7" cy="1149.5" r="0.67" fill="#7040c0" fill-opacity="0.39"/>
<circle cx="266.9" cy="1148.3" r="0.84" fill="#7040c0" fill-opacity="0.55"/>
<circle cx="226.5" cy="1160.1" r="0.70" fill="#7040c0" fill-opacity="0.43"/>
<circle cx="256.0" cy="1175.9" r="0.81" fill="#7040c0" fill-opacity="0.31"/>
<circle cx="270.8" cy="1168.3" r="0.54" fill="#7040c0" fill-opacity="0.46"/>
<circle cx="228.6" cy="1164.5" r="0.90" fill="#7040c0" fill-opacity="0.36"/>
<circle cx="234.7" cy="1168.6" r="0.72" fill="#7040c0" fill-opacity="0.38"/>
<circle cx="229.9" cy="1182.6" r="0.56" fill="#7040c0" fill-opacity="0.47"/>
<circle cx="255.1" cy="1155.6" r="0.43" fill="#7040c0" fill-opacity="0.37"/>
<circle cx="249.2" cy="1136.7" r="0.52" fill="#7040c0" fill-opacity="0.40"/>
<circle cx="256.2" cy="1180.3" r="0.42" fill="#7040c0" fill-opacity="0.51"/>
<circle cx="271.3" cy="1142.5" r="0.77" fill="#7040c0" fill-opacity="0.59"/>
<circle cx="263.7" cy="1163.1" r="0.88" fill="#7040c0" fill-opacity="0.53"/>
<circle cx="220.8" cy="1177.5" r="0.71" fill="#7040c0" fill-opacity="0.55"/>
<circle cx="243.1" cy="1174.4" r="0.62" fill="#7040c0" fill-opacity="0.34"/>
<circle cx="224.0" cy="1182.0" r="0.57" fill="#7040c0" fill-opacity="0.30"/>
<circle cx="259.3" cy="1164.8" r="0.79" fill="#7040c0" fill-opacity="0.41"/>
<circle cx="244.3" cy="1170.7" r="0.89" fill="#7040c0" fill-opacity="0.43"/>
<circle cx="248.8" cy="1168.6" r="0.43" fill="#7040c0" fill-opacity="0.35"/>
<circle cx="241.4" cy="1150.3" r="0.42" fill="#7040c0" fill-opacity="0.45"/>
<circle cx="247.0" cy="1192.6" r="0.46" fill="#7040c0" fill-opacity="0.46"/>
<circle cx="249.8" cy="1141.3" r="0.89" fill="#7040c0" fill-opacity="0.44"/>
<circle cx="247.8" cy="1181.3" r="0.42" fill="#7040c0" fill-opacity="0.43"/>
<circle cx="247.1" cy="1190.8" r="0.82" fill="#7040c0" fill-opacity="0.45"/>
<circle cx="262.4" cy="1164.3" r="0.52" fill="#7040c0" fill-opacity="0.36"/>
<circle cx="250.2" cy="1190.3" r="0.47" fill="#7040c0" fill-opacity="0.32"/>
<circle cx="268.2" cy="1150.9" r="0.90" fill="#7040c0" fill-opacity="0.42"/>
<circle cx="267.6" cy="1146.4" r="0.80" fill="#7040c0" fill-opacity="0.52"/>
<circle cx="237.2" cy="1161.5" r="0.51" fill="#7040c0" fill-opacity="0.56"/>
<circle cx="271.4" cy="1143.4" r="0.57" fill="#7040c0" fill-opacity="0.50"/>
<circle cx="254.6" cy="1137.2" r="0.81" fill="#7040c0" fill-opacity="0.46"/>
<circle cx="232.1" cy="1139.7" r="0.53" fill="#7040c0" fill-opacity="0.58"/>
<circle cx="255.1" cy="1158.9" r="0.89" fill="#7040c0" fill-opacity="0.59"/>
<circle cx="243.5" cy="1155.4" r="0.85" fill="#7040c0" fill-opacity="0.34"/>
<circle cx="272.1" cy="1156.2" r="0.43" fill="#7040c0" fill-opacity="0.35"/>
<circle cx="231.1" cy="1143.4" r="0.77" fill="#7040c0" fill-opacity="0.58"/>
<circle cx="247.2" cy="1163.0" r="0.86" fill="#7040c0" fill-opacity="0.30"/>
<circle cx="254.5" cy="1153.7" r="0.80" fill="#7040c0" fill-opacity="0.53"/>
<circle cx="263.7" cy="1145.0" r="0.84" fill="#7040c0" fill-opacity="0.36"/>
<circle cx="238.2" cy="1145.3" r="0.85" fill="#7040c0" fill-opacity="0.53"/>
<circle cx="224.2" cy="1165.3" r="0.41" fill="#7040c0" fill-opacity="0.31"/>
<circle cx="228.5" cy="1148.9" r="0.83" fill="#7040c0" fill-opacity="0.48"/>
<circle cx="259.0" cy="1175.7" r="0.78" fill="#7040c0" fill-opacity="0.46"/>
<circle cx="275.7" cy="1163.1" r="0.81" fill="#7040c0" fill-opacity="0.33"/>
<circle cx="228.0" cy="1156.0" r="0.79" fill="#7040c0" fill-opacity="0.39"/>
<circle cx="249.1" cy="1183.0" r="0.88" fill="#7040c0" fill-opacity="0.33"/>
<circle cx="265.5" cy="1177.5" r="0.84" fill="#7040c0" fill-opacity="0.45"/>
<circle cx="220.0" cy="1172.9" r="0.79" fill="#7040c0" fill-opacity="0.32"/>
<circle cx="257.1" cy="1151.8" r="0.55" fill="#7040c0" fill-opacity="0.55"/>
<circle cx="221.9" cy="1174.3" r="0.48" fill="#7040c0" fill-opacity="0.56"/>
<circle cx="252.3" cy="1172.1" r="0.65" fill="#7040c0" fill-opacity="0.40"/>
<circle cx="217.8" cy="1153.4" r="0.76" fill="#7040c0" fill-opacity="0.30"/>
<circle cx="238.0" cy="1182.7" r="0.64" fill="#7040c0" fill-opacity="0.51"/>
<circle cx="238.1" cy="1162.1" r="0.52" fill="#7040c0" fill-opacity="0.55"/>
<circle cx="229.6" cy="1182.7" r="0.89" fill="#7040c0" fill-opacity="0.49"/>
<circle cx="235.8" cy="1139.2" r="0.56" fill="#7040c0" fill-opacity="0.57"/>
<circle cx="217.3" cy="1167.4" r="0.55" fill="#7040c0" fill-opacity="0.56"/>
<circle cx="252.5" cy="1137.3" r="0.62" fill="#7040c0" fill-opacity="0.34"/>
<circle cx="249.3" cy="1142.5" r="0.73" fill="#7040c0" fill-opacity="0.34"/>
<circle cx="257.2" cy="1167.1" r="0.80" fill="#7040c0" fill-opacity="0.35"/>
<circle cx="262.5" cy="1150.1" r="0.69" fill="#7040c0" fill-opacity="0.41"/>
<circle cx="239.8" cy="1154.6" r="0.60" fill="#7040c0" fill-opacity="0.58"/>
<circle cx="257.7" cy="1184.2" r="0.56" fill="#7040c0" fill-opacity="0.39"/>
<circle cx="251.2" cy="1161.8" r="0.87" fill="#7040c0" fill-opacity="0.55"/>
<circle cx="255.8" cy="1134.4" r="0.88" fill="#7040c0" fill-opacity="0.35"/>
<circle cx="227.6" cy="1150.1" r="0.69" fill="#7040c0" fill-opacity="0.58"/>
<circle cx="248.8" cy="1130.4" r="0.46" fill="#7040c0" fill-opacity="0.50"/>
<circle cx="234.5" cy="1137.0" r="0.71" fill="#7040c0" fill-opacity="0.55"/>
<circle cx="236.9" cy="1189.8" r="0.60" fill="#7040c0" fill-opacity="0.48"/>
<circle cx="267.9" cy="1145.3" r="0.55" fill="#7040c0" fill-opacity="0.37"/>
<circle cx="235.2" cy="1183.2" r="0.90" fill="#7040c0" fill-opacity="0.57"/>
<circle cx="230.6" cy="1172.9" r="0.81" fill="#7040c0" fill-opacity="0.39"/>
<circle cx="243.7" cy="1163.1" r="0.49" fill="#7040c0" fill-opacity="0.46"/>
<circle cx="238.2" cy="1138.1" r="0.58" fill="#7040c0" fill-opacity="0.59"/>
<circle cx="237.9" cy="1152.5" r="0.43" fill="#7040c0" fill-opacity="0.59"/>
<circle cx="277.0" cy="1158.9" r="0.70" fill="#7040c0" fill-opacity="0.39"/>
<circle cx="260.3" cy="1169.9" r="0.51" fill="#7040c0" fill-opacity="0.58"/>
<circle cx="268.6" cy="1143.9" r="0.47" fill="#7040c0" fill-opacity="0.37"/>
<circle cx="237.4" cy="1190.3" r="0.48" fill="#7040c0" fill-opacity="0.54"/>
<circle cx="236.9" cy="1140.1" r="0.88" fill="#7040c0" fill-opacity="0.38"/>
<circle cx="234.4" cy="1159.3" r="0.45" fill="#7040c0" fill-opacity="0.31"/>
<circle cx="242.3" cy="1171.2" r="0.43" fill="#7040c0" fill-opacity="0.60"/>
<circle cx="239.6" cy="1189.9" r="0.75" fill="#7040c0" fill-opacity="0.52"/>
<circle cx="229.5" cy="1135.8" r="0.84" fill="#7040c0" fill-opacity="0.52"/>
<circle cx="222.3" cy="1151.6" r="0.76" fill="#7040c0" fill-opacity="0.47"/>
<circle cx="234.4" cy="1161.0" r="0.82" fill="#7040c0" fill-opacity="0.45"/>
<circle cx="258.6" cy="1166.5" r="0.84" fill="#7040c0" fill-opacity="0.38"/>
<circle cx="226.6" cy="1177.6" r="0.83" fill="#7040c0" fill-opacity="0.40"/>
<circle cx="231.2" cy="1174.5" r="0.41" fill="#7040c0" fill-opacity="0.56"/>
<circle cx="277.5" cy="1164.9" r="0.48" fill="#7040c0" fill-opacity="0.35"/>
<circle cx="263.4" cy="1138.0" r="0.52" fill="#7040c0" fill-opacity="0.47"/>
<circle cx="220.3" cy="1165.1" r="0.49" fill="#7040c0" fill-opacity="0.55"/>
<circle cx="273.4" cy="1160.6" r="0.86" fill="#7040c0" fill-opacity="0.58"/>
<circle cx="225.7" cy="1181.1" r="0.82" fill="#7040c0" fill-opacity="0.48"/>
<circle cx="266.2" cy="1176.6" r="0.86" fill="#7040c0" fill-opacity="0.39"/>
<circle cx="228.7" cy="1137.5" r="0.70" fill="#7040c0" fill-opacity="0.31"/>
<circle cx="236.0" cy="1149.5" r="0.83" fill="#7040c0" fill-opacity="0.50"/>
<circle cx="236.2" cy="1189.0" r="0.71" fill="#7040c0" fill-opacity="0.40"/>
<circle cx="261.9" cy="1135.6" r="0.85" fill="#7040c0" fill-opacity="0.56"/>
<circle cx="232.4" cy="1139.2" r="0.70" fill="#7040c0" fill-opacity="0.46"/>
<circle cx="265.5" cy="1159.7" r="0.44" fill="#7040c0" fill-opacity="0.51"/>
<circle cx="223.5" cy="1161.5" r="0.70" fill="#7040c0" fill-opacity="0.37"/>
<circle cx="249.4" cy="1169.2" r="0.79" fill="#7040c0" fill-opacity="0.57"/>
<circle cx="243.3" cy="1151.1" r="0.89" fill="#7040c0" fill-opacity="0.55"/>
<circle cx="245.9" cy="1161.1" r="0.82" fill="#7040c0" fill-opacity="0.49"/>
<circle cx="243.7" cy="1158.3" r="0.77" fill="#7040c0" fill-opacity="0.31"/>
<circle cx="234.9" cy="1162.8" r="0.58" fill="#7040c0" fill-opacity="0.57"/>
<circle cx="246.5" cy="1132.8" r="0.55" fill="#7040c0" fill-opacity="0.42"/>
<circle cx="242.2" cy="1157.7" r="0.61" fill="#7040c0" fill-opacity="0.59"/>
<circle cx="247.5" cy="1132.0" r="0.55" fill="#7040c0" fill-opacity="0.51"/>
<circle cx="253.2" cy="1135.6" r="0.62" fill="#7040c0" fill-opacity="0.35"/>
<circle cx="276.4" cy="1164.5" r="0.87" fill="#7040c0" fill-opacity="0.38"/>
<circle cx="247.5" cy="1141.2" r="1.43" fill="#5a24b0" fill-opacity="0.78"/>
<circle cx="236.0" cy="1183.5" r="1.06" fill="#5a24b0" fill-opacity="0.64"/>
<circle cx="262.7" cy="1164.2" r="1.09" fill="#5a24b0" fill-opacity="0.81"/>
<circle cx="265.3" cy="1181.4" r="0.89" fill="#5a24b0" fill-opacity="0.84"/>
<circle cx="251.6" cy="1169.4" r="1.01" fill="#5a24b0" fill-opacity="0.82"/>
<circle cx="232.2" cy="1135.3" r="1.30" fill="#5a24b0" fill-opacity="0.47"/>
<circle cx="235.3" cy="1179.1" r="1.79" fill="#5a24b0" fill-opacity="0.50"/>
<circle cx="247.9" cy="1190.0" r="0.91" fill="#5a24b0" fill-opacity="0.84"/>
<circle cx="239.9" cy="1183.8" r="1.46" fill="#5a24b0" fill-opacity="0.81"/>
<circle cx="272.7" cy="1174.4" r="0.98" fill="#5a24b0" fill-opacity="0.73"/>
<circle cx="274.1" cy="1165.9" r="0.98" fill="#5a24b0" fill-opacity="0.51"/>
<circle cx="264.4" cy="1165.1" r="1.13" fill="#5a24b0" fill-opacity="0.84"/>
<circle cx="231.9" cy="1149.4" r="1.79" fill="#5a24b0" fill-opacity="0.50"/>
<circle cx="253.5" cy="1191.2" r="1.75" fill="#5a24b0" fill-opacity="0.72"/>
</g>
<ellipse cx="180.8" cy="1227.3" rx="30.6" ry="31.2" fill="url(#rg5)"/>
<g clip-path="url(#pl5)">
<circle cx="161.9" cy="1208.6" r="0.88" fill="#6a38bc" fill-opacity="0.68"/>
<circle cx="178.9" cy="1197.4" r="0.42" fill="#6a38bc" fill-opacity="0.51"/>
<circle cx="203.9" cy="1218.5" r="0.94" fill="#6a38bc" fill-opacity="0.39"/>
<circle cx="165.9" cy="1230.3" r="0.73" fill="#6a38bc" fill-opacity="0.55"/>
<circle cx="195.0" cy="1228.5" r="0.57" fill="#6a38bc" fill-opacity="0.67"/>
<circle cx="182.0" cy="1214.9" r="0.88" fill="#6a38bc" fill-opacity="0.40"/>
<circle cx="172.7" cy="1219.8" r="0.40" fill="#6a38bc" fill-opacity="0.65"/>
<circle cx="184.4" cy="1241.3" r="0.99" fill="#6a38bc" fill-opacity="0.66"/>
<circle cx="173.5" cy="1257.0" r="0.72" fill="#6a38bc" fill-opacity="0.59"/>
<circle cx="189.1" cy="1256.4" r="0.81" fill="#6a38bc" fill-opacity="0.69"/>
<circle cx="193.9" cy="1216.7" r="0.62" fill="#6a38bc" fill-opacity="0.41"/>
<circle cx="185.6" cy="1233.6" r="0.58" fill="#6a38bc" fill-opacity="0.56"/>
<circle cx="206.0" cy="1227.8" r="0.60" fill="#6a38bc" fill-opacity="0.46"/>
<circle cx="189.7" cy="1207.6" r="0.59" fill="#6a38bc" fill-opacity="0.52"/>
<circle cx="178.7" cy="1220.2" r="0.99" fill="#6a38bc" fill-opacity="0.36"/>
<circle cx="180.8" cy="1198.6" r="0.41" fill="#6a38bc" fill-opacity="0.63"/>
<circle cx="165.3" cy="1245.0" r="0.41" fill="#6a38bc" fill-opacity="0.37"/>
<circle cx="193.4" cy="1255.0" r="0.52" fill="#6a38bc" fill-opacity="0.61"/>
<circle cx="207.6" cy="1214.3" r="0.61" fill="#6a38bc" fill-opacity="0.47"/>
<circle cx="154.2" cy="1223.1" r="0.46" fill="#6a38bc" fill-opacity="0.61"/>
<circle cx="189.1" cy="1199.6" r="0.42" fill="#6a38bc" fill-opacity="0.68"/>
<circle cx="195.8" cy="1237.2" r="0.77" fill="#6a38bc" fill-opacity="0.67"/>
<circle cx="165.0" cy="1252.6" r="0.73" fill="#6a38bc" fill-opacity="0.46"/>
<circle cx="175.5" cy="1239.3" r="0.45" fill="#6a38bc" fill-opacity="0.40"/>
<circle cx="169.4" cy="1198.4" r="0.50" fill="#6a38bc" fill-opacity="0.37"/>
<circle cx="203.1" cy="1225.4" r="0.64" fill="#6a38bc" fill-opacity="0.43"/>
<circle cx="157.7" cy="1211.5" r="0.67" fill="#6a38bc" fill-opacity="0.50"/>
<circle cx="208.3" cy="1237.5" r="0.42" fill="#6a38bc" fill-opacity="0.52"/>
<circle cx="186.6" cy="1217.7" r="0.84" fill="#6a38bc" fill-opacity="0.68"/>
<circle cx="162.3" cy="1207.1" r="0.46" fill="#6a38bc" fill-opacity="0.50"/>
<circle cx="197.4" cy="1250.4" r="0.58" fill="#6a38bc" fill-opacity="0.51"/>
<circle cx="209.0" cy="1227.2" r="0.99" fill="#6a38bc" fill-opacity="0.51"/>
<circle cx="154.7" cy="1229.3" r="0.69" fill="#6a38bc" fill-opacity="0.45"/>
<circle cx="171.2" cy="1234.1" r="0.63" fill="#6a38bc" fill-opacity="0.70"/>
<circle cx="204.3" cy="1221.1" r="0.70" fill="#6a38bc" fill-opacity="0.47"/>
<circle cx="194.3" cy="1235.9" r="0.87" fill="#6a38bc" fill-opacity="0.65"/>
<circle cx="163.3" cy="1248.5" r="0.86" fill="#6a38bc" fill-opacity="0.59"/>
<circle cx="167.1" cy="1204.0" r="0.62" fill="#6a38bc" fill-opacity="0.60"/>
<circle cx="176.7" cy="1248.6" r="0.86" fill="#6a38bc" fill-opacity="0.59"/>
<circle cx="172.7" cy="1256.5" r="0.79" fill="#6a38bc" fill-opacity="0.55"/>
<circle cx="203.4" cy="1229.0" r="0.55" fill="#6a38bc" fill-opacity="0.59"/>
<circle cx="153.9" cy="1233.8" r="0.79" fill="#6a38bc" fill-opacity="0.63"/>
<circle cx="166.6" cy="1247.8" r="0.84" fill="#6a38bc" fill-opacity="0.64"/>
<circle cx="164.3" cy="1250.5" r="0.92" fill="#6a38bc" fill-opacity="0.59"/>
<circle cx="210.4" cy="1222.7" r="0.71" fill="#6a38bc" fill-opacity="0.54"/>
<circle cx="194.9" cy="1252.0" r="0.96" fill="#6a38bc" fill-opacity="0.52"/>
<circle cx="171.5" cy="1202.6" r="0.84" fill="#6a38bc" fill-opacity="0.41"/>
<circle cx="185.2" cy="1204.0" r="0.80" fill="#6a38bc" fill-opacity="0.50"/>
<circle cx="161.6" cy="1208.0" r="0.78" fill="#6a38bc" fill-opacity="0.60"/>
<circle cx="192.9" cy="1229.5" r="0.66" fill="#6a38bc" fill-opacity="0.58"/>
<circle cx="185.7" cy="1252.7" r="0.78" fill="#6a38bc" fill-opacity="0.36"/>
<circle cx="166.5" cy="1229.9" r="0.43" fill="#6a38bc" fill-opacity="0.40"/>
<circle cx="175.4" cy="1239.4" r="0.52" fill="#6a38bc" fill-opacity="0.36"/>
<circle cx="162.4" cy="1231.5" r="0.77" fill="#6a38bc" fill-opacity="0.56"/>
<circle cx="183.0" cy="1256.9" r="0.40" fill="#6a38bc" fill-opacity="0.49"/>
<circle cx="177.3" cy="1247.0" r="0.47" fill="#6a38bc" fill-opacity="0.64"/>
<circle cx="176.7" cy="1231.5" r="0.77" fill="#6a38bc" fill-opacity="0.38"/>
<circle cx="163.7" cy="1222.2" r="0.75" fill="#6a38bc" fill-opacity="0.69"/>
<circle cx="189.1" cy="1208.9" r="0.89" fill="#6a38bc" fill-opacity="0.57"/>
<circle cx="172.9" cy="1235.9" r="0.76" fill="#6a38bc" fill-opacity="0.55"/>
<circle cx="209.8" cy="1219.1" r="0.77" fill="#6a38bc" fill-opacity="0.47"/>
<circle cx="181.5" cy="1226.7" r="0.46" fill="#6a38bc" fill-opacity="0.55"/>
<circle cx="172.2" cy="1219.6" r="0.78" fill="#6a38bc" fill-opacity="0.66"/>
<circle cx="166.5" cy="1241.7" r="0.54" fill="#6a38bc" fill-opacity="0.45"/>
<circle cx="199.4" cy="1224.0" r="0.98" fill="#6a38bc" fill-opacity="0.67"/>
<circle cx="167.9" cy="1218.3" r="0.99" fill="#6a38bc" fill-opacity="0.52"/>
<circle cx="165.9" cy="1236.2" r="0.99" fill="#6a38bc" fill-opacity="0.52"/>
<circle cx="176.0" cy="1248.3" r="0.47" fill="#6a38bc" fill-opacity="0.57"/>
<circle cx="165.3" cy="1233.2" r="0.87" fill="#6a38bc" fill-opacity="0.64"/>
<circle cx="203.1" cy="1229.2" r="0.56" fill="#6a38bc" fill-opacity="0.68"/>
<circle cx="183.8" cy="1212.1" r="0.56" fill="#6a38bc" fill-opacity="0.40"/>
<circle cx="197.3" cy="1226.1" r="0.76" fill="#6a38bc" fill-opacity="0.52"/>
<circle cx="166.2" cy="1208.2" r="0.85" fill="#6a38bc" fill-opacity="0.39"/>
<circle cx="181.9" cy="1210.2" r="0.72" fill="#6a38bc" fill-opacity="0.47"/>
<circle cx="174.3" cy="1249.0" r="0.68" fill="#6a38bc" fill-opacity="0.48"/>
<circle cx="180.1" cy="1203.3" r="0.42" fill="#6a38bc" fill-opacity="0.44"/>
<circle cx="152.6" cy="1235.5" r="0.93" fill="#6a38bc" fill-opacity="0.54"/>
<circle cx="207.7" cy="1229.8" r="0.66" fill="#6a38bc" fill-opacity="0.55"/>
<circle cx="174.5" cy="1203.3" r="0.69" fill="#6a38bc" fill-opacity="0.67"/>
<circle cx="166.4" cy="1240.2" r="0.91" fill="#6a38bc" fill-opacity="0.42"/>
<circle cx="172.8" cy="1254.5" r="0.44" fill="#6a38bc" fill-opacity="0.64"/>
<circle cx="173.9" cy="1208.0" r="0.57" fill="#6a38bc" fill-opacity="0.62"/>
<circle cx="190.6" cy="1221.0" r="0.69" fill="#6a38bc" fill-opacity="0.54"/>
<circle cx="163.2" cy="1227.6" r="0.49" fill="#6a38bc" fill-opacity="0.56"/>
<circle cx="183.8" cy="1219.7" r="0.54" fill="#6a38bc" fill-opacity="0.64"/>
<circle cx="187.3" cy="1202.8" r="0.42" fill="#6a38bc" fill-opacity="0.60"/>
<circle cx="211.1" cy="1223.1" r="0.82" fill="#6a38bc" fill-opacity="0.37"/>
<circle cx="188.6" cy="1215.1" r="0.79" fill="#6a38bc" fill-opacity="0.68"/>
<circle cx="178.2" cy="1216.2" r="0.58" fill="#6a38bc" fill-opacity="0.67"/>
<circle cx="194.9" cy="1247.0" r="0.65" fill="#6a38bc" fill-opacity="0.41"/>
<circle cx="176.2" cy="1222.8" r="0.46" fill="#6a38bc" fill-opacity="0.48"/>
<circle cx="187.4" cy="1230.6" r="0.75" fill="#6a38bc" fill-opacity="0.61"/>
<circle cx="188.9" cy="1219.4" r="0.66" fill="#6a38bc" fill-opacity="0.46"/>
<circle cx="163.5" cy="1214.4" r="0.96" fill="#6a38bc" fill-opacity="0.48"/>
<circle cx="204.8" cy="1236.2" r="0.49" fill="#6a38bc" fill-opacity="0.57"/>
<circle cx="151.6" cy="1226.2" r="0.73" fill="#6a38bc" fill-opacity="0.57"/>
<circle cx="178.9" cy="1250.4" r="0.55" fill="#6a38bc" fill-opacity="0.61"/>
<circle cx="169.7" cy="1226.1" r="0.54" fill="#6a38bc" fill-opacity="0.48"/>
<circle cx="179.7" cy="1214.1" r="0.83" fill="#6a38bc" fill-opacity="0.58"/>
<circle cx="202.3" cy="1240.3" r="0.45" fill="#6a38bc" fill-opacity="0.39"/>
<circle cx="168.4" cy="1218.8" r="0.93" fill="#6a38bc" fill-opacity="0.52"/>
<circle cx="168.7" cy="1252.2" r="0.42" fill="#6a38bc" fill-opacity="0.60"/>
<circle cx="192.0" cy="1231.3" r="0.97" fill="#6a38bc" fill-opacity="0.59"/>
<circle cx="182.6" cy="1237.8" r="0.98" fill="#6a38bc" fill-opacity="0.58"/>
<circle cx="185.7" cy="1216.8" r="0.77" fill="#6a38bc" fill-opacity="0.47"/>
<circle cx="182.5" cy="1245.2" r="0.77" fill="#6a38bc" fill-opacity="0.47"/>
<circle cx="172.3" cy="1234.9" r="0.90" fill="#6a38bc" fill-opacity="0.58"/>
<circle cx="187.6" cy="1208.0" r="0.91" fill="#6a38bc" fill-opacity="0.53"/>
<circle cx="161.4" cy="1214.3" r="0.84" fill="#6a38bc" fill-opacity="0.49"/>
<circle cx="185.4" cy="1230.6" r="0.52" fill="#6a38bc" fill-opacity="0.36"/>
<circle cx="197.1" cy="1213.4" r="0.86" fill="#6a38bc" fill-opacity="0.35"/>
<circle cx="152.4" cy="1232.8" r="0.77" fill="#6a38bc" fill-opacity="0.50"/>
<circle cx="171.4" cy="1229.4" r="0.49" fill="#6a38bc" fill-opacity="0.41"/>
<circle cx="167.4" cy="1241.0" r="0.93" fill="#6a38bc" fill-opacity="0.40"/>
<circle cx="180.4" cy="1243.7" r="0.50" fill="#6a38bc" fill-opacity="0.45"/>
<circle cx="182.8" cy="1248.9" r="0.42" fill="#6a38bc" fill-opacity="0.67"/>
<circle cx="160.7" cy="1249.5" r="0.81" fill="#6a38bc" fill-opacity="0.59"/>
<circle cx="151.5" cy="1232.7" r="0.47" fill="#6a38bc" fill-opacity="0.58"/>
<circle cx="174.4" cy="1252.1" r="0.84" fill="#6a38bc" fill-opacity="0.41"/>
<circle cx="182.3" cy="1232.0" r="0.54" fill="#6a38bc" fill-opacity="0.38"/>
<circle cx="156.3" cy="1245.2" r="0.62" fill="#6a38bc" fill-opacity="0.46"/>
<circle cx="164.8" cy="1230.6" r="0.84" fill="#6a38bc" fill-opacity="0.60"/>
<circle cx="188.6" cy="1240.4" r="0.80" fill="#6a38bc" fill-opacity="0.68"/>
<circle cx="168.6" cy="1211.1" r="0.99" fill="#6a38bc" fill-opacity="0.35"/>
<circle cx="205.9" cy="1237.6" r="0.65" fill="#6a38bc" fill-opacity="0.37"/>
<circle cx="151.8" cy="1218.0" r="0.71" fill="#6a38bc" fill-opacity="0.47"/>
<circle cx="187.6" cy="1231.9" r="0.94" fill="#6a38bc" fill-opacity="0.52"/>
<circle cx="187.3" cy="1224.5" r="0.55" fill="#6a38bc" fill-opacity="0.37"/>
<circle cx="174.8" cy="1231.9" r="0.55" fill="#6a38bc" fill-opacity="0.49"/>
<circle cx="178.4" cy="1233.9" r="0.42" fill="#6a38bc" fill-opacity="0.69"/>
<circle cx="190.2" cy="1247.4" r="0.64" fill="#6a38bc" fill-opacity="0.54"/>
<circle cx="195.6" cy="1236.1" r="0.46" fill="#6a38bc" fill-opacity="0.54"/>
<circle cx="201.6" cy="1215.8" r="0.91" fill="#6a38bc" fill-opacity="0.43"/>
<circle cx="203.1" cy="1229.8" r="0.69" fill="#6a38bc" fill-opacity="0.55"/>
<circle cx="163.5" cy="1244.6" r="0.84" fill="#6a38bc" fill-opacity="0.67"/>
<circle cx="173.5" cy="1246.9" r="0.90" fill="#6a38bc" fill-opacity="0.43"/>
<circle cx="193.6" cy="1238.9" r="0.45" fill="#6a38bc" fill-opacity="0.62"/>
<circle cx="188.0" cy="1211.5" r="0.48" fill="#6a38bc" fill-opacity="0.38"/>
<circle cx="181.1" cy="1236.4" r="0.66" fill="#6a38bc" fill-opacity="0.55"/>
<circle cx="181.0" cy="1235.0" r="0.82" fill="#6a38bc" fill-opacity="0.37"/>
<circle cx="185.9" cy="1243.2" r="0.62" fill="#6a38bc" fill-opacity="0.38"/>
<circle cx="165.7" cy="1235.7" r="0.85" fill="#6a38bc" fill-opacity="0.54"/>
<circle cx="200.5" cy="1212.0" r="0.86" fill="#6a38bc" fill-opacity="0.55"/>
<circle cx="154.9" cy="1237.3" r="0.79" fill="#6a38bc" fill-opacity="0.68"/>
<circle cx="177.3" cy="1201.4" r="0.56" fill="#6a38bc" fill-opacity="0.63"/>
<circle cx="172.6" cy="1234.9" r="0.44" fill="#6a38bc" fill-opacity="0.41"/>
<circle cx="178.8" cy="1252.9" r="0.57" fill="#6a38bc" fill-opacity="0.37"/>
<circle cx="182.8" cy="1204.1" r="0.42" fill="#6a38bc" fill-opacity="0.37"/>
<circle cx="193.3" cy="1240.9" r="0.92" fill="#6a38bc" fill-opacity="0.68"/>
<circle cx="169.6" cy="1217.6" r="0.66" fill="#6a38bc" fill-opacity="0.48"/>
<circle cx="179.1" cy="1230.3" r="0.75" fill="#6a38bc" fill-opacity="0.64"/>
<circle cx="179.4" cy="1217.8" r="0.72" fill="#6a38bc" fill-opacity="0.41"/>
<circle cx="175.6" cy="1207.1" r="0.96" fill="#6a38bc" fill-opacity="0.63"/>
<circle cx="193.5" cy="1239.2" r="0.95" fill="#6a38bc" fill-opacity="0.51"/>
<circle cx="162.2" cy="1235.6" r="0.86" fill="#6a38bc" fill-opacity="0.68"/>
<circle cx="151.3" cy="1221.1" r="0.76" fill="#6a38bc" fill-opacity="0.39"/>
<circle cx="188.6" cy="1208.7" r="0.43" fill="#6a38bc" fill-opacity="0.69"/>
<circle cx="203.5" cy="1232.2" r="0.69" fill="#6a38bc" fill-opacity="0.66"/>
<circle cx="169.7" cy="1236.3" r="0.57" fill="#6a38bc" fill-opacity="0.42"/>
<circle cx="163.9" cy="1220.2" r="0.85" fill="#6a38bc" fill-opacity="0.43"/>
<circle cx="171.7" cy="1239.8" r="0.99" fill="#6a38bc" fill-opacity="0.64"/>
<circle cx="194.9" cy="1207.4" r="0.64" fill="#6a38bc" fill-opacity="0.40"/>
<circle cx="191.3" cy="1208.3" r="0.42" fill="#6a38bc" fill-opacity="0.41"/>
<circle cx="201.9" cy="1242.7" r="0.94" fill="#6a38bc" fill-opacity="0.42"/>
<circle cx="185.9" cy="1210.3" r="0.81" fill="#6a38bc" fill-opacity="0.65"/>
<circle cx="161.2" cy="1207.8" r="0.63" fill="#6a38bc" fill-opacity="0.35"/>
<circle cx="157.4" cy="1225.5" r="0.51" fill="#6a38bc" fill-opacity="0.49"/>
<circle cx="178.7" cy="1232.0" r="0.59" fill="#6a38bc" fill-opacity="0.48"/>
<circle cx="155.4" cy="1231.2" r="0.64" fill="#6a38bc" fill-opacity="0.69"/>
<circle cx="192.6" cy="1199.8" r="0.82" fill="#6a38bc" fill-opacity="0.58"/>
<circle cx="154.2" cy="1220.9" r="0.62" fill="#6a38bc" fill-opacity="0.56"/>
<circle cx="171.3" cy="1206.9" r="0.57" fill="#6a38bc" fill-opacity="0.38"/>
<circle cx="196.4" cy="1237.0" r="0.75" fill="#6a38bc" fill-opacity="0.62"/>
<circle cx="177.0" cy="1210.4" r="0.96" fill="#6a38bc" fill-opacity="0.45"/>
<circle cx="179.1" cy="1219.1" r="0.85" fill="#6a38bc" fill-opacity="0.58"/>
<circle cx="208.7" cy="1219.4" r="0.81" fill="#6a38bc" fill-opacity="0.64"/>
<circle cx="179.1" cy="1203.0" r="0.53" fill="#6a38bc" fill-opacity="0.53"/>
<circle cx="192.7" cy="1218.0" r="0.98" fill="#6a38bc" fill-opacity="0.54"/>
<circle cx="179.5" cy="1228.4" r="0.63" fill="#6a38bc" fill-opacity="0.41"/>
<circle cx="164.2" cy="1203.0" r="0.95" fill="#6a38bc" fill-opacity="0.56"/>
<circle cx="173.2" cy="1234.0" r="0.81" fill="#6a38bc" fill-opacity="0.54"/>
<circle cx="176.7" cy="1208.7" r="0.93" fill="#6a38bc" fill-opacity="0.42"/>
<circle cx="175.4" cy="1242.5" r="0.77" fill="#6a38bc" fill-opacity="0.66"/>
<circle cx="192.9" cy="1248.9" r="0.86" fill="#6a38bc" fill-opacity="0.43"/>
<circle cx="202.1" cy="1236.3" r="0.90" fill="#6a38bc" fill-opacity="0.66"/>
<circle cx="178.1" cy="1207.3" r="0.66" fill="#6a38bc" fill-opacity="0.54"/>
<circle cx="194.7" cy="1217.6" r="0.57" fill="#6a38bc" fill-opacity="0.56"/>
<circle cx="193.7" cy="1224.5" r="0.42" fill="#6a38bc" fill-opacity="0.39"/>
<circle cx="158.8" cy="1218.0" r="0.51" fill="#6a38bc" fill-opacity="0.42"/>
<circle cx="160.4" cy="1213.3" r="0.81" fill="#6a38bc" fill-opacity="0.61"/>
<circle cx="200.5" cy="1235.5" r="0.90" fill="#6a38bc" fill-opacity="0.69"/>
<circle cx="169.0" cy="1253.5" r="0.79" fill="#6a38bc" fill-opacity="0.67"/>
<circle cx="184.1" cy="1253.1" r="0.90" fill="#6a38bc" fill-opacity="0.52"/>
<circle cx="191.7" cy="1235.4" r="0.49" fill="#6a38bc" fill-opacity="0.38"/>
<circle cx="194.7" cy="1247.3" r="0.46" fill="#6a38bc" fill-opacity="0.62"/>
<circle cx="178.4" cy="1199.2" r="0.88" fill="#6a38bc" fill-opacity="0.60"/>
<circle cx="207.4" cy="1213.3" r="0.78" fill="#6a38bc" fill-opacity="0.69"/>
<circle cx="188.6" cy="1233.3" r="0.44" fill="#6a38bc" fill-opacity="0.42"/>
<circle cx="166.2" cy="1242.3" r="0.81" fill="#6a38bc" fill-opacity="0.61"/>
<circle cx="197.6" cy="1237.3" r="0.73" fill="#6a38bc" fill-opacity="0.48"/>
<circle cx="198.3" cy="1243.5" r="0.62" fill="#6a38bc" fill-opacity="0.59"/>
<circle cx="150.8" cy="1228.2" r="0.97" fill="#6a38bc" fill-opacity="0.38"/>
<circle cx="182.4" cy="1200.9" r="0.58" fill="#6a38bc" fill-opacity="0.39"/>
<circle cx="162.7" cy="1229.7" r="0.84" fill="#6a38bc" fill-opacity="0.67"/>
<circle cx="168.6" cy="1238.7" r="0.70" fill="#6a38bc" fill-opacity="0.59"/>
<circle cx="186.4" cy="1204.3" r="0.58" fill="#6a38bc" fill-opacity="0.47"/>
<circle cx="193.5" cy="1208.9" r="0.43" fill="#6a38bc" fill-opacity="0.50"/>
<circle cx="182.7" cy="1252.7" r="0.44" fill="#6a38bc" fill-opacity="0.44"/>
<circle cx="198.2" cy="1239.5" r="0.99" fill="#6a38bc" fill-opacity="0.54"/>
<circle cx="158.5" cy="1247.1" r="0.46" fill="#6a38bc" fill-opacity="0.47"/>
<circle cx="181.6" cy="1225.2" r="0.86" fill="#6a38bc" fill-opacity="0.48"/>
<circle cx="196.0" cy="1228.9" r="0.67" fill="#6a38bc" fill-opacity="0.48"/>
<circle cx="173.8" cy="1226.5" r="0.53" fill="#6a38bc" fill-opacity="0.69"/>
<circle cx="161.1" cy="1234.9" r="0.45" fill="#6a38bc" fill-opacity="0.45"/>
<circle cx="205.1" cy="1220.0" r="0.70" fill="#6a38bc" fill-opacity="0.37"/>
<circle cx="159.7" cy="1244.5" r="0.66" fill="#6a38bc" fill-opacity="0.56"/>
<circle cx="200.9" cy="1212.9" r="0.78" fill="#6a38bc" fill-opacity="0.36"/>
<circle cx="207.3" cy="1231.4" r="0.65" fill="#6a38bc" fill-opacity="0.66"/>
<circle cx="194.2" cy="1200.8" r="0.63" fill="#6a38bc" fill-opacity="0.70"/>
<circle cx="181.9" cy="1197.9" r="0.49" fill="#6a38bc" fill-opacity="0.62"/>
<circle cx="154.2" cy="1241.8" r="1.00" fill="#6a38bc" fill-opacity="0.43"/>
<circle cx="166.8" cy="1235.0" r="0.68" fill="#6a38bc" fill-opacity="0.45"/>
<circle cx="175.4" cy="1217.8" r="0.50" fill="#6a38bc" fill-opacity="0.51"/>
<circle cx="197.7" cy="1235.9" r="0.94" fill="#6a38bc" fill-opacity="0.66"/>
<circle cx="182.2" cy="1231.3" r="0.90" fill="#6a38bc" fill-opacity="0.69"/>
<circle cx="171.6" cy="1220.6" r="0.54" fill="#6a38bc" fill-opacity="0.67"/>
<circle cx="185.8" cy="1225.2" r="0.51" fill="#6a38bc" fill-opacity="0.50"/>
<circle cx="178.0" cy="1254.2" r="0.62" fill="#6a38bc" fill-opacity="0.62"/>
<circle cx="193.5" cy="1245.6" r="0.98" fill="#6a38bc" fill-opacity="0.60"/>
<circle cx="189.4" cy="1232.9" r="0.79" fill="#6a38bc" fill-opacity="0.48"/>
<circle cx="165.3" cy="1244.4" r="1.50" fill="#5a24b0" fill-opacity="0.88"/>
<circle cx="182.2" cy="1252.2" r="1.12" fill="#5a24b0" fill-opacity="0.70"/>
<circle cx="179.2" cy="1213.4" r="1.38" fill="#5a24b0" fill-opacity="0.77"/>
<circle cx="208.3" cy="1228.7" r="1.30" fill="#5a24b0" fill-opacity="0.68"/>
<circle cx="159.4" cy="1209.1" r="0.87" fill="#5a24b0" fill-opacity="0.68"/>
<circle cx="201.1" cy="1232.4" r="1.21" fill="#5a24b0" fill-opacity="0.46"/>
<circle cx="174.2" cy="1249.0" r="1.59" fill="#5a24b0" fill-opacity="0.87"/>
<circle cx="164.5" cy="1244.9" r="1.66" fill="#5a24b0" fill-opacity="0.87"/>
<circle cx="209.7" cy="1217.6" r="1.16" fill="#5a24b0" fill-opacity="0.52"/>
<circle cx="190.8" cy="1222.6" r="1.34" fill="#5a24b0" fill-opacity="0.78"/>
<circle cx="160.2" cy="1223.5" r="1.91" fill="#5a24b0" fill-opacity="0.58"/>
<circle cx="153.9" cy="1218.1" r="0.97" fill="#5a24b0" fill-opacity="0.61"/>
<circle cx="156.4" cy="1228.2" r="1.05" fill="#5a24b0" fill-opacity="0.65"/>
<circle cx="191.6" cy="1231.6" r="1.21" fill="#5a24b0" fill-opacity="0.51"/>
<circle cx="198.4" cy="1223.6" r="1.13" fill="#5a24b0" fill-opacity="0.80"/>
<circle cx="179.8" cy="1209.1" r="1.80" fill="#5a24b0" fill-opacity="0.73"/>
<circle cx="161.4" cy="1244.0" r="1.09" fill="#5a24b0" fill-opacity="0.57"/>
<circle cx="196.5" cy="1211.6" r="1.88" fill="#5a24b0" fill-opacity="0.53"/>
<circle cx="186.9" cy="1234.6" r="1.69" fill="#5a24b0" fill-opacity="0.70"/>
<circle cx="189.5" cy="1227.8" r="1.79" fill="#5a24b0" fill-opacity="0.67"/>
<circle cx="186.6" cy="1221.1" r="1.51" fill="#5a24b0" fill-opacity="0.50"/>
<circle cx="176.3" cy="1202.1" r="1.53" fill="#5a24b0" fill-opacity="0.55"/>
<circle cx="192.9" cy="1223.2" r="0.88" fill="#5a24b0" fill-opacity="0.76"/>
<circle cx="189.5" cy="1233.1" r="1.35" fill="#5a24b0" fill-opacity="0.74"/>
<circle cx="201.7" cy="1210.1" r="0.88" fill="#5a24b0" fill-opacity="0.74"/>
<circle cx="188.1" cy="1216.2" r="1.71" fill="#5a24b0" fill-opacity="0.57"/>
<circle cx="180.1" cy="1229.5" r="1.71" fill="#5a24b0" fill-opacity="0.68"/>
<circle cx="199.2" cy="1214.0" r="0.99" fill="#5a24b0" fill-opacity="0.55"/>
<circle cx="178.3" cy="1257.7" r="1.05" fill="#5a24b0" fill-opacity="0.49"/>
<circle cx="174.1" cy="1236.3" r="1.31" fill="#5a24b0" fill-opacity="0.73"/>
<circle cx="171.9" cy="1214.7" r="0.97" fill="#5a24b0" fill-opacity="0.67"/>
<circle cx="172.3" cy="1206.4" r="1.49" fill="#5a24b0" fill-opacity="0.86"/>
<circle cx="191.9" cy="1241.9" r="1.39" fill="#5a24b0" fill-opacity="0.69"/>
<circle cx="200.4" cy="1212.8" r="1.59" fill="#5a24b0" fill-opacity="0.64"/>
<circle cx="186.9" cy="1198.9" r="1.15" fill="#5a24b0" fill-opacity="0.50"/>
<circle cx="179.6" cy="1247.9" r="1.87" fill="#5a24b0" fill-opacity="0.57"/>
<circle cx="163.2" cy="1208.3" r="1.95" fill="#5a24b0" fill-opacity="0.50"/>
<circle cx="183.3" cy="1207.3" r="0.92" fill="#5a24b0" fill-opacity="0.73"/>
<circle cx="194.6" cy="1206.5" r="0.86" fill="#5a24b0" fill-opacity="0.89"/>
<circle cx="161.7" cy="1244.6" r="1.67" fill="#5a24b0" fill-opacity="0.57"/>
</g>
<ellipse cx="247.3" cy="1227.3" rx="31.3" ry="30.9" fill="url(#rg6)"/>
<g clip-path="url(#pl6)">
<circle cx="254.9" cy="1200.3" r="0.64" fill="#7040c0" fill-opacity="0.35"/>
<circle cx="272.8" cy="1227.4" r="0.64" fill="#7040c0" fill-opacity="0.48"/>
<circle cx="228.1" cy="1246.7" r="0.54" fill="#7040c0" fill-opacity="0.50"/>
<circle cx="244.8" cy="1207.6" r="0.67" fill="#7040c0" fill-opacity="0.46"/>
<circle cx="255.5" cy="1248.8" r="0.80" fill="#7040c0" fill-opacity="0.35"/>
<circle cx="255.8" cy="1203.1" r="0.82" fill="#7040c0" fill-opacity="0.37"/>
<circle cx="270.6" cy="1242.6" r="0.80" fill="#7040c0" fill-opacity="0.40"/>
<circle cx="258.9" cy="1234.9" r="0.72" fill="#7040c0" fill-opacity="0.36"/>
<circle cx="270.2" cy="1220.2" r="0.50" fill="#7040c0" fill-opacity="0.46"/>
<circle cx="228.0" cy="1250.2" r="0.85" fill="#7040c0" fill-opacity="0.42"/>
<circle cx="231.2" cy="1206.9" r="0.80" fill="#7040c0" fill-opacity="0.54"/>
<circle cx="265.8" cy="1230.6" r="0.70" fill="#7040c0" fill-opacity="0.36"/>
<circle cx="239.4" cy="1222.4" r="0.84" fill="#7040c0" fill-opacity="0.42"/>
<circle cx="266.2" cy="1244.2" r="0.56" fill="#7040c0" fill-opacity="0.33"/>
<circle cx="235.7" cy="1228.5" r="0.50" fill="#7040c0" fill-opacity="0.51"/>
<circle cx="246.2" cy="1224.0" r="0.79" fill="#7040c0" fill-opacity="0.28"/>
<circle cx="232.5" cy="1252.8" r="0.71" fill="#7040c0" fill-opacity="0.36"/>
<circle cx="233.3" cy="1240.7" r="0.46" fill="#7040c0" fill-opacity="0.55"/>
<circle cx="266.5" cy="1234.0" r="0.77" fill="#7040c0" fill-opacity="0.38"/>
<circle cx="262.7" cy="1225.5" r="0.89" fill="#7040c0" fill-opacity="0.52"/>
<circle cx="233.1" cy="1201.7" r="0.62" fill="#7040c0" fill-opacity="0.50"/>
<circle cx="253.7" cy="1206.0" r="0.64" fill="#7040c0" fill-opacity="0.47"/>
<circle cx="239.6" cy="1232.2" r="0.77" fill="#7040c0" fill-opacity="0.35"/>
<circle cx="219.7" cy="1229.4" r="0.49" fill="#7040c0" fill-opacity="0.28"/>
<circle cx="264.5" cy="1243.9" r="0.58" fill="#7040c0" fill-opacity="0.35"/>
<circle cx="218.5" cy="1236.2" r="0.53" fill="#7040c0" fill-opacity="0.39"/>
<circle cx="265.1" cy="1210.7" r="0.53" fill="#7040c0" fill-opacity="0.41"/>
<circle cx="235.6" cy="1228.9" r="0.59" fill="#7040c0" fill-opacity="0.36"/>
<circle cx="253.3" cy="1210.8" r="0.73" fill="#7040c0" fill-opacity="0.54"/>
<circle cx="264.3" cy="1218.5" r="0.70" fill="#7040c0" fill-opacity="0.36"/>
<circle cx="229.8" cy="1240.2" r="0.80" fill="#7040c0" fill-opacity="0.53"/>
<circle cx="246.7" cy="1229.7" r="0.62" fill="#7040c0" fill-opacity="0.29"/>
<circle cx="274.3" cy="1232.4" r="0.46" fill="#7040c0" fill-opacity="0.47"/>
<circle cx="227.7" cy="1250.1" r="0.83" fill="#7040c0" fill-opacity="0.29"/>
<circle cx="258.0" cy="1255.4" r="0.71" fill="#7040c0" fill-opacity="0.39"/>
<circle cx="253.0" cy="1200.0" r="0.65" fill="#7040c0" fill-opacity="0.40"/>
<circle cx="262.5" cy="1238.2" r="0.47" fill="#7040c0" fill-opacity="0.45"/>
<circle cx="238.0" cy="1220.0" r="0.71" fill="#7040c0" fill-opacity="0.30"/>
<circle cx="267.1" cy="1242.6" r="0.63" fill="#7040c0" fill-opacity="0.52"/>
<circle cx="229.3" cy="1208.5" r="0.46" fill="#7040c0" fill-opacity="0.50"/>
<circle cx="268.6" cy="1239.5" r="0.86" fill="#7040c0" fill-opacity="0.52"/>
<circle cx="263.8" cy="1214.4" r="0.75" fill="#7040c0" fill-opacity="0.49"/>
<circle cx="267.1" cy="1250.1" r="0.85" fill="#7040c0" fill-opacity="0.40"/>
<circle cx="251.0" cy="1207.0" r="0.54" fill="#7040c0" fill-opacity="0.47"/>
<circle cx="273.1" cy="1238.1" r="0.89" fill="#7040c0" fill-opacity="0.35"/>
<circle cx="255.7" cy="1224.0" r="0.83" fill="#7040c0" fill-opacity="0.35"/>
<circle cx="267.4" cy="1223.0" r="0.86" fill="#7040c0" fill-opacity="0.28"/>
<circle cx="271.6" cy="1241.6" r="0.72" fill="#7040c0" fill-opacity="0.42"/>
<circle cx="260.1" cy="1229.9" r="0.59" fill="#7040c0" fill-opacity="0.29"/>
<circle cx="274.7" cy="1226.1" r="0.87" fill="#7040c0" fill-opacity="0.47"/>
<circle cx="242.5" cy="1234.5" r="0.77" fill="#7040c0" fill-opacity="0.31"/>
<circle cx="226.9" cy="1221.2" r="0.65" fill="#7040c0" fill-opacity="0.30"/>
<circle cx="267.5" cy="1237.3" r="0.42" fill="#7040c0" fill-opacity="0.42"/>
<circle cx="257.0" cy="1240.6" r="0.48" fill="#7040c0" fill-opacity="0.43"/>
<circle cx="236.0" cy="1236.7" r="0.51" fill="#7040c0" fill-opacity="0.43"/>
<circle cx="264.4" cy="1216.6" r="0.48" fill="#7040c0" fill-opacity="0.36"/>
<circle cx="248.7" cy="1250.6" r="0.79" fill="#7040c0" fill-opacity="0.43"/>
<circle cx="254.1" cy="1243.6" r="0.59" fill="#7040c0" fill-opacity="0.40"/>
<circle cx="222.3" cy="1245.8" r="0.68" fill="#7040c0" fill-opacity="0.46"/>
<circle cx="242.0" cy="1203.0" r="0.80" fill="#7040c0" fill-opacity="0.38"/>
<circle cx="231.8" cy="1200.9" r="0.48" fill="#7040c0" fill-opacity="0.45"/>
<circle cx="241.5" cy="1232.4" r="0.42" fill="#7040c0" fill-opacity="0.48"/>
<circle cx="267.1" cy="1244.5" r="0.45" fill="#7040c0" fill-opacity="0.38"/>
<circle cx="269.9" cy="1231.9" r="0.79" fill="#7040c0" fill-opacity="0.34"/>
<circle cx="219.7" cy="1215.5" r="0.55" fill="#7040c0" fill-opacity="0.40"/>
<circle cx="242.6" cy="1199.0" r="0.48" fill="#7040c0" fill-opacity="0.46"/>
<circle cx="254.9" cy="1234.4" r="0.89" fill="#7040c0" fill-opacity="0.29"/>
<circle cx="271.0" cy="1214.4" r="0.74" fill="#7040c0" fill-opacity="0.48"/>
<circle cx="237.5" cy="1213.8" r="0.62" fill="#7040c0" fill-opacity="0.33"/>
<circle cx="264.8" cy="1206.2" r="0.79" fill="#7040c0" fill-opacity="0.33"/>
<circle cx="234.1" cy="1218.8" r="0.80" fill="#7040c0" fill-opacity="0.48"/>
<circle cx="273.6" cy="1226.5" r="0.74" fill="#7040c0" fill-opacity="0.49"/>
<circle cx="267.4" cy="1240.5" r="0.42" fill="#7040c0" fill-opacity="0.38"/>
<circle cx="269.9" cy="1247.5" r="0.41" fill="#7040c0" fill-opacity="0.53"/>
<circle cx="266.9" cy="1220.7" r="0.82" fill="#7040c0" fill-opacity="0.29"/>
<circle cx="249.3" cy="1229.7" r="0.43" fill="#7040c0" fill-opacity="0.28"/>
<circle cx="251.7" cy="1219.2" r="0.70" fill="#7040c0" fill-opacity="0.35"/>
<circle cx="261.0" cy="1242.1" r="0.49" fill="#7040c0" fill-opacity="0.54"/>
<circle cx="229.3" cy="1243.2" r="0.68" fill="#7040c0" fill-opacity="0.45"/>
<circle cx="231.2" cy="1229.3" r="0.47" fill="#7040c0" fill-opacity="0.52"/>
<circle cx="254.7" cy="1246.7" r="0.80" fill="#7040c0" fill-opacity="0.43"/>
<circle cx="274.0" cy="1218.4" r="0.66" fill="#7040c0" fill-opacity="0.31"/>
<circle cx="229.3" cy="1215.6" r="0.83" fill="#7040c0" fill-opacity="0.42"/>
<circle cx="237.6" cy="1201.2" r="0.64" fill="#7040c0" fill-opacity="0.51"/>
<circle cx="257.2" cy="1220.1" r="0.86" fill="#7040c0" fill-opacity="0.51"/>
<circle cx="258.4" cy="1213.1" r="0.53" fill="#7040c0" fill-opacity="0.31"/>
<circle cx="227.4" cy="1248.0" r="0.58" fill="#7040c0" fill-opacity="0.28"/>
<circle cx="244.3" cy="1235.7" r="0.71" fill="#7040c0" fill-opacity="0.49"/>
<circle cx="255.7" cy="1223.2" r="0.59" fill="#7040c0" fill-opacity="0.31"/>
<circle cx="271.5" cy="1212.2" r="0.66" fill="#7040c0" fill-opacity="0.54"/>
<circle cx="219.9" cy="1223.8" r="0.64" fill="#7040c0" fill-opacity="0.38"/>
<circle cx="276.0" cy="1226.3" r="0.70" fill="#7040c0" fill-opacity="0.51"/>
<circle cx="230.8" cy="1205.0" r="0.43" fill="#7040c0" fill-opacity="0.31"/>
<circle cx="266.1" cy="1242.5" r="0.76" fill="#7040c0" fill-opacity="0.32"/>
<circle cx="236.8" cy="1227.0" r="0.74" fill="#7040c0" fill-opacity="0.49"/>
<circle cx="273.8" cy="1243.1" r="0.73" fill="#7040c0" fill-opacity="0.31"/>
<circle cx="239.9" cy="1237.2" r="0.76" fill="#7040c0" fill-opacity="0.53"/>
<circle cx="253.4" cy="1239.1" r="0.71" fill="#7040c0" fill-opacity="0.51"/>
<circle cx="245.8" cy="1206.4" r="0.46" fill="#7040c0" fill-opacity="0.44"/>
<circle cx="220.3" cy="1234.9" r="0.69" fill="#7040c0" fill-opacity="0.48"/>
<circle cx="271.7" cy="1222.9" r="1.72" fill="#5a24b0" fill-opacity="0.54"/>
<circle cx="276.7" cy="1227.6" r="0.93" fill="#5a24b0" fill-opacity="0.85"/>
<circle cx="239.8" cy="1229.4" r="1.15" fill="#5a24b0" fill-opacity="0.73"/>
<circle cx="228.9" cy="1243.5" r="0.99" fill="#5a24b0" fill-opacity="0.78"/>
<circle cx="227.3" cy="1247.5" r="1.03" fill="#5a24b0" fill-opacity="0.71"/>
<circle cx="227.8" cy="1231.1" r="0.92" fill="#5a24b0" fill-opacity="0.65"/>
<circle cx="252.6" cy="1218.8" r="1.30" fill="#5a24b0" fill-opacity="0.43"/>
<circle cx="278.1" cy="1226.2" r="1.51" fill="#5a24b0" fill-opacity="0.63"/>
</g>
<rect x="419.00" y="1105.40" width="33.00" height="224.60" fill="#0000f8" />
<line x1="435.50" y1="1106.40" x2="435.50" y2="1057.70" stroke="#000" stroke-width="2.6" />
<line x1="427.00" y1="1057.70" x2="444.00" y2="1057.70" stroke="#000" stroke-width="2.6" />
<rect x="470.90" y="1295.50" width="34.70" height="34.50" fill="#0000f8" />
<line x1="488.25" y1="1296.50" x2="488.25" y2="1290.00" stroke="#000" stroke-width="2.6" />
<line x1="479.75" y1="1290.00" x2="496.75" y2="1290.00" stroke="#000" stroke-width="2.6" />
<rect x="523.20" y="1292.00" width="34.70" height="38.00" fill="#0000f8" />
<line x1="540.55" y1="1293.00" x2="540.55" y2="1287.20" stroke="#000" stroke-width="2.6" />
<line x1="532.05" y1="1287.20" x2="549.05" y2="1287.20" stroke="#000" stroke-width="2.6" />
<line x1="401.00" y1="1003.50" x2="401.00" y2="1331.20" stroke="#000" stroke-width="2.6" />
<line x1="387.90" y1="1330.00" x2="401.00" y2="1330.00" stroke="#000" stroke-width="2.6" />
<line x1="387.90" y1="1264.94" x2="401.00" y2="1264.94" stroke="#000" stroke-width="2.6" />
<line x1="387.90" y1="1199.88" x2="401.00" y2="1199.88" stroke="#000" stroke-width="2.6" />
<line x1="387.90" y1="1134.82" x2="401.00" y2="1134.82" stroke="#000" stroke-width="2.6" />
<line x1="387.90" y1="1069.76" x2="401.00" y2="1069.76" stroke="#000" stroke-width="2.6" />
<line x1="387.90" y1="1004.70" x2="401.00" y2="1004.70" stroke="#000" stroke-width="2.6" />
<line x1="387.90" y1="1330.00" x2="576.80" y2="1330.00" stroke="#000" stroke-width="2.6" />
<line x1="435.70" y1="1330.00" x2="435.70" y2="1343.70" stroke="#000" stroke-width="2.6" />
<line x1="487.80" y1="1330.00" x2="487.80" y2="1343.70" stroke="#000" stroke-width="2.6" />
<line x1="541.00" y1="1330.00" x2="541.00" y2="1343.70" stroke="#000" stroke-width="2.6" />
<text transform="translate(380.30,1338.00)" style="font-size:23px" text-anchor="end">0</text>
<text transform="translate(380.30,1272.94)" style="font-size:23px" text-anchor="end">100</text>
<text transform="translate(380.30,1207.88)" style="font-size:23px" text-anchor="end">200</text>
<text transform="translate(380.30,1142.82)" style="font-size:23px" text-anchor="end">300</text>
<text transform="translate(380.30,1077.76)" style="font-size:23px" text-anchor="end">400</text>
<text transform="translate(380.90,1012.90)" style="font-size:23px" text-anchor="end">500</text>
<text transform="translate(480.80,974.30)" style="font-size:23px" text-anchor="middle">BCPAP</text>
<path d="M436.10,1003.00 L436.10,984.50 L541.00,984.50 L541.00,1003.00" stroke="#000" stroke-width="2.3" fill="none" stroke-linejoin="miter"/>
<path d="M436.10,1039.90 L436.10,1021.40 L488.40,1021.40 L488.40,1039.90" stroke="#000" stroke-width="2.3" fill="none" stroke-linejoin="miter"/>
<text transform="translate(495.30,1023.40)" style="font-size:23px"><tspan style="font-style:italic">P</tspan> = 0.000</text>
<text transform="translate(454.80,1063.80)" style="font-size:23px"><tspan style="font-style:italic">P</tspan>= 0.000</text>
<text transform="translate(331.80,1159.60) rotate(-90)" style="font-size:23px" text-anchor="middle">Colony numbers</text>
<text transform="translate(440.50,1355.10) rotate(-45)" style="font-size:20.2px" text-anchor="end">DMSO+<tspan style="font-size:12.5px" dy="-8">131</tspan><tspan dy="8" dx="3">I</tspan></text>
<text transform="translate(494.30,1351.00) rotate(-45)" style="font-size:20.2px" text-anchor="end">SR1+<tspan style="font-size:12.5px" dy="-8">131</tspan><tspan dy="8" dx="3">I</tspan></text>
<text transform="translate(547.50,1346.70) rotate(-45)" style="font-size:20.2px" text-anchor="end">CH+<tspan style="font-size:12.5px" dy="-8">131</tspan><tspan dy="8" dx="3">I</tspan></text>
<rect x="686.00" y="1119.50" width="36.90" height="208.30" fill="#0000f8" />
<line x1="704.45" y1="1120.50" x2="704.45" y2="1063.60" stroke="#000" stroke-width="2.6" />
<line x1="695.70" y1="1063.60" x2="713.20" y2="1063.60" stroke="#000" stroke-width="2.6" />
<rect x="741.30" y="1270.70" width="36.40" height="57.10" fill="#0000f8" />
<line x1="759.50" y1="1271.70" x2="759.50" y2="1261.10" stroke="#000" stroke-width="2.6" />
<line x1="750.75" y1="1261.10" x2="768.25" y2="1261.10" stroke="#000" stroke-width="2.6" />
<rect x="795.70" y="1280.80" width="36.70" height="47.00" fill="#0000f8" />
<line x1="814.05" y1="1281.80" x2="814.05" y2="1271.40" stroke="#000" stroke-width="2.6" />
<line x1="805.30" y1="1271.40" x2="822.80" y2="1271.40" stroke="#000" stroke-width="2.6" />
<line x1="669.00" y1="999.70" x2="669.00" y2="1329.00" stroke="#000" stroke-width="2.6" />
<line x1="655.70" y1="1327.80" x2="669.00" y2="1327.80" stroke="#000" stroke-width="2.6" />
<line x1="655.70" y1="1218.83" x2="669.00" y2="1218.83" stroke="#000" stroke-width="2.6" />
<line x1="655.70" y1="1109.87" x2="669.00" y2="1109.87" stroke="#000" stroke-width="2.6" />
<line x1="655.70" y1="1000.90" x2="669.00" y2="1000.90" stroke="#000" stroke-width="2.6" />
<line x1="655.70" y1="1327.80" x2="851.60" y2="1327.80" stroke="#000" stroke-width="2.6" />
<line x1="704.30" y1="1327.80" x2="704.30" y2="1341.30" stroke="#000" stroke-width="2.6" />
<line x1="759.20" y1="1327.80" x2="759.20" y2="1341.30" stroke="#000" stroke-width="2.6" />
<line x1="814.00" y1="1327.80" x2="814.00" y2="1341.30" stroke="#000" stroke-width="2.6" />
<text transform="translate(647.90,1335.80)" style="font-size:23px" text-anchor="end">0</text>
<text transform="translate(647.90,1226.83)" style="font-size:23px" text-anchor="end">100</text>
<text transform="translate(647.90,1117.87)" style="font-size:23px" text-anchor="end">200</text>
<text transform="translate(648.80,1009.30)" style="font-size:23px" text-anchor="end">300</text>
<text transform="translate(773.40,974.10)" style="font-size:23px" text-anchor="middle">K1</text>
<path d="M707.00,1013.40 L707.00,994.40 L813.60,994.40 L813.60,1013.40" stroke="#000" stroke-width="2.3" fill="none" stroke-linejoin="miter"/>
<path d="M707.00,1052.60 L707.00,1034.00 L757.40,1034.00 L757.40,1052.60" stroke="#000" stroke-width="2.3" fill="none" stroke-linejoin="miter"/>
<text transform="translate(788.30,1033.50)" style="font-size:23px"><tspan style="font-style:italic">P</tspan>= 0.000</text>
<text transform="translate(724.70,1076.40)" style="font-size:23px"><tspan style="font-style:italic">P</tspan>= 0.000</text>
<text transform="translate(599.10,1138.60) rotate(-90)" style="font-size:23px" text-anchor="middle">Colony numbers</text>
<text transform="translate(708.30,1354.70) rotate(-45)" style="font-size:20.2px" text-anchor="end">DMSO+<tspan style="font-size:12.5px" dy="-8">131</tspan><tspan dy="8" dx="3">I</tspan></text>
<text transform="translate(771.60,1350.70) rotate(-45)" style="font-size:20.2px" text-anchor="end">SR1+<tspan style="font-size:12.5px" dy="-8">131</tspan><tspan dy="8" dx="3">I</tspan></text>
<text transform="translate(822.40,1357.60) rotate(-45)" style="font-size:20.2px" text-anchor="end">CH+<tspan style="font-size:12.5px" dy="-8">131</tspan><tspan dy="8" dx="3">I</tspan></text>
<text transform="translate(953.70,963.50)" style="font-size:40px;font-weight:bold">D</text>
<rect x="1042.20" y="1259.20" width="31.90" height="60.80" fill="#0000f8" />
<line x1="1058.15" y1="1260.20" x2="1058.15" y2="1251.20" stroke="#000" stroke-width="2.6" />
<line x1="1050.15" y1="1251.20" x2="1066.15" y2="1251.20" stroke="#000" stroke-width="2.6" />
<rect x="1090.00" y="1117.10" width="31.40" height="202.90" fill="#0000f8" />
<line x1="1105.70" y1="1118.10" x2="1105.70" y2="1081.10" stroke="#000" stroke-width="2.6" />
<line x1="1097.70" y1="1081.10" x2="1113.70" y2="1081.10" stroke="#000" stroke-width="2.6" />
<rect x="1137.70" y="1180.40" width="31.50" height="139.60" fill="#0000f8" />
<line x1="1153.45" y1="1181.40" x2="1153.45" y2="1175.00" stroke="#000" stroke-width="2.6" />
<line x1="1145.45" y1="1175.00" x2="1161.45" y2="1175.00" stroke="#000" stroke-width="2.6" />
<line x1="1027.00" y1="1014.30" x2="1027.00" y2="1321.20" stroke="#000" stroke-width="2.6" />
<line x1="1015.00" y1="1320.00" x2="1027.00" y2="1320.00" stroke="#000" stroke-width="2.6" />
<line x1="1015.00" y1="1259.10" x2="1027.00" y2="1259.10" stroke="#000" stroke-width="2.6" />
<line x1="1015.00" y1="1198.20" x2="1027.00" y2="1198.20" stroke="#000" stroke-width="2.6" />
<line x1="1015.00" y1="1137.30" x2="1027.00" y2="1137.30" stroke="#000" stroke-width="2.6" />
<line x1="1015.00" y1="1076.40" x2="1027.00" y2="1076.40" stroke="#000" stroke-width="2.6" />
<line x1="1015.00" y1="1015.50" x2="1027.00" y2="1015.50" stroke="#000" stroke-width="2.6" />
<line x1="1014.00" y1="1320.00" x2="1186.20" y2="1320.00" stroke="#000" stroke-width="2.6" />
<line x1="1058.00" y1="1320.00" x2="1058.00" y2="1332.40" stroke="#000" stroke-width="2.6" />
<line x1="1105.20" y1="1320.00" x2="1105.20" y2="1332.40" stroke="#000" stroke-width="2.6" />
<line x1="1152.90" y1="1320.00" x2="1152.90" y2="1332.40" stroke="#000" stroke-width="2.6" />
<text transform="translate(1010.70,1328.00)" style="font-size:23px" text-anchor="end">0</text>
<text transform="translate(1010.70,1267.10)" style="font-size:23px" text-anchor="end">1</text>
<text transform="translate(1010.70,1206.20)" style="font-size:23px" text-anchor="end">2</text>
<text transform="translate(1010.70,1145.30)" style="font-size:23px" text-anchor="end">3</text>
<text transform="translate(1010.70,1084.40)" style="font-size:23px" text-anchor="end">4</text>
<text transform="translate(1011.20,1023.50)" style="font-size:23px" text-anchor="end">5</text>
<text transform="translate(1098.90,956.00)" style="font-size:23px" text-anchor="middle">BCPAP</text>
<path d="M1059.60,992.30 L1059.60,976.00 L1154.50,976.00 L1154.50,992.30" stroke="#000" stroke-width="2.3" fill="none" stroke-linejoin="miter"/>
<path d="M1061.70,1050.70 L1061.70,1034.00 L1106.30,1034.00 L1106.30,1050.70" stroke="#000" stroke-width="2.3" fill="none" stroke-linejoin="miter"/>
<text transform="translate(1103.70,1020.30)" style="font-size:23px"><tspan style="font-style:italic">P</tspan> = 0.000</text>
<text transform="translate(1041.50,1070.60)" style="font-size:23px"><tspan style="font-style:italic">P</tspan> = 0.003</text>
<text transform="translate(982.15,1155.90) rotate(-90)" style="font-size:21px" text-anchor="middle">Relative  expression of NIS</text>
<text transform="translate(1065.80,1345.60) rotate(-45)" style="font-size:21.3px" text-anchor="end">DMSO</text>
<text transform="translate(1109.50,1347.00) rotate(-45)" style="font-size:21.3px" text-anchor="end">SR1</text>
<text transform="translate(1157.10,1347.20) rotate(-45)" style="font-size:21.3px" text-anchor="end">CH</text>
<rect x="1310.00" y="1259.50" width="30.70" height="52.40" fill="#0000f8" />
<line x1="1325.35" y1="1260.50" x2="1325.35" y2="1242.60" stroke="#000" stroke-width="2.6" />
<line x1="1317.85" y1="1242.60" x2="1332.85" y2="1242.60" stroke="#000" stroke-width="2.6" />
<rect x="1356.10" y="1146.50" width="30.70" height="165.40" fill="#0000f8" />
<line x1="1371.45" y1="1147.50" x2="1371.45" y2="1121.70" stroke="#000" stroke-width="2.6" />
<line x1="1363.95" y1="1121.70" x2="1378.95" y2="1121.70" stroke="#000" stroke-width="2.6" />
<rect x="1402.20" y="1093.40" width="30.50" height="218.50" fill="#0000f8" />
<line x1="1417.45" y1="1094.40" x2="1417.45" y2="1037.50" stroke="#000" stroke-width="2.6" />
<line x1="1409.95" y1="1037.50" x2="1424.95" y2="1037.50" stroke="#000" stroke-width="2.6" />
<line x1="1295.70" y1="1005.20" x2="1295.70" y2="1313.10" stroke="#000" stroke-width="2.6" />
<line x1="1282.70" y1="1311.90" x2="1295.70" y2="1311.90" stroke="#000" stroke-width="2.6" />
<line x1="1282.70" y1="1260.98" x2="1295.70" y2="1260.98" stroke="#000" stroke-width="2.6" />
<line x1="1282.70" y1="1210.07" x2="1295.70" y2="1210.07" stroke="#000" stroke-width="2.6" />
<line x1="1282.70" y1="1159.15" x2="1295.70" y2="1159.15" stroke="#000" stroke-width="2.6" />
<line x1="1282.70" y1="1108.23" x2="1295.70" y2="1108.23" stroke="#000" stroke-width="2.6" />
<line x1="1282.70" y1="1057.32" x2="1295.70" y2="1057.32" stroke="#000" stroke-width="2.6" />
<line x1="1282.70" y1="1006.40" x2="1295.70" y2="1006.40" stroke="#000" stroke-width="2.6" />
<line x1="1281.80" y1="1311.90" x2="1449.10" y2="1311.90" stroke="#000" stroke-width="2.6" />
<line x1="1324.90" y1="1311.90" x2="1324.90" y2="1325.00" stroke="#000" stroke-width="2.6" />
<line x1="1370.60" y1="1311.90" x2="1370.60" y2="1325.00" stroke="#000" stroke-width="2.6" />
<line x1="1417.10" y1="1311.90" x2="1417.10" y2="1325.00" stroke="#000" stroke-width="2.6" />
<text transform="translate(1278.20,1319.90)" style="font-size:23px" text-anchor="end">0</text>
<text transform="translate(1278.20,1268.98)" style="font-size:23px" text-anchor="end">1</text>
<text transform="translate(1278.20,1218.07)" style="font-size:23px" text-anchor="end">2</text>
<text transform="translate(1278.20,1167.15)" style="font-size:23px" text-anchor="end">3</text>
<text transform="translate(1278.20,1116.23)" style="font-size:23px" text-anchor="end">4</text>
<text transform="translate(1278.20,1065.32)" style="font-size:23px" text-anchor="end">5</text>
<text transform="translate(1278.60,1014.80)" style="font-size:23px" text-anchor="end">6</text>
<text transform="translate(1368.70,956.80)" style="font-size:23px" text-anchor="middle">K1</text>
<path d="M1312.80,1000.90 L1312.80,984.10 L1418.40,984.10 L1418.40,1000.90" stroke="#000" stroke-width="2.3" fill="none" stroke-linejoin="miter"/>
<path d="M1315.60,1072.00 L1315.60,1055.30 L1371.90,1055.30 L1371.90,1072.00" stroke="#000" stroke-width="2.3" fill="none" stroke-linejoin="miter"/>
<text transform="translate(1353.00,1030.10)" style="font-size:23px"><tspan style="font-style:italic">P</tspan> = 0.003</text>
<text transform="translate(1299.30,1098.80)" style="font-size:23px"><tspan style="font-style:italic">P</tspan> = 0.001</text>
<text transform="translate(1252.15,1158.30) rotate(-90)" style="font-size:21.8px" text-anchor="middle">Relative  expression of NIS</text>
<text transform="translate(1334.70,1340.60) rotate(-45)" style="font-size:21.3px" text-anchor="end">DMSO</text>
<text transform="translate(1381.20,1341.20) rotate(-45)" style="font-size:21.3px" text-anchor="end">SR1</text>
<text transform="translate(1422.90,1341.30) rotate(-45)" style="font-size:21.3px" text-anchor="end">CH</text>
<text transform="translate(17.50,1493.10)" style="font-size:40px;font-weight:bold">E</text>
<text transform="translate(431.10,1478.00)" style="font-size:23px" text-anchor="middle">SR1</text>
<polygon points="187.5,1503.2 680.6,1486.5 680.6,1512.3 187.5,1506.2" fill="#2a2a2a"/>
<text transform="translate(235.20,1549.30)" style="font-size:23px" text-anchor="middle">0</text>
<text transform="translate(313.30,1549.30)" style="font-size:23px" text-anchor="middle">12.5</text>
<text transform="translate(393.90,1548.70)" style="font-size:23px" text-anchor="middle">25</text>
<text transform="translate(471.50,1548.70)" style="font-size:23px" text-anchor="middle">50</text>
<text transform="translate(559.90,1548.70)" style="font-size:23px" text-anchor="middle">100</text>
<text transform="translate(633.40,1548.70)" style="font-size:23px" text-anchor="middle">200</text>
<text transform="translate(664.50,1546.20)" style="font-size:23px">(nM)</text>
<line x1="89.10" y1="1558.00" x2="89.10" y2="1677.00" stroke="#000" stroke-width="2.6" />
<line x1="89.10" y1="1693.00" x2="89.10" y2="1803.50" stroke="#000" stroke-width="2.6" />
<text transform="translate(1.30,1621.40)" style="font-size:23px">BCPAP</text>
<text transform="translate(38.00,1757.80)" style="font-size:23px">K1</text>
<text transform="translate(128.60,1596.80)" style="font-size:23px">NIS</text>
<text transform="translate(97.60,1658.70)" style="font-size:23px">β-actin</text>
<text transform="translate(131.40,1734.40)" style="font-size:23px">NIS</text>
<text transform="translate(97.60,1781.40)" style="font-size:23px">β-actin</text>
<rect x="184.00" y="1557.50" width="496.00" height="53.50" fill="url(#g1841557)" />
<rect x="184" y="1590" width="496" height="21" fill="#d4d4d4" fill-opacity="0.6" filter="url(#bl40)"/>
<rect x="201.5" y="1577.8" width="57.5" height="7.5" rx="3.8" ry="3.8" fill="#111" fill-opacity="0.9" filter="url(#bl15)"/>
<rect x="280.5" y="1579.5" width="59.5" height="8.0" rx="4.0" ry="4.0" fill="#111" fill-opacity="0.9" filter="url(#bl15)"/>
<rect x="362.5" y="1579.8" width="61.5" height="7.5" rx="3.8" ry="3.8" fill="#111" fill-opacity="0.9" filter="url(#bl15)"/>
<rect x="448.5" y="1582.5" width="58.5" height="12.0" rx="6.0" ry="6.0" fill="#111" fill-opacity="1" filter="url(#bl15)"/>
<rect x="527.0" y="1583.0" width="62.5" height="13.0" rx="6.5" ry="6.5" fill="#111" fill-opacity="1" filter="url(#bl15)"/>
<rect x="609.0" y="1582.8" width="62.5" height="12.5" rx="6.2" ry="6.2" fill="#111" fill-opacity="1" filter="url(#bl15)"/>
<rect x="185.15" y="1558.65" width="493.70" height="51.20" fill="none" stroke="#000" stroke-width="2.3"/>
<rect x="184.00" y="1625.00" width="496.00" height="53.00" fill="#f0f0f0" />
<rect x="192.0" y="1634.5" width="69.0" height="32.0" rx="16.0" ry="16.0" fill="#8a8a8a" fill-opacity="0.7" filter="url(#bl30)"/>
<rect x="194.0" y="1637.0" width="65.0" height="27.0" rx="13.5" ry="13.5" fill="#000" fill-opacity="1" filter="url(#bl16)"/>
<rect x="270.0" y="1634.5" width="68.0" height="32.0" rx="16.0" ry="16.0" fill="#8a8a8a" fill-opacity="0.7" filter="url(#bl30)"/>
<rect x="272.0" y="1637.0" width="64.0" height="27.0" rx="13.5" ry="13.5" fill="#000" fill-opacity="1" filter="url(#bl16)"/>
<rect x="351.0" y="1634.5" width="68.5" height="32.0" rx="16.0" ry="16.0" fill="#8a8a8a" fill-opacity="0.7" filter="url(#bl30)"/>
<rect x="353.0" y="1637.0" width="64.5" height="27.0" rx="13.5" ry="13.5" fill="#000" fill-opacity="1" filter="url(#bl16)"/>
<rect x="432.0" y="1634.5" width="67.5" height="32.0" rx="16.0" ry="16.0" fill="#8a8a8a" fill-opacity="0.7" filter="url(#bl30)"/>
<rect x="434.0" y="1637.0" width="63.5" height="27.0" rx="13.5" ry="13.5" fill="#000" fill-opacity="1" filter="url(#bl16)"/>
<rect x="511.5" y="1634.5" width="62.5" height="32.0" rx="16.0" ry="16.0" fill="#8a8a8a" fill-opacity="0.7" filter="url(#bl30)"/>
<rect x="513.5" y="1637.0" width="58.5" height="27.0" rx="13.5" ry="13.5" fill="#000" fill-opacity="1" filter="url(#bl16)"/>
<rect x="589.0" y="1634.5" width="73.0" height="32.0" rx="16.0" ry="16.0" fill="#8a8a8a" fill-opacity="0.7" filter="url(#bl30)"/>
<rect x="591.0" y="1637.0" width="69.0" height="27.0" rx="13.5" ry="13.5" fill="#000" fill-opacity="1" filter="url(#bl16)"/>
<rect x="185.15" y="1626.15" width="493.70" height="50.70" fill="none" stroke="#000" stroke-width="2.3"/>
<rect x="183.00" y="1692.00" width="497.50" height="50.50" fill="url(#g1831692)" />
<rect x="183" y="1692" width="497" height="20" fill="#7c7c7c" fill-opacity="0.35" filter="url(#bl40)"/>
<ellipse cx="220.6" cy="1717.6" rx="20.6" ry="2.0" fill="#000" fill-opacity="1.0" filter="url(#bl12)"/>
<ellipse cx="202.0" cy="1717.3" rx="11.5" ry="5.5" fill="#000" fill-opacity="1.0" filter="url(#bl14)"/>
<ellipse cx="239.2" cy="1717.3" rx="10.8" ry="5.5" fill="#000" fill-opacity="1.0" filter="url(#bl14)"/>
<ellipse cx="303.5" cy="1717.6" rx="20.8" ry="2.5" fill="#000" fill-opacity="1.0" filter="url(#bl12)"/>
<ellipse cx="284.8" cy="1717.3" rx="12.2" ry="6.5" fill="#000" fill-opacity="1.0" filter="url(#bl14)"/>
<ellipse cx="322.2" cy="1717.3" rx="14.2" ry="6.5" fill="#000" fill-opacity="1.0" filter="url(#bl14)"/>
<ellipse cx="385.8" cy="1717.6" rx="21.0" ry="2.0" fill="#000" fill-opacity="1.0" filter="url(#bl12)"/>
<ellipse cx="366.8" cy="1717.3" rx="11.2" ry="5.8" fill="#000" fill-opacity="1.0" filter="url(#bl14)"/>
<ellipse cx="404.8" cy="1717.3" rx="11.8" ry="5.8" fill="#000" fill-opacity="1.0" filter="url(#bl14)"/>
<ellipse cx="469.9" cy="1717.6" rx="20.4" ry="3.0" fill="#000" fill-opacity="1.0" filter="url(#bl12)"/>
<ellipse cx="451.5" cy="1717.3" rx="12.5" ry="6.8" fill="#000" fill-opacity="1.0" filter="url(#bl14)"/>
<ellipse cx="488.4" cy="1717.3" rx="14.3" ry="6.8" fill="#000" fill-opacity="1.0" filter="url(#bl14)"/>
<ellipse cx="554.5" cy="1717.6" rx="18.5" ry="7.5" fill="#000" fill-opacity="1.0" filter="url(#bl12)"/>
<ellipse cx="538.0" cy="1717.3" rx="18.0" ry="9.5" fill="#000" fill-opacity="1.0" filter="url(#bl14)"/>
<ellipse cx="571.0" cy="1717.3" rx="19.0" ry="9.5" fill="#000" fill-opacity="1.0" filter="url(#bl14)"/>
<ellipse cx="639.3" cy="1717.6" rx="19.1" ry="4.0" fill="#000" fill-opacity="1.0" filter="url(#bl12)"/>
<ellipse cx="622.2" cy="1717.3" rx="16.2" ry="7.0" fill="#000" fill-opacity="1.0" filter="url(#bl14)"/>
<ellipse cx="656.4" cy="1717.3" rx="17.1" ry="7.0" fill="#000" fill-opacity="1.0" filter="url(#bl14)"/>
<rect x="184.15" y="1693.15" width="495.20" height="48.20" fill="none" stroke="#000" stroke-width="2.3"/>
<rect x="184.00" y="1756.50" width="496.00" height="50.00" fill="url(#g1841756)" />
<rect x="184" y="1790" width="496" height="16" fill="#cfcfcf" fill-opacity="0.6" filter="url(#bl30)"/>
<rect x="186.0" y="1765.5" width="73.0" height="27.0" rx="13.5" ry="13.5" fill="#3a3a3a" fill-opacity="0.6" filter="url(#bl25)"/>
<rect x="187.0" y="1767.5" width="71.0" height="23.0" rx="11.5" ry="11.5" fill="#000" fill-opacity="1.0" filter="url(#bl16)"/>
<rect x="266.0" y="1764.5" width="69.0" height="28.0" rx="14.0" ry="14.0" fill="#3a3a3a" fill-opacity="0.6" filter="url(#bl25)"/>
<rect x="267.0" y="1766.5" width="67.0" height="24.0" rx="12.0" ry="12.0" fill="#000" fill-opacity="1.0" filter="url(#bl16)"/>
<rect x="349.0" y="1765.0" width="72.0" height="25.0" rx="12.5" ry="12.5" fill="#3a3a3a" fill-opacity="0.6" filter="url(#bl25)"/>
<rect x="350.0" y="1767.0" width="70.0" height="21.0" rx="10.5" ry="10.5" fill="#000" fill-opacity="1.0" filter="url(#bl16)"/>
<rect x="433.5" y="1765.6" width="71.9" height="24.0" rx="12.0" ry="12.0" fill="#3a3a3a" fill-opacity="0.6" filter="url(#bl25)"/>
<rect x="434.5" y="1767.6" width="69.9" height="20.0" rx="10.0" ry="10.0" fill="#000" fill-opacity="1.0" filter="url(#bl16)"/>
<rect x="517.0" y="1764.3" width="69.3" height="23.0" rx="11.5" ry="11.5" fill="#3a3a3a" fill-opacity="0.6" filter="url(#bl25)"/>
<rect x="518.0" y="1766.3" width="67.3" height="19.0" rx="9.5" ry="9.5" fill="#000" fill-opacity="1.0" filter="url(#bl16)"/>
<rect x="608.8" y="1764.5" width="61.2" height="20.0" rx="10.0" ry="10.0" fill="#3a3a3a" fill-opacity="0.6" filter="url(#bl25)"/>
<rect x="609.8" y="1766.5" width="59.2" height="16.0" rx="8.0" ry="8.0" fill="#000" fill-opacity="1.0" filter="url(#bl16)"/>
<rect x="185.15" y="1757.65" width="493.70" height="47.70" fill="none" stroke="#000" stroke-width="2.3"/>
<rect x="842.20" y="1813.20" width="26.40" height="13.80" fill="#0000f8" />
<line x1="855.40" y1="1814.20" x2="855.40" y2="1806.20" stroke="#000" stroke-width="2.6" />
<line x1="848.90" y1="1806.20" x2="861.90" y2="1806.20" stroke="#000" stroke-width="2.6" />
<rect x="882.40" y="1805.20" width="26.60" height="21.80" fill="#0000f8" />
<line x1="895.70" y1="1806.20" x2="895.70" y2="1803.20" stroke="#000" stroke-width="2.6" />
<line x1="889.20" y1="1803.20" x2="902.20" y2="1803.20" stroke="#000" stroke-width="2.6" />
<rect x="922.80" y="1800.10" width="26.80" height="26.90" fill="#0000f8" />
<line x1="936.20" y1="1801.10" x2="936.20" y2="1798.10" stroke="#000" stroke-width="2.6" />
<line x1="929.70" y1="1798.10" x2="942.70" y2="1798.10" stroke="#000" stroke-width="2.6" />
<rect x="963.40" y="1765.00" width="26.90" height="62.00" fill="#0000f8" />
<line x1="976.85" y1="1766.00" x2="976.85" y2="1755.00" stroke="#000" stroke-width="2.6" />
<line x1="970.35" y1="1755.00" x2="983.35" y2="1755.00" stroke="#000" stroke-width="2.6" />
<rect x="1004.10" y="1725.30" width="26.60" height="101.70" fill="#0000f8" />
<line x1="1017.40" y1="1726.30" x2="1017.40" y2="1715.80" stroke="#000" stroke-width="2.6" />
<line x1="1010.90" y1="1715.80" x2="1023.90" y2="1715.80" stroke="#000" stroke-width="2.6" />
<rect x="1044.50" y="1718.60" width="26.90" height="108.40" fill="#0000f8" />
<line x1="1057.95" y1="1719.60" x2="1057.95" y2="1706.00" stroke="#000" stroke-width="2.6" />
<line x1="1051.45" y1="1706.00" x2="1064.45" y2="1706.00" stroke="#000" stroke-width="2.6" />
<rect x="1111.60" y="1817.90" width="27.10" height="9.10" fill="#0000f8" />
<line x1="1125.15" y1="1818.90" x2="1125.15" y2="1813.70" stroke="#000" stroke-width="2.6" />
<line x1="1118.65" y1="1813.70" x2="1131.65" y2="1813.70" stroke="#000" stroke-width="2.6" />
<rect x="1152.00" y="1803.30" width="27.10" height="23.70" fill="#0000f8" />
<line x1="1165.55" y1="1804.30" x2="1165.55" y2="1800.20" stroke="#000" stroke-width="2.6" />
<line x1="1159.05" y1="1800.20" x2="1172.05" y2="1800.20" stroke="#000" stroke-width="2.6" />
<rect x="1192.40" y="1800.20" width="27.30" height="26.80" fill="#0000f8" />
<line x1="1206.05" y1="1801.20" x2="1206.05" y2="1798.10" stroke="#000" stroke-width="2.6" />
<line x1="1199.55" y1="1798.10" x2="1212.55" y2="1798.10" stroke="#000" stroke-width="2.6" />
<rect x="1232.70" y="1792.40" width="27.10" height="34.60" fill="#0000f8" />
<line x1="1246.25" y1="1793.40" x2="1246.25" y2="1785.30" stroke="#000" stroke-width="2.6" />
<line x1="1239.75" y1="1785.30" x2="1252.75" y2="1785.30" stroke="#000" stroke-width="2.6" />
<rect x="1273.60" y="1564.50" width="26.90" height="262.50" fill="#0000f8" />
<line x1="1287.05" y1="1565.50" x2="1287.05" y2="1551.50" stroke="#000" stroke-width="2.6" />
<line x1="1280.55" y1="1551.50" x2="1293.55" y2="1551.50" stroke="#000" stroke-width="2.6" />
<rect x="1314.00" y="1564.50" width="26.80" height="262.50" fill="#0000f8" />
<line x1="1327.40" y1="1565.50" x2="1327.40" y2="1548.90" stroke="#000" stroke-width="2.6" />
<line x1="1320.90" y1="1548.90" x2="1333.90" y2="1548.90" stroke="#000" stroke-width="2.6" />
<line x1="828.60" y1="1474.70" x2="828.60" y2="1828.20" stroke="#000" stroke-width="2.6" />
<line x1="814.10" y1="1827.00" x2="828.60" y2="1827.00" stroke="#000" stroke-width="2.6" />
<line x1="814.10" y1="1756.78" x2="828.60" y2="1756.78" stroke="#000" stroke-width="2.6" />
<line x1="814.10" y1="1686.56" x2="828.60" y2="1686.56" stroke="#000" stroke-width="2.6" />
<line x1="814.10" y1="1616.34" x2="828.60" y2="1616.34" stroke="#000" stroke-width="2.6" />
<line x1="814.10" y1="1546.12" x2="828.60" y2="1546.12" stroke="#000" stroke-width="2.6" />
<line x1="814.10" y1="1475.90" x2="828.60" y2="1475.90" stroke="#000" stroke-width="2.6" />
<line x1="814.10" y1="1827.00" x2="1356.20" y2="1827.00" stroke="#000" stroke-width="2.6" />
<line x1="855.40" y1="1827.00" x2="855.40" y2="1841.00" stroke="#000" stroke-width="2.6" />
<line x1="895.70" y1="1827.00" x2="895.70" y2="1841.00" stroke="#000" stroke-width="2.6" />
<line x1="936.20" y1="1827.00" x2="936.20" y2="1841.00" stroke="#000" stroke-width="2.6" />
<line x1="976.85" y1="1827.00" x2="976.85" y2="1841.00" stroke="#000" stroke-width="2.6" />
<line x1="1017.40" y1="1827.00" x2="1017.40" y2="1841.00" stroke="#000" stroke-width="2.6" />
<line x1="1057.95" y1="1827.00" x2="1057.95" y2="1841.00" stroke="#000" stroke-width="2.6" />
<line x1="1125.15" y1="1827.00" x2="1125.15" y2="1841.00" stroke="#000" stroke-width="2.6" />
<line x1="1165.55" y1="1827.00" x2="1165.55" y2="1841.00" stroke="#000" stroke-width="2.6" />
<line x1="1206.05" y1="1827.00" x2="1206.05" y2="1841.00" stroke="#000" stroke-width="2.6" />
<line x1="1246.25" y1="1827.00" x2="1246.25" y2="1841.00" stroke="#000" stroke-width="2.6" />
<line x1="1287.05" y1="1827.00" x2="1287.05" y2="1841.00" stroke="#000" stroke-width="2.6" />
<line x1="1327.40" y1="1827.00" x2="1327.40" y2="1841.00" stroke="#000" stroke-width="2.6" />
<text transform="translate(804.50,1835.00)" style="font-size:23px" text-anchor="end">0.0</text>
<text transform="translate(804.50,1764.78)" style="font-size:23px" text-anchor="end">0.2</text>
<text transform="translate(804.50,1694.56)" style="font-size:23px" text-anchor="end">0.4</text>
<text transform="translate(804.50,1624.34)" style="font-size:23px" text-anchor="end">0.6</text>
<text transform="translate(805.20,1554.84)" style="font-size:23px" text-anchor="end">0.8</text>
<text transform="translate(804.70,1484.30)" style="font-size:23px" text-anchor="end">1.0</text>
<text transform="translate(854.45,1860.40)" style="font-size:23px" text-anchor="middle">0</text>
<text transform="translate(893.25,1860.40)" style="font-size:23px" text-anchor="middle">12.5</text>
<text transform="translate(936.40,1860.40)" style="font-size:23px" text-anchor="middle">25</text>
<text transform="translate(971.20,1860.40)" style="font-size:23px" text-anchor="middle">50</text>
<text transform="translate(1013.30,1860.40)" style="font-size:23px" text-anchor="middle">100</text>
<text transform="translate(1062.35,1860.40)" style="font-size:23px" text-anchor="middle">200</text>
<text transform="translate(1124.45,1860.40)" style="font-size:23px" text-anchor="middle">0</text>
<text transform="translate(1162.10,1860.40)" style="font-size:23px" text-anchor="middle">12.5</text>
<text transform="translate(1207.00,1860.40)" style="font-size:23px" text-anchor="middle">25</text>
<text transform="translate(1242.20,1860.40)" style="font-size:23px" text-anchor="middle">50</text>
<text transform="translate(1283.65,1860.40)" style="font-size:23px" text-anchor="middle">100</text>
<text transform="translate(1332.60,1860.40)" style="font-size:23px" text-anchor="middle">200</text>
<text transform="translate(1366.60,1860.70)" style="font-size:23px">(SR1, nM)</text>
<line x1="843.50" y1="1881.00" x2="1075.10" y2="1881.00" stroke="#000" stroke-width="2.6" />
<line x1="1130.40" y1="1881.00" x2="1362.20" y2="1881.00" stroke="#000" stroke-width="2.6" />
<text transform="translate(962.40,1911.40)" style="font-size:23px" text-anchor="middle">BCPAP</text>
<text transform="translate(1244.30,1911.40)" style="font-size:23px" text-anchor="middle">K1</text>
<text transform="translate(759.10,1655.70) rotate(-90)" style="font-size:23px" text-anchor="middle">Relative protein expression</text>
<path d="M854.70,1779.30 L854.70,1764.20 L895.20,1764.20 L895.20,1779.30" stroke="#000" stroke-width="2.3" fill="none" stroke-linejoin="miter"/>
<text transform="translate(832.00,1795.00)" style="font-size:23px"><tspan style="font-style:italic">P</tspan> = 0.034</text>
<path d="M854.70,1732.90 L854.70,1716.60 L932.00,1716.60 L932.00,1732.90" stroke="#000" stroke-width="2.3" fill="none" stroke-linejoin="miter"/>
<text transform="translate(851.30,1755.20)" style="font-size:23px"><tspan style="font-style:italic">P</tspan> = 0.027</text>
<path d="M854.70,1685.20 L854.70,1668.90 L973.00,1668.90 L973.00,1685.20" stroke="#000" stroke-width="2.3" fill="none" stroke-linejoin="miter"/>
<text transform="translate(871.30,1695.10)" style="font-size:23px"><tspan style="font-style:italic">P</tspan> = 0.000</text>
<path d="M854.70,1628.30 L854.70,1612.40 L1016.60,1612.40 L1016.60,1628.30" stroke="#000" stroke-width="2.3" fill="none" stroke-linejoin="miter"/>
<text transform="translate(903.00,1638.80)" style="font-size:23px"><tspan style="font-style:italic">P</tspan> = 0.000</text>
<path d="M854.70,1574.30 L854.70,1557.50 L1057.60,1557.50 L1057.60,1574.30" stroke="#000" stroke-width="2.3" fill="none" stroke-linejoin="miter"/>
<text transform="translate(939.70,1583.80)" style="font-size:23px"><tspan style="font-style:italic">P</tspan> = 0.000</text>
<path d="M1124.60,1777.50 L1124.60,1761.90 L1166.80,1761.90 L1166.80,1777.50" stroke="#000" stroke-width="2.3" fill="none" stroke-linejoin="miter"/>
<text transform="translate(1100.50,1795.20)" style="font-size:23px"><tspan style="font-style:italic">P</tspan> = 0.006</text>
<path d="M1124.60,1733.80 L1124.60,1717.60 L1203.30,1717.60 L1203.30,1733.80" stroke="#000" stroke-width="2.3" fill="none" stroke-linejoin="miter"/>
<text transform="translate(1142.40,1750.00)" style="font-size:23px"><tspan style="font-style:italic">P</tspan> = 0.002</text>
<path d="M1124.60,1680.40 L1124.60,1663.40 L1245.50,1663.40 L1245.50,1680.40" stroke="#000" stroke-width="2.3" fill="none" stroke-linejoin="miter"/>
<text transform="translate(1136.60,1690.80)" style="font-size:23px"><tspan style="font-style:italic">P</tspan> = 0.000</text>
<path d="M1124.60,1544.70 L1124.60,1528.00 L1287.40,1528.00 L1287.40,1544.70" stroke="#000" stroke-width="2.3" fill="none" stroke-linejoin="miter"/>
<text transform="translate(1172.90,1551.10)" style="font-size:23px"><tspan style="font-style:italic">P</tspan> = 0.000</text>
<path d="M1124.60,1497.80 L1124.60,1480.90 L1327.60,1480.90 L1327.60,1497.80" stroke="#000" stroke-width="2.3" fill="none" stroke-linejoin="miter"/>
<text transform="translate(1215.20,1503.80)" style="font-size:23px"><tspan style="font-style:italic">P</tspan> = 0.000</text>
<text transform="translate(12.10,1898.00)" style="font-size:40px;font-weight:bold">F</text>
<text transform="translate(264.40,1896.30)" style="font-size:23px" text-anchor="middle">DMSO</text>
<text transform="translate(548.20,1896.60)" style="font-size:23px" text-anchor="middle">SR1</text>
<text transform="translate(6.40,2030.00)" style="font-size:23px">BCPAP</text>
<text transform="translate(47.70,2244.20)" style="font-size:23px">K1</text>
<rect x="96.70" y="1907.80" width="299.10" height="204.20" fill="#000" />
<g clip-path="url(#cl11)">
<ellipse cx="167" cy="1955" rx="30" ry="26" transform="rotate(-20 167 1955)" fill="#8a0010" fill-opacity="0.35" filter="url(#bl80)"/>
<ellipse cx="243" cy="1990" rx="26" ry="40" transform="rotate(10 243 1990)" fill="#8a0010" fill-opacity="0.35" filter="url(#bl80)"/>
<ellipse cx="373" cy="1975" rx="26" ry="22" transform="rotate(0 373 1975)" fill="#8a0010" fill-opacity="0.35" filter="url(#bl80)"/>
<ellipse cx="118" cy="2015" rx="22" ry="30" transform="rotate(0 118 2015)" fill="#8a0010" fill-opacity="0.3" filter="url(#bl80)"/>
<ellipse cx="266" cy="2085" rx="28" ry="24" transform="rotate(0 266 2085)" fill="#8a0010" fill-opacity="0.35" filter="url(#bl80)"/>
<circle cx="150.0" cy="1958.4" r="1.05" fill="#d01020" fill-opacity="0.53"/>
<circle cx="148.8" cy="1952.2" r="0.61" fill="#d01020" fill-opacity="0.56"/>
<circle cx="152.6" cy="1937.5" r="0.56" fill="#d01020" fill-opacity="0.45"/>
<circle cx="185.4" cy="1964.7" r="0.92" fill="#d01020" fill-opacity="0.32"/>
<circle cx="190.6" cy="1950.5" r="0.89" fill="#d01020" fill-opacity="0.61"/>
<circle cx="168.8" cy="1955.6" r="0.82" fill="#d01020" fill-opacity="0.33"/>
<circle cx="171.5" cy="1964.1" r="0.52" fill="#d01020" fill-opacity="0.53"/>
<circle cx="146.7" cy="1961.1" r="0.81" fill="#d01020" fill-opacity="0.62"/>
<circle cx="147.7" cy="1953.1" r="0.77" fill="#d01020" fill-opacity="0.44"/>
<circle cx="191.1" cy="1952.7" r="1.00" fill="#d01020" fill-opacity="0.65"/>
<circle cx="162.6" cy="1963.6" r="0.67" fill="#d01020" fill-opacity="0.34"/>
<circle cx="168.8" cy="1938.0" r="1.01" fill="#d01020" fill-opacity="0.49"/>
<circle cx="188.5" cy="1947.3" r="0.50" fill="#d01020" fill-opacity="0.40"/>
<circle cx="181.1" cy="1944.3" r="1.09" fill="#d01020" fill-opacity="0.50"/>
<circle cx="184.3" cy="1961.5" r="0.97" fill="#d01020" fill-opacity="0.43"/>
<circle cx="179.0" cy="1960.3" r="1.08" fill="#d01020" fill-opacity="0.68"/>
<circle cx="176.0" cy="1961.1" r="0.56" fill="#d01020" fill-opacity="0.33"/>
<circle cx="170.1" cy="1943.4" r="0.84" fill="#d01020" fill-opacity="0.52"/>
<circle cx="174.7" cy="1972.2" r="0.58" fill="#d01020" fill-opacity="0.62"/>
<circle cx="178.8" cy="1963.5" r="0.63" fill="#d01020" fill-opacity="0.43"/>
<circle cx="188.4" cy="1949.2" r="0.68" fill="#d01020" fill-opacity="0.74"/>
<circle cx="170.9" cy="1967.7" r="1.01" fill="#d01020" fill-opacity="0.62"/>
<circle cx="186.5" cy="1967.2" r="0.63" fill="#d01020" fill-opacity="0.43"/>
<circle cx="169.2" cy="1939.5" r="0.68" fill="#d01020" fill-opacity="0.34"/>
<circle cx="182.7" cy="1962.9" r="0.65" fill="#d01020" fill-opacity="0.60"/>
<circle cx="156.0" cy="1964.8" r="1.08" fill="#d01020" fill-opacity="0.54"/>
<circle cx="147.3" cy="1943.0" r="0.61" fill="#d01020" fill-opacity="0.38"/>
<circle cx="185.4" cy="1941.3" r="0.65" fill="#d01020" fill-opacity="0.39"/>
<circle cx="165.7" cy="1929.9" r="0.62" fill="#d01020" fill-opacity="0.78"/>
<circle cx="181.0" cy="1940.5" r="0.75" fill="#d01020" fill-opacity="0.35"/>
<circle cx="190.1" cy="1958.8" r="0.64" fill="#d01020" fill-opacity="0.65"/>
<circle cx="166.2" cy="1974.9" r="0.86" fill="#d01020" fill-opacity="0.45"/>
<circle cx="176.4" cy="1971.3" r="0.54" fill="#d01020" fill-opacity="0.41"/>
<circle cx="146.6" cy="1945.0" r="0.87" fill="#d01020" fill-opacity="0.44"/>
<circle cx="176.6" cy="1947.7" r="0.51" fill="#d01020" fill-opacity="0.43"/>
<circle cx="161.6" cy="1955.1" r="0.61" fill="#d01020" fill-opacity="0.48"/>
<circle cx="159.4" cy="1949.3" r="0.72" fill="#d01020" fill-opacity="0.75"/>
<circle cx="186.5" cy="1950.7" r="0.91" fill="#d01020" fill-opacity="0.59"/>
<circle cx="170.1" cy="1956.6" r="0.51" fill="#d01020" fill-opacity="0.76"/>
<circle cx="160.1" cy="1930.7" r="0.51" fill="#d01020" fill-opacity="0.62"/>
<circle cx="217.2" cy="1992.9" r="0.69" fill="#d01020" fill-opacity="0.80"/>
<circle cx="262.4" cy="2000.1" r="0.94" fill="#d01020" fill-opacity="0.75"/>
<circle cx="240.7" cy="1964.9" r="0.98" fill="#d01020" fill-opacity="0.76"/>
<circle cx="227.9" cy="2009.9" r="1.04" fill="#d01020" fill-opacity="0.74"/>
<circle cx="219.6" cy="2003.3" r="1.02" fill="#d01020" fill-opacity="0.59"/>
<circle cx="229.6" cy="1976.9" r="0.85" fill="#d01020" fill-opacity="0.60"/>
<circle cx="263.7" cy="2001.6" r="1.10" fill="#d01020" fill-opacity="0.74"/>
<circle cx="240.1" cy="1971.5" r="0.94" fill="#d01020" fill-opacity="0.59"/>
<circle cx="217.1" cy="2000.0" r="0.55" fill="#d01020" fill-opacity="0.68"/>
<circle cx="265.6" cy="1994.3" r="0.79" fill="#d01020" fill-opacity="0.42"/>
<circle cx="236.0" cy="1970.0" r="0.87" fill="#d01020" fill-opacity="0.76"/>
<circle cx="242.6" cy="1993.2" r="0.68" fill="#d01020" fill-opacity="0.64"/>
<circle cx="246.3" cy="2001.8" r="1.04" fill="#d01020" fill-opacity="0.63"/>
<circle cx="216.2" cy="2000.1" r="0.70" fill="#d01020" fill-opacity="0.63"/>
<circle cx="249.0" cy="2008.7" r="0.98" fill="#d01020" fill-opacity="0.76"/>
<circle cx="256.3" cy="1977.3" r="0.85" fill="#d01020" fill-opacity="0.46"/>
<circle cx="256.6" cy="2006.0" r="1.00" fill="#d01020" fill-opacity="0.72"/>
<circle cx="235.6" cy="1961.6" r="0.67" fill="#d01020" fill-opacity="0.38"/>
<circle cx="227.7" cy="1994.8" r="0.63" fill="#d01020" fill-opacity="0.51"/>
<circle cx="227.9" cy="1975.0" r="0.69" fill="#d01020" fill-opacity="0.72"/>
<circle cx="262.8" cy="1987.7" r="0.54" fill="#d01020" fill-opacity="0.32"/>
<circle cx="247.0" cy="1985.6" r="0.93" fill="#d01020" fill-opacity="0.59"/>
<circle cx="233.0" cy="2014.9" r="0.51" fill="#d01020" fill-opacity="0.37"/>
<circle cx="238.2" cy="1991.3" r="1.00" fill="#d01020" fill-opacity="0.42"/>
<circle cx="246.8" cy="1995.0" r="0.88" fill="#d01020" fill-opacity="0.52"/>
<circle cx="226.1" cy="1972.3" r="0.98" fill="#d01020" fill-opacity="0.78"/>
<circle cx="237.3" cy="1977.7" r="0.79" fill="#d01020" fill-opacity="0.39"/>
<circle cx="263.3" cy="1991.4" r="0.93" fill="#d01020" fill-opacity="0.39"/>
<circle cx="240.2" cy="2007.5" r="0.92" fill="#d01020" fill-opacity="0.56"/>
<circle cx="223.1" cy="1972.8" r="0.74" fill="#d01020" fill-opacity="0.70"/>
<circle cx="250.1" cy="1985.1" r="1.06" fill="#d01020" fill-opacity="0.66"/>
<circle cx="256.5" cy="2004.7" r="0.88" fill="#d01020" fill-opacity="0.75"/>
<circle cx="226.5" cy="2005.8" r="1.03" fill="#d01020" fill-opacity="0.70"/>
<circle cx="261.9" cy="1983.0" r="0.89" fill="#d01020" fill-opacity="0.40"/>
<circle cx="237.9" cy="1963.3" r="0.88" fill="#d01020" fill-opacity="0.66"/>
<circle cx="249.2" cy="2017.7" r="1.09" fill="#d01020" fill-opacity="0.79"/>
<circle cx="216.7" cy="1983.9" r="0.69" fill="#d01020" fill-opacity="0.75"/>
<circle cx="253.6" cy="1976.1" r="0.55" fill="#d01020" fill-opacity="0.52"/>
<circle cx="217.7" cy="1981.8" r="0.79" fill="#d01020" fill-opacity="0.31"/>
<circle cx="245.5" cy="1982.9" r="0.98" fill="#d01020" fill-opacity="0.39"/>
<circle cx="229.1" cy="2012.9" r="0.58" fill="#d01020" fill-opacity="0.37"/>
<circle cx="217.3" cy="1987.4" r="1.00" fill="#d01020" fill-opacity="0.64"/>
<circle cx="262.5" cy="1983.0" r="1.07" fill="#d01020" fill-opacity="0.34"/>
<circle cx="246.6" cy="2011.4" r="0.67" fill="#d01020" fill-opacity="0.66"/>
<circle cx="228.8" cy="1973.4" r="1.01" fill="#d01020" fill-opacity="0.58"/>
<circle cx="235.7" cy="2007.1" r="1.01" fill="#d01020" fill-opacity="0.75"/>
<circle cx="249.9" cy="2016.7" r="1.08" fill="#d01020" fill-opacity="0.56"/>
<circle cx="230.6" cy="1984.0" r="0.82" fill="#d01020" fill-opacity="0.55"/>
<circle cx="238.8" cy="1986.9" r="1.08" fill="#d01020" fill-opacity="0.56"/>
<circle cx="220.9" cy="2005.7" r="0.84" fill="#d01020" fill-opacity="0.55"/>
<circle cx="239.9" cy="1982.8" r="0.82" fill="#d01020" fill-opacity="0.51"/>
<circle cx="270.5" cy="1982.3" r="0.66" fill="#d01020" fill-opacity="0.54"/>
<circle cx="256.5" cy="2004.1" r="0.99" fill="#d01020" fill-opacity="0.75"/>
<circle cx="226.0" cy="1992.5" r="0.61" fill="#d01020" fill-opacity="0.61"/>
<circle cx="252.3" cy="1985.1" r="0.97" fill="#d01020" fill-opacity="0.31"/>
<circle cx="247.6" cy="2003.4" r="0.91" fill="#d01020" fill-opacity="0.46"/>
<circle cx="228.2" cy="2008.6" r="0.56" fill="#d01020" fill-opacity="0.67"/>
<circle cx="258.1" cy="2004.9" r="0.65" fill="#d01020" fill-opacity="0.40"/>
<circle cx="223.2" cy="1986.2" r="0.73" fill="#d01020" fill-opacity="0.51"/>
<circle cx="230.9" cy="1987.8" r="0.62" fill="#d01020" fill-opacity="0.62"/>
<circle cx="362.9" cy="1963.2" r="1.01" fill="#d01020" fill-opacity="0.61"/>
<circle cx="379.8" cy="1967.1" r="0.94" fill="#d01020" fill-opacity="0.71"/>
<circle cx="383.3" cy="1968.3" r="0.69" fill="#d01020" fill-opacity="0.76"/>
<circle cx="377.6" cy="1996.9" r="1.03" fill="#d01020" fill-opacity="0.37"/>
<circle cx="374.5" cy="1994.1" r="0.66" fill="#d01020" fill-opacity="0.35"/>
<circle cx="380.3" cy="1963.0" r="0.97" fill="#d01020" fill-opacity="0.36"/>
<circle cx="358.3" cy="1985.8" r="0.51" fill="#d01020" fill-opacity="0.40"/>
<circle cx="364.5" cy="1956.3" r="1.08" fill="#d01020" fill-opacity="0.36"/>
<circle cx="354.1" cy="1974.7" r="0.80" fill="#d01020" fill-opacity="0.64"/>
<circle cx="375.4" cy="1980.8" r="0.56" fill="#d01020" fill-opacity="0.32"/>
<circle cx="358.2" cy="1970.4" r="0.84" fill="#d01020" fill-opacity="0.37"/>
<circle cx="377.2" cy="1984.5" r="1.00" fill="#d01020" fill-opacity="0.80"/>
<circle cx="379.3" cy="1972.4" r="0.54" fill="#d01020" fill-opacity="0.78"/>
<circle cx="354.5" cy="1979.9" r="0.70" fill="#d01020" fill-opacity="0.53"/>
<circle cx="358.8" cy="1974.0" r="0.86" fill="#d01020" fill-opacity="0.31"/>
<circle cx="367.1" cy="1956.1" r="0.61" fill="#d01020" fill-opacity="0.53"/>
<circle cx="372.3" cy="1961.4" r="0.62" fill="#d01020" fill-opacity="0.38"/>
<circle cx="370.5" cy="1975.2" r="1.04" fill="#d01020" fill-opacity="0.70"/>
<circle cx="367.5" cy="1955.8" r="0.88" fill="#d01020" fill-opacity="0.50"/>
<circle cx="360.5" cy="1966.2" r="1.09" fill="#d01020" fill-opacity="0.70"/>
<circle cx="372.1" cy="1996.4" r="0.95" fill="#d01020" fill-opacity="0.69"/>
<circle cx="378.7" cy="1962.5" r="1.04" fill="#d01020" fill-opacity="0.74"/>
<circle cx="366.6" cy="1957.3" r="0.96" fill="#d01020" fill-opacity="0.50"/>
<circle cx="372.2" cy="1969.6" r="0.71" fill="#d01020" fill-opacity="0.53"/>
<circle cx="386.3" cy="1976.3" r="0.88" fill="#d01020" fill-opacity="0.61"/>
<circle cx="375.6" cy="1996.6" r="0.90" fill="#d01020" fill-opacity="0.47"/>
<circle cx="364.3" cy="1961.4" r="0.82" fill="#d01020" fill-opacity="0.49"/>
<circle cx="390.8" cy="1975.4" r="0.92" fill="#d01020" fill-opacity="0.68"/>
<circle cx="376.5" cy="1975.0" r="0.87" fill="#d01020" fill-opacity="0.67"/>
<circle cx="372.6" cy="1989.3" r="0.53" fill="#d01020" fill-opacity="0.40"/>
<circle cx="368.3" cy="1980.3" r="0.65" fill="#d01020" fill-opacity="0.75"/>
<circle cx="358.3" cy="1970.5" r="1.08" fill="#d01020" fill-opacity="0.58"/>
<circle cx="390.8" cy="1974.9" r="0.99" fill="#d01020" fill-opacity="0.34"/>
<circle cx="357.5" cy="1964.4" r="0.53" fill="#d01020" fill-opacity="0.77"/>
<circle cx="381.3" cy="1988.2" r="0.60" fill="#d01020" fill-opacity="0.55"/>
<circle cx="111.3" cy="2011.3" r="1.07" fill="#d01020" fill-opacity="0.51"/>
<circle cx="98.6" cy="2011.9" r="0.72" fill="#d01020" fill-opacity="0.44"/>
<circle cx="106.2" cy="2001.1" r="0.67" fill="#d01020" fill-opacity="0.66"/>
<circle cx="114.7" cy="2017.2" r="0.65" fill="#d01020" fill-opacity="0.32"/>
<circle cx="126.0" cy="2030.6" r="0.73" fill="#d01020" fill-opacity="0.75"/>
<circle cx="115.3" cy="2009.8" r="1.09" fill="#d01020" fill-opacity="0.77"/>
<circle cx="134.1" cy="2024.0" r="0.76" fill="#d01020" fill-opacity="0.54"/>
<circle cx="126.1" cy="2012.9" r="0.81" fill="#d01020" fill-opacity="0.77"/>
<circle cx="112.8" cy="1999.9" r="1.09" fill="#d01020" fill-opacity="0.71"/>
<circle cx="109.5" cy="2010.2" r="0.87" fill="#d01020" fill-opacity="0.53"/>
<circle cx="116.8" cy="2019.5" r="0.82" fill="#d01020" fill-opacity="0.36"/>
<circle cx="98.6" cy="2021.0" r="0.77" fill="#d01020" fill-opacity="0.43"/>
<circle cx="103.0" cy="2007.7" r="0.97" fill="#d01020" fill-opacity="0.57"/>
<circle cx="136.9" cy="2014.4" r="0.94" fill="#d01020" fill-opacity="0.42"/>
<circle cx="131.1" cy="2028.3" r="0.97" fill="#d01020" fill-opacity="0.61"/>
<circle cx="108.1" cy="2023.6" r="0.91" fill="#d01020" fill-opacity="0.58"/>
<circle cx="100.7" cy="2005.2" r="0.95" fill="#d01020" fill-opacity="0.39"/>
<circle cx="115.5" cy="2036.5" r="1.05" fill="#d01020" fill-opacity="0.74"/>
<circle cx="120.7" cy="2016.0" r="0.66" fill="#d01020" fill-opacity="0.51"/>
<circle cx="110.4" cy="2009.8" r="0.82" fill="#d01020" fill-opacity="0.34"/>
<circle cx="130.9" cy="2024.1" r="0.83" fill="#d01020" fill-opacity="0.62"/>
<circle cx="104.8" cy="2025.6" r="0.63" fill="#d01020" fill-opacity="0.47"/>
<circle cx="114.7" cy="1994.6" r="0.54" fill="#d01020" fill-opacity="0.36"/>
<circle cx="121.7" cy="1998.5" r="0.96" fill="#d01020" fill-opacity="0.41"/>
<circle cx="105.5" cy="2019.8" r="0.99" fill="#d01020" fill-opacity="0.48"/>
<circle cx="102.9" cy="1996.7" r="0.70" fill="#d01020" fill-opacity="0.57"/>
<circle cx="114.9" cy="1993.6" r="0.76" fill="#d01020" fill-opacity="0.48"/>
<circle cx="132.3" cy="2026.5" r="0.55" fill="#d01020" fill-opacity="0.34"/>
<circle cx="101.3" cy="2008.7" r="0.91" fill="#d01020" fill-opacity="0.45"/>
<circle cx="116.4" cy="2008.7" r="0.63" fill="#d01020" fill-opacity="0.63"/>
<circle cx="126.0" cy="2020.7" r="0.93" fill="#d01020" fill-opacity="0.65"/>
<circle cx="113.7" cy="2022.8" r="0.71" fill="#d01020" fill-opacity="0.66"/>
<circle cx="110.4" cy="2020.3" r="0.93" fill="#d01020" fill-opacity="0.58"/>
<circle cx="134.0" cy="2004.3" r="1.05" fill="#d01020" fill-opacity="0.52"/>
<circle cx="119.4" cy="2003.2" r="0.69" fill="#d01020" fill-opacity="0.50"/>
<circle cx="287.0" cy="2077.5" r="0.65" fill="#d01020" fill-opacity="0.48"/>
<circle cx="256.6" cy="2097.4" r="0.74" fill="#d01020" fill-opacity="0.49"/>
<circle cx="272.3" cy="2103.6" r="0.98" fill="#d01020" fill-opacity="0.57"/>
<circle cx="275.5" cy="2071.2" r="0.61" fill="#d01020" fill-opacity="0.68"/>
<circle cx="275.5" cy="2077.9" r="0.51" fill="#d01020" fill-opacity="0.56"/>
<circle cx="248.8" cy="2081.6" r="1.08" fill="#d01020" fill-opacity="0.63"/>
<circle cx="268.2" cy="2080.9" r="0.83" fill="#d01020" fill-opacity="0.69"/>
<circle cx="272.1" cy="2090.1" r="0.94" fill="#d01020" fill-opacity="0.75"/>
<circle cx="282.7" cy="2096.3" r="0.59" fill="#d01020" fill-opacity="0.67"/>
<circle cx="259.2" cy="2077.0" r="0.63" fill="#d01020" fill-opacity="0.68"/>
<circle cx="245.4" cy="2083.8" r="0.74" fill="#d01020" fill-opacity="0.47"/>
<circle cx="285.5" cy="2082.7" r="0.80" fill="#d01020" fill-opacity="0.57"/>
<circle cx="262.5" cy="2066.7" r="1.05" fill="#d01020" fill-opacity="0.51"/>
<circle cx="275.2" cy="2069.2" r="1.01" fill="#d01020" fill-opacity="0.70"/>
<circle cx="277.6" cy="2067.0" r="1.07" fill="#d01020" fill-opacity="0.62"/>
<circle cx="246.2" cy="2083.6" r="0.98" fill="#d01020" fill-opacity="0.51"/>
<circle cx="258.1" cy="2091.0" r="0.94" fill="#d01020" fill-opacity="0.80"/>
<circle cx="259.2" cy="2093.5" r="0.62" fill="#d01020" fill-opacity="0.51"/>
<circle cx="260.0" cy="2109.4" r="0.54" fill="#d01020" fill-opacity="0.45"/>
<circle cx="280.7" cy="2099.4" r="0.97" fill="#d01020" fill-opacity="0.39"/>
<circle cx="281.2" cy="2092.8" r="0.85" fill="#d01020" fill-opacity="0.75"/>
<circle cx="273.9" cy="2088.4" r="0.61" fill="#d01020" fill-opacity="0.41"/>
<circle cx="268.1" cy="2106.8" r="0.86" fill="#d01020" fill-opacity="0.41"/>
<circle cx="271.3" cy="2098.3" r="0.60" fill="#d01020" fill-opacity="0.68"/>
<circle cx="259.5" cy="2103.1" r="0.99" fill="#d01020" fill-opacity="0.54"/>
<circle cx="264.7" cy="2109.2" r="1.05" fill="#d01020" fill-opacity="0.47"/>
<circle cx="243.8" cy="2079.7" r="0.79" fill="#d01020" fill-opacity="0.41"/>
<circle cx="288.4" cy="2093.8" r="0.98" fill="#d01020" fill-opacity="0.49"/>
<circle cx="249.2" cy="2083.6" r="0.66" fill="#d01020" fill-opacity="0.80"/>
<circle cx="259.8" cy="2076.8" r="0.51" fill="#d01020" fill-opacity="0.54"/>
<circle cx="251.4" cy="2102.1" r="0.93" fill="#d01020" fill-opacity="0.60"/>
<circle cx="271.4" cy="2094.5" r="0.69" fill="#d01020" fill-opacity="0.43"/>
<circle cx="277.9" cy="2074.0" r="0.88" fill="#d01020" fill-opacity="0.80"/>
<circle cx="264.4" cy="2104.1" r="0.59" fill="#d01020" fill-opacity="0.69"/>
<circle cx="288.0" cy="2086.8" r="1.01" fill="#d01020" fill-opacity="0.71"/>
<circle cx="277.0" cy="2092.8" r="0.93" fill="#d01020" fill-opacity="0.35"/>
<circle cx="249.9" cy="2088.6" r="1.07" fill="#d01020" fill-opacity="0.59"/>
<circle cx="274.5" cy="2076.3" r="0.97" fill="#d01020" fill-opacity="0.51"/>
<circle cx="272.5" cy="2083.0" r="1.00" fill="#d01020" fill-opacity="0.40"/>
<circle cx="249.4" cy="2081.9" r="0.59" fill="#d01020" fill-opacity="0.72"/>
<circle cx="261.2" cy="2099.0" r="0.55" fill="#d01020" fill-opacity="0.45"/>
<circle cx="246.3" cy="2090.7" r="0.72" fill="#d01020" fill-opacity="0.64"/>
<circle cx="278.1" cy="2095.9" r="0.78" fill="#d01020" fill-opacity="0.78"/>
<circle cx="275.5" cy="2069.6" r="0.51" fill="#d01020" fill-opacity="0.49"/>
<circle cx="263.3" cy="2075.3" r="0.84" fill="#d01020" fill-opacity="0.53"/>
<ellipse cx="167.2" cy="1953.1" rx="13.5" ry="15.0" fill="#1010c0" fill-opacity="0.6" filter="url(#bl20)"/>
<ellipse cx="167.2" cy="1953.1" rx="12" ry="13.5" fill="#1c1cf0" filter="url(#bl10)"/>
<ellipse cx="242.7" cy="1981.6" rx="15.5" ry="15.0" fill="#1010c0" fill-opacity="0.6" filter="url(#bl20)"/>
<ellipse cx="242.7" cy="1981.6" rx="14" ry="13.5" fill="#1c1cf0" filter="url(#bl10)"/>
<ellipse cx="373.2" cy="1975.4" rx="14.3" ry="13.2" fill="#1010c0" fill-opacity="0.6" filter="url(#bl20)"/>
<ellipse cx="373.2" cy="1975.4" rx="12.8" ry="11.7" fill="#1c1cf0" filter="url(#bl10)"/>
<ellipse cx="115.4" cy="2014.7" rx="13.2" ry="13.8" fill="#1010c0" fill-opacity="0.6" filter="url(#bl20)"/>
<ellipse cx="115.4" cy="2014.7" rx="11.7" ry="12.3" fill="#1c1cf0" filter="url(#bl10)"/>
<ellipse cx="266.2" cy="2086.6" rx="13.5" ry="13.5" fill="#1010c0" fill-opacity="0.6" filter="url(#bl20)"/>
<ellipse cx="266.2" cy="2086.6" rx="12" ry="12" fill="#1c1cf0" filter="url(#bl10)"/>
</g>
<rect x="404.00" y="1907.80" width="299.00" height="204.20" fill="#000" />
<g clip-path="url(#cl12)">
<ellipse cx="480" cy="1963" rx="44" ry="50" transform="rotate(0 480 1963)" fill="#a00014" fill-opacity="0.55" filter="url(#bl80)"/>
<ellipse cx="606" cy="1945" rx="28" ry="24" transform="rotate(0 606 1945)" fill="#a00014" fill-opacity="0.45" filter="url(#bl80)"/>
<ellipse cx="668" cy="1960" rx="22" ry="40" transform="rotate(-15 668 1960)" fill="#a00014" fill-opacity="0.45" filter="url(#bl80)"/>
<ellipse cx="450" cy="2060" rx="50" ry="55" transform="rotate(0 450 2060)" fill="#a00014" fill-opacity="0.5" filter="url(#bl80)"/>
<ellipse cx="575" cy="2062" rx="85" ry="35" transform="rotate(-35 575 2062)" fill="#a00014" fill-opacity="0.5" filter="url(#bl80)"/>
<path d="M469.7,1964.5 Q464.7,1980.2 451.1,1981.3" stroke="#d0101c" stroke-opacity="0.35" stroke-width="0.8" fill="none"/>
<path d="M494.7,1962.7 Q502.6,1973.1 514.7,1973.8" stroke="#d0101c" stroke-opacity="0.35" stroke-width="0.8" fill="none"/>
<path d="M479.8,1948.7 Q482.0,1936.5 477.2,1925.8" stroke="#d0101c" stroke-opacity="0.35" stroke-width="0.8" fill="none"/>
<path d="M491.7,1970.7 Q485.2,1982.5 492.5,1991.0" stroke="#d0101c" stroke-opacity="0.35" stroke-width="0.8" fill="none"/>
<path d="M502.5,1968.8 Q503.5,1976.6 509.1,1977.0" stroke="#d0101c" stroke-opacity="0.35" stroke-width="0.8" fill="none"/>
<path d="M479.6,1970.8 Q490.8,1987.6 482.3,2004.1" stroke="#d0101c" stroke-opacity="0.35" stroke-width="0.8" fill="none"/>
<path d="M504.3,1969.7 Q512.4,1954.3 521.1,1961.0" stroke="#d0101c" stroke-opacity="0.35" stroke-width="0.8" fill="none"/>
<path d="M506.3,1960.3 Q509.7,1956.9 513.7,1957.4" stroke="#d0101c" stroke-opacity="0.35" stroke-width="0.8" fill="none"/>
<path d="M490.6,1968.3 Q507.2,1969.1 518.3,1980.7" stroke="#d0101c" stroke-opacity="0.35" stroke-width="0.8" fill="none"/>
<path d="M484.0,1959.1 Q487.8,1945.7 484.4,1931.9" stroke="#d0101c" stroke-opacity="0.35" stroke-width="0.8" fill="none"/>
<path d="M476.4,1968.2 Q465.9,1976.9 454.9,1984.8" stroke="#d0101c" stroke-opacity="0.35" stroke-width="0.8" fill="none"/>
<path d="M483.0,1963.7 Q463.7,1961.5 446.2,1972.2" stroke="#d0101c" stroke-opacity="0.35" stroke-width="0.8" fill="none"/>
<path d="M500.4,1959.7 Q507.9,1953.2 517.1,1952.6" stroke="#d0101c" stroke-opacity="0.35" stroke-width="0.8" fill="none"/>
<path d="M479.2,1947.3 Q468.9,1946.4 467.6,1938.7" stroke="#d0101c" stroke-opacity="0.35" stroke-width="0.8" fill="none"/>
<path d="M476.8,1971.4 Q467.3,1982.5 457.8,1993.5" stroke="#d0101c" stroke-opacity="0.35" stroke-width="0.8" fill="none"/>
<path d="M503.6,1965.3 Q511.2,1967.5 519.1,1968.8" stroke="#d0101c" stroke-opacity="0.35" stroke-width="0.8" fill="none"/>
<path d="M486.9,1972.6 Q479.2,1983.6 481.7,1995.8" stroke="#d0101c" stroke-opacity="0.35" stroke-width="0.8" fill="none"/>
<path d="M495.6,1970.0 Q497.5,1979.8 505.1,1984.5" stroke="#d0101c" stroke-opacity="0.35" stroke-width="0.8" fill="none"/>
<path d="M492.5,1963.8 Q503.4,1970.9 516.0,1974.0" stroke="#d0101c" stroke-opacity="0.35" stroke-width="0.8" fill="none"/>
<path d="M495.8,1965.7 Q506.1,1961.5 515.6,1965.3" stroke="#d0101c" stroke-opacity="0.35" stroke-width="0.8" fill="none"/>
<path d="M463.6,1965.2 Q461.0,1946.3 451.0,1951.2" stroke="#d0101c" stroke-opacity="0.35" stroke-width="0.8" fill="none"/>
<path d="M495.4,1980.2 Q508.2,1976.4 509.7,1984.7" stroke="#d0101c" stroke-opacity="0.35" stroke-width="0.8" fill="none"/>
<path d="M484.8,1941.3 Q476.1,1939.8 478.5,1935.7" stroke="#d0101c" stroke-opacity="0.35" stroke-width="0.8" fill="none"/>
<path d="M486.2,1953.1 Q472.7,1946.0 473.9,1932.7" stroke="#d0101c" stroke-opacity="0.35" stroke-width="0.8" fill="none"/>
<path d="M499.2,1965.7 Q499.8,1987.7 517.7,1992.5" stroke="#d0101c" stroke-opacity="0.35" stroke-width="0.8" fill="none"/>
<path d="M482.5,1961.9 Q469.4,1953.8 453.8,1952.0" stroke="#d0101c" stroke-opacity="0.35" stroke-width="0.8" fill="none"/>
<path d="M492.4,1948.9 Q497.3,1942.4 501.1,1935.3" stroke="#d0101c" stroke-opacity="0.35" stroke-width="0.8" fill="none"/>
<path d="M470.3,1964.1 Q465.4,1949.4 454.7,1952.5" stroke="#d0101c" stroke-opacity="0.35" stroke-width="0.8" fill="none"/>
<path d="M489.2,1958.7 Q503.7,1960.7 515.9,1952.8" stroke="#d0101c" stroke-opacity="0.35" stroke-width="0.8" fill="none"/>
<path d="M481.2,1983.0 Q471.4,1987.4 471.8,1995.8" stroke="#d0101c" stroke-opacity="0.35" stroke-width="0.8" fill="none"/>
<path d="M483.2,1955.9 Q472.9,1947.0 468.8,1934.3" stroke="#d0101c" stroke-opacity="0.35" stroke-width="0.8" fill="none"/>
<path d="M478.4,1947.2 Q489.5,1939.7 484.0,1932.6" stroke="#d0101c" stroke-opacity="0.35" stroke-width="0.8" fill="none"/>
<path d="M478.9,1965.3 Q464.8,1956.5 450.2,1962.7" stroke="#d0101c" stroke-opacity="0.35" stroke-width="0.8" fill="none"/>
<path d="M471.2,1956.6 Q472.2,1935.8 455.9,1929.6" stroke="#d0101c" stroke-opacity="0.35" stroke-width="0.8" fill="none"/>
<path d="M485.7,1951.5 Q500.6,1943.7 501.9,1928.4" stroke="#d0101c" stroke-opacity="0.35" stroke-width="0.8" fill="none"/>
<path d="M488.4,1948.5 Q485.8,1938.4 488.8,1929.0" stroke="#d0101c" stroke-opacity="0.35" stroke-width="0.8" fill="none"/>
<path d="M483.8,1948.5 Q490.0,1942.2 488.3,1934.9" stroke="#d0101c" stroke-opacity="0.35" stroke-width="0.8" fill="none"/>
<path d="M500.1,1951.6 Q515.7,1963.6 527.3,1953.7" stroke="#d0101c" stroke-opacity="0.35" stroke-width="0.8" fill="none"/>
<path d="M467.3,1958.0 Q461.3,1972.7 451.7,1968.1" stroke="#d0101c" stroke-opacity="0.35" stroke-width="0.8" fill="none"/>
<path d="M479.9,1968.7 Q463.8,1977.2 452.5,1991.3" stroke="#d0101c" stroke-opacity="0.35" stroke-width="0.8" fill="none"/>
<path d="M470.7,1958.2 Q464.1,1955.2 457.0,1953.5" stroke="#d0101c" stroke-opacity="0.35" stroke-width="0.8" fill="none"/>
<path d="M481.9,1952.4 Q475.8,1943.4 472.7,1933.1" stroke="#d0101c" stroke-opacity="0.35" stroke-width="0.8" fill="none"/>
<path d="M477.8,1976.4 Q489.4,1984.4 483.4,1991.5" stroke="#d0101c" stroke-opacity="0.35" stroke-width="0.8" fill="none"/>
<path d="M478.8,1977.0 Q467.8,1984.7 463.7,1996.6" stroke="#d0101c" stroke-opacity="0.35" stroke-width="0.8" fill="none"/>
<path d="M493.7,1958.2 Q501.8,1954.3 510.1,1950.7" stroke="#d0101c" stroke-opacity="0.35" stroke-width="0.8" fill="none"/>
<path d="M602.4,1944.3 Q595.5,1950.3 587.1,1953.6" stroke="#d0101c" stroke-opacity="0.35" stroke-width="0.8" fill="none"/>
<path d="M606.4,1948.4 Q617.3,1952.7 619.1,1963.6" stroke="#d0101c" stroke-opacity="0.35" stroke-width="0.8" fill="none"/>
<path d="M602.8,1946.8 Q599.9,1952.1 596.0,1956.8" stroke="#d0101c" stroke-opacity="0.35" stroke-width="0.8" fill="none"/>
<path d="M608.2,1954.4 Q603.9,1958.7 605.8,1963.0" stroke="#d0101c" stroke-opacity="0.35" stroke-width="0.8" fill="none"/>
<path d="M609.6,1948.9 Q606.0,1957.0 610.3,1963.6" stroke="#d0101c" stroke-opacity="0.35" stroke-width="0.8" fill="none"/>
<path d="M606.0,1949.8 Q598.3,1956.1 598.3,1965.3" stroke="#d0101c" stroke-opacity="0.35" stroke-width="0.8" fill="none"/>
<path d="M607.1,1950.6 Q610.6,1957.4 611.5,1964.9" stroke="#d0101c" stroke-opacity="0.35" stroke-width="0.8" fill="none"/>
<path d="M601.8,1935.1 Q599.5,1927.5 595.7,1920.5" stroke="#d0101c" stroke-opacity="0.35" stroke-width="0.8" fill="none"/>
<path d="M603.6,1937.9 Q596.8,1932.5 593.2,1924.7" stroke="#d0101c" stroke-opacity="0.35" stroke-width="0.8" fill="none"/>
<path d="M600.2,1943.0 Q596.0,1949.6 589.1,1949.4" stroke="#d0101c" stroke-opacity="0.35" stroke-width="0.8" fill="none"/>
<path d="M607.2,1950.6 Q615.7,1951.0 616.0,1957.4" stroke="#d0101c" stroke-opacity="0.35" stroke-width="0.8" fill="none"/>
<path d="M607.7,1938.3 Q613.0,1930.1 616.3,1920.9" stroke="#d0101c" stroke-opacity="0.35" stroke-width="0.8" fill="none"/>
<path d="M597.4,1950.2 Q596.3,1957.6 590.7,1961.4" stroke="#d0101c" stroke-opacity="0.35" stroke-width="0.8" fill="none"/>
<path d="M612.1,1949.2 Q615.2,1956.2 620.6,1961.3" stroke="#d0101c" stroke-opacity="0.35" stroke-width="0.8" fill="none"/>
<path d="M607.4,1936.8 Q603.8,1929.4 605.6,1921.8" stroke="#d0101c" stroke-opacity="0.35" stroke-width="0.8" fill="none"/>
<path d="M601.0,1946.3 Q596.9,1951.4 591.4,1954.9" stroke="#d0101c" stroke-opacity="0.35" stroke-width="0.8" fill="none"/>
<path d="M668.4,1958.2 Q666.6,1950.4 669.2,1943.0" stroke="#d0101c" stroke-opacity="0.3" stroke-width="0.8" fill="none"/>
<path d="M675.1,1960.5 Q679.0,1966.5 684.2,1964.7" stroke="#d0101c" stroke-opacity="0.3" stroke-width="0.8" fill="none"/>
<path d="M675.3,1953.5 Q681.9,1955.4 684.6,1950.9" stroke="#d0101c" stroke-opacity="0.3" stroke-width="0.8" fill="none"/>
<path d="M665.8,1965.4 Q655.4,1971.6 650.3,1982.6" stroke="#d0101c" stroke-opacity="0.3" stroke-width="0.8" fill="none"/>
<path d="M670.0,1974.2 Q674.7,1974.6 674.2,1977.5" stroke="#d0101c" stroke-opacity="0.3" stroke-width="0.8" fill="none"/>
<path d="M671.0,1962.3 Q677.3,1966.7 684.8,1967.5" stroke="#d0101c" stroke-opacity="0.3" stroke-width="0.8" fill="none"/>
<path d="M665.8,1966.1 Q667.1,1973.6 665.0,1980.8" stroke="#d0101c" stroke-opacity="0.3" stroke-width="0.8" fill="none"/>
<path d="M673.0,1954.9 Q678.5,1954.7 680.9,1950.7" stroke="#d0101c" stroke-opacity="0.3" stroke-width="0.8" fill="none"/>
<path d="M659.8,1960.3 Q653.6,1955.2 645.9,1953.6" stroke="#d0101c" stroke-opacity="0.3" stroke-width="0.8" fill="none"/>
<path d="M669.5,1954.3 Q671.2,1946.6 673.7,1939.1" stroke="#d0101c" stroke-opacity="0.3" stroke-width="0.8" fill="none"/>
<path d="M662.6,1957.0 Q657.9,1951.3 653.0,1945.8" stroke="#d0101c" stroke-opacity="0.3" stroke-width="0.8" fill="none"/>
<path d="M665.8,1956.8 Q663.2,1946.2 660.9,1935.5" stroke="#d0101c" stroke-opacity="0.3" stroke-width="0.8" fill="none"/>
<path d="M673.3,1953.9 Q682.4,1951.1 687.6,1943.7" stroke="#d0101c" stroke-opacity="0.3" stroke-width="0.8" fill="none"/>
<path d="M660.8,1965.0 Q651.8,1962.8 643.9,1966.8" stroke="#d0101c" stroke-opacity="0.3" stroke-width="0.8" fill="none"/>
<path d="M668.9,1959.0 Q666.3,1951.5 669.9,1944.7" stroke="#d0101c" stroke-opacity="0.3" stroke-width="0.8" fill="none"/>
<path d="M669.3,1963.4 Q676.7,1963.3 683.2,1966.7" stroke="#d0101c" stroke-opacity="0.3" stroke-width="0.8" fill="none"/>
<path d="M674.7,1968.7 Q668.9,1978.8 676.1,1983.9" stroke="#d0101c" stroke-opacity="0.3" stroke-width="0.8" fill="none"/>
<path d="M677.6,1959.3 Q677.3,1945.8 687.6,1943.9" stroke="#d0101c" stroke-opacity="0.3" stroke-width="0.8" fill="none"/>
<path d="M458.1,2084.2 Q472.2,2086.7 470.9,2096.4" stroke="#d0101c" stroke-opacity="0.35" stroke-width="0.8" fill="none"/>
<path d="M455.5,2050.7 Q448.7,2037.5 449.5,2023.2" stroke="#d0101c" stroke-opacity="0.35" stroke-width="0.8" fill="none"/>
<path d="M455.2,2065.9 Q441.2,2079.4 439.2,2099.2" stroke="#d0101c" stroke-opacity="0.35" stroke-width="0.8" fill="none"/>
<path d="M473.8,2060.4 Q486.3,2052.2 500.6,2051.8" stroke="#d0101c" stroke-opacity="0.35" stroke-width="0.8" fill="none"/>
<path d="M448.3,2083.3 Q438.0,2088.3 436.7,2097.9" stroke="#d0101c" stroke-opacity="0.35" stroke-width="0.8" fill="none"/>
<path d="M462.0,2062.6 Q475.3,2071.8 491.3,2073.6" stroke="#d0101c" stroke-opacity="0.35" stroke-width="0.8" fill="none"/>
<path d="M463.6,2045.4 Q462.6,2036.1 467.4,2028.9" stroke="#d0101c" stroke-opacity="0.35" stroke-width="0.8" fill="none"/>
<path d="M470.4,2043.9 Q461.7,2031.8 469.9,2026.9" stroke="#d0101c" stroke-opacity="0.35" stroke-width="0.8" fill="none"/>
<path d="M445.2,2052.3 Q431.7,2053.5 423.8,2044.5" stroke="#d0101c" stroke-opacity="0.35" stroke-width="0.8" fill="none"/>
<path d="M443.4,2072.2 Q436.5,2076.2 430.7,2081.6" stroke="#d0101c" stroke-opacity="0.35" stroke-width="0.8" fill="none"/>
<path d="M472.6,2056.6 Q478.6,2051.2 486.2,2049.5" stroke="#d0101c" stroke-opacity="0.35" stroke-width="0.8" fill="none"/>
<path d="M469.6,2072.9 Q484.4,2065.5 493.9,2074.7" stroke="#d0101c" stroke-opacity="0.35" stroke-width="0.8" fill="none"/>
<path d="M440.6,2057.5 Q427.7,2059.1 415.8,2054.8" stroke="#d0101c" stroke-opacity="0.35" stroke-width="0.8" fill="none"/>
<path d="M451.4,2071.1 Q452.0,2090.7 445.2,2108.9" stroke="#d0101c" stroke-opacity="0.35" stroke-width="0.8" fill="none"/>
<path d="M442.9,2061.8 Q433.1,2065.2 423.0,2064.7" stroke="#d0101c" stroke-opacity="0.35" stroke-width="0.8" fill="none"/>
<path d="M457.5,2070.7 Q466.2,2081.5 470.0,2094.5" stroke="#d0101c" stroke-opacity="0.35" stroke-width="0.8" fill="none"/>
<path d="M462.9,2058.8 Q476.6,2059.0 489.2,2053.9" stroke="#d0101c" stroke-opacity="0.35" stroke-width="0.8" fill="none"/>
<path d="M444.3,2070.0 Q448.4,2088.5 435.3,2098.2" stroke="#d0101c" stroke-opacity="0.35" stroke-width="0.8" fill="none"/>
<path d="M453.0,2058.3 Q455.1,2043.1 448.9,2029.0" stroke="#d0101c" stroke-opacity="0.35" stroke-width="0.8" fill="none"/>
<path d="M471.8,2060.9 Q479.1,2058.0 486.8,2057.9" stroke="#d0101c" stroke-opacity="0.35" stroke-width="0.8" fill="none"/>
<path d="M450.8,2082.1 Q462.5,2087.8 458.3,2095.1" stroke="#d0101c" stroke-opacity="0.35" stroke-width="0.8" fill="none"/>
<path d="M444.6,2049.8 Q436.1,2041.2 428.4,2032.0" stroke="#d0101c" stroke-opacity="0.35" stroke-width="0.8" fill="none"/>
<path d="M466.7,2058.9 Q481.8,2049.7 498.7,2045.3" stroke="#d0101c" stroke-opacity="0.35" stroke-width="0.8" fill="none"/>
<path d="M445.3,2064.1 Q429.2,2057.2 412.5,2060.6" stroke="#d0101c" stroke-opacity="0.35" stroke-width="0.8" fill="none"/>
<path d="M455.9,2075.5 Q456.8,2090.1 457.8,2104.7" stroke="#d0101c" stroke-opacity="0.35" stroke-width="0.8" fill="none"/>
<path d="M446.9,2048.7 Q434.5,2041.4 427.8,2029.4" stroke="#d0101c" stroke-opacity="0.35" stroke-width="0.8" fill="none"/>
<path d="M454.1,2064.4 Q437.3,2078.5 427.4,2098.7" stroke="#d0101c" stroke-opacity="0.35" stroke-width="0.8" fill="none"/>
<path d="M437.0,2076.8 Q444.0,2094.9 431.6,2101.7" stroke="#d0101c" stroke-opacity="0.35" stroke-width="0.8" fill="none"/>
<path d="M460.8,2052.4 Q458.7,2039.2 465.4,2028.8" stroke="#d0101c" stroke-opacity="0.35" stroke-width="0.8" fill="none"/>
<path d="M452.3,2063.6 Q448.3,2077.0 437.1,2085.8" stroke="#d0101c" stroke-opacity="0.35" stroke-width="0.8" fill="none"/>
<path d="M453.1,2067.1 Q440.8,2073.5 435.1,2086.0" stroke="#d0101c" stroke-opacity="0.35" stroke-width="0.8" fill="none"/>
<path d="M445.7,2070.8 Q428.5,2063.7 416.7,2074.8" stroke="#d0101c" stroke-opacity="0.35" stroke-width="0.8" fill="none"/>
<path d="M459.3,2067.6 Q454.9,2088.2 465.9,2106.0" stroke="#d0101c" stroke-opacity="0.35" stroke-width="0.8" fill="none"/>
<path d="M467.4,2056.3 Q469.9,2042.2 481.5,2037.8" stroke="#d0101c" stroke-opacity="0.35" stroke-width="0.8" fill="none"/>
<path d="M470.9,2052.0 Q484.0,2059.2 493.0,2051.5" stroke="#d0101c" stroke-opacity="0.35" stroke-width="0.8" fill="none"/>
<path d="M454.1,2075.7 Q470.9,2087.4 469.7,2105.8" stroke="#d0101c" stroke-opacity="0.35" stroke-width="0.8" fill="none"/>
<path d="M450.5,2057.9 Q447.7,2037.6 433.7,2022.5" stroke="#d0101c" stroke-opacity="0.35" stroke-width="0.8" fill="none"/>
<path d="M447.8,2052.9 Q442.2,2046.1 436.8,2039.1" stroke="#d0101c" stroke-opacity="0.35" stroke-width="0.8" fill="none"/>
<path d="M448.2,2070.4 Q434.9,2066.3 427.9,2075.6" stroke="#d0101c" stroke-opacity="0.35" stroke-width="0.8" fill="none"/>
<path d="M440.8,2060.0 Q433.8,2041.3 416.3,2039.1" stroke="#d0101c" stroke-opacity="0.35" stroke-width="0.8" fill="none"/>
<path d="M441.7,2057.7 Q425.7,2058.8 410.7,2053.7" stroke="#d0101c" stroke-opacity="0.35" stroke-width="0.8" fill="none"/>
<path d="M457.1,2060.5 Q474.5,2049.2 491.4,2037.2" stroke="#d0101c" stroke-opacity="0.35" stroke-width="0.8" fill="none"/>
<path d="M437.9,2045.5 Q431.9,2045.5 429.2,2041.3" stroke="#d0101c" stroke-opacity="0.35" stroke-width="0.8" fill="none"/>
<path d="M460.7,2044.5 Q474.6,2041.1 476.6,2029.7" stroke="#d0101c" stroke-opacity="0.35" stroke-width="0.8" fill="none"/>
<path d="M445.7,2043.0 Q435.5,2037.7 431.9,2027.8" stroke="#d0101c" stroke-opacity="0.35" stroke-width="0.8" fill="none"/>
<path d="M565.1,2068.8 Q574.7,2080.9 573.3,2096.6" stroke="#d0101c" stroke-opacity="0.3" stroke-width="0.8" fill="none"/>
<path d="M571.2,2064.2 Q583.5,2049.1 602.5,2044.1" stroke="#d0101c" stroke-opacity="0.3" stroke-width="0.8" fill="none"/>
<path d="M579.9,2062.0 Q588.8,2072.3 599.3,2068.8" stroke="#d0101c" stroke-opacity="0.3" stroke-width="0.8" fill="none"/>
<path d="M581.6,2046.1 Q581.1,2039.7 585.3,2036.4" stroke="#d0101c" stroke-opacity="0.3" stroke-width="0.8" fill="none"/>
<path d="M561.5,2057.8 Q560.1,2040.8 551.4,2026.3" stroke="#d0101c" stroke-opacity="0.3" stroke-width="0.8" fill="none"/>
<path d="M566.2,2044.0 Q555.2,2033.8 556.8,2020.9" stroke="#d0101c" stroke-opacity="0.3" stroke-width="0.8" fill="none"/>
<path d="M566.4,2053.0 Q550.8,2048.1 551.6,2034.9" stroke="#d0101c" stroke-opacity="0.3" stroke-width="0.8" fill="none"/>
<path d="M558.6,2057.9 Q550.6,2050.6 542.9,2043.1" stroke="#d0101c" stroke-opacity="0.3" stroke-width="0.8" fill="none"/>
<path d="M557.8,2069.8 Q543.4,2076.6 529.7,2084.7" stroke="#d0101c" stroke-opacity="0.3" stroke-width="0.8" fill="none"/>
<path d="M541.7,2060.4 Q529.9,2069.9 517.9,2065.7" stroke="#d0101c" stroke-opacity="0.3" stroke-width="0.8" fill="none"/>
<path d="M572.4,2058.3 Q567.7,2036.1 581.5,2018.8" stroke="#d0101c" stroke-opacity="0.3" stroke-width="0.8" fill="none"/>
<path d="M556.3,2086.3 Q543.1,2089.2 540.4,2099.8" stroke="#d0101c" stroke-opacity="0.3" stroke-width="0.8" fill="none"/>
<path d="M567.4,2069.6 Q588.4,2080.0 598.5,2102.0" stroke="#d0101c" stroke-opacity="0.3" stroke-width="0.8" fill="none"/>
<path d="M571.4,2075.6 Q571.3,2093.7 579.2,2109.5" stroke="#d0101c" stroke-opacity="0.3" stroke-width="0.8" fill="none"/>
<path d="M585.9,2064.8 Q589.4,2082.7 601.7,2080.1" stroke="#d0101c" stroke-opacity="0.3" stroke-width="0.8" fill="none"/>
<path d="M564.7,2067.9 Q543.6,2078.5 530.7,2099.3" stroke="#d0101c" stroke-opacity="0.3" stroke-width="0.8" fill="none"/>
<path d="M559.0,2054.0 Q546.0,2052.5 540.5,2042.4" stroke="#d0101c" stroke-opacity="0.3" stroke-width="0.8" fill="none"/>
<path d="M569.8,2066.7 Q576.7,2084.1 593.0,2093.9" stroke="#d0101c" stroke-opacity="0.3" stroke-width="0.8" fill="none"/>
<path d="M578.6,2059.3 Q591.5,2051.8 605.0,2045.8" stroke="#d0101c" stroke-opacity="0.3" stroke-width="0.8" fill="none"/>
<path d="M569.0,2047.0 Q588.3,2039.4 590.3,2021.6" stroke="#d0101c" stroke-opacity="0.3" stroke-width="0.8" fill="none"/>
<path d="M559.2,2051.0 Q554.3,2043.5 550.6,2035.4" stroke="#d0101c" stroke-opacity="0.3" stroke-width="0.8" fill="none"/>
<path d="M560.7,2066.8 Q548.4,2074.0 534.9,2078.8" stroke="#d0101c" stroke-opacity="0.3" stroke-width="0.8" fill="none"/>
<path d="M573.4,2079.6 Q557.8,2090.2 565.2,2101.6" stroke="#d0101c" stroke-opacity="0.3" stroke-width="0.8" fill="none"/>
<path d="M560.4,2052.3 Q551.4,2043.1 546.7,2031.5" stroke="#d0101c" stroke-opacity="0.3" stroke-width="0.8" fill="none"/>
<path d="M573.4,2088.0 Q568.6,2101.1 573.8,2112.6" stroke="#d0101c" stroke-opacity="0.3" stroke-width="0.8" fill="none"/>
<path d="M562.9,2060.7 Q544.8,2055.8 532.5,2041.6" stroke="#d0101c" stroke-opacity="0.3" stroke-width="0.8" fill="none"/>
<path d="M559.0,2078.8 Q565.0,2089.4 559.4,2097.7" stroke="#d0101c" stroke-opacity="0.3" stroke-width="0.8" fill="none"/>
<path d="M564.4,2051.9 Q547.1,2041.1 544.6,2022.3" stroke="#d0101c" stroke-opacity="0.3" stroke-width="0.8" fill="none"/>
<path d="M586.0,2077.5 Q587.3,2090.0 596.9,2093.7" stroke="#d0101c" stroke-opacity="0.3" stroke-width="0.8" fill="none"/>
<path d="M560.9,2063.1 Q540.1,2055.7 519.4,2048.0" stroke="#d0101c" stroke-opacity="0.3" stroke-width="0.8" fill="none"/>
<path d="M570.5,2062.1 Q584.0,2055.3 596.8,2047.3" stroke="#d0101c" stroke-opacity="0.3" stroke-width="0.8" fill="none"/>
<path d="M566.3,2086.8 Q584.1,2087.0 580.9,2096.9" stroke="#d0101c" stroke-opacity="0.3" stroke-width="0.8" fill="none"/>
<path d="M570.3,2072.0 Q564.3,2093.6 574.2,2113.3" stroke="#d0101c" stroke-opacity="0.3" stroke-width="0.8" fill="none"/>
<path d="M560.3,2054.7 Q566.5,2043.7 560.7,2034.6" stroke="#d0101c" stroke-opacity="0.3" stroke-width="0.8" fill="none"/>
<path d="M570.6,2069.7 Q570.5,2087.2 581.7,2100.4" stroke="#d0101c" stroke-opacity="0.3" stroke-width="0.8" fill="none"/>
<path d="M567.4,2068.1 Q590.1,2074.1 604.1,2094.4" stroke="#d0101c" stroke-opacity="0.3" stroke-width="0.8" fill="none"/>
<path d="M565.5,2059.8 Q554.9,2047.6 552.3,2031.7" stroke="#d0101c" stroke-opacity="0.3" stroke-width="0.8" fill="none"/>
<path d="M544.5,2073.7 Q532.9,2076.2 522.0,2081.0" stroke="#d0101c" stroke-opacity="0.3" stroke-width="0.8" fill="none"/>
<path d="M571.1,2068.2 Q577.0,2082.9 589.8,2091.9" stroke="#d0101c" stroke-opacity="0.3" stroke-width="0.8" fill="none"/>
<path d="M568.2,2063.7 Q585.2,2069.1 602.6,2062.5" stroke="#d0101c" stroke-opacity="0.3" stroke-width="0.8" fill="none"/>
<path d="M568.2,2068.1 Q566.0,2084.6 574.2,2099.4" stroke="#d0101c" stroke-opacity="0.3" stroke-width="0.8" fill="none"/>
<path d="M564.5,2083.5 Q557.6,2089.1 558.3,2096.4" stroke="#d0101c" stroke-opacity="0.3" stroke-width="0.8" fill="none"/>
<path d="M573.6,2078.7 Q563.1,2095.1 571.8,2109.5" stroke="#d0101c" stroke-opacity="0.3" stroke-width="0.8" fill="none"/>
<path d="M543.3,2074.6 Q536.2,2055.2 527.9,2063.2" stroke="#d0101c" stroke-opacity="0.3" stroke-width="0.8" fill="none"/>
<path d="M587.4,2052.1 Q583.7,2042.6 589.1,2042.7" stroke="#d0101c" stroke-opacity="0.3" stroke-width="0.8" fill="none"/>
<ellipse cx="485" cy="1962" rx="22" ry="22" fill="#b0101c" fill-opacity="0.45" filter="url(#bl30)"/>
<ellipse cx="606" cy="1943" rx="16" ry="15" fill="#b0101c" fill-opacity="0.4" filter="url(#bl30)"/>
<ellipse cx="667" cy="1962" rx="14" ry="17" fill="#b0101c" fill-opacity="0.35" filter="url(#bl30)"/>
<ellipse cx="455" cy="2060" rx="22" ry="22" fill="#b0101c" fill-opacity="0.45" filter="url(#bl30)"/>
<ellipse cx="566" cy="2065" rx="24" ry="24" fill="#b0101c" fill-opacity="0.4" filter="url(#bl30)"/>
<ellipse cx="473.6" cy="1968.3" rx="10.5" ry="10.5" fill="#1010c0" fill-opacity="0.6" filter="url(#bl20)"/>
<ellipse cx="473.6" cy="1968.3" rx="9" ry="9" fill="#1c1cf0" filter="url(#bl10)"/>
<ellipse cx="488.3" cy="1955.7" rx="11.5" ry="11.5" fill="#1010c0" fill-opacity="0.6" filter="url(#bl20)"/>
<ellipse cx="488.3" cy="1955.7" rx="10" ry="10" fill="#1c1cf0" filter="url(#bl10)"/>
<ellipse cx="495.7" cy="1967.3" rx="9.5" ry="9.5" fill="#1010c0" fill-opacity="0.6" filter="url(#bl20)"/>
<ellipse cx="495.7" cy="1967.3" rx="8" ry="8" fill="#1c1cf0" filter="url(#bl10)"/>
<ellipse cx="606.1" cy="1943.1" rx="10.5" ry="9.5" fill="#1010c0" fill-opacity="0.6" filter="url(#bl20)"/>
<ellipse cx="606.1" cy="1943.1" rx="9" ry="8" fill="#1c1cf0" filter="url(#bl10)"/>
<ellipse cx="667.1" cy="1960" rx="8.5" ry="11.5" fill="#1010c0" fill-opacity="0.6" filter="url(#bl20)"/>
<ellipse cx="667.1" cy="1960" rx="7" ry="10" fill="#1c1cf0" filter="url(#bl10)"/>
<ellipse cx="447.3" cy="2067.2" rx="10.5" ry="10.5" fill="#1010c0" fill-opacity="0.6" filter="url(#bl20)"/>
<ellipse cx="447.3" cy="2067.2" rx="9" ry="9" fill="#1c1cf0" filter="url(#bl10)"/>
<ellipse cx="458.9" cy="2051.4" rx="9.5" ry="9.5" fill="#1010c0" fill-opacity="0.6" filter="url(#bl20)"/>
<ellipse cx="458.9" cy="2051.4" rx="8" ry="8" fill="#1c1cf0" filter="url(#bl10)"/>
<ellipse cx="466.2" cy="2066.1" rx="10.5" ry="10.5" fill="#1010c0" fill-opacity="0.6" filter="url(#bl20)"/>
<ellipse cx="466.2" cy="2066.1" rx="9" ry="9" fill="#1c1cf0" filter="url(#bl10)"/>
<ellipse cx="555.6" cy="2059.8" rx="9.5" ry="9.5" fill="#1010c0" fill-opacity="0.6" filter="url(#bl20)"/>
<ellipse cx="555.6" cy="2059.8" rx="8" ry="8" fill="#1c1cf0" filter="url(#bl10)"/>
<ellipse cx="574.6" cy="2055.6" rx="9.5" ry="9.5" fill="#1010c0" fill-opacity="0.6" filter="url(#bl20)"/>
<ellipse cx="574.6" cy="2055.6" rx="8" ry="8" fill="#1c1cf0" filter="url(#bl10)"/>
<ellipse cx="559.8" cy="2075.6" rx="9.5" ry="9.5" fill="#1010c0" fill-opacity="0.6" filter="url(#bl20)"/>
<ellipse cx="559.8" cy="2075.6" rx="8" ry="8" fill="#1c1cf0" filter="url(#bl10)"/>
<ellipse cx="574.6" cy="2074.6" rx="9.5" ry="9.5" fill="#1010c0" fill-opacity="0.6" filter="url(#bl20)"/>
<ellipse cx="574.6" cy="2074.6" rx="8" ry="8" fill="#1c1cf0" filter="url(#bl10)"/>
</g>
<rect x="96.70" y="2141.00" width="299.10" height="204.00" fill="#000" />
<g clip-path="url(#cl13)">
<rect x="96.7" y="2141" width="299.1" height="204" fill="#3a0008" fill-opacity="0.3"/>
<ellipse cx="122.6" cy="2234.1" rx="33.800000000000004" ry="36.0" transform="rotate(0 122.6 2234.1)" fill="#7a000e" fill-opacity="0.3" filter="url(#bl80)"/>
<ellipse cx="185.7" cy="2188.9" rx="31.200000000000003" ry="25.2" transform="rotate(0 185.7 2188.9)" fill="#7a000e" fill-opacity="0.3" filter="url(#bl80)"/>
<ellipse cx="261.4" cy="2175.2" rx="24.7" ry="28.799999999999997" transform="rotate(0 261.4 2175.2)" fill="#7a000e" fill-opacity="0.3" filter="url(#bl80)"/>
<ellipse cx="295" cy="2152.1" rx="29.900000000000002" ry="24.0" transform="rotate(0 295 2152.1)" fill="#7a000e" fill-opacity="0.3" filter="url(#bl80)"/>
<ellipse cx="320.3" cy="2211" rx="27.3" ry="27.599999999999998" transform="rotate(0 320.3 2211)" fill="#7a000e" fill-opacity="0.3" filter="url(#bl80)"/>
<ellipse cx="370.8" cy="2255.1" rx="26.0" ry="24.0" transform="rotate(0 370.8 2255.1)" fill="#7a000e" fill-opacity="0.3" filter="url(#bl80)"/>
<ellipse cx="263.5" cy="2266.7" rx="28.6" ry="33.6" transform="rotate(0 263.5 2266.7)" fill="#7a000e" fill-opacity="0.3" filter="url(#bl80)"/>
<ellipse cx="146.8" cy="2305.6" rx="27.3" ry="31.2" transform="rotate(0 146.8 2305.6)" fill="#7a000e" fill-opacity="0.3" filter="url(#bl80)"/>
<ellipse cx="250.9" cy="2314" rx="39.0" ry="27.599999999999998" transform="rotate(0 250.9 2314)" fill="#7a000e" fill-opacity="0.3" filter="url(#bl80)"/>
<ellipse cx="317.1" cy="2322.4" rx="28.6" ry="33.6" transform="rotate(0 317.1 2322.4)" fill="#7a000e" fill-opacity="0.3" filter="url(#bl80)"/>
<path d="M122.1,2242.3 Q114.7,2245.3 115.0,2251.8" stroke="#d0101c" stroke-opacity="0.2" stroke-width="0.8" fill="none"/>
<path d="M124.2,2237.8 Q129.5,2240.3 131.7,2245.4" stroke="#d0101c" stroke-opacity="0.2" stroke-width="0.8" fill="none"/>
<path d="M122.3,2230.9 Q117.0,2225.2 115.9,2217.5" stroke="#d0101c" stroke-opacity="0.2" stroke-width="0.8" fill="none"/>
<path d="M121.0,2239.8 Q116.8,2246.0 114.8,2253.1" stroke="#d0101c" stroke-opacity="0.2" stroke-width="0.8" fill="none"/>
<path d="M127.1,2234.5 Q129.9,2240.1 135.6,2240.6" stroke="#d0101c" stroke-opacity="0.2" stroke-width="0.8" fill="none"/>
<path d="M126.0,2225.5 Q132.9,2223.4 134.5,2217.4" stroke="#d0101c" stroke-opacity="0.2" stroke-width="0.8" fill="none"/>
<path d="M194.4,2186.0 Q197.6,2191.8 201.2,2189.4" stroke="#d0101c" stroke-opacity="0.2" stroke-width="0.8" fill="none"/>
<path d="M176.9,2189.6 Q172.5,2191.5 167.7,2191.7" stroke="#d0101c" stroke-opacity="0.2" stroke-width="0.8" fill="none"/>
<path d="M181.8,2193.3 Q184.6,2199.8 180.5,2204.0" stroke="#d0101c" stroke-opacity="0.2" stroke-width="0.8" fill="none"/>
<path d="M189.6,2180.6 Q196.2,2177.5 198.6,2171.2" stroke="#d0101c" stroke-opacity="0.2" stroke-width="0.8" fill="none"/>
<path d="M177.5,2186.0 Q176.3,2182.1 173.2,2181.8" stroke="#d0101c" stroke-opacity="0.2" stroke-width="0.8" fill="none"/>
<path d="M182.3,2190.1 Q176.9,2191.8 171.5,2193.8" stroke="#d0101c" stroke-opacity="0.2" stroke-width="0.8" fill="none"/>
<path d="M261.3,2181.3 Q263.2,2187.4 262.9,2193.7" stroke="#d0101c" stroke-opacity="0.2" stroke-width="0.8" fill="none"/>
<path d="M265.8,2179.9 Q271.4,2179.4 274.4,2183.3" stroke="#d0101c" stroke-opacity="0.2" stroke-width="0.8" fill="none"/>
<path d="M263.2,2180.2 Q262.4,2184.7 264.1,2188.8" stroke="#d0101c" stroke-opacity="0.2" stroke-width="0.8" fill="none"/>
<path d="M266.7,2173.6 Q272.9,2180.1 280.7,2178.0" stroke="#d0101c" stroke-opacity="0.2" stroke-width="0.8" fill="none"/>
<path d="M264.6,2176.1 Q269.5,2183.8 278.0,2186.8" stroke="#d0101c" stroke-opacity="0.2" stroke-width="0.8" fill="none"/>
<path d="M259.2,2172.6 Q260.3,2165.1 256.0,2159.3" stroke="#d0101c" stroke-opacity="0.2" stroke-width="0.8" fill="none"/>
<path d="M302.0,2146.0 Q307.0,2150.3 309.0,2146.8" stroke="#d0101c" stroke-opacity="0.2" stroke-width="0.8" fill="none"/>
<path d="M289.0,2158.1 Q283.6,2152.5 281.3,2156.6" stroke="#d0101c" stroke-opacity="0.2" stroke-width="0.8" fill="none"/>
<path d="M288.2,2147.0 Q287.1,2143.3 284.2,2141.6" stroke="#d0101c" stroke-opacity="0.2" stroke-width="0.8" fill="none"/>
<path d="M288.6,2148.5 Q287.4,2143.0 282.9,2141.1" stroke="#d0101c" stroke-opacity="0.2" stroke-width="0.8" fill="none"/>
<path d="M292.5,2156.0 Q287.6,2158.3 284.9,2162.7" stroke="#d0101c" stroke-opacity="0.2" stroke-width="0.8" fill="none"/>
<path d="M298.1,2154.7 Q300.3,2159.3 304.1,2162.5" stroke="#d0101c" stroke-opacity="0.2" stroke-width="0.8" fill="none"/>
<path d="M313.8,2208.6 Q310.4,2208.4 307.3,2207.1" stroke="#d0101c" stroke-opacity="0.2" stroke-width="0.8" fill="none"/>
<path d="M318.7,2213.4 Q312.4,2212.5 308.6,2217.2" stroke="#d0101c" stroke-opacity="0.2" stroke-width="0.8" fill="none"/>
<path d="M323.7,2214.3 Q326.5,2219.1 330.4,2222.8" stroke="#d0101c" stroke-opacity="0.2" stroke-width="0.8" fill="none"/>
<path d="M325.8,2213.9 Q326.2,2220.7 331.5,2223.0" stroke="#d0101c" stroke-opacity="0.2" stroke-width="0.8" fill="none"/>
<path d="M325.3,2211.2 Q328.3,2219.0 335.7,2219.5" stroke="#d0101c" stroke-opacity="0.2" stroke-width="0.8" fill="none"/>
<path d="M314.1,2210.3 Q307.9,2213.8 301.3,2212.9" stroke="#d0101c" stroke-opacity="0.2" stroke-width="0.8" fill="none"/>
<path d="M377.2,2256.4 Q382.4,2262.7 390.0,2264.1" stroke="#d0101c" stroke-opacity="0.2" stroke-width="0.8" fill="none"/>
<path d="M370.4,2263.2 Q375.5,2268.7 374.7,2275.4" stroke="#d0101c" stroke-opacity="0.2" stroke-width="0.8" fill="none"/>
<path d="M366.4,2252.4 Q360.8,2252.9 356.3,2250.0" stroke="#d0101c" stroke-opacity="0.2" stroke-width="0.8" fill="none"/>
<path d="M372.3,2260.0 Q374.9,2263.5 376.0,2267.6" stroke="#d0101c" stroke-opacity="0.2" stroke-width="0.8" fill="none"/>
<path d="M378.3,2259.7 Q384.0,2251.7 389.3,2256.0" stroke="#d0101c" stroke-opacity="0.2" stroke-width="0.8" fill="none"/>
<path d="M371.4,2251.4 Q373.3,2244.8 374.3,2238.0" stroke="#d0101c" stroke-opacity="0.2" stroke-width="0.8" fill="none"/>
<path d="M261.2,2270.7 Q264.2,2277.5 260.8,2283.5" stroke="#d0101c" stroke-opacity="0.2" stroke-width="0.8" fill="none"/>
<path d="M265.5,2264.4 Q266.5,2255.4 272.1,2248.1" stroke="#d0101c" stroke-opacity="0.2" stroke-width="0.8" fill="none"/>
<path d="M261.7,2271.9 Q265.9,2275.9 264.0,2280.2" stroke="#d0101c" stroke-opacity="0.2" stroke-width="0.8" fill="none"/>
<path d="M259.7,2271.3 Q250.1,2267.9 244.1,2274.5" stroke="#d0101c" stroke-opacity="0.2" stroke-width="0.8" fill="none"/>
<path d="M270.1,2268.5 Q271.2,2274.0 275.5,2274.5" stroke="#d0101c" stroke-opacity="0.2" stroke-width="0.8" fill="none"/>
<path d="M259.1,2275.7 Q265.5,2280.6 262.0,2284.6" stroke="#d0101c" stroke-opacity="0.2" stroke-width="0.8" fill="none"/>
<path d="M151.0,2305.7 Q157.6,2299.3 166.6,2299.1" stroke="#d0101c" stroke-opacity="0.2" stroke-width="0.8" fill="none"/>
<path d="M141.5,2306.3 Q136.7,2301.9 130.8,2302.9" stroke="#d0101c" stroke-opacity="0.2" stroke-width="0.8" fill="none"/>
<path d="M148.7,2313.8 Q140.6,2317.9 142.9,2324.3" stroke="#d0101c" stroke-opacity="0.2" stroke-width="0.8" fill="none"/>
<path d="M136.6,2304.3 Q133.5,2302.3 130.1,2302.2" stroke="#d0101c" stroke-opacity="0.2" stroke-width="0.8" fill="none"/>
<path d="M139.9,2299.0 Q131.6,2303.4 127.2,2297.9" stroke="#d0101c" stroke-opacity="0.2" stroke-width="0.8" fill="none"/>
<path d="M151.2,2310.8 Q155.1,2316.4 159.5,2321.5" stroke="#d0101c" stroke-opacity="0.2" stroke-width="0.8" fill="none"/>
<path d="M247.6,2324.1 Q255.4,2326.4 252.5,2329.7" stroke="#d0101c" stroke-opacity="0.2" stroke-width="0.8" fill="none"/>
<path d="M253.1,2314.7 Q261.3,2310.8 270.5,2312.7" stroke="#d0101c" stroke-opacity="0.2" stroke-width="0.8" fill="none"/>
<path d="M248.8,2304.4 Q255.3,2298.7 253.0,2292.1" stroke="#d0101c" stroke-opacity="0.2" stroke-width="0.8" fill="none"/>
<path d="M244.1,2317.5 Q237.0,2315.8 231.1,2319.3" stroke="#d0101c" stroke-opacity="0.2" stroke-width="0.8" fill="none"/>
<path d="M248.7,2322.6 Q251.5,2325.5 250.0,2328.1" stroke="#d0101c" stroke-opacity="0.2" stroke-width="0.8" fill="none"/>
<path d="M257.1,2313.8 Q260.8,2318.6 265.9,2318.0" stroke="#d0101c" stroke-opacity="0.2" stroke-width="0.8" fill="none"/>
<path d="M315.2,2323.0 Q311.2,2327.4 305.7,2329.5" stroke="#d0101c" stroke-opacity="0.2" stroke-width="0.8" fill="none"/>
<path d="M312.0,2331.5 Q305.7,2328.5 305.4,2332.4" stroke="#d0101c" stroke-opacity="0.2" stroke-width="0.8" fill="none"/>
<path d="M320.6,2317.8 Q329.2,2315.7 334.5,2309.0" stroke="#d0101c" stroke-opacity="0.2" stroke-width="0.8" fill="none"/>
<path d="M312.8,2322.8 Q307.8,2316.8 300.6,2317.3" stroke="#d0101c" stroke-opacity="0.2" stroke-width="0.8" fill="none"/>
<path d="M313.5,2321.5 Q307.2,2320.5 300.9,2319.0" stroke="#d0101c" stroke-opacity="0.2" stroke-width="0.8" fill="none"/>
<path d="M319.7,2329.1 Q315.6,2332.6 317.8,2335.9" stroke="#d0101c" stroke-opacity="0.2" stroke-width="0.8" fill="none"/>
<ellipse cx="122.6" cy="2234.1" rx="14.5" ry="16.5" fill="#1010c0" fill-opacity="0.6" filter="url(#bl20)"/>
<ellipse cx="122.6" cy="2234.1" rx="13" ry="15" fill="#1c1cf0" filter="url(#bl10)"/>
<ellipse cx="185.7" cy="2188.9" rx="13.5" ry="12.0" fill="#1010c0" fill-opacity="0.6" filter="url(#bl20)"/>
<ellipse cx="185.7" cy="2188.9" rx="12" ry="10.5" fill="#1c1cf0" filter="url(#bl10)"/>
<ellipse cx="261.4" cy="2175.2" rx="11.0" ry="13.5" fill="#1010c0" fill-opacity="0.6" filter="url(#bl20)"/>
<ellipse cx="261.4" cy="2175.2" rx="9.5" ry="12" fill="#1c1cf0" filter="url(#bl10)"/>
<ellipse cx="295" cy="2152.1" rx="13.0" ry="11.5" fill="#1010c0" fill-opacity="0.6" filter="url(#bl20)"/>
<ellipse cx="295" cy="2152.1" rx="11.5" ry="10" fill="#1c1cf0" filter="url(#bl10)"/>
<ellipse cx="320.3" cy="2211" rx="12.0" ry="13.0" fill="#1010c0" fill-opacity="0.6" filter="url(#bl20)"/>
<ellipse cx="320.3" cy="2211" rx="10.5" ry="11.5" fill="#1c1cf0" filter="url(#bl10)"/>
<ellipse cx="370.8" cy="2255.1" rx="11.5" ry="11.5" fill="#1010c0" fill-opacity="0.6" filter="url(#bl20)"/>
<ellipse cx="370.8" cy="2255.1" rx="10" ry="10" fill="#1c1cf0" filter="url(#bl10)"/>
<ellipse cx="263.5" cy="2266.7" rx="12.5" ry="15.5" fill="#1010c0" fill-opacity="0.6" filter="url(#bl20)"/>
<ellipse cx="263.5" cy="2266.7" rx="11" ry="14" fill="#1c1cf0" filter="url(#bl10)"/>
<ellipse cx="146.8" cy="2305.6" rx="12.0" ry="14.5" fill="#1010c0" fill-opacity="0.6" filter="url(#bl20)"/>
<ellipse cx="146.8" cy="2305.6" rx="10.5" ry="13" fill="#1c1cf0" filter="url(#bl10)"/>
<ellipse cx="250.9" cy="2314" rx="16.5" ry="13.0" fill="#1010c0" fill-opacity="0.6" filter="url(#bl20)"/>
<ellipse cx="250.9" cy="2314" rx="15" ry="11.5" fill="#1c1cf0" filter="url(#bl10)"/>
<ellipse cx="317.1" cy="2322.4" rx="12.5" ry="15.5" fill="#1010c0" fill-opacity="0.6" filter="url(#bl20)"/>
<ellipse cx="317.1" cy="2322.4" rx="11" ry="14" fill="#1c1cf0" filter="url(#bl10)"/>
</g>
<rect x="404.00" y="2141.00" width="299.00" height="204.00" fill="#000" />
<g clip-path="url(#cl14)">
<rect x="404" y="2141" width="299" height="204" fill="#3a0008" fill-opacity="0.3"/>
<ellipse cx="503" cy="2163.6" rx="33.599999999999994" ry="39.0" transform="rotate(0 503 2163.6)" fill="#9a0012" fill-opacity="0.35" filter="url(#bl80)"/>
<ellipse cx="444.2" cy="2197.3" rx="22.4" ry="28.6" transform="rotate(0 444.2 2197.3)" fill="#9a0012" fill-opacity="0.35" filter="url(#bl80)"/>
<ellipse cx="464.1" cy="2195.2" rx="25.2" ry="18.2" transform="rotate(0 464.1 2195.2)" fill="#9a0012" fill-opacity="0.35" filter="url(#bl80)"/>
<ellipse cx="547.2" cy="2196.2" rx="23.799999999999997" ry="33.800000000000004" transform="rotate(0 547.2 2196.2)" fill="#9a0012" fill-opacity="0.35" filter="url(#bl80)"/>
<ellipse cx="592.4" cy="2196.2" rx="35.0" ry="31.200000000000003" transform="rotate(0 592.4 2196.2)" fill="#9a0012" fill-opacity="0.35" filter="url(#bl80)"/>
<ellipse cx="639.7" cy="2163.6" rx="28.0" ry="26.0" transform="rotate(0 639.7 2163.6)" fill="#9a0012" fill-opacity="0.35" filter="url(#bl80)"/>
<ellipse cx="669.2" cy="2216.2" rx="33.599999999999994" ry="24.7" transform="rotate(0 669.2 2216.2)" fill="#9a0012" fill-opacity="0.35" filter="url(#bl80)"/>
<ellipse cx="408.4" cy="2246.7" rx="16.799999999999997" ry="26.0" transform="rotate(0 408.4 2246.7)" fill="#9a0012" fill-opacity="0.35" filter="url(#bl80)"/>
<ellipse cx="487.9" cy="2248.8" rx="30.799999999999997" ry="26.0" transform="rotate(0 487.9 2248.8)" fill="#9a0012" fill-opacity="0.35" filter="url(#bl80)"/>
<ellipse cx="608.2" cy="2273" rx="33.599999999999994" ry="28.6" transform="rotate(0 608.2 2273)" fill="#9a0012" fill-opacity="0.35" filter="url(#bl80)"/>
<ellipse cx="532.5" cy="2306.7" rx="22.4" ry="29.900000000000002" transform="rotate(0 532.5 2306.7)" fill="#9a0012" fill-opacity="0.35" filter="url(#bl80)"/>
<ellipse cx="447.3" cy="2329.8" rx="26.599999999999998" ry="22.1" transform="rotate(0 447.3 2329.8)" fill="#9a0012" fill-opacity="0.35" filter="url(#bl80)"/>
<ellipse cx="495.7" cy="2326.6" rx="19.599999999999998" ry="26.0" transform="rotate(0 495.7 2326.6)" fill="#9a0012" fill-opacity="0.35" filter="url(#bl80)"/>
<ellipse cx="561.9" cy="2337.2" rx="30.799999999999997" ry="20.8" transform="rotate(0 561.9 2337.2)" fill="#9a0012" fill-opacity="0.35" filter="url(#bl80)"/>
<path d="M510.1,2169.2 Q505.9,2178.2 512.2,2182.1" stroke="#d0101c" stroke-opacity="0.55" stroke-width="0.8" fill="none"/>
<path d="M502.4,2168.1 Q498.1,2175.6 496.8,2184.1" stroke="#d0101c" stroke-opacity="0.55" stroke-width="0.8" fill="none"/>
<path d="M500.1,2172.0 Q493.5,2173.2 492.6,2178.5" stroke="#d0101c" stroke-opacity="0.55" stroke-width="0.8" fill="none"/>
<path d="M506.1,2166.5 Q514.9,2170.3 522.0,2176.7" stroke="#d0101c" stroke-opacity="0.55" stroke-width="0.8" fill="none"/>
<path d="M502.3,2173.6 Q510.2,2177.0 508.8,2183.2" stroke="#d0101c" stroke-opacity="0.55" stroke-width="0.8" fill="none"/>
<path d="M494.8,2160.9 Q492.6,2157.0 488.8,2156.3" stroke="#d0101c" stroke-opacity="0.55" stroke-width="0.8" fill="none"/>
<path d="M506.8,2167.4 Q512.8,2166.6 516.5,2170.6" stroke="#d0101c" stroke-opacity="0.55" stroke-width="0.8" fill="none"/>
<path d="M509.0,2162.8 Q517.6,2160.1 526.4,2158.9" stroke="#d0101c" stroke-opacity="0.55" stroke-width="0.8" fill="none"/>
<path d="M494.6,2156.9 Q487.2,2162.7 482.9,2157.7" stroke="#d0101c" stroke-opacity="0.55" stroke-width="0.8" fill="none"/>
<path d="M495.9,2159.2 Q490.8,2164.7 487.1,2161.1" stroke="#d0101c" stroke-opacity="0.55" stroke-width="0.8" fill="none"/>
<path d="M508.0,2158.5 Q510.6,2154.7 513.9,2151.6" stroke="#d0101c" stroke-opacity="0.55" stroke-width="0.8" fill="none"/>
<path d="M505.0,2173.4 Q513.8,2173.4 513.8,2179.5" stroke="#d0101c" stroke-opacity="0.55" stroke-width="0.8" fill="none"/>
<path d="M504.2,2161.0 Q499.8,2154.1 502.2,2146.5" stroke="#d0101c" stroke-opacity="0.55" stroke-width="0.8" fill="none"/>
<path d="M502.8,2160.5 Q495.6,2155.0 494.2,2146.2" stroke="#d0101c" stroke-opacity="0.55" stroke-width="0.8" fill="none"/>
<path d="M494.2,2164.7 Q489.1,2166.3 483.7,2166.9" stroke="#d0101c" stroke-opacity="0.55" stroke-width="0.8" fill="none"/>
<path d="M496.7,2164.2 Q493.2,2172.6 485.3,2173.2" stroke="#d0101c" stroke-opacity="0.55" stroke-width="0.8" fill="none"/>
<path d="M498.7,2164.3 Q491.4,2156.6 481.2,2157.3" stroke="#d0101c" stroke-opacity="0.55" stroke-width="0.8" fill="none"/>
<path d="M506.1,2165.0 Q513.6,2169.8 521.7,2173.5" stroke="#d0101c" stroke-opacity="0.55" stroke-width="0.8" fill="none"/>
<path d="M512.0,2164.7 Q519.3,2163.6 526.4,2164.6" stroke="#d0101c" stroke-opacity="0.55" stroke-width="0.8" fill="none"/>
<path d="M498.6,2169.9 Q499.4,2178.7 494.4,2185.4" stroke="#d0101c" stroke-opacity="0.55" stroke-width="0.8" fill="none"/>
<path d="M501.7,2167.3 Q499.6,2175.3 497.0,2183.1" stroke="#d0101c" stroke-opacity="0.55" stroke-width="0.8" fill="none"/>
<path d="M502.8,2169.5 Q505.7,2173.6 505.2,2178.2" stroke="#d0101c" stroke-opacity="0.55" stroke-width="0.8" fill="none"/>
<path d="M510.8,2162.8 Q513.4,2170.6 519.2,2169.1" stroke="#d0101c" stroke-opacity="0.55" stroke-width="0.8" fill="none"/>
<path d="M500.2,2167.1 Q501.9,2173.2 498.3,2177.6" stroke="#d0101c" stroke-opacity="0.55" stroke-width="0.8" fill="none"/>
<path d="M504.4,2167.7 Q511.7,2174.0 515.0,2183.0" stroke="#d0101c" stroke-opacity="0.55" stroke-width="0.8" fill="none"/>
<path d="M503.1,2171.6 Q508.2,2178.3 508.0,2186.3" stroke="#d0101c" stroke-opacity="0.55" stroke-width="0.8" fill="none"/>
<path d="M503.4,2157.9 Q505.9,2151.2 506.3,2144.1" stroke="#d0101c" stroke-opacity="0.55" stroke-width="0.8" fill="none"/>
<path d="M512.0,2160.2 Q517.2,2166.2 522.3,2163.2" stroke="#d0101c" stroke-opacity="0.55" stroke-width="0.8" fill="none"/>
<path d="M499.1,2167.9 Q492.4,2173.8 486.4,2180.4" stroke="#d0101c" stroke-opacity="0.55" stroke-width="0.8" fill="none"/>
<path d="M503.8,2158.5 Q507.6,2150.2 509.0,2141.2" stroke="#d0101c" stroke-opacity="0.55" stroke-width="0.8" fill="none"/>
<path d="M503.2,2174.9 Q507.1,2178.2 506.3,2182.2" stroke="#d0101c" stroke-opacity="0.55" stroke-width="0.8" fill="none"/>
<path d="M502.8,2166.6 Q499.3,2172.6 498.6,2179.3" stroke="#d0101c" stroke-opacity="0.55" stroke-width="0.8" fill="none"/>
<path d="M505.9,2167.1 Q509.7,2173.1 514.2,2178.6" stroke="#d0101c" stroke-opacity="0.55" stroke-width="0.8" fill="none"/>
<path d="M495.8,2170.3 Q495.4,2174.6 492.3,2176.6" stroke="#d0101c" stroke-opacity="0.55" stroke-width="0.8" fill="none"/>
<path d="M500.1,2165.1 Q498.0,2172.1 491.8,2175.7" stroke="#d0101c" stroke-opacity="0.55" stroke-width="0.8" fill="none"/>
<path d="M502.5,2160.2 Q496.2,2153.6 494.3,2144.7" stroke="#d0101c" stroke-opacity="0.55" stroke-width="0.8" fill="none"/>
<path d="M497.8,2156.8 Q503.6,2150.4 499.2,2146.2" stroke="#d0101c" stroke-opacity="0.55" stroke-width="0.8" fill="none"/>
<path d="M498.8,2157.3 Q495.5,2155.3 493.7,2152.0" stroke="#d0101c" stroke-opacity="0.55" stroke-width="0.8" fill="none"/>
<path d="M502.3,2170.3 Q493.5,2175.3 492.5,2184.5" stroke="#d0101c" stroke-opacity="0.55" stroke-width="0.8" fill="none"/>
<path d="M511.1,2166.9 Q517.4,2170.7 524.2,2173.4" stroke="#d0101c" stroke-opacity="0.55" stroke-width="0.8" fill="none"/>
<path d="M453.0,2203.4 Q447.0,2211.6 452.8,2213.7" stroke="#d0101c" stroke-opacity="0.55" stroke-width="0.8" fill="none"/>
<path d="M451.5,2190.0 Q445.7,2180.6 452.2,2175.4" stroke="#d0101c" stroke-opacity="0.55" stroke-width="0.8" fill="none"/>
<path d="M445.6,2192.4 Q445.0,2187.0 446.6,2181.8" stroke="#d0101c" stroke-opacity="0.55" stroke-width="0.8" fill="none"/>
<path d="M442.5,2196.2 Q438.7,2188.5 431.7,2183.3" stroke="#d0101c" stroke-opacity="0.55" stroke-width="0.8" fill="none"/>
<path d="M436.9,2197.5 Q435.0,2189.2 428.6,2189.9" stroke="#d0101c" stroke-opacity="0.55" stroke-width="0.8" fill="none"/>
<path d="M444.3,2206.1 Q454.9,2207.4 454.3,2215.3" stroke="#d0101c" stroke-opacity="0.55" stroke-width="0.8" fill="none"/>
<path d="M448.6,2197.2 Q455.3,2206.0 466.1,2206.7" stroke="#d0101c" stroke-opacity="0.55" stroke-width="0.8" fill="none"/>
<path d="M452.8,2191.1 Q455.1,2187.9 458.4,2185.9" stroke="#d0101c" stroke-opacity="0.55" stroke-width="0.8" fill="none"/>
<path d="M437.8,2206.7 Q443.9,2210.3 440.7,2211.6" stroke="#d0101c" stroke-opacity="0.55" stroke-width="0.8" fill="none"/>
<path d="M453.9,2194.6 Q458.1,2204.4 465.0,2201.4" stroke="#d0101c" stroke-opacity="0.55" stroke-width="0.8" fill="none"/>
<path d="M434.0,2195.8 Q434.0,2187.0 428.3,2187.6" stroke="#d0101c" stroke-opacity="0.55" stroke-width="0.8" fill="none"/>
<path d="M450.0,2200.0 Q452.3,2207.7 459.0,2210.6" stroke="#d0101c" stroke-opacity="0.55" stroke-width="0.8" fill="none"/>
<path d="M436.4,2201.4 Q430.9,2206.7 424.2,2210.0" stroke="#d0101c" stroke-opacity="0.55" stroke-width="0.8" fill="none"/>
<path d="M444.9,2199.5 Q448.5,2209.0 451.8,2218.7" stroke="#d0101c" stroke-opacity="0.55" stroke-width="0.8" fill="none"/>
<path d="M438.7,2202.0 Q439.5,2207.7 435.6,2210.2" stroke="#d0101c" stroke-opacity="0.55" stroke-width="0.8" fill="none"/>
<path d="M444.6,2201.8 Q450.7,2209.3 451.8,2218.6" stroke="#d0101c" stroke-opacity="0.55" stroke-width="0.8" fill="none"/>
<path d="M453.2,2203.0 Q459.1,2194.5 463.9,2199.2" stroke="#d0101c" stroke-opacity="0.55" stroke-width="0.8" fill="none"/>
<path d="M440.2,2189.4 Q443.7,2182.6 440.2,2177.1" stroke="#d0101c" stroke-opacity="0.55" stroke-width="0.8" fill="none"/>
<path d="M440.4,2199.3 Q431.8,2200.8 424.0,2204.7" stroke="#d0101c" stroke-opacity="0.55" stroke-width="0.8" fill="none"/>
<path d="M443.1,2193.6 Q444.4,2186.4 442.4,2179.4" stroke="#d0101c" stroke-opacity="0.55" stroke-width="0.8" fill="none"/>
<path d="M438.2,2202.6 Q431.4,2201.5 427.3,2205.9" stroke="#d0101c" stroke-opacity="0.55" stroke-width="0.8" fill="none"/>
<path d="M440.2,2203.0 Q439.7,2211.2 434.9,2217.6" stroke="#d0101c" stroke-opacity="0.55" stroke-width="0.8" fill="none"/>
<path d="M448.0,2204.8 Q442.9,2209.3 445.9,2212.9" stroke="#d0101c" stroke-opacity="0.55" stroke-width="0.8" fill="none"/>
<path d="M442.5,2208.2 Q450.1,2211.4 447.9,2216.5" stroke="#d0101c" stroke-opacity="0.55" stroke-width="0.8" fill="none"/>
<path d="M435.5,2196.1 Q431.1,2192.5 425.8,2192.3" stroke="#d0101c" stroke-opacity="0.55" stroke-width="0.8" fill="none"/>
<path d="M436.3,2205.8 Q431.2,2202.0 430.3,2205.4" stroke="#d0101c" stroke-opacity="0.55" stroke-width="0.8" fill="none"/>
<path d="M451.2,2198.4 Q454.2,2192.6 458.9,2194.0" stroke="#d0101c" stroke-opacity="0.55" stroke-width="0.8" fill="none"/>
<path d="M434.8,2191.5 Q431.1,2191.8 428.6,2189.6" stroke="#d0101c" stroke-opacity="0.55" stroke-width="0.8" fill="none"/>
<path d="M436.2,2198.5 Q432.3,2202.2 427.2,2202.5" stroke="#d0101c" stroke-opacity="0.55" stroke-width="0.8" fill="none"/>
<path d="M448.8,2191.3 Q455.8,2192.2 458.9,2187.2" stroke="#d0101c" stroke-opacity="0.55" stroke-width="0.8" fill="none"/>
<path d="M450.5,2197.3 Q454.1,2194.0 458.5,2194.4" stroke="#d0101c" stroke-opacity="0.55" stroke-width="0.8" fill="none"/>
<path d="M447.2,2195.1 Q454.1,2195.6 459.5,2191.7" stroke="#d0101c" stroke-opacity="0.55" stroke-width="0.8" fill="none"/>
<path d="M452.1,2204.2 Q455.8,2204.2 457.8,2206.7" stroke="#d0101c" stroke-opacity="0.55" stroke-width="0.8" fill="none"/>
<path d="M441.6,2195.6 Q433.2,2191.4 425.4,2186.2" stroke="#d0101c" stroke-opacity="0.55" stroke-width="0.8" fill="none"/>
<path d="M445.4,2187.7 Q451.6,2187.4 450.8,2183.7" stroke="#d0101c" stroke-opacity="0.55" stroke-width="0.8" fill="none"/>
<path d="M446.1,2193.3 Q443.9,2185.1 447.2,2177.5" stroke="#d0101c" stroke-opacity="0.55" stroke-width="0.8" fill="none"/>
<path d="M435.0,2195.0 Q431.0,2193.3 426.9,2192.4" stroke="#d0101c" stroke-opacity="0.55" stroke-width="0.8" fill="none"/>
<path d="M451.4,2205.1 Q447.5,2212.5 452.4,2216.0" stroke="#d0101c" stroke-opacity="0.55" stroke-width="0.8" fill="none"/>
<path d="M452.5,2201.9 Q454.4,2204.3 457.1,2205.5" stroke="#d0101c" stroke-opacity="0.55" stroke-width="0.8" fill="none"/>
<path d="M445.5,2208.2 Q446.4,2210.3 446.5,2212.6" stroke="#d0101c" stroke-opacity="0.55" stroke-width="0.8" fill="none"/>
<path d="M458.3,2196.3 Q453.7,2194.3 449.1,2195.5" stroke="#d0101c" stroke-opacity="0.55" stroke-width="0.8" fill="none"/>
<path d="M469.6,2194.2 Q477.1,2189.2 485.8,2187.6" stroke="#d0101c" stroke-opacity="0.55" stroke-width="0.8" fill="none"/>
<path d="M463.1,2201.7 Q455.6,2207.8 454.3,2216.8" stroke="#d0101c" stroke-opacity="0.55" stroke-width="0.8" fill="none"/>
<path d="M462.5,2193.4 Q453.6,2194.6 446.5,2188.8" stroke="#d0101c" stroke-opacity="0.55" stroke-width="0.8" fill="none"/>
<path d="M469.4,2197.4 Q475.0,2192.5 480.8,2195.1" stroke="#d0101c" stroke-opacity="0.55" stroke-width="0.8" fill="none"/>
<path d="M454.3,2194.5 Q451.9,2184.0 443.5,2184.3" stroke="#d0101c" stroke-opacity="0.55" stroke-width="0.8" fill="none"/>
<path d="M460.7,2196.9 Q452.7,2202.8 443.8,2207.4" stroke="#d0101c" stroke-opacity="0.55" stroke-width="0.8" fill="none"/>
<path d="M458.4,2203.7 Q449.6,2199.1 447.1,2205.3" stroke="#d0101c" stroke-opacity="0.55" stroke-width="0.8" fill="none"/>
<path d="M460.6,2184.3 Q469.5,2182.6 466.3,2179.5" stroke="#d0101c" stroke-opacity="0.55" stroke-width="0.8" fill="none"/>
<path d="M455.4,2192.9 Q451.1,2197.1 446.8,2195.1" stroke="#d0101c" stroke-opacity="0.55" stroke-width="0.8" fill="none"/>
<path d="M463.0,2198.7 Q468.3,2208.2 466.2,2218.7" stroke="#d0101c" stroke-opacity="0.55" stroke-width="0.8" fill="none"/>
<path d="M464.5,2203.5 Q470.1,2206.0 469.4,2210.7" stroke="#d0101c" stroke-opacity="0.55" stroke-width="0.8" fill="none"/>
<path d="M464.0,2199.5 Q460.4,2203.9 460.4,2209.2" stroke="#d0101c" stroke-opacity="0.55" stroke-width="0.8" fill="none"/>
<path d="M461.3,2190.9 Q457.7,2182.7 452.8,2175.1" stroke="#d0101c" stroke-opacity="0.55" stroke-width="0.8" fill="none"/>
<path d="M466.3,2206.6 Q459.8,2208.7 462.1,2211.7" stroke="#d0101c" stroke-opacity="0.55" stroke-width="0.8" fill="none"/>
<path d="M464.9,2193.3 Q467.6,2183.4 471.6,2173.9" stroke="#d0101c" stroke-opacity="0.55" stroke-width="0.8" fill="none"/>
<path d="M452.6,2195.0 Q450.2,2201.1 445.9,2199.7" stroke="#d0101c" stroke-opacity="0.55" stroke-width="0.8" fill="none"/>
<path d="M474.4,2198.5 Q475.9,2204.2 480.4,2204.6" stroke="#d0101c" stroke-opacity="0.55" stroke-width="0.8" fill="none"/>
<path d="M456.6,2186.1 Q464.3,2177.6 458.3,2172.5" stroke="#d0101c" stroke-opacity="0.55" stroke-width="0.8" fill="none"/>
<path d="M453.0,2194.9 Q452.1,2202.9 447.8,2201.1" stroke="#d0101c" stroke-opacity="0.55" stroke-width="0.8" fill="none"/>
<path d="M462.6,2193.4 Q453.3,2187.9 446.0,2179.9" stroke="#d0101c" stroke-opacity="0.55" stroke-width="0.8" fill="none"/>
<path d="M459.7,2197.5 Q453.9,2199.7 448.3,2202.6" stroke="#d0101c" stroke-opacity="0.55" stroke-width="0.8" fill="none"/>
<path d="M464.8,2193.2 Q463.3,2185.3 465.3,2177.5" stroke="#d0101c" stroke-opacity="0.55" stroke-width="0.8" fill="none"/>
<path d="M470.3,2193.6 Q475.4,2200.5 482.5,2198.5" stroke="#d0101c" stroke-opacity="0.55" stroke-width="0.8" fill="none"/>
<path d="M459.7,2199.0 Q459.0,2206.1 453.8,2210.3" stroke="#d0101c" stroke-opacity="0.55" stroke-width="0.8" fill="none"/>
<path d="M462.7,2190.5 Q462.0,2183.3 459.9,2176.4" stroke="#d0101c" stroke-opacity="0.55" stroke-width="0.8" fill="none"/>
<path d="M465.1,2185.9 Q474.5,2185.6 474.1,2179.0" stroke="#d0101c" stroke-opacity="0.55" stroke-width="0.8" fill="none"/>
<path d="M474.8,2191.4 Q479.0,2188.6 483.8,2187.2" stroke="#d0101c" stroke-opacity="0.55" stroke-width="0.8" fill="none"/>
<path d="M457.3,2203.4 Q451.0,2202.1 448.8,2206.4" stroke="#d0101c" stroke-opacity="0.55" stroke-width="0.8" fill="none"/>
<path d="M459.8,2198.9 Q454.6,2198.6 451.1,2201.9" stroke="#d0101c" stroke-opacity="0.55" stroke-width="0.8" fill="none"/>
<path d="M462.4,2201.9 Q454.1,2205.2 452.4,2213.0" stroke="#d0101c" stroke-opacity="0.55" stroke-width="0.8" fill="none"/>
<path d="M472.2,2192.3 Q476.0,2199.4 480.7,2196.6" stroke="#d0101c" stroke-opacity="0.55" stroke-width="0.8" fill="none"/>
<path d="M469.9,2197.3 Q473.3,2206.7 482.1,2210.0" stroke="#d0101c" stroke-opacity="0.55" stroke-width="0.8" fill="none"/>
<path d="M455.2,2189.2 Q450.8,2197.1 448.1,2193.1" stroke="#d0101c" stroke-opacity="0.55" stroke-width="0.8" fill="none"/>
<path d="M460.8,2206.0 Q463.9,2208.2 462.3,2209.9" stroke="#d0101c" stroke-opacity="0.55" stroke-width="0.8" fill="none"/>
<path d="M460.0,2195.0 Q452.9,2202.5 442.7,2202.8" stroke="#d0101c" stroke-opacity="0.55" stroke-width="0.8" fill="none"/>
<path d="M474.4,2201.3 Q477.3,2196.4 478.1,2198.9" stroke="#d0101c" stroke-opacity="0.55" stroke-width="0.8" fill="none"/>
<path d="M455.0,2201.1 Q451.4,2201.6 448.7,2203.7" stroke="#d0101c" stroke-opacity="0.55" stroke-width="0.8" fill="none"/>
<path d="M466.8,2187.5 Q457.7,2181.3 461.0,2173.0" stroke="#d0101c" stroke-opacity="0.55" stroke-width="0.8" fill="none"/>
<path d="M462.0,2194.6 Q453.2,2201.1 442.0,2200.0" stroke="#d0101c" stroke-opacity="0.55" stroke-width="0.8" fill="none"/>
<path d="M552.4,2199.7 Q560.3,2193.8 567.4,2198.4" stroke="#d0101c" stroke-opacity="0.55" stroke-width="0.8" fill="none"/>
<path d="M545.3,2193.9 Q537.0,2194.7 531.2,2189.0" stroke="#d0101c" stroke-opacity="0.55" stroke-width="0.8" fill="none"/>
<path d="M545.7,2186.0 Q540.5,2181.6 540.3,2175.5" stroke="#d0101c" stroke-opacity="0.55" stroke-width="0.8" fill="none"/>
<path d="M547.2,2207.8 Q535.7,2208.6 537.2,2216.1" stroke="#d0101c" stroke-opacity="0.55" stroke-width="0.8" fill="none"/>
<path d="M537.9,2201.7 Q531.4,2197.4 526.9,2201.3" stroke="#d0101c" stroke-opacity="0.55" stroke-width="0.8" fill="none"/>
<path d="M537.4,2195.4 Q533.3,2200.3 528.2,2199.1" stroke="#d0101c" stroke-opacity="0.55" stroke-width="0.8" fill="none"/>
<path d="M544.8,2196.5 Q536.5,2200.8 527.3,2202.5" stroke="#d0101c" stroke-opacity="0.55" stroke-width="0.8" fill="none"/>
<path d="M551.4,2205.2 Q557.0,2207.1 558.5,2212.0" stroke="#d0101c" stroke-opacity="0.55" stroke-width="0.8" fill="none"/>
<path d="M557.3,2190.9 Q560.9,2190.3 563.9,2188.4" stroke="#d0101c" stroke-opacity="0.55" stroke-width="0.8" fill="none"/>
<path d="M552.8,2196.2 Q561.9,2196.5 571.1,2196.5" stroke="#d0101c" stroke-opacity="0.55" stroke-width="0.8" fill="none"/>
<path d="M549.5,2196.1 Q553.4,2190.5 560.1,2189.5" stroke="#d0101c" stroke-opacity="0.55" stroke-width="0.8" fill="none"/>
<path d="M555.7,2200.6 Q557.7,2209.2 564.9,2212.2" stroke="#d0101c" stroke-opacity="0.55" stroke-width="0.8" fill="none"/>
<path d="M542.6,2192.6 Q535.3,2195.4 529.9,2191.0" stroke="#d0101c" stroke-opacity="0.55" stroke-width="0.8" fill="none"/>
<path d="M544.6,2198.1 Q536.6,2203.2 529.0,2208.9" stroke="#d0101c" stroke-opacity="0.55" stroke-width="0.8" fill="none"/>
<path d="M539.6,2203.5 Q533.5,2198.6 531.3,2202.9" stroke="#d0101c" stroke-opacity="0.55" stroke-width="0.8" fill="none"/>
<path d="M545.5,2188.1 Q547.3,2182.0 545.8,2176.1" stroke="#d0101c" stroke-opacity="0.55" stroke-width="0.8" fill="none"/>
<path d="M557.0,2189.3 Q562.9,2198.2 566.7,2193.2" stroke="#d0101c" stroke-opacity="0.55" stroke-width="0.8" fill="none"/>
<path d="M547.6,2207.5 Q544.0,2213.0 544.8,2219.0" stroke="#d0101c" stroke-opacity="0.55" stroke-width="0.8" fill="none"/>
<path d="M555.6,2203.1 Q560.4,2202.2 562.8,2205.2" stroke="#d0101c" stroke-opacity="0.55" stroke-width="0.8" fill="none"/>
<path d="M549.9,2195.3 Q555.8,2188.3 564.4,2184.9" stroke="#d0101c" stroke-opacity="0.55" stroke-width="0.8" fill="none"/>
<path d="M550.0,2193.2 Q553.7,2188.9 557.6,2184.8" stroke="#d0101c" stroke-opacity="0.55" stroke-width="0.8" fill="none"/>
<path d="M538.0,2198.7 Q536.2,2203.7 532.0,2204.0" stroke="#d0101c" stroke-opacity="0.55" stroke-width="0.8" fill="none"/>
<path d="M545.2,2203.4 Q543.0,2207.0 542.0,2211.0" stroke="#d0101c" stroke-opacity="0.55" stroke-width="0.8" fill="none"/>
<path d="M551.0,2188.2 Q552.3,2184.4 554.1,2180.8" stroke="#d0101c" stroke-opacity="0.55" stroke-width="0.8" fill="none"/>
<path d="M552.8,2199.9 Q561.1,2193.3 568.8,2198.2" stroke="#d0101c" stroke-opacity="0.55" stroke-width="0.8" fill="none"/>
<path d="M540.4,2187.3 Q535.8,2187.8 534.6,2184.7" stroke="#d0101c" stroke-opacity="0.55" stroke-width="0.8" fill="none"/>
<path d="M545.7,2193.0 Q544.7,2186.2 541.9,2180.1" stroke="#d0101c" stroke-opacity="0.55" stroke-width="0.8" fill="none"/>
<path d="M543.5,2195.8 Q537.3,2195.2 531.0,2194.5" stroke="#d0101c" stroke-opacity="0.55" stroke-width="0.8" fill="none"/>
<path d="M549.9,2193.2 Q556.1,2187.4 561.8,2181.1" stroke="#d0101c" stroke-opacity="0.55" stroke-width="0.8" fill="none"/>
<path d="M546.1,2202.2 Q553.5,2208.9 552.1,2217.9" stroke="#d0101c" stroke-opacity="0.55" stroke-width="0.8" fill="none"/>
<path d="M540.7,2194.2 Q536.2,2194.4 532.1,2193.0" stroke="#d0101c" stroke-opacity="0.55" stroke-width="0.8" fill="none"/>
<path d="M550.1,2201.5 Q551.2,2205.8 553.4,2209.5" stroke="#d0101c" stroke-opacity="0.55" stroke-width="0.8" fill="none"/>
<path d="M550.8,2186.1 Q546.3,2179.2 549.4,2172.9" stroke="#d0101c" stroke-opacity="0.55" stroke-width="0.8" fill="none"/>
<path d="M548.9,2190.9 Q550.8,2183.3 553.2,2175.8" stroke="#d0101c" stroke-opacity="0.55" stroke-width="0.8" fill="none"/>
<path d="M546.9,2190.2 Q545.8,2181.5 545.4,2172.7" stroke="#d0101c" stroke-opacity="0.55" stroke-width="0.8" fill="none"/>
<path d="M548.4,2192.6 Q545.2,2183.8 547.6,2174.8" stroke="#d0101c" stroke-opacity="0.55" stroke-width="0.8" fill="none"/>
<path d="M542.3,2199.3 Q535.2,2202.0 528.9,2206.1" stroke="#d0101c" stroke-opacity="0.55" stroke-width="0.8" fill="none"/>
<path d="M545.4,2207.4 Q545.6,2209.2 545.2,2210.9" stroke="#d0101c" stroke-opacity="0.55" stroke-width="0.8" fill="none"/>
<path d="M549.3,2198.5 Q547.6,2206.0 552.2,2211.9" stroke="#d0101c" stroke-opacity="0.55" stroke-width="0.8" fill="none"/>
<path d="M556.3,2197.5 Q558.6,2205.3 565.0,2205.3" stroke="#d0101c" stroke-opacity="0.55" stroke-width="0.8" fill="none"/>
<path d="M594.3,2193.6 Q593.2,2183.0 598.7,2173.8" stroke="#d0101c" stroke-opacity="0.55" stroke-width="0.8" fill="none"/>
<path d="M595.6,2199.2 Q600.6,2206.0 606.6,2211.8" stroke="#d0101c" stroke-opacity="0.55" stroke-width="0.8" fill="none"/>
<path d="M590.9,2192.3 Q585.3,2187.1 582.4,2180.1" stroke="#d0101c" stroke-opacity="0.55" stroke-width="0.8" fill="none"/>
<path d="M599.9,2194.4 Q606.1,2191.7 612.6,2190.2" stroke="#d0101c" stroke-opacity="0.55" stroke-width="0.8" fill="none"/>
<path d="M594.6,2198.2 Q596.8,2204.9 601.8,2209.8" stroke="#d0101c" stroke-opacity="0.55" stroke-width="0.8" fill="none"/>
<path d="M594.4,2202.7 Q601.9,2204.0 603.3,2210.1" stroke="#d0101c" stroke-opacity="0.55" stroke-width="0.8" fill="none"/>
<path d="M587.7,2201.2 Q578.4,2201.6 572.4,2208.1" stroke="#d0101c" stroke-opacity="0.55" stroke-width="0.8" fill="none"/>
<path d="M587.9,2198.2 Q583.8,2202.7 578.3,2205.1" stroke="#d0101c" stroke-opacity="0.55" stroke-width="0.8" fill="none"/>
<path d="M580.9,2193.9 Q579.6,2200.2 577.4,2197.9" stroke="#d0101c" stroke-opacity="0.55" stroke-width="0.8" fill="none"/>
<path d="M586.3,2200.8 Q590.6,2207.4 586.0,2209.8" stroke="#d0101c" stroke-opacity="0.55" stroke-width="0.8" fill="none"/>
<path d="M590.4,2195.5 Q582.4,2189.2 572.9,2185.4" stroke="#d0101c" stroke-opacity="0.55" stroke-width="0.8" fill="none"/>
<path d="M580.7,2198.6 Q578.9,2188.6 573.9,2191.6" stroke="#d0101c" stroke-opacity="0.55" stroke-width="0.8" fill="none"/>
<path d="M592.9,2198.9 Q593.9,2206.7 595.4,2214.4" stroke="#d0101c" stroke-opacity="0.55" stroke-width="0.8" fill="none"/>
<path d="M590.7,2193.4 Q583.1,2188.3 578.1,2180.5" stroke="#d0101c" stroke-opacity="0.55" stroke-width="0.8" fill="none"/>
<path d="M601.8,2192.9 Q600.0,2182.2 607.6,2180.6" stroke="#d0101c" stroke-opacity="0.55" stroke-width="0.8" fill="none"/>
<path d="M594.6,2197.0 Q602.2,2192.4 611.0,2194.4" stroke="#d0101c" stroke-opacity="0.55" stroke-width="0.8" fill="none"/>
<path d="M594.0,2198.2 Q601.2,2206.1 607.9,2214.4" stroke="#d0101c" stroke-opacity="0.55" stroke-width="0.8" fill="none"/>
<path d="M592.2,2199.7 Q597.9,2204.9 597.8,2212.4" stroke="#d0101c" stroke-opacity="0.55" stroke-width="0.8" fill="none"/>
<path d="M595.7,2185.4 Q586.1,2180.7 589.5,2174.2" stroke="#d0101c" stroke-opacity="0.55" stroke-width="0.8" fill="none"/>
<path d="M584.1,2189.6 Q586.1,2183.3 581.8,2181.4" stroke="#d0101c" stroke-opacity="0.55" stroke-width="0.8" fill="none"/>
<path d="M599.6,2196.8 Q606.8,2195.7 613.9,2196.4" stroke="#d0101c" stroke-opacity="0.55" stroke-width="0.8" fill="none"/>
<path d="M601.9,2203.1 Q608.7,2201.0 612.7,2205.1" stroke="#d0101c" stroke-opacity="0.55" stroke-width="0.8" fill="none"/>
<path d="M591.9,2192.6 Q594.9,2184.5 594.1,2176.0" stroke="#d0101c" stroke-opacity="0.55" stroke-width="0.8" fill="none"/>
<path d="M587.2,2192.5 Q579.7,2189.5 573.2,2184.8" stroke="#d0101c" stroke-opacity="0.55" stroke-width="0.8" fill="none"/>
<path d="M595.6,2197.7 Q598.5,2203.7 604.3,2206.7" stroke="#d0101c" stroke-opacity="0.55" stroke-width="0.8" fill="none"/>
<path d="M603.1,2200.8 Q607.6,2191.8 612.3,2195.7" stroke="#d0101c" stroke-opacity="0.55" stroke-width="0.8" fill="none"/>
<path d="M603.6,2192.2 Q606.2,2192.7 608.4,2191.5" stroke="#d0101c" stroke-opacity="0.55" stroke-width="0.8" fill="none"/>
<path d="M592.8,2199.5 Q587.9,2204.3 588.3,2210.8" stroke="#d0101c" stroke-opacity="0.55" stroke-width="0.8" fill="none"/>
<path d="M593.1,2200.2 Q597.4,2204.9 598.5,2211.1" stroke="#d0101c" stroke-opacity="0.55" stroke-width="0.8" fill="none"/>
<path d="M596.3,2194.8 Q597.4,2187.4 603.8,2184.8" stroke="#d0101c" stroke-opacity="0.55" stroke-width="0.8" fill="none"/>
<path d="M591.6,2193.3 Q597.7,2184.7 596.2,2174.3" stroke="#d0101c" stroke-opacity="0.55" stroke-width="0.8" fill="none"/>
<path d="M591.3,2202.8 Q590.3,2210.4 589.0,2218.0" stroke="#d0101c" stroke-opacity="0.55" stroke-width="0.8" fill="none"/>
<path d="M587.8,2206.4 Q592.4,2213.8 588.6,2219.9" stroke="#d0101c" stroke-opacity="0.55" stroke-width="0.8" fill="none"/>
<path d="M593.7,2194.2 Q596.5,2184.6 601.7,2175.9" stroke="#d0101c" stroke-opacity="0.55" stroke-width="0.8" fill="none"/>
<path d="M594.7,2196.0 Q601.5,2194.0 608.6,2193.3" stroke="#d0101c" stroke-opacity="0.55" stroke-width="0.8" fill="none"/>
<path d="M582.7,2195.9 Q582.5,2204.2 578.1,2202.5" stroke="#d0101c" stroke-opacity="0.55" stroke-width="0.8" fill="none"/>
<path d="M592.6,2199.2 Q592.8,2209.4 593.3,2219.7" stroke="#d0101c" stroke-opacity="0.55" stroke-width="0.8" fill="none"/>
<path d="M594.0,2201.2 Q596.5,2206.5 598.2,2212.1" stroke="#d0101c" stroke-opacity="0.55" stroke-width="0.8" fill="none"/>
<path d="M588.8,2203.6 Q584.0,2205.2 582.6,2209.4" stroke="#d0101c" stroke-opacity="0.55" stroke-width="0.8" fill="none"/>
<path d="M600.6,2191.3 Q602.8,2189.5 605.3,2188.2" stroke="#d0101c" stroke-opacity="0.55" stroke-width="0.8" fill="none"/>
<path d="M640.8,2161.2 Q637.3,2150.8 640.9,2140.2" stroke="#d0101c" stroke-opacity="0.55" stroke-width="0.8" fill="none"/>
<path d="M641.3,2164.9 Q652.0,2162.5 661.9,2168.0" stroke="#d0101c" stroke-opacity="0.55" stroke-width="0.8" fill="none"/>
<path d="M631.9,2165.1 Q628.6,2155.9 621.6,2157.8" stroke="#d0101c" stroke-opacity="0.55" stroke-width="0.8" fill="none"/>
<path d="M638.0,2162.4 Q629.6,2162.9 622.2,2158.7" stroke="#d0101c" stroke-opacity="0.55" stroke-width="0.8" fill="none"/>
<path d="M643.0,2160.9 Q648.7,2154.9 655.1,2149.6" stroke="#d0101c" stroke-opacity="0.55" stroke-width="0.8" fill="none"/>
<path d="M632.9,2166.4 Q627.7,2165.5 623.4,2167.8" stroke="#d0101c" stroke-opacity="0.55" stroke-width="0.8" fill="none"/>
<path d="M631.5,2157.7 Q623.5,2163.9 618.0,2158.7" stroke="#d0101c" stroke-opacity="0.55" stroke-width="0.8" fill="none"/>
<path d="M641.9,2158.9 Q647.3,2151.3 651.3,2142.9" stroke="#d0101c" stroke-opacity="0.55" stroke-width="0.8" fill="none"/>
<path d="M642.1,2170.4 Q643.9,2176.3 646.0,2182.2" stroke="#d0101c" stroke-opacity="0.55" stroke-width="0.8" fill="none"/>
<path d="M633.8,2168.8 Q626.4,2166.9 621.8,2171.7" stroke="#d0101c" stroke-opacity="0.55" stroke-width="0.8" fill="none"/>
<path d="M636.1,2169.1 Q631.0,2169.5 629.0,2173.4" stroke="#d0101c" stroke-opacity="0.55" stroke-width="0.8" fill="none"/>
<path d="M649.7,2167.4 Q653.1,2170.5 657.3,2171.8" stroke="#d0101c" stroke-opacity="0.55" stroke-width="0.8" fill="none"/>
<path d="M634.0,2168.5 Q636.1,2174.5 632.0,2176.9" stroke="#d0101c" stroke-opacity="0.55" stroke-width="0.8" fill="none"/>
<path d="M634.8,2162.5 Q627.8,2161.1 620.9,2159.6" stroke="#d0101c" stroke-opacity="0.55" stroke-width="0.8" fill="none"/>
<path d="M648.1,2162.5 Q651.1,2165.1 654.3,2164.0" stroke="#d0101c" stroke-opacity="0.55" stroke-width="0.8" fill="none"/>
<path d="M638.1,2167.1 Q630.2,2168.9 626.5,2175.7" stroke="#d0101c" stroke-opacity="0.55" stroke-width="0.8" fill="none"/>
<path d="M641.4,2157.2 Q643.9,2149.6 645.9,2141.8" stroke="#d0101c" stroke-opacity="0.55" stroke-width="0.8" fill="none"/>
<path d="M645.1,2170.9 Q645.1,2178.5 649.7,2184.0" stroke="#d0101c" stroke-opacity="0.55" stroke-width="0.8" fill="none"/>
<path d="M637.9,2170.1 Q641.2,2174.7 639.3,2179.2" stroke="#d0101c" stroke-opacity="0.55" stroke-width="0.8" fill="none"/>
<path d="M650.4,2168.3 Q655.0,2169.8 659.4,2171.9" stroke="#d0101c" stroke-opacity="0.55" stroke-width="0.8" fill="none"/>
<path d="M636.1,2155.4 Q629.6,2154.0 628.0,2148.7" stroke="#d0101c" stroke-opacity="0.55" stroke-width="0.8" fill="none"/>
<path d="M632.3,2163.9 Q628.5,2169.5 622.6,2169.3" stroke="#d0101c" stroke-opacity="0.55" stroke-width="0.8" fill="none"/>
<path d="M632.3,2159.3 Q627.2,2164.5 623.3,2161.1" stroke="#d0101c" stroke-opacity="0.55" stroke-width="0.8" fill="none"/>
<path d="M640.1,2151.8 Q648.4,2149.4 647.1,2143.5" stroke="#d0101c" stroke-opacity="0.55" stroke-width="0.8" fill="none"/>
<path d="M638.8,2157.8 Q636.9,2151.0 635.8,2144.0" stroke="#d0101c" stroke-opacity="0.55" stroke-width="0.8" fill="none"/>
<path d="M642.8,2163.2 Q649.7,2154.5 660.5,2151.8" stroke="#d0101c" stroke-opacity="0.55" stroke-width="0.8" fill="none"/>
<path d="M637.1,2170.8 Q627.0,2172.6 624.1,2181.1" stroke="#d0101c" stroke-opacity="0.55" stroke-width="0.8" fill="none"/>
<path d="M640.3,2155.2 Q636.1,2149.0 637.0,2142.1" stroke="#d0101c" stroke-opacity="0.55" stroke-width="0.8" fill="none"/>
<path d="M647.3,2165.8 Q651.6,2166.2 655.7,2167.5" stroke="#d0101c" stroke-opacity="0.55" stroke-width="0.8" fill="none"/>
<path d="M641.0,2151.9 Q649.4,2153.9 647.7,2150.2" stroke="#d0101c" stroke-opacity="0.55" stroke-width="0.8" fill="none"/>
<path d="M640.5,2170.7 Q637.1,2178.0 638.1,2185.6" stroke="#d0101c" stroke-opacity="0.55" stroke-width="0.8" fill="none"/>
<path d="M631.7,2171.1 Q626.6,2166.7 625.1,2170.2" stroke="#d0101c" stroke-opacity="0.55" stroke-width="0.8" fill="none"/>
<path d="M650.1,2162.7 Q652.2,2160.2 654.9,2160.6" stroke="#d0101c" stroke-opacity="0.55" stroke-width="0.8" fill="none"/>
<path d="M644.1,2166.8 Q651.5,2164.5 657.2,2168.6" stroke="#d0101c" stroke-opacity="0.55" stroke-width="0.8" fill="none"/>
<path d="M629.7,2166.1 Q626.5,2171.9 620.9,2172.5" stroke="#d0101c" stroke-opacity="0.55" stroke-width="0.8" fill="none"/>
<path d="M642.0,2165.7 Q651.5,2168.1 659.1,2174.5" stroke="#d0101c" stroke-opacity="0.55" stroke-width="0.8" fill="none"/>
<path d="M636.0,2162.2 Q627.8,2167.4 618.6,2164.8" stroke="#d0101c" stroke-opacity="0.55" stroke-width="0.8" fill="none"/>
<path d="M633.4,2164.7 Q629.4,2171.3 622.4,2172.2" stroke="#d0101c" stroke-opacity="0.55" stroke-width="0.8" fill="none"/>
<path d="M635.0,2153.0 Q627.2,2157.2 627.4,2152.7" stroke="#d0101c" stroke-opacity="0.55" stroke-width="0.8" fill="none"/>
<path d="M638.8,2168.9 Q647.3,2175.4 646.2,2185.3" stroke="#d0101c" stroke-opacity="0.55" stroke-width="0.8" fill="none"/>
<path d="M676.3,2218.2 Q682.1,2213.7 688.1,2215.9" stroke="#d0101c" stroke-opacity="0.55" stroke-width="0.8" fill="none"/>
<path d="M666.9,2210.7 Q658.0,2206.5 654.2,2197.9" stroke="#d0101c" stroke-opacity="0.55" stroke-width="0.8" fill="none"/>
<path d="M666.0,2215.7 Q663.3,2209.0 656.6,2207.4" stroke="#d0101c" stroke-opacity="0.55" stroke-width="0.8" fill="none"/>
<path d="M676.3,2210.0 Q682.2,2210.1 685.6,2206.2" stroke="#d0101c" stroke-opacity="0.55" stroke-width="0.8" fill="none"/>
<path d="M669.8,2220.0 Q674.3,2225.0 675.4,2231.5" stroke="#d0101c" stroke-opacity="0.55" stroke-width="0.8" fill="none"/>
<path d="M663.6,2220.4 Q661.6,2225.5 657.3,2228.3" stroke="#d0101c" stroke-opacity="0.55" stroke-width="0.8" fill="none"/>
<path d="M672.3,2206.7 Q674.6,2203.9 675.4,2200.6" stroke="#d0101c" stroke-opacity="0.55" stroke-width="0.8" fill="none"/>
<path d="M675.7,2221.4 Q683.3,2218.5 688.3,2223.2" stroke="#d0101c" stroke-opacity="0.55" stroke-width="0.8" fill="none"/>
<path d="M673.7,2209.4 Q672.5,2200.7 677.3,2194.0" stroke="#d0101c" stroke-opacity="0.55" stroke-width="0.8" fill="none"/>
<path d="M674.8,2224.2 Q682.8,2224.1 685.9,2229.9" stroke="#d0101c" stroke-opacity="0.55" stroke-width="0.8" fill="none"/>
<path d="M665.7,2217.5 Q658.8,2211.7 650.5,2214.0" stroke="#d0101c" stroke-opacity="0.55" stroke-width="0.8" fill="none"/>
<path d="M668.7,2221.8 Q658.4,2225.4 656.9,2235.3" stroke="#d0101c" stroke-opacity="0.55" stroke-width="0.8" fill="none"/>
<path d="M661.7,2215.5 Q657.0,2210.8 650.8,2210.6" stroke="#d0101c" stroke-opacity="0.55" stroke-width="0.8" fill="none"/>
<path d="M678.7,2210.3 Q681.8,2207.1 685.6,2205.0" stroke="#d0101c" stroke-opacity="0.55" stroke-width="0.8" fill="none"/>
<path d="M674.5,2209.2 Q669.4,2199.9 675.1,2193.0" stroke="#d0101c" stroke-opacity="0.55" stroke-width="0.8" fill="none"/>
<path d="M668.4,2206.2 Q658.6,2207.2 659.5,2201.3" stroke="#d0101c" stroke-opacity="0.55" stroke-width="0.8" fill="none"/>
<path d="M663.1,2226.2 Q664.5,2232.2 661.1,2236.3" stroke="#d0101c" stroke-opacity="0.55" stroke-width="0.8" fill="none"/>
<path d="M670.9,2213.9 Q677.2,2207.0 682.7,2199.5" stroke="#d0101c" stroke-opacity="0.55" stroke-width="0.8" fill="none"/>
<path d="M674.1,2215.8 Q679.9,2212.6 686.4,2212.0" stroke="#d0101c" stroke-opacity="0.55" stroke-width="0.8" fill="none"/>
<path d="M663.1,2218.7 Q659.0,2221.4 654.5,2223.1" stroke="#d0101c" stroke-opacity="0.55" stroke-width="0.8" fill="none"/>
<path d="M677.0,2218.9 Q684.5,2217.0 691.3,2219.8" stroke="#d0101c" stroke-opacity="0.55" stroke-width="0.8" fill="none"/>
<path d="M658.1,2219.8 Q652.1,2216.4 646.9,2219.0" stroke="#d0101c" stroke-opacity="0.55" stroke-width="0.8" fill="none"/>
<path d="M658.9,2210.7 Q657.3,2206.6 653.6,2205.4" stroke="#d0101c" stroke-opacity="0.55" stroke-width="0.8" fill="none"/>
<path d="M673.4,2212.5 Q679.9,2210.7 684.8,2206.2" stroke="#d0101c" stroke-opacity="0.55" stroke-width="0.8" fill="none"/>
<path d="M667.2,2207.4 Q661.7,2204.8 661.3,2199.7" stroke="#d0101c" stroke-opacity="0.55" stroke-width="0.8" fill="none"/>
<path d="M670.3,2207.1 Q665.4,2202.4 666.8,2197.0" stroke="#d0101c" stroke-opacity="0.55" stroke-width="0.8" fill="none"/>
<path d="M675.7,2219.3 Q676.9,2229.2 685.1,2233.0" stroke="#d0101c" stroke-opacity="0.55" stroke-width="0.8" fill="none"/>
<path d="M669.0,2210.0 Q677.2,2204.1 677.1,2194.9" stroke="#d0101c" stroke-opacity="0.55" stroke-width="0.8" fill="none"/>
<path d="M666.6,2223.1 Q670.9,2228.7 668.3,2234.1" stroke="#d0101c" stroke-opacity="0.55" stroke-width="0.8" fill="none"/>
<path d="M665.0,2216.5 Q658.6,2207.3 647.7,2206.8" stroke="#d0101c" stroke-opacity="0.55" stroke-width="0.8" fill="none"/>
<path d="M669.0,2219.9 Q662.6,2223.7 661.9,2230.8" stroke="#d0101c" stroke-opacity="0.55" stroke-width="0.8" fill="none"/>
<path d="M664.3,2225.2 Q665.0,2232.8 661.1,2238.8" stroke="#d0101c" stroke-opacity="0.55" stroke-width="0.8" fill="none"/>
<path d="M670.9,2213.7 Q676.0,2210.4 679.4,2205.5" stroke="#d0101c" stroke-opacity="0.55" stroke-width="0.8" fill="none"/>
<path d="M667.6,2220.2 Q660.4,2224.0 657.2,2231.3" stroke="#d0101c" stroke-opacity="0.55" stroke-width="0.8" fill="none"/>
<path d="M662.2,2218.9 Q661.5,2228.6 653.6,2231.3" stroke="#d0101c" stroke-opacity="0.55" stroke-width="0.8" fill="none"/>
<path d="M666.8,2216.1 Q661.2,2221.1 653.7,2221.4" stroke="#d0101c" stroke-opacity="0.55" stroke-width="0.8" fill="none"/>
<path d="M674.0,2226.3 Q675.0,2227.7 675.7,2229.3" stroke="#d0101c" stroke-opacity="0.55" stroke-width="0.8" fill="none"/>
<path d="M671.1,2217.2 Q680.5,2222.1 689.9,2226.9" stroke="#d0101c" stroke-opacity="0.55" stroke-width="0.8" fill="none"/>
<path d="M674.4,2209.7 Q681.8,2209.9 685.4,2204.6" stroke="#d0101c" stroke-opacity="0.55" stroke-width="0.8" fill="none"/>
<path d="M673.3,2216.3 Q677.7,2225.3 687.3,2226.7" stroke="#d0101c" stroke-opacity="0.55" stroke-width="0.8" fill="none"/>
<path d="M410.5,2252.3 Q411.7,2259.7 414.4,2266.8" stroke="#d0101c" stroke-opacity="0.55" stroke-width="0.8" fill="none"/>
<path d="M408.1,2244.2 Q410.0,2237.2 409.5,2230.0" stroke="#d0101c" stroke-opacity="0.55" stroke-width="0.8" fill="none"/>
<path d="M408.0,2238.1 Q414.9,2232.8 414.0,2225.3" stroke="#d0101c" stroke-opacity="0.55" stroke-width="0.8" fill="none"/>
<path d="M413.4,2246.7 Q416.7,2241.0 422.5,2241.2" stroke="#d0101c" stroke-opacity="0.55" stroke-width="0.8" fill="none"/>
<path d="M407.5,2240.9 Q397.0,2237.9 395.0,2228.2" stroke="#d0101c" stroke-opacity="0.55" stroke-width="0.8" fill="none"/>
<path d="M397.1,2250.0 Q393.6,2246.6 390.6,2248.5" stroke="#d0101c" stroke-opacity="0.55" stroke-width="0.8" fill="none"/>
<path d="M415.2,2239.3 Q416.9,2235.8 419.6,2233.2" stroke="#d0101c" stroke-opacity="0.55" stroke-width="0.8" fill="none"/>
<path d="M409.4,2239.5 Q418.1,2238.2 418.6,2231.3" stroke="#d0101c" stroke-opacity="0.55" stroke-width="0.8" fill="none"/>
<path d="M408.1,2255.7 Q405.3,2259.7 405.5,2264.3" stroke="#d0101c" stroke-opacity="0.55" stroke-width="0.8" fill="none"/>
<path d="M408.8,2235.8 Q409.1,2230.2 409.3,2224.6" stroke="#d0101c" stroke-opacity="0.55" stroke-width="0.8" fill="none"/>
<path d="M400.6,2242.4 Q402.6,2232.6 395.4,2229.4" stroke="#d0101c" stroke-opacity="0.55" stroke-width="0.8" fill="none"/>
<path d="M410.6,2246.9 Q420.6,2250.9 431.3,2252.4" stroke="#d0101c" stroke-opacity="0.55" stroke-width="0.8" fill="none"/>
<path d="M412.5,2249.5 Q418.3,2249.8 422.8,2253.0" stroke="#d0101c" stroke-opacity="0.55" stroke-width="0.8" fill="none"/>
<path d="M414.3,2253.9 Q417.0,2255.8 419.0,2258.5" stroke="#d0101c" stroke-opacity="0.55" stroke-width="0.8" fill="none"/>
<path d="M414.0,2248.8 Q418.8,2251.4 424.0,2253.2" stroke="#d0101c" stroke-opacity="0.55" stroke-width="0.8" fill="none"/>
<path d="M408.0,2250.8 Q400.5,2254.3 399.3,2262.0" stroke="#d0101c" stroke-opacity="0.55" stroke-width="0.8" fill="none"/>
<path d="M412.0,2246.5 Q417.4,2238.0 427.3,2236.4" stroke="#d0101c" stroke-opacity="0.55" stroke-width="0.8" fill="none"/>
<path d="M404.6,2255.7 Q398.2,2258.5 396.5,2264.4" stroke="#d0101c" stroke-opacity="0.55" stroke-width="0.8" fill="none"/>
<path d="M402.0,2247.0 Q398.0,2244.5 393.6,2245.0" stroke="#d0101c" stroke-opacity="0.55" stroke-width="0.8" fill="none"/>
<path d="M404.8,2242.3 Q398.9,2241.6 395.7,2237.2" stroke="#d0101c" stroke-opacity="0.55" stroke-width="0.8" fill="none"/>
<path d="M409.4,2244.0 Q416.5,2238.5 420.0,2230.2" stroke="#d0101c" stroke-opacity="0.55" stroke-width="0.8" fill="none"/>
<path d="M408.4,2241.0 Q402.4,2234.8 402.4,2226.6" stroke="#d0101c" stroke-opacity="0.55" stroke-width="0.8" fill="none"/>
<path d="M407.3,2255.0 Q406.5,2258.5 406.1,2262.0" stroke="#d0101c" stroke-opacity="0.55" stroke-width="0.8" fill="none"/>
<path d="M407.5,2244.5 Q409.2,2238.1 407.0,2231.9" stroke="#d0101c" stroke-opacity="0.55" stroke-width="0.8" fill="none"/>
<path d="M411.7,2235.5 Q418.5,2237.6 417.5,2234.2" stroke="#d0101c" stroke-opacity="0.55" stroke-width="0.8" fill="none"/>
<path d="M401.5,2243.6 Q396.8,2244.3 392.9,2242.2" stroke="#d0101c" stroke-opacity="0.55" stroke-width="0.8" fill="none"/>
<path d="M409.2,2248.7 Q418.4,2252.8 423.3,2261.7" stroke="#d0101c" stroke-opacity="0.55" stroke-width="0.8" fill="none"/>
<path d="M416.8,2251.8 Q424.4,2245.3 430.5,2250.1" stroke="#d0101c" stroke-opacity="0.55" stroke-width="0.8" fill="none"/>
<path d="M405.1,2247.9 Q398.7,2251.1 392.1,2253.6" stroke="#d0101c" stroke-opacity="0.55" stroke-width="0.8" fill="none"/>
<path d="M407.3,2252.0 Q402.0,2257.0 400.6,2263.8" stroke="#d0101c" stroke-opacity="0.55" stroke-width="0.8" fill="none"/>
<path d="M409.5,2250.2 Q415.1,2255.8 417.6,2263.1" stroke="#d0101c" stroke-opacity="0.55" stroke-width="0.8" fill="none"/>
<path d="M408.7,2250.2 Q403.4,2258.6 403.7,2268.4" stroke="#d0101c" stroke-opacity="0.55" stroke-width="0.8" fill="none"/>
<path d="M414.7,2252.4 Q422.0,2247.2 426.2,2252.2" stroke="#d0101c" stroke-opacity="0.55" stroke-width="0.8" fill="none"/>
<path d="M419.1,2252.2 Q420.4,2253.3 422.0,2254.0" stroke="#d0101c" stroke-opacity="0.55" stroke-width="0.8" fill="none"/>
<path d="M405.6,2237.6 Q395.7,2238.1 394.4,2230.8" stroke="#d0101c" stroke-opacity="0.55" stroke-width="0.8" fill="none"/>
<path d="M406.1,2248.8 Q396.7,2250.1 389.3,2256.1" stroke="#d0101c" stroke-opacity="0.55" stroke-width="0.8" fill="none"/>
<path d="M409.3,2254.5 Q412.3,2258.4 412.4,2263.0" stroke="#d0101c" stroke-opacity="0.55" stroke-width="0.8" fill="none"/>
<path d="M410.4,2251.6 Q418.1,2250.8 420.6,2256.8" stroke="#d0101c" stroke-opacity="0.55" stroke-width="0.8" fill="none"/>
<path d="M400.3,2253.0 Q394.2,2252.6 390.4,2256.4" stroke="#d0101c" stroke-opacity="0.55" stroke-width="0.8" fill="none"/>
<path d="M404.8,2247.5 Q401.7,2254.5 394.7,2256.5" stroke="#d0101c" stroke-opacity="0.55" stroke-width="0.8" fill="none"/>
<path d="M485.0,2246.6 Q475.7,2250.0 467.5,2244.9" stroke="#d0101c" stroke-opacity="0.55" stroke-width="0.8" fill="none"/>
<path d="M487.3,2244.4 Q485.8,2238.8 485.0,2233.1" stroke="#d0101c" stroke-opacity="0.55" stroke-width="0.8" fill="none"/>
<path d="M489.7,2258.5 Q491.7,2263.6 492.5,2269.0" stroke="#d0101c" stroke-opacity="0.55" stroke-width="0.8" fill="none"/>
<path d="M478.5,2246.8 Q472.8,2247.3 467.4,2245.9" stroke="#d0101c" stroke-opacity="0.55" stroke-width="0.8" fill="none"/>
<path d="M481.9,2246.6 Q479.0,2238.8 471.7,2236.3" stroke="#d0101c" stroke-opacity="0.55" stroke-width="0.8" fill="none"/>
<path d="M489.4,2237.4 Q480.9,2237.7 483.5,2234.8" stroke="#d0101c" stroke-opacity="0.55" stroke-width="0.8" fill="none"/>
<path d="M496.6,2256.3 Q499.1,2258.4 501.5,2260.5" stroke="#d0101c" stroke-opacity="0.55" stroke-width="0.8" fill="none"/>
<path d="M481.6,2250.9 Q474.2,2250.4 467.4,2252.8" stroke="#d0101c" stroke-opacity="0.55" stroke-width="0.8" fill="none"/>
<path d="M489.7,2255.4 Q492.7,2262.7 494.7,2270.3" stroke="#d0101c" stroke-opacity="0.55" stroke-width="0.8" fill="none"/>
<path d="M483.2,2250.0 Q477.3,2253.6 470.8,2255.3" stroke="#d0101c" stroke-opacity="0.55" stroke-width="0.8" fill="none"/>
<path d="M491.0,2256.2 Q496.2,2256.9 497.0,2260.8" stroke="#d0101c" stroke-opacity="0.55" stroke-width="0.8" fill="none"/>
<path d="M497.9,2249.8 Q502.1,2247.5 506.4,2248.5" stroke="#d0101c" stroke-opacity="0.55" stroke-width="0.8" fill="none"/>
<path d="M494.3,2241.7 Q498.5,2241.1 500.6,2237.9" stroke="#d0101c" stroke-opacity="0.55" stroke-width="0.8" fill="none"/>
<path d="M487.0,2254.4 Q486.1,2259.1 485.4,2263.9" stroke="#d0101c" stroke-opacity="0.55" stroke-width="0.8" fill="none"/>
<path d="M485.0,2245.3 Q478.0,2243.6 473.5,2238.3" stroke="#d0101c" stroke-opacity="0.55" stroke-width="0.8" fill="none"/>
<path d="M483.3,2238.5 Q487.9,2231.9 484.3,2226.5" stroke="#d0101c" stroke-opacity="0.55" stroke-width="0.8" fill="none"/>
<path d="M489.8,2243.1 Q497.3,2241.9 499.2,2235.6" stroke="#d0101c" stroke-opacity="0.55" stroke-width="0.8" fill="none"/>
<path d="M497.0,2247.5 Q496.6,2239.1 502.0,2239.6" stroke="#d0101c" stroke-opacity="0.55" stroke-width="0.8" fill="none"/>
<path d="M486.1,2246.7 Q476.0,2244.3 468.7,2237.0" stroke="#d0101c" stroke-opacity="0.55" stroke-width="0.8" fill="none"/>
<path d="M487.3,2251.8 Q492.0,2260.6 491.0,2270.5" stroke="#d0101c" stroke-opacity="0.55" stroke-width="0.8" fill="none"/>
<path d="M490.6,2253.7 Q497.7,2252.7 500.4,2258.1" stroke="#d0101c" stroke-opacity="0.55" stroke-width="0.8" fill="none"/>
<path d="M493.2,2245.7 Q493.7,2238.9 499.0,2236.2" stroke="#d0101c" stroke-opacity="0.55" stroke-width="0.8" fill="none"/>
<path d="M487.7,2246.5 Q486.0,2238.2 485.2,2229.7" stroke="#d0101c" stroke-opacity="0.55" stroke-width="0.8" fill="none"/>
<path d="M482.5,2247.5 Q475.1,2255.3 465.2,2253.5" stroke="#d0101c" stroke-opacity="0.55" stroke-width="0.8" fill="none"/>
<path d="M488.1,2245.3 Q482.8,2241.1 482.8,2234.8" stroke="#d0101c" stroke-opacity="0.55" stroke-width="0.8" fill="none"/>
<path d="M486.9,2255.6 Q492.3,2259.7 490.9,2265.2" stroke="#d0101c" stroke-opacity="0.55" stroke-width="0.8" fill="none"/>
<path d="M494.7,2256.3 Q502.5,2256.6 506.7,2262.2" stroke="#d0101c" stroke-opacity="0.55" stroke-width="0.8" fill="none"/>
<path d="M488.5,2240.2 Q498.4,2237.3 498.5,2228.9" stroke="#d0101c" stroke-opacity="0.55" stroke-width="0.8" fill="none"/>
<path d="M484.0,2246.8 Q478.0,2243.3 471.8,2240.2" stroke="#d0101c" stroke-opacity="0.55" stroke-width="0.8" fill="none"/>
<path d="M492.4,2250.8 Q495.2,2255.9 500.3,2258.0" stroke="#d0101c" stroke-opacity="0.55" stroke-width="0.8" fill="none"/>
<path d="M488.2,2252.3 Q486.9,2259.1 487.4,2265.9" stroke="#d0101c" stroke-opacity="0.55" stroke-width="0.8" fill="none"/>
<path d="M486.1,2243.4 Q477.5,2243.0 475.2,2236.0" stroke="#d0101c" stroke-opacity="0.55" stroke-width="0.8" fill="none"/>
<path d="M479.7,2250.2 Q473.9,2248.1 468.2,2249.4" stroke="#d0101c" stroke-opacity="0.55" stroke-width="0.8" fill="none"/>
<path d="M478.1,2245.7 Q472.2,2243.8 466.3,2241.9" stroke="#d0101c" stroke-opacity="0.55" stroke-width="0.8" fill="none"/>
<path d="M490.1,2245.9 Q497.4,2246.1 501.9,2240.8" stroke="#d0101c" stroke-opacity="0.55" stroke-width="0.8" fill="none"/>
<path d="M485.3,2253.9 Q481.9,2257.6 479.7,2262.0" stroke="#d0101c" stroke-opacity="0.55" stroke-width="0.8" fill="none"/>
<path d="M487.4,2246.1 Q480.1,2242.6 477.8,2234.9" stroke="#d0101c" stroke-opacity="0.55" stroke-width="0.8" fill="none"/>
<path d="M484.1,2250.8 Q475.9,2251.0 468.7,2254.5" stroke="#d0101c" stroke-opacity="0.55" stroke-width="0.8" fill="none"/>
<path d="M481.7,2252.0 Q472.9,2251.8 465.2,2255.8" stroke="#d0101c" stroke-opacity="0.55" stroke-width="0.8" fill="none"/>
<path d="M495.7,2254.6 Q492.3,2262.4 497.7,2264.9" stroke="#d0101c" stroke-opacity="0.55" stroke-width="0.8" fill="none"/>
<path d="M612.4,2278.3 Q611.3,2288.0 617.0,2295.1" stroke="#d0101c" stroke-opacity="0.55" stroke-width="0.8" fill="none"/>
<path d="M614.0,2263.5 Q620.5,2261.4 623.1,2255.9" stroke="#d0101c" stroke-opacity="0.55" stroke-width="0.8" fill="none"/>
<path d="M617.0,2276.3 Q621.8,2268.6 627.3,2271.9" stroke="#d0101c" stroke-opacity="0.55" stroke-width="0.8" fill="none"/>
<path d="M615.6,2281.5 Q620.0,2278.2 620.3,2280.9" stroke="#d0101c" stroke-opacity="0.55" stroke-width="0.8" fill="none"/>
<path d="M612.2,2262.1 Q620.9,2266.7 620.5,2261.7" stroke="#d0101c" stroke-opacity="0.55" stroke-width="0.8" fill="none"/>
<path d="M603.2,2268.8 Q597.8,2265.5 593.0,2261.4" stroke="#d0101c" stroke-opacity="0.55" stroke-width="0.8" fill="none"/>
<path d="M605.2,2271.8 Q595.8,2270.0 586.9,2266.5" stroke="#d0101c" stroke-opacity="0.55" stroke-width="0.8" fill="none"/>
<path d="M605.7,2275.9 Q600.6,2279.6 596.5,2284.3" stroke="#d0101c" stroke-opacity="0.55" stroke-width="0.8" fill="none"/>
<path d="M611.5,2271.1 Q620.8,2273.9 629.5,2269.7" stroke="#d0101c" stroke-opacity="0.55" stroke-width="0.8" fill="none"/>
<path d="M597.9,2269.7 Q593.6,2264.4 587.5,2263.0" stroke="#d0101c" stroke-opacity="0.55" stroke-width="0.8" fill="none"/>
<path d="M609.2,2266.6 Q608.6,2262.0 609.5,2257.5" stroke="#d0101c" stroke-opacity="0.55" stroke-width="0.8" fill="none"/>
<path d="M603.9,2274.1 Q598.5,2276.8 592.6,2278.2" stroke="#d0101c" stroke-opacity="0.55" stroke-width="0.8" fill="none"/>
<path d="M619.8,2270.2 Q621.5,2277.3 624.1,2274.7" stroke="#d0101c" stroke-opacity="0.55" stroke-width="0.8" fill="none"/>
<path d="M606.5,2278.8 Q600.5,2285.3 598.2,2293.6" stroke="#d0101c" stroke-opacity="0.55" stroke-width="0.8" fill="none"/>
<path d="M610.3,2270.8 Q611.5,2262.5 616.9,2256.1" stroke="#d0101c" stroke-opacity="0.55" stroke-width="0.8" fill="none"/>
<path d="M608.0,2270.7 Q610.9,2262.9 610.8,2254.6" stroke="#d0101c" stroke-opacity="0.55" stroke-width="0.8" fill="none"/>
<path d="M603.8,2266.6 Q593.9,2266.0 589.1,2258.5" stroke="#d0101c" stroke-opacity="0.55" stroke-width="0.8" fill="none"/>
<path d="M604.5,2271.9 Q599.1,2267.9 592.7,2265.9" stroke="#d0101c" stroke-opacity="0.55" stroke-width="0.8" fill="none"/>
<path d="M602.9,2269.6 Q598.9,2267.6 595.1,2265.1" stroke="#d0101c" stroke-opacity="0.55" stroke-width="0.8" fill="none"/>
<path d="M600.2,2270.1 Q593.8,2273.1 588.0,2270.4" stroke="#d0101c" stroke-opacity="0.55" stroke-width="0.8" fill="none"/>
<path d="M600.6,2268.8 Q601.8,2261.7 596.8,2260.1" stroke="#d0101c" stroke-opacity="0.55" stroke-width="0.8" fill="none"/>
<path d="M615.1,2282.7 Q605.1,2290.5 611.1,2296.4" stroke="#d0101c" stroke-opacity="0.55" stroke-width="0.8" fill="none"/>
<path d="M614.3,2273.4 Q617.9,2277.4 622.8,2277.4" stroke="#d0101c" stroke-opacity="0.55" stroke-width="0.8" fill="none"/>
<path d="M600.2,2268.3 Q593.4,2276.8 586.9,2272.1" stroke="#d0101c" stroke-opacity="0.55" stroke-width="0.8" fill="none"/>
<path d="M615.1,2263.8 Q612.6,2257.7 616.5,2254.5" stroke="#d0101c" stroke-opacity="0.55" stroke-width="0.8" fill="none"/>
<path d="M615.2,2270.7 Q623.3,2271.0 630.8,2268.4" stroke="#d0101c" stroke-opacity="0.55" stroke-width="0.8" fill="none"/>
<path d="M615.5,2272.2 Q615.8,2263.7 622.1,2263.6" stroke="#d0101c" stroke-opacity="0.55" stroke-width="0.8" fill="none"/>
<path d="M611.6,2275.9 Q610.4,2283.7 615.8,2288.5" stroke="#d0101c" stroke-opacity="0.55" stroke-width="0.8" fill="none"/>
<path d="M611.4,2276.6 Q616.8,2281.9 621.8,2287.5" stroke="#d0101c" stroke-opacity="0.55" stroke-width="0.8" fill="none"/>
<path d="M606.0,2273.7 Q601.1,2278.5 594.8,2281.0" stroke="#d0101c" stroke-opacity="0.55" stroke-width="0.8" fill="none"/>
<path d="M613.5,2266.5 Q610.3,2258.0 615.6,2252.4" stroke="#d0101c" stroke-opacity="0.55" stroke-width="0.8" fill="none"/>
<path d="M618.3,2271.0 Q620.6,2280.4 626.1,2277.9" stroke="#d0101c" stroke-opacity="0.55" stroke-width="0.8" fill="none"/>
<path d="M603.0,2273.8 Q598.0,2281.6 589.4,2283.1" stroke="#d0101c" stroke-opacity="0.55" stroke-width="0.8" fill="none"/>
<path d="M607.0,2269.4 Q607.0,2259.5 604.2,2250.1" stroke="#d0101c" stroke-opacity="0.55" stroke-width="0.8" fill="none"/>
<path d="M615.6,2265.0 Q620.4,2262.9 623.6,2258.9" stroke="#d0101c" stroke-opacity="0.55" stroke-width="0.8" fill="none"/>
<path d="M609.7,2282.5 Q611.9,2288.5 612.7,2294.7" stroke="#d0101c" stroke-opacity="0.55" stroke-width="0.8" fill="none"/>
<path d="M613.0,2273.8 Q619.6,2278.0 627.3,2279.3" stroke="#d0101c" stroke-opacity="0.55" stroke-width="0.8" fill="none"/>
<path d="M609.5,2271.3 Q611.6,2262.1 616.9,2254.2" stroke="#d0101c" stroke-opacity="0.55" stroke-width="0.8" fill="none"/>
<path d="M605.8,2282.1 Q605.6,2286.7 604.3,2291.0" stroke="#d0101c" stroke-opacity="0.55" stroke-width="0.8" fill="none"/>
<path d="M602.6,2264.2 Q595.5,2261.6 592.3,2255.5" stroke="#d0101c" stroke-opacity="0.55" stroke-width="0.8" fill="none"/>
<path d="M529.2,2307.4 Q522.3,2307.2 515.5,2308.5" stroke="#d0101c" stroke-opacity="0.55" stroke-width="0.8" fill="none"/>
<path d="M527.4,2307.8 Q520.4,2302.2 512.1,2303.8" stroke="#d0101c" stroke-opacity="0.55" stroke-width="0.8" fill="none"/>
<path d="M530.3,2312.3 Q521.0,2312.7 518.0,2320.2" stroke="#d0101c" stroke-opacity="0.55" stroke-width="0.8" fill="none"/>
<path d="M529.6,2304.1 Q522.0,2302.8 516.3,2297.9" stroke="#d0101c" stroke-opacity="0.55" stroke-width="0.8" fill="none"/>
<path d="M526.7,2311.5 Q525.6,2317.7 521.0,2320.9" stroke="#d0101c" stroke-opacity="0.55" stroke-width="0.8" fill="none"/>
<path d="M534.1,2310.6 Q542.3,2313.1 545.8,2320.6" stroke="#d0101c" stroke-opacity="0.55" stroke-width="0.8" fill="none"/>
<path d="M534.3,2317.2 Q527.2,2319.0 529.4,2322.5" stroke="#d0101c" stroke-opacity="0.55" stroke-width="0.8" fill="none"/>
<path d="M527.7,2304.9 Q521.2,2309.2 514.5,2306.7" stroke="#d0101c" stroke-opacity="0.55" stroke-width="0.8" fill="none"/>
<path d="M533.5,2302.1 Q540.7,2297.9 542.6,2290.2" stroke="#d0101c" stroke-opacity="0.55" stroke-width="0.8" fill="none"/>
<path d="M527.6,2303.6 Q526.9,2294.5 519.9,2290.0" stroke="#d0101c" stroke-opacity="0.55" stroke-width="0.8" fill="none"/>
<path d="M526.0,2306.3 Q521.0,2313.1 513.5,2312.5" stroke="#d0101c" stroke-opacity="0.55" stroke-width="0.8" fill="none"/>
<path d="M534.1,2299.0 Q528.4,2295.5 530.2,2291.0" stroke="#d0101c" stroke-opacity="0.55" stroke-width="0.8" fill="none"/>
<path d="M536.3,2296.0 Q526.2,2293.3 529.9,2288.7" stroke="#d0101c" stroke-opacity="0.55" stroke-width="0.8" fill="none"/>
<path d="M534.9,2306.2 Q545.4,2304.4 555.9,2302.4" stroke="#d0101c" stroke-opacity="0.55" stroke-width="0.8" fill="none"/>
<path d="M535.6,2304.1 Q542.1,2299.9 548.0,2294.9" stroke="#d0101c" stroke-opacity="0.55" stroke-width="0.8" fill="none"/>
<path d="M541.0,2298.4 Q545.1,2301.1 545.8,2298.5" stroke="#d0101c" stroke-opacity="0.55" stroke-width="0.8" fill="none"/>
<path d="M541.8,2312.7 Q547.7,2315.2 552.9,2318.8" stroke="#d0101c" stroke-opacity="0.55" stroke-width="0.8" fill="none"/>
<path d="M526.9,2306.9 Q520.6,2311.1 513.3,2311.3" stroke="#d0101c" stroke-opacity="0.55" stroke-width="0.8" fill="none"/>
<path d="M531.2,2309.8 Q536.4,2318.5 533.5,2328.2" stroke="#d0101c" stroke-opacity="0.55" stroke-width="0.8" fill="none"/>
<path d="M534.6,2308.4 Q543.8,2306.9 551.8,2312.1" stroke="#d0101c" stroke-opacity="0.55" stroke-width="0.8" fill="none"/>
<path d="M536.9,2313.3 Q534.2,2321.6 538.8,2327.9" stroke="#d0101c" stroke-opacity="0.55" stroke-width="0.8" fill="none"/>
<path d="M535.0,2297.1 Q537.7,2291.2 539.2,2285.0" stroke="#d0101c" stroke-opacity="0.55" stroke-width="0.8" fill="none"/>
<path d="M530.0,2304.2 Q530.0,2297.9 525.9,2293.5" stroke="#d0101c" stroke-opacity="0.55" stroke-width="0.8" fill="none"/>
<path d="M523.7,2307.9 Q518.9,2313.9 512.0,2314.3" stroke="#d0101c" stroke-opacity="0.55" stroke-width="0.8" fill="none"/>
<path d="M532.3,2303.0 Q537.5,2294.0 537.4,2283.5" stroke="#d0101c" stroke-opacity="0.55" stroke-width="0.8" fill="none"/>
<path d="M535.1,2308.9 Q543.3,2311.9 550.1,2317.3" stroke="#d0101c" stroke-opacity="0.55" stroke-width="0.8" fill="none"/>
<path d="M535.2,2298.4 Q530.0,2290.8 533.0,2283.3" stroke="#d0101c" stroke-opacity="0.55" stroke-width="0.8" fill="none"/>
<path d="M542.3,2311.4 Q548.1,2307.9 552.4,2311.0" stroke="#d0101c" stroke-opacity="0.55" stroke-width="0.8" fill="none"/>
<path d="M531.6,2309.8 Q530.9,2318.4 528.6,2326.6" stroke="#d0101c" stroke-opacity="0.55" stroke-width="0.8" fill="none"/>
<path d="M531.1,2314.0 Q530.6,2320.6 529.3,2327.1" stroke="#d0101c" stroke-opacity="0.55" stroke-width="0.8" fill="none"/>
<path d="M525.7,2315.0 Q518.7,2313.7 516.0,2318.6" stroke="#d0101c" stroke-opacity="0.55" stroke-width="0.8" fill="none"/>
<path d="M532.0,2304.2 Q525.3,2296.4 522.6,2286.5" stroke="#d0101c" stroke-opacity="0.55" stroke-width="0.8" fill="none"/>
<path d="M524.1,2305.2 Q518.9,2297.8 510.7,2296.7" stroke="#d0101c" stroke-opacity="0.55" stroke-width="0.8" fill="none"/>
<path d="M529.3,2304.3 Q525.2,2299.1 519.9,2295.1" stroke="#d0101c" stroke-opacity="0.55" stroke-width="0.8" fill="none"/>
<path d="M524.8,2299.4 Q530.8,2290.3 524.3,2285.8" stroke="#d0101c" stroke-opacity="0.55" stroke-width="0.8" fill="none"/>
<path d="M529.2,2295.9 Q524.8,2291.9 523.6,2286.4" stroke="#d0101c" stroke-opacity="0.55" stroke-width="0.8" fill="none"/>
<path d="M525.8,2301.5 Q522.0,2296.0 516.8,2292.2" stroke="#d0101c" stroke-opacity="0.55" stroke-width="0.8" fill="none"/>
<path d="M535.6,2313.8 Q542.7,2313.8 544.3,2319.1" stroke="#d0101c" stroke-opacity="0.55" stroke-width="0.8" fill="none"/>
<path d="M534.1,2301.3 Q543.9,2297.7 547.1,2288.4" stroke="#d0101c" stroke-opacity="0.55" stroke-width="0.8" fill="none"/>
<path d="M531.6,2303.3 Q523.9,2301.6 521.3,2294.6" stroke="#d0101c" stroke-opacity="0.55" stroke-width="0.8" fill="none"/>
<path d="M455.6,2328.4 Q460.3,2329.9 464.7,2328.8" stroke="#d0101c" stroke-opacity="0.55" stroke-width="0.8" fill="none"/>
<path d="M450.8,2320.6 Q457.6,2318.2 459.1,2312.1" stroke="#d0101c" stroke-opacity="0.55" stroke-width="0.8" fill="none"/>
<path d="M449.4,2331.4 Q454.7,2335.1 459.9,2339.1" stroke="#d0101c" stroke-opacity="0.55" stroke-width="0.8" fill="none"/>
<path d="M449.7,2337.3 Q457.5,2340.5 459.4,2347.8" stroke="#d0101c" stroke-opacity="0.55" stroke-width="0.8" fill="none"/>
<path d="M437.4,2333.2 Q435.7,2335.8 433.0,2336.2" stroke="#d0101c" stroke-opacity="0.55" stroke-width="0.8" fill="none"/>
<path d="M447.7,2327.4 Q441.9,2320.6 442.3,2311.6" stroke="#d0101c" stroke-opacity="0.55" stroke-width="0.8" fill="none"/>
<path d="M445.0,2328.9 Q437.3,2333.5 428.6,2331.2" stroke="#d0101c" stroke-opacity="0.55" stroke-width="0.8" fill="none"/>
<path d="M439.2,2324.4 Q434.3,2326.7 431.5,2323.7" stroke="#d0101c" stroke-opacity="0.55" stroke-width="0.8" fill="none"/>
<path d="M441.2,2329.8 Q438.2,2336.3 432.2,2336.0" stroke="#d0101c" stroke-opacity="0.55" stroke-width="0.8" fill="none"/>
<path d="M439.5,2338.4 Q438.4,2341.3 436.1,2343.3" stroke="#d0101c" stroke-opacity="0.55" stroke-width="0.8" fill="none"/>
<path d="M451.9,2337.0 Q445.5,2344.8 450.3,2351.3" stroke="#d0101c" stroke-opacity="0.55" stroke-width="0.8" fill="none"/>
<path d="M448.8,2333.4 Q456.3,2334.6 459.5,2340.9" stroke="#d0101c" stroke-opacity="0.55" stroke-width="0.8" fill="none"/>
<path d="M444.4,2323.6 Q434.4,2321.6 430.5,2313.2" stroke="#d0101c" stroke-opacity="0.55" stroke-width="0.8" fill="none"/>
<path d="M445.6,2333.0 Q449.5,2340.6 446.3,2348.2" stroke="#d0101c" stroke-opacity="0.55" stroke-width="0.8" fill="none"/>
<path d="M442.8,2334.7 Q441.7,2338.9 438.7,2341.8" stroke="#d0101c" stroke-opacity="0.55" stroke-width="0.8" fill="none"/>
<path d="M447.8,2332.6 Q452.7,2338.4 454.4,2345.8" stroke="#d0101c" stroke-opacity="0.55" stroke-width="0.8" fill="none"/>
<path d="M453.0,2324.9 Q453.5,2315.6 460.1,2310.2" stroke="#d0101c" stroke-opacity="0.55" stroke-width="0.8" fill="none"/>
<path d="M454.2,2330.9 Q460.4,2327.4 467.1,2328.7" stroke="#d0101c" stroke-opacity="0.55" stroke-width="0.8" fill="none"/>
<path d="M448.4,2331.6 Q449.1,2341.1 453.7,2349.5" stroke="#d0101c" stroke-opacity="0.55" stroke-width="0.8" fill="none"/>
<path d="M455.8,2332.5 Q463.2,2330.1 470.0,2332.7" stroke="#d0101c" stroke-opacity="0.55" stroke-width="0.8" fill="none"/>
<path d="M458.5,2327.5 Q461.0,2319.9 467.3,2319.7" stroke="#d0101c" stroke-opacity="0.55" stroke-width="0.8" fill="none"/>
<path d="M452.6,2332.1 Q452.2,2339.2 457.6,2341.2" stroke="#d0101c" stroke-opacity="0.55" stroke-width="0.8" fill="none"/>
<path d="M441.3,2328.7 Q436.7,2336.4 429.2,2335.1" stroke="#d0101c" stroke-opacity="0.55" stroke-width="0.8" fill="none"/>
<path d="M450.6,2321.2 Q447.5,2317.6 449.5,2314.8" stroke="#d0101c" stroke-opacity="0.55" stroke-width="0.8" fill="none"/>
<path d="M454.4,2320.8 Q461.5,2320.0 464.7,2314.7" stroke="#d0101c" stroke-opacity="0.55" stroke-width="0.8" fill="none"/>
<path d="M437.2,2335.7 Q435.3,2338.7 432.2,2340.1" stroke="#d0101c" stroke-opacity="0.55" stroke-width="0.8" fill="none"/>
<path d="M456.2,2335.8 Q452.6,2343.4 457.6,2345.0" stroke="#d0101c" stroke-opacity="0.55" stroke-width="0.8" fill="none"/>
<path d="M449.9,2325.3 Q454.7,2319.8 458.3,2313.4" stroke="#d0101c" stroke-opacity="0.55" stroke-width="0.8" fill="none"/>
<path d="M451.0,2335.2 Q448.5,2341.7 452.2,2346.4" stroke="#d0101c" stroke-opacity="0.55" stroke-width="0.8" fill="none"/>
<path d="M445.7,2333.2 Q434.9,2334.9 429.1,2344.1" stroke="#d0101c" stroke-opacity="0.55" stroke-width="0.8" fill="none"/>
<path d="M449.4,2326.7 Q446.5,2319.5 450.2,2313.2" stroke="#d0101c" stroke-opacity="0.55" stroke-width="0.8" fill="none"/>
<path d="M442.7,2339.6 Q444.7,2345.8 441.7,2350.7" stroke="#d0101c" stroke-opacity="0.55" stroke-width="0.8" fill="none"/>
<path d="M454.3,2321.2 Q447.2,2316.7 451.1,2315.1" stroke="#d0101c" stroke-opacity="0.55" stroke-width="0.8" fill="none"/>
<path d="M456.5,2326.8 Q459.0,2317.9 466.6,2316.2" stroke="#d0101c" stroke-opacity="0.55" stroke-width="0.8" fill="none"/>
<path d="M450.4,2320.4 Q456.2,2318.1 457.0,2312.9" stroke="#d0101c" stroke-opacity="0.55" stroke-width="0.8" fill="none"/>
<path d="M451.3,2331.0 Q455.0,2339.0 463.0,2342.0" stroke="#d0101c" stroke-opacity="0.55" stroke-width="0.8" fill="none"/>
<path d="M449.3,2333.0 Q456.5,2338.4 461.5,2346.0" stroke="#d0101c" stroke-opacity="0.55" stroke-width="0.8" fill="none"/>
<path d="M451.9,2320.6 Q451.7,2317.1 453.5,2314.4" stroke="#d0101c" stroke-opacity="0.55" stroke-width="0.8" fill="none"/>
<path d="M450.4,2331.6 Q454.3,2337.2 460.1,2340.6" stroke="#d0101c" stroke-opacity="0.55" stroke-width="0.8" fill="none"/>
<path d="M456.6,2329.9 Q458.3,2336.1 462.4,2335.0" stroke="#d0101c" stroke-opacity="0.55" stroke-width="0.8" fill="none"/>
<path d="M486.4,2320.8 Q487.5,2311.3 480.6,2308.2" stroke="#d0101c" stroke-opacity="0.55" stroke-width="0.8" fill="none"/>
<path d="M488.4,2319.0 Q483.8,2318.3 481.4,2314.9" stroke="#d0101c" stroke-opacity="0.55" stroke-width="0.8" fill="none"/>
<path d="M485.5,2325.6 Q481.9,2324.2 478.2,2324.0" stroke="#d0101c" stroke-opacity="0.55" stroke-width="0.8" fill="none"/>
<path d="M493.7,2327.5 Q489.1,2336.0 480.5,2340.8" stroke="#d0101c" stroke-opacity="0.55" stroke-width="0.8" fill="none"/>
<path d="M495.5,2323.7 Q486.6,2318.4 484.5,2308.1" stroke="#d0101c" stroke-opacity="0.55" stroke-width="0.8" fill="none"/>
<path d="M498.2,2329.1 Q504.4,2335.3 510.7,2341.5" stroke="#d0101c" stroke-opacity="0.55" stroke-width="0.8" fill="none"/>
<path d="M498.9,2335.9 Q502.7,2337.5 503.2,2340.9" stroke="#d0101c" stroke-opacity="0.55" stroke-width="0.8" fill="none"/>
<path d="M491.7,2322.3 Q489.3,2315.4 484.3,2310.1" stroke="#d0101c" stroke-opacity="0.55" stroke-width="0.8" fill="none"/>
<path d="M498.0,2324.2 Q502.4,2317.9 507.7,2312.4" stroke="#d0101c" stroke-opacity="0.55" stroke-width="0.8" fill="none"/>
<path d="M500.8,2324.0 Q501.3,2318.2 505.8,2316.3" stroke="#d0101c" stroke-opacity="0.55" stroke-width="0.8" fill="none"/>
<path d="M502.1,2335.3 Q497.9,2343.1 502.8,2348.0" stroke="#d0101c" stroke-opacity="0.55" stroke-width="0.8" fill="none"/>
<path d="M492.9,2331.5 Q485.9,2332.4 482.8,2338.0" stroke="#d0101c" stroke-opacity="0.55" stroke-width="0.8" fill="none"/>
<path d="M486.5,2333.5 Q485.9,2335.8 484.1,2336.6" stroke="#d0101c" stroke-opacity="0.55" stroke-width="0.8" fill="none"/>
<path d="M497.9,2319.7 Q489.9,2315.3 492.4,2308.6" stroke="#d0101c" stroke-opacity="0.55" stroke-width="0.8" fill="none"/>
<path d="M486.9,2325.0 Q481.9,2327.0 477.1,2325.6" stroke="#d0101c" stroke-opacity="0.55" stroke-width="0.8" fill="none"/>
<path d="M484.1,2326.2 Q486.4,2316.8 482.2,2318.9" stroke="#d0101c" stroke-opacity="0.55" stroke-width="0.8" fill="none"/>
<path d="M499.2,2337.6 Q501.6,2340.0 502.2,2343.1" stroke="#d0101c" stroke-opacity="0.55" stroke-width="0.8" fill="none"/>
<path d="M503.5,2324.1 Q507.4,2328.1 511.1,2326.1" stroke="#d0101c" stroke-opacity="0.55" stroke-width="0.8" fill="none"/>
<path d="M497.0,2328.8 Q503.5,2332.8 507.7,2339.2" stroke="#d0101c" stroke-opacity="0.55" stroke-width="0.8" fill="none"/>
<path d="M501.2,2319.3 Q504.6,2312.6 509.2,2306.8" stroke="#d0101c" stroke-opacity="0.55" stroke-width="0.8" fill="none"/>
<path d="M502.8,2323.2 Q501.2,2316.6 505.6,2315.6" stroke="#d0101c" stroke-opacity="0.55" stroke-width="0.8" fill="none"/>
<path d="M502.1,2317.8 Q495.8,2313.9 499.1,2312.6" stroke="#d0101c" stroke-opacity="0.55" stroke-width="0.8" fill="none"/>
<path d="M497.2,2319.9 Q489.9,2316.3 491.7,2310.2" stroke="#d0101c" stroke-opacity="0.55" stroke-width="0.8" fill="none"/>
<path d="M489.7,2322.8 Q482.2,2325.2 476.4,2321.1" stroke="#d0101c" stroke-opacity="0.55" stroke-width="0.8" fill="none"/>
<path d="M504.9,2325.5 Q506.1,2320.6 509.5,2321.2" stroke="#d0101c" stroke-opacity="0.55" stroke-width="0.8" fill="none"/>
<path d="M496.2,2328.8 Q493.6,2337.3 495.0,2346.2" stroke="#d0101c" stroke-opacity="0.55" stroke-width="0.8" fill="none"/>
<path d="M490.8,2330.0 Q483.7,2325.4 477.8,2329.5" stroke="#d0101c" stroke-opacity="0.55" stroke-width="0.8" fill="none"/>
<path d="M492.2,2333.1 Q490.3,2339.7 487.0,2345.6" stroke="#d0101c" stroke-opacity="0.55" stroke-width="0.8" fill="none"/>
<path d="M500.2,2322.6 Q499.8,2313.6 506.0,2308.0" stroke="#d0101c" stroke-opacity="0.55" stroke-width="0.8" fill="none"/>
<path d="M492.5,2335.5 Q483.4,2337.5 481.4,2345.1" stroke="#d0101c" stroke-opacity="0.55" stroke-width="0.8" fill="none"/>
<path d="M503.7,2328.8 Q508.1,2322.4 513.5,2324.8" stroke="#d0101c" stroke-opacity="0.55" stroke-width="0.8" fill="none"/>
<path d="M487.8,2321.0 Q482.2,2321.6 478.6,2318.2" stroke="#d0101c" stroke-opacity="0.55" stroke-width="0.8" fill="none"/>
<path d="M492.1,2324.5 Q489.2,2318.2 483.4,2314.7" stroke="#d0101c" stroke-opacity="0.55" stroke-width="0.8" fill="none"/>
<path d="M497.6,2321.7 Q497.7,2313.3 500.7,2305.6" stroke="#d0101c" stroke-opacity="0.55" stroke-width="0.8" fill="none"/>
<path d="M495.5,2331.8 Q487.9,2335.6 487.4,2343.2" stroke="#d0101c" stroke-opacity="0.55" stroke-width="0.8" fill="none"/>
<path d="M489.5,2326.6 Q486.5,2331.3 481.8,2330.8" stroke="#d0101c" stroke-opacity="0.55" stroke-width="0.8" fill="none"/>
<path d="M503.8,2329.9 Q511.0,2331.3 517.8,2334.1" stroke="#d0101c" stroke-opacity="0.55" stroke-width="0.8" fill="none"/>
<path d="M498.8,2319.8 Q505.0,2317.2 507.2,2311.5" stroke="#d0101c" stroke-opacity="0.55" stroke-width="0.8" fill="none"/>
<path d="M492.1,2329.0 Q492.6,2338.6 485.5,2344.2" stroke="#d0101c" stroke-opacity="0.55" stroke-width="0.8" fill="none"/>
<path d="M485.3,2327.2 Q483.2,2325.2 480.9,2325.9" stroke="#d0101c" stroke-opacity="0.55" stroke-width="0.8" fill="none"/>
<path d="M560.8,2341.1 Q562.7,2350.6 560.4,2359.9" stroke="#d0101c" stroke-opacity="0.55" stroke-width="0.8" fill="none"/>
<path d="M557.3,2332.3 Q553.4,2326.6 548.6,2321.5" stroke="#d0101c" stroke-opacity="0.55" stroke-width="0.8" fill="none"/>
<path d="M563.2,2339.0 Q573.3,2342.4 580.5,2350.4" stroke="#d0101c" stroke-opacity="0.55" stroke-width="0.8" fill="none"/>
<path d="M556.9,2332.2 Q547.6,2332.6 541.7,2326.4" stroke="#d0101c" stroke-opacity="0.55" stroke-width="0.8" fill="none"/>
<path d="M564.3,2326.1 Q563.8,2320.1 565.4,2314.4" stroke="#d0101c" stroke-opacity="0.55" stroke-width="0.8" fill="none"/>
<path d="M554.5,2332.3 Q549.9,2339.4 546.5,2335.5" stroke="#d0101c" stroke-opacity="0.55" stroke-width="0.8" fill="none"/>
<path d="M570.9,2343.2 Q577.3,2340.3 581.2,2344.1" stroke="#d0101c" stroke-opacity="0.55" stroke-width="0.8" fill="none"/>
<path d="M560.0,2343.9 Q550.6,2345.6 548.4,2353.7" stroke="#d0101c" stroke-opacity="0.55" stroke-width="0.8" fill="none"/>
<path d="M564.1,2340.8 Q572.9,2345.8 578.6,2354.1" stroke="#d0101c" stroke-opacity="0.55" stroke-width="0.8" fill="none"/>
<path d="M567.8,2341.2 Q572.1,2344.7 576.8,2347.8" stroke="#d0101c" stroke-opacity="0.55" stroke-width="0.8" fill="none"/>
<path d="M560.1,2341.2 Q550.1,2342.6 545.4,2351.0" stroke="#d0101c" stroke-opacity="0.55" stroke-width="0.8" fill="none"/>
<path d="M558.2,2337.3 Q551.5,2330.8 542.4,2330.3" stroke="#d0101c" stroke-opacity="0.55" stroke-width="0.8" fill="none"/>
<path d="M568.8,2335.7 Q576.3,2337.8 583.5,2336.0" stroke="#d0101c" stroke-opacity="0.55" stroke-width="0.8" fill="none"/>
<path d="M569.3,2337.8 Q573.2,2336.8 577.1,2337.3" stroke="#d0101c" stroke-opacity="0.55" stroke-width="0.8" fill="none"/>
<path d="M557.7,2339.2 Q549.1,2336.3 541.1,2339.8" stroke="#d0101c" stroke-opacity="0.55" stroke-width="0.8" fill="none"/>
<path d="M558.1,2348.1 Q560.5,2352.4 558.5,2355.9" stroke="#d0101c" stroke-opacity="0.55" stroke-width="0.8" fill="none"/>
<path d="M558.2,2329.0 Q551.3,2328.0 549.6,2322.6" stroke="#d0101c" stroke-opacity="0.55" stroke-width="0.8" fill="none"/>
<path d="M560.8,2347.9 Q553.2,2350.4 553.8,2356.4" stroke="#d0101c" stroke-opacity="0.55" stroke-width="0.8" fill="none"/>
<path d="M563.9,2328.7 Q557.6,2325.3 559.8,2320.8" stroke="#d0101c" stroke-opacity="0.55" stroke-width="0.8" fill="none"/>
<path d="M550.5,2334.8 Q546.9,2333.3 543.1,2332.6" stroke="#d0101c" stroke-opacity="0.55" stroke-width="0.8" fill="none"/>
<path d="M562.2,2331.9 Q561.1,2325.9 561.5,2319.9" stroke="#d0101c" stroke-opacity="0.55" stroke-width="0.8" fill="none"/>
<path d="M564.1,2341.8 Q572.1,2344.3 575.6,2351.4" stroke="#d0101c" stroke-opacity="0.55" stroke-width="0.8" fill="none"/>
<path d="M558.7,2342.0 Q554.7,2347.8 550.8,2353.6" stroke="#d0101c" stroke-opacity="0.55" stroke-width="0.8" fill="none"/>
<path d="M555.5,2328.3 Q551.6,2327.3 550.1,2324.2" stroke="#d0101c" stroke-opacity="0.55" stroke-width="0.8" fill="none"/>
<path d="M568.0,2335.1 Q572.4,2336.2 576.2,2334.6" stroke="#d0101c" stroke-opacity="0.55" stroke-width="0.8" fill="none"/>
<path d="M559.5,2336.6 Q552.5,2343.0 543.0,2342.2" stroke="#d0101c" stroke-opacity="0.55" stroke-width="0.8" fill="none"/>
<path d="M567.5,2330.2 Q567.9,2323.9 571.9,2319.5" stroke="#d0101c" stroke-opacity="0.55" stroke-width="0.8" fill="none"/>
<path d="M566.9,2338.8 Q571.7,2344.7 578.7,2347.0" stroke="#d0101c" stroke-opacity="0.55" stroke-width="0.8" fill="none"/>
<path d="M556.1,2330.8 Q559.1,2325.9 555.9,2324.0" stroke="#d0101c" stroke-opacity="0.55" stroke-width="0.8" fill="none"/>
<path d="M559.1,2343.8 Q557.2,2348.7 555.2,2353.4" stroke="#d0101c" stroke-opacity="0.55" stroke-width="0.8" fill="none"/>
<path d="M558.3,2341.6 Q550.1,2342.0 545.3,2347.8" stroke="#d0101c" stroke-opacity="0.55" stroke-width="0.8" fill="none"/>
<path d="M559.4,2338.9 Q553.9,2344.6 547.4,2349.1" stroke="#d0101c" stroke-opacity="0.55" stroke-width="0.8" fill="none"/>
<path d="M564.4,2338.2 Q571.8,2335.7 579.1,2338.1" stroke="#d0101c" stroke-opacity="0.55" stroke-width="0.8" fill="none"/>
<path d="M560.8,2340.5 Q555.2,2345.5 552.6,2352.5" stroke="#d0101c" stroke-opacity="0.55" stroke-width="0.8" fill="none"/>
<path d="M561.8,2329.4 Q556.1,2324.9 556.6,2318.6" stroke="#d0101c" stroke-opacity="0.55" stroke-width="0.8" fill="none"/>
<path d="M567.3,2336.1 Q574.1,2341.1 581.9,2339.6" stroke="#d0101c" stroke-opacity="0.55" stroke-width="0.8" fill="none"/>
<path d="M560.9,2333.4 Q561.8,2326.9 560.2,2320.6" stroke="#d0101c" stroke-opacity="0.55" stroke-width="0.8" fill="none"/>
<path d="M561.1,2335.2 Q555.0,2327.6 550.8,2318.7" stroke="#d0101c" stroke-opacity="0.55" stroke-width="0.8" fill="none"/>
<path d="M563.9,2338.1 Q571.3,2335.2 578.9,2337.6" stroke="#d0101c" stroke-opacity="0.55" stroke-width="0.8" fill="none"/>
<path d="M566.6,2348.0 Q564.2,2350.2 565.7,2351.3" stroke="#d0101c" stroke-opacity="0.55" stroke-width="0.8" fill="none"/>
<ellipse cx="503" cy="2163.6" rx="20" ry="23" fill="#c8101c" fill-opacity="0.55" filter="url(#bl30)"/>
<ellipse cx="444.2" cy="2197.3" rx="16" ry="19" fill="#c8101c" fill-opacity="0.55" filter="url(#bl30)"/>
<ellipse cx="464.1" cy="2195.2" rx="17" ry="15" fill="#c8101c" fill-opacity="0.55" filter="url(#bl30)"/>
<ellipse cx="547.2" cy="2196.2" rx="16.5" ry="21" fill="#c8101c" fill-opacity="0.55" filter="url(#bl30)"/>
<ellipse cx="592.4" cy="2196.2" rx="20.5" ry="20" fill="#c8101c" fill-opacity="0.55" filter="url(#bl30)"/>
<ellipse cx="639.7" cy="2163.6" rx="18" ry="18" fill="#c8101c" fill-opacity="0.55" filter="url(#bl30)"/>
<ellipse cx="669.2" cy="2216.2" rx="20" ry="17.5" fill="#c8101c" fill-opacity="0.55" filter="url(#bl30)"/>
<ellipse cx="408.4" cy="2246.7" rx="14" ry="18" fill="#c8101c" fill-opacity="0.55" filter="url(#bl30)"/>
<ellipse cx="487.9" cy="2248.8" rx="19" ry="18" fill="#c8101c" fill-opacity="0.55" filter="url(#bl30)"/>
<ellipse cx="608.2" cy="2273" rx="20" ry="19" fill="#c8101c" fill-opacity="0.55" filter="url(#bl30)"/>
<ellipse cx="532.5" cy="2306.7" rx="16" ry="19.5" fill="#c8101c" fill-opacity="0.55" filter="url(#bl30)"/>
<ellipse cx="447.3" cy="2329.8" rx="17.5" ry="16.5" fill="#c8101c" fill-opacity="0.55" filter="url(#bl30)"/>
<ellipse cx="495.7" cy="2326.6" rx="15" ry="18" fill="#c8101c" fill-opacity="0.55" filter="url(#bl30)"/>
<ellipse cx="561.9" cy="2337.2" rx="19" ry="16" fill="#c8101c" fill-opacity="0.55" filter="url(#bl30)"/>
<ellipse cx="503" cy="2163.6" rx="13.5" ry="16.5" fill="#1010c0" fill-opacity="0.6" filter="url(#bl20)"/>
<ellipse cx="503" cy="2163.6" rx="12" ry="15" fill="#1c1cf0" filter="url(#bl10)"/>
<ellipse cx="444.2" cy="2197.3" rx="9.5" ry="12.5" fill="#1010c0" fill-opacity="0.6" filter="url(#bl20)"/>
<ellipse cx="444.2" cy="2197.3" rx="8" ry="11" fill="#1c1cf0" filter="url(#bl10)"/>
<ellipse cx="464.1" cy="2195.2" rx="10.5" ry="8.5" fill="#1010c0" fill-opacity="0.6" filter="url(#bl20)"/>
<ellipse cx="464.1" cy="2195.2" rx="9" ry="7" fill="#1c1cf0" filter="url(#bl10)"/>
<ellipse cx="547.2" cy="2196.2" rx="10.0" ry="14.5" fill="#1010c0" fill-opacity="0.6" filter="url(#bl20)"/>
<ellipse cx="547.2" cy="2196.2" rx="8.5" ry="13" fill="#1c1cf0" filter="url(#bl10)"/>
<ellipse cx="592.4" cy="2196.2" rx="14.0" ry="13.5" fill="#1010c0" fill-opacity="0.6" filter="url(#bl20)"/>
<ellipse cx="592.4" cy="2196.2" rx="12.5" ry="12" fill="#1c1cf0" filter="url(#bl10)"/>
<ellipse cx="639.7" cy="2163.6" rx="11.5" ry="11.5" fill="#1010c0" fill-opacity="0.6" filter="url(#bl20)"/>
<ellipse cx="639.7" cy="2163.6" rx="10" ry="10" fill="#1c1cf0" filter="url(#bl10)"/>
<ellipse cx="669.2" cy="2216.2" rx="13.5" ry="11.0" fill="#1010c0" fill-opacity="0.6" filter="url(#bl20)"/>
<ellipse cx="669.2" cy="2216.2" rx="12" ry="9.5" fill="#1c1cf0" filter="url(#bl10)"/>
<ellipse cx="408.4" cy="2246.7" rx="7.5" ry="11.5" fill="#1010c0" fill-opacity="0.6" filter="url(#bl20)"/>
<ellipse cx="408.4" cy="2246.7" rx="6" ry="10" fill="#1c1cf0" filter="url(#bl10)"/>
<ellipse cx="487.9" cy="2248.8" rx="12.5" ry="11.5" fill="#1010c0" fill-opacity="0.6" filter="url(#bl20)"/>
<ellipse cx="487.9" cy="2248.8" rx="11" ry="10" fill="#1c1cf0" filter="url(#bl10)"/>
<ellipse cx="608.2" cy="2273" rx="13.5" ry="12.5" fill="#1010c0" fill-opacity="0.6" filter="url(#bl20)"/>
<ellipse cx="608.2" cy="2273" rx="12" ry="11" fill="#1c1cf0" filter="url(#bl10)"/>
<ellipse cx="532.5" cy="2306.7" rx="9.5" ry="13.0" fill="#1010c0" fill-opacity="0.6" filter="url(#bl20)"/>
<ellipse cx="532.5" cy="2306.7" rx="8" ry="11.5" fill="#1c1cf0" filter="url(#bl10)"/>
<ellipse cx="447.3" cy="2329.8" rx="11.0" ry="10.0" fill="#1010c0" fill-opacity="0.6" filter="url(#bl20)"/>
<ellipse cx="447.3" cy="2329.8" rx="9.5" ry="8.5" fill="#1c1cf0" filter="url(#bl10)"/>
<ellipse cx="495.7" cy="2326.6" rx="8.5" ry="11.5" fill="#1010c0" fill-opacity="0.6" filter="url(#bl20)"/>
<ellipse cx="495.7" cy="2326.6" rx="7" ry="10" fill="#1c1cf0" filter="url(#bl10)"/>
<ellipse cx="561.9" cy="2337.2" rx="12.5" ry="9.5" fill="#1010c0" fill-opacity="0.6" filter="url(#bl20)"/>
<ellipse cx="561.9" cy="2337.2" rx="11" ry="8" fill="#1c1cf0" filter="url(#bl10)"/>
</g>
</svg></body></html>
